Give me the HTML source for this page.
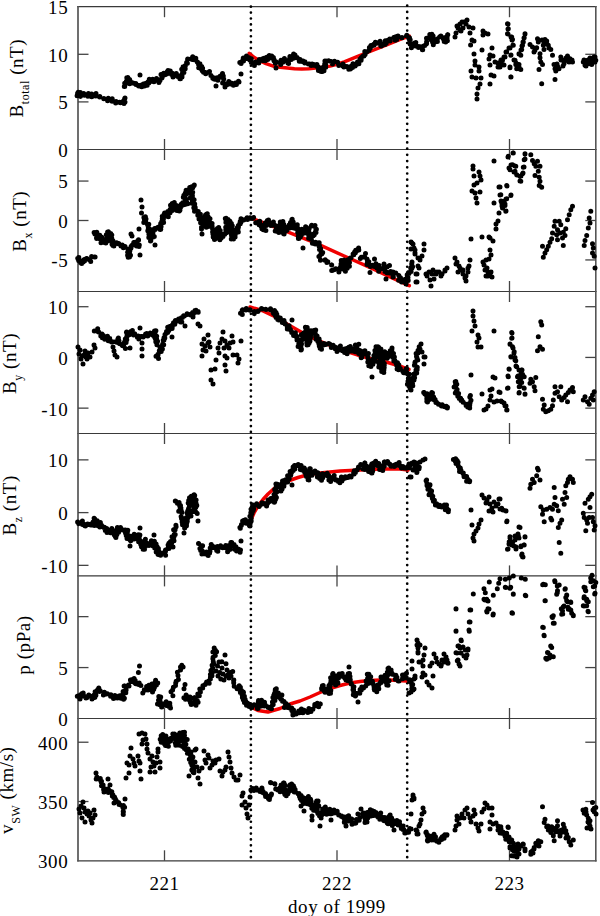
<!DOCTYPE html>
<html><head><meta charset="utf-8"><style>html,body{margin:0;padding:0;background:#fff;}svg{display:block;}</style></head>
<body><svg width="600" height="916" viewBox="0 0 600 916">
<rect width="600" height="916" fill="#fff"/>
<g fill="none" stroke-linecap="butt">
<line x1="77.2" x2="596.5999999999999" y1="6.7" y2="6.7" stroke="#3a3a3a" stroke-width="1.3"/>
<line x1="77.2" x2="596.5999999999999" y1="149.5" y2="149.5" stroke="#3a3a3a" stroke-width="1.1"/>
<line x1="77.2" x2="596.5999999999999" y1="291.5" y2="291.5" stroke="#3a3a3a" stroke-width="1.1"/>
<line x1="77.2" x2="596.5999999999999" y1="433.5" y2="433.5" stroke="#3a3a3a" stroke-width="1.1"/>
<line x1="77.2" x2="596.5999999999999" y1="575.9" y2="575.9" stroke="#3a3a3a" stroke-width="1.1"/>
<line x1="77.2" x2="596.5999999999999" y1="718.5" y2="718.5" stroke="#3a3a3a" stroke-width="1.1"/>
<line x1="77.2" x2="596.5999999999999" y1="860.8" y2="860.8" stroke="#3a3a3a" stroke-width="1.3"/>
<line x1="78.0" x2="78.0" y1="6.1000000000000005" y2="861.4" stroke="#555" stroke-width="1.7"/>
<line x1="595.8" x2="595.8" y1="6.1000000000000005" y2="861.4" stroke="#555" stroke-width="1.6"/>
<g stroke="#444" stroke-width="1.3">
<line x1="164.5" x2="164.5" y1="6.70" y2="17.20"/>
<line x1="164.5" x2="164.5" y1="149.50" y2="139.00"/>
<line x1="337.0" x2="337.0" y1="6.70" y2="17.20"/>
<line x1="337.0" x2="337.0" y1="149.50" y2="139.00"/>
<line x1="509.5" x2="509.5" y1="6.70" y2="17.20"/>
<line x1="509.5" x2="509.5" y1="149.50" y2="139.00"/>
<line x1="78.0" x2="88.5" y1="54.30" y2="54.30"/>
<line x1="595.8" x2="585.3" y1="54.30" y2="54.30"/>
<line x1="78.0" x2="88.5" y1="101.90" y2="101.90"/>
<line x1="595.8" x2="585.3" y1="101.90" y2="101.90"/>
<line x1="164.5" x2="164.5" y1="149.50" y2="160.00"/>
<line x1="164.5" x2="164.5" y1="291.50" y2="281.00"/>
<line x1="337.0" x2="337.0" y1="149.50" y2="160.00"/>
<line x1="337.0" x2="337.0" y1="291.50" y2="281.00"/>
<line x1="509.5" x2="509.5" y1="149.50" y2="160.00"/>
<line x1="509.5" x2="509.5" y1="291.50" y2="281.00"/>
<line x1="78.0" x2="88.5" y1="181.06" y2="181.06"/>
<line x1="595.8" x2="585.3" y1="181.06" y2="181.06"/>
<line x1="78.0" x2="88.5" y1="220.50" y2="220.50"/>
<line x1="595.8" x2="585.3" y1="220.50" y2="220.50"/>
<line x1="78.0" x2="88.5" y1="259.94" y2="259.94"/>
<line x1="595.8" x2="585.3" y1="259.94" y2="259.94"/>
<line x1="164.5" x2="164.5" y1="291.50" y2="302.00"/>
<line x1="164.5" x2="164.5" y1="433.50" y2="423.00"/>
<line x1="337.0" x2="337.0" y1="291.50" y2="302.00"/>
<line x1="337.0" x2="337.0" y1="433.50" y2="423.00"/>
<line x1="509.5" x2="509.5" y1="291.50" y2="302.00"/>
<line x1="509.5" x2="509.5" y1="433.50" y2="423.00"/>
<line x1="78.0" x2="88.5" y1="306.71" y2="306.71"/>
<line x1="595.8" x2="585.3" y1="306.71" y2="306.71"/>
<line x1="78.0" x2="88.5" y1="357.43" y2="357.43"/>
<line x1="595.8" x2="585.3" y1="357.43" y2="357.43"/>
<line x1="78.0" x2="88.5" y1="408.14" y2="408.14"/>
<line x1="595.8" x2="585.3" y1="408.14" y2="408.14"/>
<line x1="164.5" x2="164.5" y1="433.50" y2="444.00"/>
<line x1="164.5" x2="164.5" y1="575.90" y2="565.40"/>
<line x1="337.0" x2="337.0" y1="433.50" y2="444.00"/>
<line x1="337.0" x2="337.0" y1="575.90" y2="565.40"/>
<line x1="509.5" x2="509.5" y1="433.50" y2="444.00"/>
<line x1="509.5" x2="509.5" y1="575.90" y2="565.40"/>
<line x1="78.0" x2="88.5" y1="459.87" y2="459.87"/>
<line x1="595.8" x2="585.3" y1="459.87" y2="459.87"/>
<line x1="78.0" x2="88.5" y1="512.61" y2="512.61"/>
<line x1="595.8" x2="585.3" y1="512.61" y2="512.61"/>
<line x1="78.0" x2="88.5" y1="565.35" y2="565.35"/>
<line x1="595.8" x2="585.3" y1="565.35" y2="565.35"/>
<line x1="164.5" x2="164.5" y1="575.90" y2="586.40"/>
<line x1="164.5" x2="164.5" y1="718.50" y2="708.00"/>
<line x1="337.0" x2="337.0" y1="575.90" y2="586.40"/>
<line x1="337.0" x2="337.0" y1="718.50" y2="708.00"/>
<line x1="509.5" x2="509.5" y1="575.90" y2="586.40"/>
<line x1="509.5" x2="509.5" y1="718.50" y2="708.00"/>
<line x1="78.0" x2="88.5" y1="616.64" y2="616.64"/>
<line x1="595.8" x2="585.3" y1="616.64" y2="616.64"/>
<line x1="78.0" x2="88.5" y1="667.57" y2="667.57"/>
<line x1="595.8" x2="585.3" y1="667.57" y2="667.57"/>
<line x1="164.5" x2="164.5" y1="718.50" y2="729.00"/>
<line x1="164.5" x2="164.5" y1="860.80" y2="850.30"/>
<line x1="337.0" x2="337.0" y1="718.50" y2="729.00"/>
<line x1="337.0" x2="337.0" y1="860.80" y2="850.30"/>
<line x1="509.5" x2="509.5" y1="718.50" y2="729.00"/>
<line x1="509.5" x2="509.5" y1="860.80" y2="850.30"/>
<line x1="78.0" x2="88.5" y1="742.22" y2="742.22"/>
<line x1="595.8" x2="585.3" y1="742.22" y2="742.22"/>
<line x1="78.0" x2="88.5" y1="801.51" y2="801.51"/>
<line x1="595.8" x2="585.3" y1="801.51" y2="801.51"/>
</g></g>
<line x1="250.9" x2="250.9" y1="6.7" y2="861" stroke="#000" stroke-width="2.7" stroke-linecap="round" stroke-dasharray="0 5.906"/>
<line x1="407.2" x2="407.2" y1="5.7" y2="861" stroke="#000" stroke-width="2.7" stroke-linecap="round" stroke-dasharray="0 6.215"/>
<g fill="none" stroke="#f00000" stroke-width="3.5" stroke-linecap="round" stroke-linejoin="round"><path d="M249.2,53.3 L254,57.3 L259.2,60.4 L266,63.6 L273.3,66.1 L280,67.3 L287.5,68.1 L294.5,68.7 L301.7,68.9 L308.7,68.7 L315.8,68.1 L323,67.3 L330,66.1 L337,64.2 L344.2,61.8 L351,59.1 L358.3,56.2 L372.5,50.5 L386.6,44.8 L400.8,39.2 L409.3,36"/><path d="M251,218 L265,223.4 L287.5,231.9 L315.8,243.2 L344.2,256 L372.5,268.7 L390,277 L409.3,285.7"/><path d="M250,307 L262,310.5 L273,315.6 L287,324 L302,332.6 L316,339.5 L330,345.3 L344,350.5 L358,355.2 L372,359 L387,362.3 L398,365.5 L409,369.4"/><path d="M250,522 L254,513 L258,506 L263,499.5 L268,494 L273,489.5 L278,486 L283,483.2 L288,481 L298,477.5 L306,475.3 L310,474.4 L320,473 L340,471 L360,470 L380,469 L400,469 L408,470"/><path d="M251,707 L258,710.5 L268,712 L280,708.5 L290,704 L300,701 L310,697 L320,692.5 L330,688.5 L340,685.5 L350,683 L360,681.6 L370,680.4 L380,680 L390,680 L406,681"/></g><path fill="#000" d="M75.0,94.5a2.5,2.5 0 1,0 5.0,0a2.5,2.5 0 1,0 -5.0,0M75.1,93.3a2.5,2.5 0 1,0 5.0,0a2.5,2.5 0 1,0 -5.0,0M77.7,92.4a2.5,2.5 0 1,0 5.0,0a2.5,2.5 0 1,0 -5.0,0M77.1,93.8a2.5,2.5 0 1,0 5.0,0a2.5,2.5 0 1,0 -5.0,0M81.9,94.3a2.5,2.5 0 1,0 5.0,0a2.5,2.5 0 1,0 -5.0,0M81.8,94.4a2.5,2.5 0 1,0 5.0,0a2.5,2.5 0 1,0 -5.0,0M85.4,96.3a2.5,2.5 0 1,0 5.0,0a2.5,2.5 0 1,0 -5.0,0M85.9,93.6a2.5,2.5 0 1,0 5.0,0a2.5,2.5 0 1,0 -5.0,0M89.1,94.0a2.5,2.5 0 1,0 5.0,0a2.5,2.5 0 1,0 -5.0,0M89.2,96.8a2.5,2.5 0 1,0 5.0,0a2.5,2.5 0 1,0 -5.0,0M93.2,96.1a2.5,2.5 0 1,0 5.0,0a2.5,2.5 0 1,0 -5.0,0M93.5,93.6a2.5,2.5 0 1,0 5.0,0a2.5,2.5 0 1,0 -5.0,0M97.2,97.0a2.5,2.5 0 1,0 5.0,0a2.5,2.5 0 1,0 -5.0,0M97.3,96.6a2.5,2.5 0 1,0 5.0,0a2.5,2.5 0 1,0 -5.0,0M101.3,98.8a2.5,2.5 0 1,0 5.0,0a2.5,2.5 0 1,0 -5.0,0M101.4,98.6a2.5,2.5 0 1,0 5.0,0a2.5,2.5 0 1,0 -5.0,0M105.1,100.8a2.5,2.5 0 1,0 5.0,0a2.5,2.5 0 1,0 -5.0,0M105.8,98.3a2.5,2.5 0 1,0 5.0,0a2.5,2.5 0 1,0 -5.0,0M109.7,98.7a2.5,2.5 0 1,0 5.0,0a2.5,2.5 0 1,0 -5.0,0M109.6,101.2a2.5,2.5 0 1,0 5.0,0a2.5,2.5 0 1,0 -5.0,0M113.2,102.9a2.5,2.5 0 1,0 5.0,0a2.5,2.5 0 1,0 -5.0,0M113.6,101.6a2.5,2.5 0 1,0 5.0,0a2.5,2.5 0 1,0 -5.0,0M117.9,102.8a2.5,2.5 0 1,0 5.0,0a2.5,2.5 0 1,0 -5.0,0M117.1,102.3a2.5,2.5 0 1,0 5.0,0a2.5,2.5 0 1,0 -5.0,0M122.5,102.1a2.5,2.5 0 1,0 5.0,0a2.5,2.5 0 1,0 -5.0,0M120.7,101.2a2.5,2.5 0 1,0 5.0,0a2.5,2.5 0 1,0 -5.0,0M122.5,97.9a2.5,2.5 0 1,0 5.0,0a2.5,2.5 0 1,0 -5.0,0M122.1,98.8a2.5,2.5 0 1,0 5.0,0a2.5,2.5 0 1,0 -5.0,0M75.7,92.2a2.5,2.5 0 1,0 5.0,0a2.5,2.5 0 1,0 -5.0,0M74.6,95.7a2.5,2.5 0 1,0 5.0,0a2.5,2.5 0 1,0 -5.0,0M78.8,95.3a2.5,2.5 0 1,0 5.0,0a2.5,2.5 0 1,0 -5.0,0M77.9,96.4a2.5,2.5 0 1,0 5.0,0a2.5,2.5 0 1,0 -5.0,0M81.9,95.3a2.5,2.5 0 1,0 5.0,0a2.5,2.5 0 1,0 -5.0,0M81.2,93.6a2.5,2.5 0 1,0 5.0,0a2.5,2.5 0 1,0 -5.0,0M121.5,103.4a2.5,2.5 0 1,0 5.0,0a2.5,2.5 0 1,0 -5.0,0M119.5,102.5a2.5,2.5 0 1,0 5.0,0a2.5,2.5 0 1,0 -5.0,0M122.2,86.6a2.5,2.5 0 1,0 5.0,0a2.5,2.5 0 1,0 -5.0,0M121.8,86.5a2.5,2.5 0 1,0 5.0,0a2.5,2.5 0 1,0 -5.0,0M122.2,83.3a2.5,2.5 0 1,0 5.0,0a2.5,2.5 0 1,0 -5.0,0M123.1,83.4a2.5,2.5 0 1,0 5.0,0a2.5,2.5 0 1,0 -5.0,0M123.9,81.2a2.5,2.5 0 1,0 5.0,0a2.5,2.5 0 1,0 -5.0,0M125.0,81.2a2.5,2.5 0 1,0 5.0,0a2.5,2.5 0 1,0 -5.0,0M125.3,77.4a2.5,2.5 0 1,0 5.0,0a2.5,2.5 0 1,0 -5.0,0M124.3,77.8a2.5,2.5 0 1,0 5.0,0a2.5,2.5 0 1,0 -5.0,0M126.8,79.9a2.5,2.5 0 1,0 5.0,0a2.5,2.5 0 1,0 -5.0,0M127.1,79.5a2.5,2.5 0 1,0 5.0,0a2.5,2.5 0 1,0 -5.0,0M127.8,81.3a2.5,2.5 0 1,0 5.0,0a2.5,2.5 0 1,0 -5.0,0M127.2,83.8a2.5,2.5 0 1,0 5.0,0a2.5,2.5 0 1,0 -5.0,0M130.6,83.1a2.5,2.5 0 1,0 5.0,0a2.5,2.5 0 1,0 -5.0,0M131.2,83.3a2.5,2.5 0 1,0 5.0,0a2.5,2.5 0 1,0 -5.0,0M133.5,84.5a2.5,2.5 0 1,0 5.0,0a2.5,2.5 0 1,0 -5.0,0M133.3,83.5a2.5,2.5 0 1,0 5.0,0a2.5,2.5 0 1,0 -5.0,0M135.8,85.6a2.5,2.5 0 1,0 5.0,0a2.5,2.5 0 1,0 -5.0,0M136.2,86.1a2.5,2.5 0 1,0 5.0,0a2.5,2.5 0 1,0 -5.0,0M138.4,85.2a2.5,2.5 0 1,0 5.0,0a2.5,2.5 0 1,0 -5.0,0M139.2,86.8a2.5,2.5 0 1,0 5.0,0a2.5,2.5 0 1,0 -5.0,0M140.9,84.0a2.5,2.5 0 1,0 5.0,0a2.5,2.5 0 1,0 -5.0,0M142.0,86.0a2.5,2.5 0 1,0 5.0,0a2.5,2.5 0 1,0 -5.0,0M142.9,83.5a2.5,2.5 0 1,0 5.0,0a2.5,2.5 0 1,0 -5.0,0M144.7,85.3a2.5,2.5 0 1,0 5.0,0a2.5,2.5 0 1,0 -5.0,0M146.3,82.9a2.5,2.5 0 1,0 5.0,0a2.5,2.5 0 1,0 -5.0,0M145.4,81.9a2.5,2.5 0 1,0 5.0,0a2.5,2.5 0 1,0 -5.0,0M146.8,79.3a2.5,2.5 0 1,0 5.0,0a2.5,2.5 0 1,0 -5.0,0M148.2,81.5a2.5,2.5 0 1,0 5.0,0a2.5,2.5 0 1,0 -5.0,0M151.4,81.8a2.5,2.5 0 1,0 5.0,0a2.5,2.5 0 1,0 -5.0,0M150.1,79.3a2.5,2.5 0 1,0 5.0,0a2.5,2.5 0 1,0 -5.0,0M154.0,78.6a2.5,2.5 0 1,0 5.0,0a2.5,2.5 0 1,0 -5.0,0M152.7,79.7a2.5,2.5 0 1,0 5.0,0a2.5,2.5 0 1,0 -5.0,0M156.2,81.8a2.5,2.5 0 1,0 5.0,0a2.5,2.5 0 1,0 -5.0,0M156.4,82.5a2.5,2.5 0 1,0 5.0,0a2.5,2.5 0 1,0 -5.0,0M157.5,79.8a2.5,2.5 0 1,0 5.0,0a2.5,2.5 0 1,0 -5.0,0M157.5,80.4a2.5,2.5 0 1,0 5.0,0a2.5,2.5 0 1,0 -5.0,0M159.4,78.0a2.5,2.5 0 1,0 5.0,0a2.5,2.5 0 1,0 -5.0,0M159.7,77.7a2.5,2.5 0 1,0 5.0,0a2.5,2.5 0 1,0 -5.0,0M158.5,74.4a2.5,2.5 0 1,0 5.0,0a2.5,2.5 0 1,0 -5.0,0M159.7,76.2a2.5,2.5 0 1,0 5.0,0a2.5,2.5 0 1,0 -5.0,0M162.5,74.8a2.5,2.5 0 1,0 5.0,0a2.5,2.5 0 1,0 -5.0,0M161.2,73.3a2.5,2.5 0 1,0 5.0,0a2.5,2.5 0 1,0 -5.0,0M164.5,73.7a2.5,2.5 0 1,0 5.0,0a2.5,2.5 0 1,0 -5.0,0M164.2,73.9a2.5,2.5 0 1,0 5.0,0a2.5,2.5 0 1,0 -5.0,0M164.7,71.7a2.5,2.5 0 1,0 5.0,0a2.5,2.5 0 1,0 -5.0,0M165.5,70.5a2.5,2.5 0 1,0 5.0,0a2.5,2.5 0 1,0 -5.0,0M167.8,70.9a2.5,2.5 0 1,0 5.0,0a2.5,2.5 0 1,0 -5.0,0M166.7,73.2a2.5,2.5 0 1,0 5.0,0a2.5,2.5 0 1,0 -5.0,0M169.8,73.2a2.5,2.5 0 1,0 5.0,0a2.5,2.5 0 1,0 -5.0,0M169.2,74.4a2.5,2.5 0 1,0 5.0,0a2.5,2.5 0 1,0 -5.0,0M173.0,74.0a2.5,2.5 0 1,0 5.0,0a2.5,2.5 0 1,0 -5.0,0M173.8,73.6a2.5,2.5 0 1,0 5.0,0a2.5,2.5 0 1,0 -5.0,0M176.3,76.0a2.5,2.5 0 1,0 5.0,0a2.5,2.5 0 1,0 -5.0,0M175.2,76.6a2.5,2.5 0 1,0 5.0,0a2.5,2.5 0 1,0 -5.0,0M178.0,78.7a2.5,2.5 0 1,0 5.0,0a2.5,2.5 0 1,0 -5.0,0M177.4,78.8a2.5,2.5 0 1,0 5.0,0a2.5,2.5 0 1,0 -5.0,0M179.1,77.1a2.5,2.5 0 1,0 5.0,0a2.5,2.5 0 1,0 -5.0,0M179.5,77.0a2.5,2.5 0 1,0 5.0,0a2.5,2.5 0 1,0 -5.0,0M179.4,74.6a2.5,2.5 0 1,0 5.0,0a2.5,2.5 0 1,0 -5.0,0M179.6,74.7a2.5,2.5 0 1,0 5.0,0a2.5,2.5 0 1,0 -5.0,0M180.1,72.4a2.5,2.5 0 1,0 5.0,0a2.5,2.5 0 1,0 -5.0,0M181.4,72.4a2.5,2.5 0 1,0 5.0,0a2.5,2.5 0 1,0 -5.0,0M181.1,70.5a2.5,2.5 0 1,0 5.0,0a2.5,2.5 0 1,0 -5.0,0M179.2,69.2a2.5,2.5 0 1,0 5.0,0a2.5,2.5 0 1,0 -5.0,0M180.6,66.7a2.5,2.5 0 1,0 5.0,0a2.5,2.5 0 1,0 -5.0,0M182.7,68.7a2.5,2.5 0 1,0 5.0,0a2.5,2.5 0 1,0 -5.0,0M182.6,65.8a2.5,2.5 0 1,0 5.0,0a2.5,2.5 0 1,0 -5.0,0M182.8,66.1a2.5,2.5 0 1,0 5.0,0a2.5,2.5 0 1,0 -5.0,0M184.1,62.6a2.5,2.5 0 1,0 5.0,0a2.5,2.5 0 1,0 -5.0,0M184.9,63.3a2.5,2.5 0 1,0 5.0,0a2.5,2.5 0 1,0 -5.0,0M185.2,58.9a2.5,2.5 0 1,0 5.0,0a2.5,2.5 0 1,0 -5.0,0M185.1,59.3a2.5,2.5 0 1,0 5.0,0a2.5,2.5 0 1,0 -5.0,0M189.7,59.4a2.5,2.5 0 1,0 5.0,0a2.5,2.5 0 1,0 -5.0,0M188.8,58.7a2.5,2.5 0 1,0 5.0,0a2.5,2.5 0 1,0 -5.0,0M190.2,56.8a2.5,2.5 0 1,0 5.0,0a2.5,2.5 0 1,0 -5.0,0M189.5,58.5a2.5,2.5 0 1,0 5.0,0a2.5,2.5 0 1,0 -5.0,0M193.3,58.2a2.5,2.5 0 1,0 5.0,0a2.5,2.5 0 1,0 -5.0,0M191.6,59.7a2.5,2.5 0 1,0 5.0,0a2.5,2.5 0 1,0 -5.0,0M195.1,62.2a2.5,2.5 0 1,0 5.0,0a2.5,2.5 0 1,0 -5.0,0M194.8,62.0a2.5,2.5 0 1,0 5.0,0a2.5,2.5 0 1,0 -5.0,0M196.0,64.2a2.5,2.5 0 1,0 5.0,0a2.5,2.5 0 1,0 -5.0,0M197.4,63.7a2.5,2.5 0 1,0 5.0,0a2.5,2.5 0 1,0 -5.0,0M199.2,66.5a2.5,2.5 0 1,0 5.0,0a2.5,2.5 0 1,0 -5.0,0M196.2,67.8a2.5,2.5 0 1,0 5.0,0a2.5,2.5 0 1,0 -5.0,0M200.1,68.3a2.5,2.5 0 1,0 5.0,0a2.5,2.5 0 1,0 -5.0,0M199.0,69.2a2.5,2.5 0 1,0 5.0,0a2.5,2.5 0 1,0 -5.0,0M199.8,70.7a2.5,2.5 0 1,0 5.0,0a2.5,2.5 0 1,0 -5.0,0M199.9,70.3a2.5,2.5 0 1,0 5.0,0a2.5,2.5 0 1,0 -5.0,0M200.7,71.4a2.5,2.5 0 1,0 5.0,0a2.5,2.5 0 1,0 -5.0,0M201.0,72.2a2.5,2.5 0 1,0 5.0,0a2.5,2.5 0 1,0 -5.0,0M203.2,73.8a2.5,2.5 0 1,0 5.0,0a2.5,2.5 0 1,0 -5.0,0M202.4,72.2a2.5,2.5 0 1,0 5.0,0a2.5,2.5 0 1,0 -5.0,0M206.0,72.2a2.5,2.5 0 1,0 5.0,0a2.5,2.5 0 1,0 -5.0,0M207.0,71.5a2.5,2.5 0 1,0 5.0,0a2.5,2.5 0 1,0 -5.0,0M208.5,75.5a2.5,2.5 0 1,0 5.0,0a2.5,2.5 0 1,0 -5.0,0M208.4,75.6a2.5,2.5 0 1,0 5.0,0a2.5,2.5 0 1,0 -5.0,0M211.0,77.7a2.5,2.5 0 1,0 5.0,0a2.5,2.5 0 1,0 -5.0,0M210.3,78.2a2.5,2.5 0 1,0 5.0,0a2.5,2.5 0 1,0 -5.0,0M212.2,79.3a2.5,2.5 0 1,0 5.0,0a2.5,2.5 0 1,0 -5.0,0M211.5,79.1a2.5,2.5 0 1,0 5.0,0a2.5,2.5 0 1,0 -5.0,0M213.8,77.9a2.5,2.5 0 1,0 5.0,0a2.5,2.5 0 1,0 -5.0,0M215.4,80.2a2.5,2.5 0 1,0 5.0,0a2.5,2.5 0 1,0 -5.0,0M215.7,77.4a2.5,2.5 0 1,0 5.0,0a2.5,2.5 0 1,0 -5.0,0M216.1,77.9a2.5,2.5 0 1,0 5.0,0a2.5,2.5 0 1,0 -5.0,0M217.8,76.0a2.5,2.5 0 1,0 5.0,0a2.5,2.5 0 1,0 -5.0,0M217.9,76.6a2.5,2.5 0 1,0 5.0,0a2.5,2.5 0 1,0 -5.0,0M220.0,73.4a2.5,2.5 0 1,0 5.0,0a2.5,2.5 0 1,0 -5.0,0M219.9,74.0a2.5,2.5 0 1,0 5.0,0a2.5,2.5 0 1,0 -5.0,0M220.8,76.0a2.5,2.5 0 1,0 5.0,0a2.5,2.5 0 1,0 -5.0,0M220.2,76.5a2.5,2.5 0 1,0 5.0,0a2.5,2.5 0 1,0 -5.0,0M221.2,78.9a2.5,2.5 0 1,0 5.0,0a2.5,2.5 0 1,0 -5.0,0M221.1,79.3a2.5,2.5 0 1,0 5.0,0a2.5,2.5 0 1,0 -5.0,0M220.5,83.0a2.5,2.5 0 1,0 5.0,0a2.5,2.5 0 1,0 -5.0,0M220.1,83.0a2.5,2.5 0 1,0 5.0,0a2.5,2.5 0 1,0 -5.0,0M225.0,84.6a2.5,2.5 0 1,0 5.0,0a2.5,2.5 0 1,0 -5.0,0M224.3,83.7a2.5,2.5 0 1,0 5.0,0a2.5,2.5 0 1,0 -5.0,0M226.6,82.0a2.5,2.5 0 1,0 5.0,0a2.5,2.5 0 1,0 -5.0,0M226.3,81.6a2.5,2.5 0 1,0 5.0,0a2.5,2.5 0 1,0 -5.0,0M229.3,83.3a2.5,2.5 0 1,0 5.0,0a2.5,2.5 0 1,0 -5.0,0M228.2,84.0a2.5,2.5 0 1,0 5.0,0a2.5,2.5 0 1,0 -5.0,0M230.9,85.3a2.5,2.5 0 1,0 5.0,0a2.5,2.5 0 1,0 -5.0,0M229.6,83.4a2.5,2.5 0 1,0 5.0,0a2.5,2.5 0 1,0 -5.0,0M232.9,83.1a2.5,2.5 0 1,0 5.0,0a2.5,2.5 0 1,0 -5.0,0M233.9,84.5a2.5,2.5 0 1,0 5.0,0a2.5,2.5 0 1,0 -5.0,0M236.0,81.3a2.5,2.5 0 1,0 5.0,0a2.5,2.5 0 1,0 -5.0,0M236.5,81.9a2.5,2.5 0 1,0 5.0,0a2.5,2.5 0 1,0 -5.0,0M137.5,75.0a2.5,2.5 0 1,0 5.0,0a2.5,2.5 0 1,0 -5.0,0M170.5,77.0a2.5,2.5 0 1,0 5.0,0a2.5,2.5 0 1,0 -5.0,0M213.5,86.0a2.5,2.5 0 1,0 5.0,0a2.5,2.5 0 1,0 -5.0,0M222.5,87.0a2.5,2.5 0 1,0 5.0,0a2.5,2.5 0 1,0 -5.0,0M238.5,74.0a2.5,2.5 0 1,0 5.0,0a2.5,2.5 0 1,0 -5.0,0M273.5,68.0a2.5,2.5 0 1,0 5.0,0a2.5,2.5 0 1,0 -5.0,0M238.6,63.4a2.5,2.5 0 1,0 5.0,0a2.5,2.5 0 1,0 -5.0,0M237.3,62.5a2.5,2.5 0 1,0 5.0,0a2.5,2.5 0 1,0 -5.0,0M239.9,61.0a2.5,2.5 0 1,0 5.0,0a2.5,2.5 0 1,0 -5.0,0M241.0,61.0a2.5,2.5 0 1,0 5.0,0a2.5,2.5 0 1,0 -5.0,0M240.7,58.2a2.5,2.5 0 1,0 5.0,0a2.5,2.5 0 1,0 -5.0,0M240.8,57.9a2.5,2.5 0 1,0 5.0,0a2.5,2.5 0 1,0 -5.0,0M244.0,56.3a2.5,2.5 0 1,0 5.0,0a2.5,2.5 0 1,0 -5.0,0M244.0,56.0a2.5,2.5 0 1,0 5.0,0a2.5,2.5 0 1,0 -5.0,0M246.1,57.5a2.5,2.5 0 1,0 5.0,0a2.5,2.5 0 1,0 -5.0,0M245.3,58.8a2.5,2.5 0 1,0 5.0,0a2.5,2.5 0 1,0 -5.0,0M247.4,60.0a2.5,2.5 0 1,0 5.0,0a2.5,2.5 0 1,0 -5.0,0M248.8,58.8a2.5,2.5 0 1,0 5.0,0a2.5,2.5 0 1,0 -5.0,0M248.8,62.6a2.5,2.5 0 1,0 5.0,0a2.5,2.5 0 1,0 -5.0,0M249.9,62.4a2.5,2.5 0 1,0 5.0,0a2.5,2.5 0 1,0 -5.0,0M251.2,63.6a2.5,2.5 0 1,0 5.0,0a2.5,2.5 0 1,0 -5.0,0M251.9,65.4a2.5,2.5 0 1,0 5.0,0a2.5,2.5 0 1,0 -5.0,0M253.0,62.4a2.5,2.5 0 1,0 5.0,0a2.5,2.5 0 1,0 -5.0,0M253.3,61.9a2.5,2.5 0 1,0 5.0,0a2.5,2.5 0 1,0 -5.0,0M256.3,62.9a2.5,2.5 0 1,0 5.0,0a2.5,2.5 0 1,0 -5.0,0M256.1,62.7a2.5,2.5 0 1,0 5.0,0a2.5,2.5 0 1,0 -5.0,0M256.8,59.5a2.5,2.5 0 1,0 5.0,0a2.5,2.5 0 1,0 -5.0,0M256.8,60.3a2.5,2.5 0 1,0 5.0,0a2.5,2.5 0 1,0 -5.0,0M259.6,58.9a2.5,2.5 0 1,0 5.0,0a2.5,2.5 0 1,0 -5.0,0M260.1,60.4a2.5,2.5 0 1,0 5.0,0a2.5,2.5 0 1,0 -5.0,0M262.7,60.7a2.5,2.5 0 1,0 5.0,0a2.5,2.5 0 1,0 -5.0,0M261.6,58.2a2.5,2.5 0 1,0 5.0,0a2.5,2.5 0 1,0 -5.0,0M265.2,59.4a2.5,2.5 0 1,0 5.0,0a2.5,2.5 0 1,0 -5.0,0M264.2,57.3a2.5,2.5 0 1,0 5.0,0a2.5,2.5 0 1,0 -5.0,0M266.8,55.6a2.5,2.5 0 1,0 5.0,0a2.5,2.5 0 1,0 -5.0,0M267.3,58.1a2.5,2.5 0 1,0 5.0,0a2.5,2.5 0 1,0 -5.0,0M269.2,55.9a2.5,2.5 0 1,0 5.0,0a2.5,2.5 0 1,0 -5.0,0M268.6,57.1a2.5,2.5 0 1,0 5.0,0a2.5,2.5 0 1,0 -5.0,0M270.9,58.7a2.5,2.5 0 1,0 5.0,0a2.5,2.5 0 1,0 -5.0,0M270.9,57.6a2.5,2.5 0 1,0 5.0,0a2.5,2.5 0 1,0 -5.0,0M271.5,60.7a2.5,2.5 0 1,0 5.0,0a2.5,2.5 0 1,0 -5.0,0M271.6,59.8a2.5,2.5 0 1,0 5.0,0a2.5,2.5 0 1,0 -5.0,0M272.8,63.3a2.5,2.5 0 1,0 5.0,0a2.5,2.5 0 1,0 -5.0,0M273.4,61.7a2.5,2.5 0 1,0 5.0,0a2.5,2.5 0 1,0 -5.0,0M278.2,64.4a2.5,2.5 0 1,0 5.0,0a2.5,2.5 0 1,0 -5.0,0M277.2,62.4a2.5,2.5 0 1,0 5.0,0a2.5,2.5 0 1,0 -5.0,0M278.5,60.3a2.5,2.5 0 1,0 5.0,0a2.5,2.5 0 1,0 -5.0,0M280.3,62.3a2.5,2.5 0 1,0 5.0,0a2.5,2.5 0 1,0 -5.0,0M281.2,61.0a2.5,2.5 0 1,0 5.0,0a2.5,2.5 0 1,0 -5.0,0M281.9,58.6a2.5,2.5 0 1,0 5.0,0a2.5,2.5 0 1,0 -5.0,0M283.4,60.8a2.5,2.5 0 1,0 5.0,0a2.5,2.5 0 1,0 -5.0,0M284.0,61.2a2.5,2.5 0 1,0 5.0,0a2.5,2.5 0 1,0 -5.0,0M286.1,63.4a2.5,2.5 0 1,0 5.0,0a2.5,2.5 0 1,0 -5.0,0M285.4,62.9a2.5,2.5 0 1,0 5.0,0a2.5,2.5 0 1,0 -5.0,0M285.3,60.7a2.5,2.5 0 1,0 5.0,0a2.5,2.5 0 1,0 -5.0,0M285.7,60.5a2.5,2.5 0 1,0 5.0,0a2.5,2.5 0 1,0 -5.0,0M288.7,59.4a2.5,2.5 0 1,0 5.0,0a2.5,2.5 0 1,0 -5.0,0M287.2,58.5a2.5,2.5 0 1,0 5.0,0a2.5,2.5 0 1,0 -5.0,0M290.9,58.2a2.5,2.5 0 1,0 5.0,0a2.5,2.5 0 1,0 -5.0,0M287.4,56.4a2.5,2.5 0 1,0 5.0,0a2.5,2.5 0 1,0 -5.0,0M289.9,56.3a2.5,2.5 0 1,0 5.0,0a2.5,2.5 0 1,0 -5.0,0M291.1,54.0a2.5,2.5 0 1,0 5.0,0a2.5,2.5 0 1,0 -5.0,0M292.4,57.4a2.5,2.5 0 1,0 5.0,0a2.5,2.5 0 1,0 -5.0,0M292.5,54.9a2.5,2.5 0 1,0 5.0,0a2.5,2.5 0 1,0 -5.0,0M294.6,57.5a2.5,2.5 0 1,0 5.0,0a2.5,2.5 0 1,0 -5.0,0M294.1,57.8a2.5,2.5 0 1,0 5.0,0a2.5,2.5 0 1,0 -5.0,0M297.6,59.4a2.5,2.5 0 1,0 5.0,0a2.5,2.5 0 1,0 -5.0,0M296.8,61.2a2.5,2.5 0 1,0 5.0,0a2.5,2.5 0 1,0 -5.0,0M299.6,61.5a2.5,2.5 0 1,0 5.0,0a2.5,2.5 0 1,0 -5.0,0M300.6,61.0a2.5,2.5 0 1,0 5.0,0a2.5,2.5 0 1,0 -5.0,0M302.4,61.8a2.5,2.5 0 1,0 5.0,0a2.5,2.5 0 1,0 -5.0,0M302.3,63.0a2.5,2.5 0 1,0 5.0,0a2.5,2.5 0 1,0 -5.0,0M305.9,64.1a2.5,2.5 0 1,0 5.0,0a2.5,2.5 0 1,0 -5.0,0M307.0,64.0a2.5,2.5 0 1,0 5.0,0a2.5,2.5 0 1,0 -5.0,0M308.7,65.5a2.5,2.5 0 1,0 5.0,0a2.5,2.5 0 1,0 -5.0,0M309.6,63.9a2.5,2.5 0 1,0 5.0,0a2.5,2.5 0 1,0 -5.0,0M311.3,64.4a2.5,2.5 0 1,0 5.0,0a2.5,2.5 0 1,0 -5.0,0M311.2,65.3a2.5,2.5 0 1,0 5.0,0a2.5,2.5 0 1,0 -5.0,0M314.2,66.2a2.5,2.5 0 1,0 5.0,0a2.5,2.5 0 1,0 -5.0,0M314.4,64.5a2.5,2.5 0 1,0 5.0,0a2.5,2.5 0 1,0 -5.0,0M315.6,67.5a2.5,2.5 0 1,0 5.0,0a2.5,2.5 0 1,0 -5.0,0M315.8,67.0a2.5,2.5 0 1,0 5.0,0a2.5,2.5 0 1,0 -5.0,0M315.9,70.4a2.5,2.5 0 1,0 5.0,0a2.5,2.5 0 1,0 -5.0,0M318.0,69.4a2.5,2.5 0 1,0 5.0,0a2.5,2.5 0 1,0 -5.0,0M318.6,71.4a2.5,2.5 0 1,0 5.0,0a2.5,2.5 0 1,0 -5.0,0M317.8,71.0a2.5,2.5 0 1,0 5.0,0a2.5,2.5 0 1,0 -5.0,0M321.5,70.8a2.5,2.5 0 1,0 5.0,0a2.5,2.5 0 1,0 -5.0,0M319.9,71.4a2.5,2.5 0 1,0 5.0,0a2.5,2.5 0 1,0 -5.0,0M319.7,67.9a2.5,2.5 0 1,0 5.0,0a2.5,2.5 0 1,0 -5.0,0M321.3,69.0a2.5,2.5 0 1,0 5.0,0a2.5,2.5 0 1,0 -5.0,0M323.2,67.2a2.5,2.5 0 1,0 5.0,0a2.5,2.5 0 1,0 -5.0,0M321.2,66.8a2.5,2.5 0 1,0 5.0,0a2.5,2.5 0 1,0 -5.0,0M323.1,64.7a2.5,2.5 0 1,0 5.0,0a2.5,2.5 0 1,0 -5.0,0M322.2,64.0a2.5,2.5 0 1,0 5.0,0a2.5,2.5 0 1,0 -5.0,0M322.4,60.9a2.5,2.5 0 1,0 5.0,0a2.5,2.5 0 1,0 -5.0,0M323.7,61.2a2.5,2.5 0 1,0 5.0,0a2.5,2.5 0 1,0 -5.0,0M325.1,60.9a2.5,2.5 0 1,0 5.0,0a2.5,2.5 0 1,0 -5.0,0M326.1,60.7a2.5,2.5 0 1,0 5.0,0a2.5,2.5 0 1,0 -5.0,0M328.6,61.6a2.5,2.5 0 1,0 5.0,0a2.5,2.5 0 1,0 -5.0,0M330.0,64.0a2.5,2.5 0 1,0 5.0,0a2.5,2.5 0 1,0 -5.0,0M331.1,61.8a2.5,2.5 0 1,0 5.0,0a2.5,2.5 0 1,0 -5.0,0M332.0,61.3a2.5,2.5 0 1,0 5.0,0a2.5,2.5 0 1,0 -5.0,0M335.1,62.3a2.5,2.5 0 1,0 5.0,0a2.5,2.5 0 1,0 -5.0,0M335.3,62.8a2.5,2.5 0 1,0 5.0,0a2.5,2.5 0 1,0 -5.0,0M336.3,64.9a2.5,2.5 0 1,0 5.0,0a2.5,2.5 0 1,0 -5.0,0M336.3,65.6a2.5,2.5 0 1,0 5.0,0a2.5,2.5 0 1,0 -5.0,0M340.5,64.0a2.5,2.5 0 1,0 5.0,0a2.5,2.5 0 1,0 -5.0,0M340.5,65.9a2.5,2.5 0 1,0 5.0,0a2.5,2.5 0 1,0 -5.0,0M341.4,67.0a2.5,2.5 0 1,0 5.0,0a2.5,2.5 0 1,0 -5.0,0M343.0,66.4a2.5,2.5 0 1,0 5.0,0a2.5,2.5 0 1,0 -5.0,0M344.4,66.6a2.5,2.5 0 1,0 5.0,0a2.5,2.5 0 1,0 -5.0,0M344.9,66.7a2.5,2.5 0 1,0 5.0,0a2.5,2.5 0 1,0 -5.0,0M346.3,69.2a2.5,2.5 0 1,0 5.0,0a2.5,2.5 0 1,0 -5.0,0M346.2,68.6a2.5,2.5 0 1,0 5.0,0a2.5,2.5 0 1,0 -5.0,0M347.9,68.9a2.5,2.5 0 1,0 5.0,0a2.5,2.5 0 1,0 -5.0,0M347.1,68.4a2.5,2.5 0 1,0 5.0,0a2.5,2.5 0 1,0 -5.0,0M348.9,66.0a2.5,2.5 0 1,0 5.0,0a2.5,2.5 0 1,0 -5.0,0M350.0,67.6a2.5,2.5 0 1,0 5.0,0a2.5,2.5 0 1,0 -5.0,0M352.6,65.9a2.5,2.5 0 1,0 5.0,0a2.5,2.5 0 1,0 -5.0,0M350.5,63.8a2.5,2.5 0 1,0 5.0,0a2.5,2.5 0 1,0 -5.0,0M353.8,64.4a2.5,2.5 0 1,0 5.0,0a2.5,2.5 0 1,0 -5.0,0M353.5,63.9a2.5,2.5 0 1,0 5.0,0a2.5,2.5 0 1,0 -5.0,0M356.4,63.7a2.5,2.5 0 1,0 5.0,0a2.5,2.5 0 1,0 -5.0,0M355.0,61.9a2.5,2.5 0 1,0 5.0,0a2.5,2.5 0 1,0 -5.0,0M358.6,60.3a2.5,2.5 0 1,0 5.0,0a2.5,2.5 0 1,0 -5.0,0M357.4,59.3a2.5,2.5 0 1,0 5.0,0a2.5,2.5 0 1,0 -5.0,0M358.9,57.6a2.5,2.5 0 1,0 5.0,0a2.5,2.5 0 1,0 -5.0,0M358.9,58.2a2.5,2.5 0 1,0 5.0,0a2.5,2.5 0 1,0 -5.0,0M360.3,56.3a2.5,2.5 0 1,0 5.0,0a2.5,2.5 0 1,0 -5.0,0M361.4,55.9a2.5,2.5 0 1,0 5.0,0a2.5,2.5 0 1,0 -5.0,0M362.3,54.3a2.5,2.5 0 1,0 5.0,0a2.5,2.5 0 1,0 -5.0,0M362.6,54.6a2.5,2.5 0 1,0 5.0,0a2.5,2.5 0 1,0 -5.0,0M362.3,51.6a2.5,2.5 0 1,0 5.0,0a2.5,2.5 0 1,0 -5.0,0M364.1,52.1a2.5,2.5 0 1,0 5.0,0a2.5,2.5 0 1,0 -5.0,0M366.3,50.6a2.5,2.5 0 1,0 5.0,0a2.5,2.5 0 1,0 -5.0,0M366.6,50.3a2.5,2.5 0 1,0 5.0,0a2.5,2.5 0 1,0 -5.0,0M367.8,48.0a2.5,2.5 0 1,0 5.0,0a2.5,2.5 0 1,0 -5.0,0M366.9,47.4a2.5,2.5 0 1,0 5.0,0a2.5,2.5 0 1,0 -5.0,0M369.1,46.0a2.5,2.5 0 1,0 5.0,0a2.5,2.5 0 1,0 -5.0,0M368.4,45.5a2.5,2.5 0 1,0 5.0,0a2.5,2.5 0 1,0 -5.0,0M371.5,45.3a2.5,2.5 0 1,0 5.0,0a2.5,2.5 0 1,0 -5.0,0M371.3,44.2a2.5,2.5 0 1,0 5.0,0a2.5,2.5 0 1,0 -5.0,0M372.9,42.2a2.5,2.5 0 1,0 5.0,0a2.5,2.5 0 1,0 -5.0,0M374.2,43.2a2.5,2.5 0 1,0 5.0,0a2.5,2.5 0 1,0 -5.0,0M377.6,41.2a2.5,2.5 0 1,0 5.0,0a2.5,2.5 0 1,0 -5.0,0M376.9,42.0a2.5,2.5 0 1,0 5.0,0a2.5,2.5 0 1,0 -5.0,0M378.6,43.5a2.5,2.5 0 1,0 5.0,0a2.5,2.5 0 1,0 -5.0,0M378.6,44.3a2.5,2.5 0 1,0 5.0,0a2.5,2.5 0 1,0 -5.0,0M378.9,45.9a2.5,2.5 0 1,0 5.0,0a2.5,2.5 0 1,0 -5.0,0M378.3,45.7a2.5,2.5 0 1,0 5.0,0a2.5,2.5 0 1,0 -5.0,0M381.6,43.7a2.5,2.5 0 1,0 5.0,0a2.5,2.5 0 1,0 -5.0,0M382.4,44.6a2.5,2.5 0 1,0 5.0,0a2.5,2.5 0 1,0 -5.0,0M382.8,40.7a2.5,2.5 0 1,0 5.0,0a2.5,2.5 0 1,0 -5.0,0M383.7,43.3a2.5,2.5 0 1,0 5.0,0a2.5,2.5 0 1,0 -5.0,0M385.3,40.3a2.5,2.5 0 1,0 5.0,0a2.5,2.5 0 1,0 -5.0,0M385.2,40.8a2.5,2.5 0 1,0 5.0,0a2.5,2.5 0 1,0 -5.0,0M387.2,39.1a2.5,2.5 0 1,0 5.0,0a2.5,2.5 0 1,0 -5.0,0M387.6,41.1a2.5,2.5 0 1,0 5.0,0a2.5,2.5 0 1,0 -5.0,0M392.6,40.3a2.5,2.5 0 1,0 5.0,0a2.5,2.5 0 1,0 -5.0,0M391.3,37.6a2.5,2.5 0 1,0 5.0,0a2.5,2.5 0 1,0 -5.0,0M394.2,39.5a2.5,2.5 0 1,0 5.0,0a2.5,2.5 0 1,0 -5.0,0M393.3,36.7a2.5,2.5 0 1,0 5.0,0a2.5,2.5 0 1,0 -5.0,0M395.9,37.0a2.5,2.5 0 1,0 5.0,0a2.5,2.5 0 1,0 -5.0,0M395.5,35.9a2.5,2.5 0 1,0 5.0,0a2.5,2.5 0 1,0 -5.0,0M399.4,37.7a2.5,2.5 0 1,0 5.0,0a2.5,2.5 0 1,0 -5.0,0M399.5,37.6a2.5,2.5 0 1,0 5.0,0a2.5,2.5 0 1,0 -5.0,0M404.0,35.8a2.5,2.5 0 1,0 5.0,0a2.5,2.5 0 1,0 -5.0,0M404.3,35.2a2.5,2.5 0 1,0 5.0,0a2.5,2.5 0 1,0 -5.0,0M406.3,38.3a2.5,2.5 0 1,0 5.0,0a2.5,2.5 0 1,0 -5.0,0M407.0,37.8a2.5,2.5 0 1,0 5.0,0a2.5,2.5 0 1,0 -5.0,0M407.7,39.7a2.5,2.5 0 1,0 5.0,0a2.5,2.5 0 1,0 -5.0,0M407.0,39.9a2.5,2.5 0 1,0 5.0,0a2.5,2.5 0 1,0 -5.0,0M408.3,44.3a2.5,2.5 0 1,0 5.0,0a2.5,2.5 0 1,0 -5.0,0M407.6,43.9a2.5,2.5 0 1,0 5.0,0a2.5,2.5 0 1,0 -5.0,0M409.0,47.6a2.5,2.5 0 1,0 5.0,0a2.5,2.5 0 1,0 -5.0,0M408.9,47.8a2.5,2.5 0 1,0 5.0,0a2.5,2.5 0 1,0 -5.0,0M410.6,45.7a2.5,2.5 0 1,0 5.0,0a2.5,2.5 0 1,0 -5.0,0M410.1,45.1a2.5,2.5 0 1,0 5.0,0a2.5,2.5 0 1,0 -5.0,0M412.0,43.0a2.5,2.5 0 1,0 5.0,0a2.5,2.5 0 1,0 -5.0,0M413.3,42.4a2.5,2.5 0 1,0 5.0,0a2.5,2.5 0 1,0 -5.0,0M413.6,45.9a2.5,2.5 0 1,0 5.0,0a2.5,2.5 0 1,0 -5.0,0M412.9,46.1a2.5,2.5 0 1,0 5.0,0a2.5,2.5 0 1,0 -5.0,0M416.0,47.4a2.5,2.5 0 1,0 5.0,0a2.5,2.5 0 1,0 -5.0,0M416.3,46.4a2.5,2.5 0 1,0 5.0,0a2.5,2.5 0 1,0 -5.0,0M418.0,47.0a2.5,2.5 0 1,0 5.0,0a2.5,2.5 0 1,0 -5.0,0M418.4,46.8a2.5,2.5 0 1,0 5.0,0a2.5,2.5 0 1,0 -5.0,0M419.9,49.7a2.5,2.5 0 1,0 5.0,0a2.5,2.5 0 1,0 -5.0,0M420.2,49.7a2.5,2.5 0 1,0 5.0,0a2.5,2.5 0 1,0 -5.0,0M422.3,45.5a2.5,2.5 0 1,0 5.0,0a2.5,2.5 0 1,0 -5.0,0M421.2,46.1a2.5,2.5 0 1,0 5.0,0a2.5,2.5 0 1,0 -5.0,0M424.1,43.5a2.5,2.5 0 1,0 5.0,0a2.5,2.5 0 1,0 -5.0,0M423.7,44.0a2.5,2.5 0 1,0 5.0,0a2.5,2.5 0 1,0 -5.0,0M424.1,41.8a2.5,2.5 0 1,0 5.0,0a2.5,2.5 0 1,0 -5.0,0M424.1,41.8a2.5,2.5 0 1,0 5.0,0a2.5,2.5 0 1,0 -5.0,0M424.0,38.3a2.5,2.5 0 1,0 5.0,0a2.5,2.5 0 1,0 -5.0,0M424.5,38.5a2.5,2.5 0 1,0 5.0,0a2.5,2.5 0 1,0 -5.0,0M427.8,37.4a2.5,2.5 0 1,0 5.0,0a2.5,2.5 0 1,0 -5.0,0M427.1,36.7a2.5,2.5 0 1,0 5.0,0a2.5,2.5 0 1,0 -5.0,0M427.3,34.6a2.5,2.5 0 1,0 5.0,0a2.5,2.5 0 1,0 -5.0,0M429.4,34.2a2.5,2.5 0 1,0 5.0,0a2.5,2.5 0 1,0 -5.0,0M429.4,36.9a2.5,2.5 0 1,0 5.0,0a2.5,2.5 0 1,0 -5.0,0M430.6,36.1a2.5,2.5 0 1,0 5.0,0a2.5,2.5 0 1,0 -5.0,0M430.1,40.1a2.5,2.5 0 1,0 5.0,0a2.5,2.5 0 1,0 -5.0,0M428.9,40.0a2.5,2.5 0 1,0 5.0,0a2.5,2.5 0 1,0 -5.0,0M430.0,42.1a2.5,2.5 0 1,0 5.0,0a2.5,2.5 0 1,0 -5.0,0M431.1,42.3a2.5,2.5 0 1,0 5.0,0a2.5,2.5 0 1,0 -5.0,0M430.8,44.7a2.5,2.5 0 1,0 5.0,0a2.5,2.5 0 1,0 -5.0,0M430.8,44.5a2.5,2.5 0 1,0 5.0,0a2.5,2.5 0 1,0 -5.0,0M431.9,42.2a2.5,2.5 0 1,0 5.0,0a2.5,2.5 0 1,0 -5.0,0M431.1,42.6a2.5,2.5 0 1,0 5.0,0a2.5,2.5 0 1,0 -5.0,0M434.9,41.4a2.5,2.5 0 1,0 5.0,0a2.5,2.5 0 1,0 -5.0,0M432.3,40.8a2.5,2.5 0 1,0 5.0,0a2.5,2.5 0 1,0 -5.0,0M434.5,39.3a2.5,2.5 0 1,0 5.0,0a2.5,2.5 0 1,0 -5.0,0M434.8,39.1a2.5,2.5 0 1,0 5.0,0a2.5,2.5 0 1,0 -5.0,0M438.4,35.9a2.5,2.5 0 1,0 5.0,0a2.5,2.5 0 1,0 -5.0,0M437.3,36.8a2.5,2.5 0 1,0 5.0,0a2.5,2.5 0 1,0 -5.0,0M442.0,37.7a2.5,2.5 0 1,0 5.0,0a2.5,2.5 0 1,0 -5.0,0M440.8,38.7a2.5,2.5 0 1,0 5.0,0a2.5,2.5 0 1,0 -5.0,0M441.7,41.6a2.5,2.5 0 1,0 5.0,0a2.5,2.5 0 1,0 -5.0,0M443.2,41.9a2.5,2.5 0 1,0 5.0,0a2.5,2.5 0 1,0 -5.0,0M442.7,39.3a2.5,2.5 0 1,0 5.0,0a2.5,2.5 0 1,0 -5.0,0M444.9,40.8a2.5,2.5 0 1,0 5.0,0a2.5,2.5 0 1,0 -5.0,0M443.4,37.5a2.5,2.5 0 1,0 5.0,0a2.5,2.5 0 1,0 -5.0,0M444.6,37.9a2.5,2.5 0 1,0 5.0,0a2.5,2.5 0 1,0 -5.0,0M445.1,34.8a2.5,2.5 0 1,0 5.0,0a2.5,2.5 0 1,0 -5.0,0M445.3,34.7a2.5,2.5 0 1,0 5.0,0a2.5,2.5 0 1,0 -5.0,0M452.5,37.0a2.5,2.5 0 1,0 5.0,0a2.5,2.5 0 1,0 -5.0,0M454.5,26.0a2.5,2.5 0 1,0 5.0,0a2.5,2.5 0 1,0 -5.0,0M457.5,24.0a2.5,2.5 0 1,0 5.0,0a2.5,2.5 0 1,0 -5.0,0M458.5,31.0a2.5,2.5 0 1,0 5.0,0a2.5,2.5 0 1,0 -5.0,0M461.5,22.0a2.5,2.5 0 1,0 5.0,0a2.5,2.5 0 1,0 -5.0,0M464.5,20.0a2.5,2.5 0 1,0 5.0,0a2.5,2.5 0 1,0 -5.0,0M466.5,27.0a2.5,2.5 0 1,0 5.0,0a2.5,2.5 0 1,0 -5.0,0M470.5,28.0a2.5,2.5 0 1,0 5.0,0a2.5,2.5 0 1,0 -5.0,0M467.5,33.0a2.5,2.5 0 1,0 5.0,0a2.5,2.5 0 1,0 -5.0,0M469.5,40.0a2.5,2.5 0 1,0 5.0,0a2.5,2.5 0 1,0 -5.0,0M471.5,41.0a2.5,2.5 0 1,0 5.0,0a2.5,2.5 0 1,0 -5.0,0M468.1,45.0a2.5,2.5 0 1,0 5.0,0a2.5,2.5 0 1,0 -5.0,0M471.5,54.0a2.5,2.5 0 1,0 5.0,0a2.5,2.5 0 1,0 -5.0,0M472.5,61.0a2.5,2.5 0 1,0 5.0,0a2.5,2.5 0 1,0 -5.0,0M472.5,65.0a2.5,2.5 0 1,0 5.0,0a2.5,2.5 0 1,0 -5.0,0M476.5,67.0a2.5,2.5 0 1,0 5.0,0a2.5,2.5 0 1,0 -5.0,0M476.5,71.0a2.5,2.5 0 1,0 5.0,0a2.5,2.5 0 1,0 -5.0,0M468.5,71.0a2.5,2.5 0 1,0 5.0,0a2.5,2.5 0 1,0 -5.0,0M469.5,77.0a2.5,2.5 0 1,0 5.0,0a2.5,2.5 0 1,0 -5.0,0M473.5,78.0a2.5,2.5 0 1,0 5.0,0a2.5,2.5 0 1,0 -5.0,0M478.5,78.0a2.5,2.5 0 1,0 5.0,0a2.5,2.5 0 1,0 -5.0,0M477.5,84.0a2.5,2.5 0 1,0 5.0,0a2.5,2.5 0 1,0 -5.0,0M475.5,88.0a2.5,2.5 0 1,0 5.0,0a2.5,2.5 0 1,0 -5.0,0M474.5,94.0a2.5,2.5 0 1,0 5.0,0a2.5,2.5 0 1,0 -5.0,0M474.5,99.0a2.5,2.5 0 1,0 5.0,0a2.5,2.5 0 1,0 -5.0,0M479.5,50.0a2.5,2.5 0 1,0 5.0,0a2.5,2.5 0 1,0 -5.0,0M480.5,31.0a2.5,2.5 0 1,0 5.0,0a2.5,2.5 0 1,0 -5.0,0M482.5,33.0a2.5,2.5 0 1,0 5.0,0a2.5,2.5 0 1,0 -5.0,0M485.5,34.0a2.5,2.5 0 1,0 5.0,0a2.5,2.5 0 1,0 -5.0,0M480.5,35.0a2.5,2.5 0 1,0 5.0,0a2.5,2.5 0 1,0 -5.0,0M487.5,55.0a2.5,2.5 0 1,0 5.0,0a2.5,2.5 0 1,0 -5.0,0M489.5,48.0a2.5,2.5 0 1,0 5.0,0a2.5,2.5 0 1,0 -5.0,0M486.5,59.0a2.5,2.5 0 1,0 5.0,0a2.5,2.5 0 1,0 -5.0,0M487.5,65.0a2.5,2.5 0 1,0 5.0,0a2.5,2.5 0 1,0 -5.0,0M488.5,75.0a2.5,2.5 0 1,0 5.0,0a2.5,2.5 0 1,0 -5.0,0M491.5,76.0a2.5,2.5 0 1,0 5.0,0a2.5,2.5 0 1,0 -5.0,0M487.5,84.0a2.5,2.5 0 1,0 5.0,0a2.5,2.5 0 1,0 -5.0,0M490.5,56.0a2.5,2.5 0 1,0 5.0,0a2.5,2.5 0 1,0 -5.0,0M492.5,62.0a2.5,2.5 0 1,0 5.0,0a2.5,2.5 0 1,0 -5.0,0M495.5,63.0a2.5,2.5 0 1,0 5.0,0a2.5,2.5 0 1,0 -5.0,0M495.5,67.0a2.5,2.5 0 1,0 5.0,0a2.5,2.5 0 1,0 -5.0,0M498.5,63.0a2.5,2.5 0 1,0 5.0,0a2.5,2.5 0 1,0 -5.0,0M498.5,60.0a2.5,2.5 0 1,0 5.0,0a2.5,2.5 0 1,0 -5.0,0M501.5,57.0a2.5,2.5 0 1,0 5.0,0a2.5,2.5 0 1,0 -5.0,0M503.5,52.0a2.5,2.5 0 1,0 5.0,0a2.5,2.5 0 1,0 -5.0,0M501.5,65.0a2.5,2.5 0 1,0 5.0,0a2.5,2.5 0 1,0 -5.0,0M505.5,24.0a2.5,2.5 0 1,0 5.0,0a2.5,2.5 0 1,0 -5.0,0M505.5,29.0a2.5,2.5 0 1,0 5.0,0a2.5,2.5 0 1,0 -5.0,0M505.5,34.0a2.5,2.5 0 1,0 5.0,0a2.5,2.5 0 1,0 -5.0,0M508.5,37.0a2.5,2.5 0 1,0 5.0,0a2.5,2.5 0 1,0 -5.0,0M509.5,40.0a2.5,2.5 0 1,0 5.0,0a2.5,2.5 0 1,0 -5.0,0M510.5,45.0a2.5,2.5 0 1,0 5.0,0a2.5,2.5 0 1,0 -5.0,0M507.5,48.0a2.5,2.5 0 1,0 5.0,0a2.5,2.5 0 1,0 -5.0,0M508.5,55.0a2.5,2.5 0 1,0 5.0,0a2.5,2.5 0 1,0 -5.0,0M507.5,67.0a2.5,2.5 0 1,0 5.0,0a2.5,2.5 0 1,0 -5.0,0M508.5,77.0a2.5,2.5 0 1,0 5.0,0a2.5,2.5 0 1,0 -5.0,0M511.5,60.0a2.5,2.5 0 1,0 5.0,0a2.5,2.5 0 1,0 -5.0,0M513.5,63.0a2.5,2.5 0 1,0 5.0,0a2.5,2.5 0 1,0 -5.0,0M514.5,66.0a2.5,2.5 0 1,0 5.0,0a2.5,2.5 0 1,0 -5.0,0M516.5,67.0a2.5,2.5 0 1,0 5.0,0a2.5,2.5 0 1,0 -5.0,0M517.5,69.0a2.5,2.5 0 1,0 5.0,0a2.5,2.5 0 1,0 -5.0,0M516.5,54.0a2.5,2.5 0 1,0 5.0,0a2.5,2.5 0 1,0 -5.0,0M518.5,50.0a2.5,2.5 0 1,0 5.0,0a2.5,2.5 0 1,0 -5.0,0M519.5,46.0a2.5,2.5 0 1,0 5.0,0a2.5,2.5 0 1,0 -5.0,0M520.5,42.0a2.5,2.5 0 1,0 5.0,0a2.5,2.5 0 1,0 -5.0,0M521.5,38.0a2.5,2.5 0 1,0 5.0,0a2.5,2.5 0 1,0 -5.0,0M522.5,34.0a2.5,2.5 0 1,0 5.0,0a2.5,2.5 0 1,0 -5.0,0M505.0,23.7a2.5,2.5 0 1,0 5.0,0a2.5,2.5 0 1,0 -5.0,0M505.8,28.7a2.5,2.5 0 1,0 5.0,0a2.5,2.5 0 1,0 -5.0,0M505.0,33.7a2.5,2.5 0 1,0 5.0,0a2.5,2.5 0 1,0 -5.0,0M509.2,37.0a2.5,2.5 0 1,0 5.0,0a2.5,2.5 0 1,0 -5.0,0M510.0,39.5a2.5,2.5 0 1,0 5.0,0a2.5,2.5 0 1,0 -5.0,0M510.8,45.3a2.5,2.5 0 1,0 5.0,0a2.5,2.5 0 1,0 -5.0,0M506.5,48.0a2.5,2.5 0 1,0 5.0,0a2.5,2.5 0 1,0 -5.0,0M504.2,52.0a2.5,2.5 0 1,0 5.0,0a2.5,2.5 0 1,0 -5.0,0M502.5,57.0a2.5,2.5 0 1,0 5.0,0a2.5,2.5 0 1,0 -5.0,0M500.0,60.3a2.5,2.5 0 1,0 5.0,0a2.5,2.5 0 1,0 -5.0,0M498.5,63.7a2.5,2.5 0 1,0 5.0,0a2.5,2.5 0 1,0 -5.0,0M497.5,67.0a2.5,2.5 0 1,0 5.0,0a2.5,2.5 0 1,0 -5.0,0M508.3,55.3a2.5,2.5 0 1,0 5.0,0a2.5,2.5 0 1,0 -5.0,0M507.5,67.8a2.5,2.5 0 1,0 5.0,0a2.5,2.5 0 1,0 -5.0,0M508.3,77.0a2.5,2.5 0 1,0 5.0,0a2.5,2.5 0 1,0 -5.0,0M512.5,60.3a2.5,2.5 0 1,0 5.0,0a2.5,2.5 0 1,0 -5.0,0M513.3,64.5a2.5,2.5 0 1,0 5.0,0a2.5,2.5 0 1,0 -5.0,0M514.2,68.7a2.5,2.5 0 1,0 5.0,0a2.5,2.5 0 1,0 -5.0,0M516.5,64.5a2.5,2.5 0 1,0 5.0,0a2.5,2.5 0 1,0 -5.0,0M518.3,69.5a2.5,2.5 0 1,0 5.0,0a2.5,2.5 0 1,0 -5.0,0M516.5,53.7a2.5,2.5 0 1,0 5.0,0a2.5,2.5 0 1,0 -5.0,0M518.3,55.3a2.5,2.5 0 1,0 5.0,0a2.5,2.5 0 1,0 -5.0,0M519.2,49.5a2.5,2.5 0 1,0 5.0,0a2.5,2.5 0 1,0 -5.0,0M520.0,45.3a2.5,2.5 0 1,0 5.0,0a2.5,2.5 0 1,0 -5.0,0M520.8,42.0a2.5,2.5 0 1,0 5.0,0a2.5,2.5 0 1,0 -5.0,0M521.7,37.8a2.5,2.5 0 1,0 5.0,0a2.5,2.5 0 1,0 -5.0,0M522.5,33.7a2.5,2.5 0 1,0 5.0,0a2.5,2.5 0 1,0 -5.0,0M527.5,44.5a2.5,2.5 0 1,0 5.0,0a2.5,2.5 0 1,0 -5.0,0M530.0,47.0a2.5,2.5 0 1,0 5.0,0a2.5,2.5 0 1,0 -5.0,0M532.5,50.3a2.5,2.5 0 1,0 5.0,0a2.5,2.5 0 1,0 -5.0,0M531.5,52.0a2.5,2.5 0 1,0 5.0,0a2.5,2.5 0 1,0 -5.0,0M534.2,47.8a2.5,2.5 0 1,0 5.0,0a2.5,2.5 0 1,0 -5.0,0M535.0,38.7a2.5,2.5 0 1,0 5.0,0a2.5,2.5 0 1,0 -5.0,0M535.8,42.0a2.5,2.5 0 1,0 5.0,0a2.5,2.5 0 1,0 -5.0,0M537.5,53.7a2.5,2.5 0 1,0 5.0,0a2.5,2.5 0 1,0 -5.0,0M537.5,57.8a2.5,2.5 0 1,0 5.0,0a2.5,2.5 0 1,0 -5.0,0M538.3,62.0a2.5,2.5 0 1,0 5.0,0a2.5,2.5 0 1,0 -5.0,0M540.0,64.5a2.5,2.5 0 1,0 5.0,0a2.5,2.5 0 1,0 -5.0,0M536.5,69.5a2.5,2.5 0 1,0 5.0,0a2.5,2.5 0 1,0 -5.0,0M539.2,83.7a2.5,2.5 0 1,0 5.0,0a2.5,2.5 0 1,0 -5.0,0M540.8,45.3a2.5,2.5 0 1,0 5.0,0a2.5,2.5 0 1,0 -5.0,0M541.5,42.0a2.5,2.5 0 1,0 5.0,0a2.5,2.5 0 1,0 -5.0,0M542.5,39.5a2.5,2.5 0 1,0 5.0,0a2.5,2.5 0 1,0 -5.0,0M544.2,41.0a2.5,2.5 0 1,0 5.0,0a2.5,2.5 0 1,0 -5.0,0M541.5,49.5a2.5,2.5 0 1,0 5.0,0a2.5,2.5 0 1,0 -5.0,0M545.8,45.3a2.5,2.5 0 1,0 5.0,0a2.5,2.5 0 1,0 -5.0,0M548.3,49.5a2.5,2.5 0 1,0 5.0,0a2.5,2.5 0 1,0 -5.0,0M550.0,55.3a2.5,2.5 0 1,0 5.0,0a2.5,2.5 0 1,0 -5.0,0M551.5,64.5a2.5,2.5 0 1,0 5.0,0a2.5,2.5 0 1,0 -5.0,0M552.5,68.7a2.5,2.5 0 1,0 5.0,0a2.5,2.5 0 1,0 -5.0,0M553.3,71.0a2.5,2.5 0 1,0 5.0,0a2.5,2.5 0 1,0 -5.0,0M552.5,79.5a2.5,2.5 0 1,0 5.0,0a2.5,2.5 0 1,0 -5.0,0M555.0,66.0a2.5,2.5 0 1,0 5.0,0a2.5,2.5 0 1,0 -5.0,0M556.5,68.7a2.5,2.5 0 1,0 5.0,0a2.5,2.5 0 1,0 -5.0,0M558.3,57.0a2.5,2.5 0 1,0 5.0,0a2.5,2.5 0 1,0 -5.0,0M560.0,60.3a2.5,2.5 0 1,0 5.0,0a2.5,2.5 0 1,0 -5.0,0M561.5,63.7a2.5,2.5 0 1,0 5.0,0a2.5,2.5 0 1,0 -5.0,0M563.3,60.3a2.5,2.5 0 1,0 5.0,0a2.5,2.5 0 1,0 -5.0,0M565.0,56.0a2.5,2.5 0 1,0 5.0,0a2.5,2.5 0 1,0 -5.0,0M567.5,58.7a2.5,2.5 0 1,0 5.0,0a2.5,2.5 0 1,0 -5.0,0M570.0,62.0a2.5,2.5 0 1,0 5.0,0a2.5,2.5 0 1,0 -5.0,0M580.8,62.0a2.5,2.5 0 1,0 5.0,0a2.5,2.5 0 1,0 -5.0,0M582.5,65.3a2.5,2.5 0 1,0 5.0,0a2.5,2.5 0 1,0 -5.0,0M585.0,60.3a2.5,2.5 0 1,0 5.0,0a2.5,2.5 0 1,0 -5.0,0M587.5,63.7a2.5,2.5 0 1,0 5.0,0a2.5,2.5 0 1,0 -5.0,0M589.2,64.5a2.5,2.5 0 1,0 5.0,0a2.5,2.5 0 1,0 -5.0,0M590.8,58.7a2.5,2.5 0 1,0 5.0,0a2.5,2.5 0 1,0 -5.0,0M592.5,57.0a2.5,2.5 0 1,0 5.0,0a2.5,2.5 0 1,0 -5.0,0M593.3,60.3a2.5,2.5 0 1,0 5.0,0a2.5,2.5 0 1,0 -5.0,0M455.5,28.0a2.5,2.5 0 1,0 5.0,0a2.5,2.5 0 1,0 -5.0,0M459.5,22.0a2.5,2.5 0 1,0 5.0,0a2.5,2.5 0 1,0 -5.0,0M463.5,24.0a2.5,2.5 0 1,0 5.0,0a2.5,2.5 0 1,0 -5.0,0M460.5,28.0a2.5,2.5 0 1,0 5.0,0a2.5,2.5 0 1,0 -5.0,0M457.5,30.0a2.5,2.5 0 1,0 5.0,0a2.5,2.5 0 1,0 -5.0,0M453.5,33.0a2.5,2.5 0 1,0 5.0,0a2.5,2.5 0 1,0 -5.0,0M541.5,43.0a2.5,2.5 0 1,0 5.0,0a2.5,2.5 0 1,0 -5.0,0M544.5,44.0a2.5,2.5 0 1,0 5.0,0a2.5,2.5 0 1,0 -5.0,0M546.5,48.0a2.5,2.5 0 1,0 5.0,0a2.5,2.5 0 1,0 -5.0,0M539.5,40.0a2.5,2.5 0 1,0 5.0,0a2.5,2.5 0 1,0 -5.0,0M558.5,60.0a2.5,2.5 0 1,0 5.0,0a2.5,2.5 0 1,0 -5.0,0M563.5,58.0a2.5,2.5 0 1,0 5.0,0a2.5,2.5 0 1,0 -5.0,0M566.5,62.0a2.5,2.5 0 1,0 5.0,0a2.5,2.5 0 1,0 -5.0,0M569.5,60.0a2.5,2.5 0 1,0 5.0,0a2.5,2.5 0 1,0 -5.0,0M554.5,64.0a2.5,2.5 0 1,0 5.0,0a2.5,2.5 0 1,0 -5.0,0M560.5,66.0a2.5,2.5 0 1,0 5.0,0a2.5,2.5 0 1,0 -5.0,0M581.5,60.0a2.5,2.5 0 1,0 5.0,0a2.5,2.5 0 1,0 -5.0,0M585.5,63.0a2.5,2.5 0 1,0 5.0,0a2.5,2.5 0 1,0 -5.0,0M589.5,61.0a2.5,2.5 0 1,0 5.0,0a2.5,2.5 0 1,0 -5.0,0M587.5,58.0a2.5,2.5 0 1,0 5.0,0a2.5,2.5 0 1,0 -5.0,0M583.5,66.0a2.5,2.5 0 1,0 5.0,0a2.5,2.5 0 1,0 -5.0,0M592.5,62.0a2.5,2.5 0 1,0 5.0,0a2.5,2.5 0 1,0 -5.0,0M591.5,57.0a2.5,2.5 0 1,0 5.0,0a2.5,2.5 0 1,0 -5.0,0M75.2,258.6a2.5,2.5 0 1,0 5.0,0a2.5,2.5 0 1,0 -5.0,0M76.3,257.5a2.5,2.5 0 1,0 5.0,0a2.5,2.5 0 1,0 -5.0,0M76.1,260.8a2.5,2.5 0 1,0 5.0,0a2.5,2.5 0 1,0 -5.0,0M77.0,260.5a2.5,2.5 0 1,0 5.0,0a2.5,2.5 0 1,0 -5.0,0M79.2,263.6a2.5,2.5 0 1,0 5.0,0a2.5,2.5 0 1,0 -5.0,0M77.9,262.8a2.5,2.5 0 1,0 5.0,0a2.5,2.5 0 1,0 -5.0,0M80.6,261.9a2.5,2.5 0 1,0 5.0,0a2.5,2.5 0 1,0 -5.0,0M79.2,261.0a2.5,2.5 0 1,0 5.0,0a2.5,2.5 0 1,0 -5.0,0M81.8,259.6a2.5,2.5 0 1,0 5.0,0a2.5,2.5 0 1,0 -5.0,0M82.0,261.1a2.5,2.5 0 1,0 5.0,0a2.5,2.5 0 1,0 -5.0,0M84.3,258.5a2.5,2.5 0 1,0 5.0,0a2.5,2.5 0 1,0 -5.0,0M84.0,258.4a2.5,2.5 0 1,0 5.0,0a2.5,2.5 0 1,0 -5.0,0M86.8,259.8a2.5,2.5 0 1,0 5.0,0a2.5,2.5 0 1,0 -5.0,0M88.2,261.6a2.5,2.5 0 1,0 5.0,0a2.5,2.5 0 1,0 -5.0,0M89.9,256.8a2.5,2.5 0 1,0 5.0,0a2.5,2.5 0 1,0 -5.0,0M89.1,256.6a2.5,2.5 0 1,0 5.0,0a2.5,2.5 0 1,0 -5.0,0M92.6,256.9a2.5,2.5 0 1,0 5.0,0a2.5,2.5 0 1,0 -5.0,0M92.1,257.0a2.5,2.5 0 1,0 5.0,0a2.5,2.5 0 1,0 -5.0,0M94.3,232.3a2.5,2.5 0 1,0 5.0,0a2.5,2.5 0 1,0 -5.0,0M91.6,232.4a2.5,2.5 0 1,0 5.0,0a2.5,2.5 0 1,0 -5.0,0M92.4,234.1a2.5,2.5 0 1,0 5.0,0a2.5,2.5 0 1,0 -5.0,0M94.2,234.0a2.5,2.5 0 1,0 5.0,0a2.5,2.5 0 1,0 -5.0,0M94.2,238.4a2.5,2.5 0 1,0 5.0,0a2.5,2.5 0 1,0 -5.0,0M94.0,238.0a2.5,2.5 0 1,0 5.0,0a2.5,2.5 0 1,0 -5.0,0M97.4,235.5a2.5,2.5 0 1,0 5.0,0a2.5,2.5 0 1,0 -5.0,0M97.3,235.3a2.5,2.5 0 1,0 5.0,0a2.5,2.5 0 1,0 -5.0,0M99.3,237.3a2.5,2.5 0 1,0 5.0,0a2.5,2.5 0 1,0 -5.0,0M97.2,238.7a2.5,2.5 0 1,0 5.0,0a2.5,2.5 0 1,0 -5.0,0M98.5,242.8a2.5,2.5 0 1,0 5.0,0a2.5,2.5 0 1,0 -5.0,0M98.8,241.3a2.5,2.5 0 1,0 5.0,0a2.5,2.5 0 1,0 -5.0,0M102.5,242.8a2.5,2.5 0 1,0 5.0,0a2.5,2.5 0 1,0 -5.0,0M103.3,243.0a2.5,2.5 0 1,0 5.0,0a2.5,2.5 0 1,0 -5.0,0M104.4,241.3a2.5,2.5 0 1,0 5.0,0a2.5,2.5 0 1,0 -5.0,0M101.8,239.7a2.5,2.5 0 1,0 5.0,0a2.5,2.5 0 1,0 -5.0,0M106.0,237.7a2.5,2.5 0 1,0 5.0,0a2.5,2.5 0 1,0 -5.0,0M104.5,238.3a2.5,2.5 0 1,0 5.0,0a2.5,2.5 0 1,0 -5.0,0M103.8,234.7a2.5,2.5 0 1,0 5.0,0a2.5,2.5 0 1,0 -5.0,0M106.0,235.7a2.5,2.5 0 1,0 5.0,0a2.5,2.5 0 1,0 -5.0,0M105.9,231.8a2.5,2.5 0 1,0 5.0,0a2.5,2.5 0 1,0 -5.0,0M105.1,232.1a2.5,2.5 0 1,0 5.0,0a2.5,2.5 0 1,0 -5.0,0M108.2,233.5a2.5,2.5 0 1,0 5.0,0a2.5,2.5 0 1,0 -5.0,0M105.7,234.3a2.5,2.5 0 1,0 5.0,0a2.5,2.5 0 1,0 -5.0,0M107.7,236.3a2.5,2.5 0 1,0 5.0,0a2.5,2.5 0 1,0 -5.0,0M109.3,234.9a2.5,2.5 0 1,0 5.0,0a2.5,2.5 0 1,0 -5.0,0M109.3,238.5a2.5,2.5 0 1,0 5.0,0a2.5,2.5 0 1,0 -5.0,0M108.4,238.9a2.5,2.5 0 1,0 5.0,0a2.5,2.5 0 1,0 -5.0,0M110.4,240.7a2.5,2.5 0 1,0 5.0,0a2.5,2.5 0 1,0 -5.0,0M108.9,241.5a2.5,2.5 0 1,0 5.0,0a2.5,2.5 0 1,0 -5.0,0M110.9,242.9a2.5,2.5 0 1,0 5.0,0a2.5,2.5 0 1,0 -5.0,0M109.5,244.2a2.5,2.5 0 1,0 5.0,0a2.5,2.5 0 1,0 -5.0,0M110.4,245.6a2.5,2.5 0 1,0 5.0,0a2.5,2.5 0 1,0 -5.0,0M111.4,246.1a2.5,2.5 0 1,0 5.0,0a2.5,2.5 0 1,0 -5.0,0M112.4,243.9a2.5,2.5 0 1,0 5.0,0a2.5,2.5 0 1,0 -5.0,0M114.1,242.7a2.5,2.5 0 1,0 5.0,0a2.5,2.5 0 1,0 -5.0,0M116.2,243.4a2.5,2.5 0 1,0 5.0,0a2.5,2.5 0 1,0 -5.0,0M116.5,244.0a2.5,2.5 0 1,0 5.0,0a2.5,2.5 0 1,0 -5.0,0M119.7,245.0a2.5,2.5 0 1,0 5.0,0a2.5,2.5 0 1,0 -5.0,0M118.5,246.1a2.5,2.5 0 1,0 5.0,0a2.5,2.5 0 1,0 -5.0,0M122.5,246.4a2.5,2.5 0 1,0 5.0,0a2.5,2.5 0 1,0 -5.0,0M120.9,247.7a2.5,2.5 0 1,0 5.0,0a2.5,2.5 0 1,0 -5.0,0M125.8,249.4a2.5,2.5 0 1,0 5.0,0a2.5,2.5 0 1,0 -5.0,0M125.5,249.3a2.5,2.5 0 1,0 5.0,0a2.5,2.5 0 1,0 -5.0,0M125.7,252.6a2.5,2.5 0 1,0 5.0,0a2.5,2.5 0 1,0 -5.0,0M125.1,252.5a2.5,2.5 0 1,0 5.0,0a2.5,2.5 0 1,0 -5.0,0M126.8,254.3a2.5,2.5 0 1,0 5.0,0a2.5,2.5 0 1,0 -5.0,0M125.1,255.3a2.5,2.5 0 1,0 5.0,0a2.5,2.5 0 1,0 -5.0,0M127.0,257.0a2.5,2.5 0 1,0 5.0,0a2.5,2.5 0 1,0 -5.0,0M125.7,257.3a2.5,2.5 0 1,0 5.0,0a2.5,2.5 0 1,0 -5.0,0M128.0,255.2a2.5,2.5 0 1,0 5.0,0a2.5,2.5 0 1,0 -5.0,0M127.6,254.8a2.5,2.5 0 1,0 5.0,0a2.5,2.5 0 1,0 -5.0,0M126.4,252.0a2.5,2.5 0 1,0 5.0,0a2.5,2.5 0 1,0 -5.0,0M127.0,252.7a2.5,2.5 0 1,0 5.0,0a2.5,2.5 0 1,0 -5.0,0M127.5,250.2a2.5,2.5 0 1,0 5.0,0a2.5,2.5 0 1,0 -5.0,0M127.2,250.1a2.5,2.5 0 1,0 5.0,0a2.5,2.5 0 1,0 -5.0,0M128.5,248.1a2.5,2.5 0 1,0 5.0,0a2.5,2.5 0 1,0 -5.0,0M128.3,248.2a2.5,2.5 0 1,0 5.0,0a2.5,2.5 0 1,0 -5.0,0M129.3,245.5a2.5,2.5 0 1,0 5.0,0a2.5,2.5 0 1,0 -5.0,0M128.6,246.4a2.5,2.5 0 1,0 5.0,0a2.5,2.5 0 1,0 -5.0,0M131.6,244.5a2.5,2.5 0 1,0 5.0,0a2.5,2.5 0 1,0 -5.0,0M130.4,244.4a2.5,2.5 0 1,0 5.0,0a2.5,2.5 0 1,0 -5.0,0M131.6,242.4a2.5,2.5 0 1,0 5.0,0a2.5,2.5 0 1,0 -5.0,0M131.3,242.5a2.5,2.5 0 1,0 5.0,0a2.5,2.5 0 1,0 -5.0,0M132.7,244.5a2.5,2.5 0 1,0 5.0,0a2.5,2.5 0 1,0 -5.0,0M134.0,245.9a2.5,2.5 0 1,0 5.0,0a2.5,2.5 0 1,0 -5.0,0M133.5,242.1a2.5,2.5 0 1,0 5.0,0a2.5,2.5 0 1,0 -5.0,0M133.7,242.3a2.5,2.5 0 1,0 5.0,0a2.5,2.5 0 1,0 -5.0,0M136.0,239.8a2.5,2.5 0 1,0 5.0,0a2.5,2.5 0 1,0 -5.0,0M136.1,240.1a2.5,2.5 0 1,0 5.0,0a2.5,2.5 0 1,0 -5.0,0M134.4,243.0a2.5,2.5 0 1,0 5.0,0a2.5,2.5 0 1,0 -5.0,0M134.8,242.9a2.5,2.5 0 1,0 5.0,0a2.5,2.5 0 1,0 -5.0,0M136.8,244.9a2.5,2.5 0 1,0 5.0,0a2.5,2.5 0 1,0 -5.0,0M136.5,246.6a2.5,2.5 0 1,0 5.0,0a2.5,2.5 0 1,0 -5.0,0M128.5,234.0a2.5,2.5 0 1,0 5.0,0a2.5,2.5 0 1,0 -5.0,0M129.5,236.0a2.5,2.5 0 1,0 5.0,0a2.5,2.5 0 1,0 -5.0,0M137.5,255.0a2.5,2.5 0 1,0 5.0,0a2.5,2.5 0 1,0 -5.0,0M136.5,229.0a2.5,2.5 0 1,0 5.0,0a2.5,2.5 0 1,0 -5.0,0M152.5,245.0a2.5,2.5 0 1,0 5.0,0a2.5,2.5 0 1,0 -5.0,0M138.5,200.0a2.5,2.5 0 1,0 5.0,0a2.5,2.5 0 1,0 -5.0,0M139.5,207.0a2.5,2.5 0 1,0 5.0,0a2.5,2.5 0 1,0 -5.0,0M139.0,213.0a2.5,2.5 0 1,0 5.0,0a2.5,2.5 0 1,0 -5.0,0M142.9,216.7a2.5,2.5 0 1,0 5.0,0a2.5,2.5 0 1,0 -5.0,0M141.4,217.4a2.5,2.5 0 1,0 5.0,0a2.5,2.5 0 1,0 -5.0,0M141.9,219.5a2.5,2.5 0 1,0 5.0,0a2.5,2.5 0 1,0 -5.0,0M143.5,219.1a2.5,2.5 0 1,0 5.0,0a2.5,2.5 0 1,0 -5.0,0M141.3,222.5a2.5,2.5 0 1,0 5.0,0a2.5,2.5 0 1,0 -5.0,0M143.1,221.2a2.5,2.5 0 1,0 5.0,0a2.5,2.5 0 1,0 -5.0,0M146.3,224.3a2.5,2.5 0 1,0 5.0,0a2.5,2.5 0 1,0 -5.0,0M145.1,224.7a2.5,2.5 0 1,0 5.0,0a2.5,2.5 0 1,0 -5.0,0M145.8,228.1a2.5,2.5 0 1,0 5.0,0a2.5,2.5 0 1,0 -5.0,0M146.3,228.2a2.5,2.5 0 1,0 5.0,0a2.5,2.5 0 1,0 -5.0,0M148.1,229.8a2.5,2.5 0 1,0 5.0,0a2.5,2.5 0 1,0 -5.0,0M145.3,230.8a2.5,2.5 0 1,0 5.0,0a2.5,2.5 0 1,0 -5.0,0M146.6,231.5a2.5,2.5 0 1,0 5.0,0a2.5,2.5 0 1,0 -5.0,0M146.2,231.8a2.5,2.5 0 1,0 5.0,0a2.5,2.5 0 1,0 -5.0,0M148.5,234.4a2.5,2.5 0 1,0 5.0,0a2.5,2.5 0 1,0 -5.0,0M146.4,234.3a2.5,2.5 0 1,0 5.0,0a2.5,2.5 0 1,0 -5.0,0M146.5,237.0a2.5,2.5 0 1,0 5.0,0a2.5,2.5 0 1,0 -5.0,0M146.3,237.6a2.5,2.5 0 1,0 5.0,0a2.5,2.5 0 1,0 -5.0,0M148.3,240.7a2.5,2.5 0 1,0 5.0,0a2.5,2.5 0 1,0 -5.0,0M148.0,241.0a2.5,2.5 0 1,0 5.0,0a2.5,2.5 0 1,0 -5.0,0M150.8,236.9a2.5,2.5 0 1,0 5.0,0a2.5,2.5 0 1,0 -5.0,0M151.8,236.6a2.5,2.5 0 1,0 5.0,0a2.5,2.5 0 1,0 -5.0,0M148.9,234.8a2.5,2.5 0 1,0 5.0,0a2.5,2.5 0 1,0 -5.0,0M148.7,234.5a2.5,2.5 0 1,0 5.0,0a2.5,2.5 0 1,0 -5.0,0M149.8,232.4a2.5,2.5 0 1,0 5.0,0a2.5,2.5 0 1,0 -5.0,0M150.5,232.5a2.5,2.5 0 1,0 5.0,0a2.5,2.5 0 1,0 -5.0,0M149.5,230.1a2.5,2.5 0 1,0 5.0,0a2.5,2.5 0 1,0 -5.0,0M150.0,230.9a2.5,2.5 0 1,0 5.0,0a2.5,2.5 0 1,0 -5.0,0M152.6,229.6a2.5,2.5 0 1,0 5.0,0a2.5,2.5 0 1,0 -5.0,0M152.2,228.5a2.5,2.5 0 1,0 5.0,0a2.5,2.5 0 1,0 -5.0,0M155.5,227.3a2.5,2.5 0 1,0 5.0,0a2.5,2.5 0 1,0 -5.0,0M154.4,228.1a2.5,2.5 0 1,0 5.0,0a2.5,2.5 0 1,0 -5.0,0M158.3,229.5a2.5,2.5 0 1,0 5.0,0a2.5,2.5 0 1,0 -5.0,0M157.7,229.4a2.5,2.5 0 1,0 5.0,0a2.5,2.5 0 1,0 -5.0,0M157.5,226.4a2.5,2.5 0 1,0 5.0,0a2.5,2.5 0 1,0 -5.0,0M158.6,226.6a2.5,2.5 0 1,0 5.0,0a2.5,2.5 0 1,0 -5.0,0M158.3,224.2a2.5,2.5 0 1,0 5.0,0a2.5,2.5 0 1,0 -5.0,0M158.2,223.6a2.5,2.5 0 1,0 5.0,0a2.5,2.5 0 1,0 -5.0,0M159.3,221.5a2.5,2.5 0 1,0 5.0,0a2.5,2.5 0 1,0 -5.0,0M161.1,222.4a2.5,2.5 0 1,0 5.0,0a2.5,2.5 0 1,0 -5.0,0M159.8,218.7a2.5,2.5 0 1,0 5.0,0a2.5,2.5 0 1,0 -5.0,0M160.9,219.3a2.5,2.5 0 1,0 5.0,0a2.5,2.5 0 1,0 -5.0,0M159.7,216.6a2.5,2.5 0 1,0 5.0,0a2.5,2.5 0 1,0 -5.0,0M160.7,216.3a2.5,2.5 0 1,0 5.0,0a2.5,2.5 0 1,0 -5.0,0M162.1,213.1a2.5,2.5 0 1,0 5.0,0a2.5,2.5 0 1,0 -5.0,0M161.5,214.6a2.5,2.5 0 1,0 5.0,0a2.5,2.5 0 1,0 -5.0,0M165.8,216.7a2.5,2.5 0 1,0 5.0,0a2.5,2.5 0 1,0 -5.0,0M165.1,216.3a2.5,2.5 0 1,0 5.0,0a2.5,2.5 0 1,0 -5.0,0M165.7,214.4a2.5,2.5 0 1,0 5.0,0a2.5,2.5 0 1,0 -5.0,0M165.6,213.5a2.5,2.5 0 1,0 5.0,0a2.5,2.5 0 1,0 -5.0,0M165.3,211.5a2.5,2.5 0 1,0 5.0,0a2.5,2.5 0 1,0 -5.0,0M167.6,212.8a2.5,2.5 0 1,0 5.0,0a2.5,2.5 0 1,0 -5.0,0M169.8,210.4a2.5,2.5 0 1,0 5.0,0a2.5,2.5 0 1,0 -5.0,0M167.5,209.7a2.5,2.5 0 1,0 5.0,0a2.5,2.5 0 1,0 -5.0,0M168.5,207.6a2.5,2.5 0 1,0 5.0,0a2.5,2.5 0 1,0 -5.0,0M170.1,208.1a2.5,2.5 0 1,0 5.0,0a2.5,2.5 0 1,0 -5.0,0M168.0,205.2a2.5,2.5 0 1,0 5.0,0a2.5,2.5 0 1,0 -5.0,0M170.5,205.3a2.5,2.5 0 1,0 5.0,0a2.5,2.5 0 1,0 -5.0,0M171.8,202.4a2.5,2.5 0 1,0 5.0,0a2.5,2.5 0 1,0 -5.0,0M169.7,203.6a2.5,2.5 0 1,0 5.0,0a2.5,2.5 0 1,0 -5.0,0M171.4,205.0a2.5,2.5 0 1,0 5.0,0a2.5,2.5 0 1,0 -5.0,0M172.0,204.1a2.5,2.5 0 1,0 5.0,0a2.5,2.5 0 1,0 -5.0,0M174.0,205.6a2.5,2.5 0 1,0 5.0,0a2.5,2.5 0 1,0 -5.0,0M170.9,208.3a2.5,2.5 0 1,0 5.0,0a2.5,2.5 0 1,0 -5.0,0M174.5,208.5a2.5,2.5 0 1,0 5.0,0a2.5,2.5 0 1,0 -5.0,0M174.9,208.2a2.5,2.5 0 1,0 5.0,0a2.5,2.5 0 1,0 -5.0,0M174.4,210.5a2.5,2.5 0 1,0 5.0,0a2.5,2.5 0 1,0 -5.0,0M176.8,211.1a2.5,2.5 0 1,0 5.0,0a2.5,2.5 0 1,0 -5.0,0M177.1,209.2a2.5,2.5 0 1,0 5.0,0a2.5,2.5 0 1,0 -5.0,0M177.5,210.1a2.5,2.5 0 1,0 5.0,0a2.5,2.5 0 1,0 -5.0,0M177.6,206.9a2.5,2.5 0 1,0 5.0,0a2.5,2.5 0 1,0 -5.0,0M178.2,206.9a2.5,2.5 0 1,0 5.0,0a2.5,2.5 0 1,0 -5.0,0M178.7,204.3a2.5,2.5 0 1,0 5.0,0a2.5,2.5 0 1,0 -5.0,0M179.9,205.3a2.5,2.5 0 1,0 5.0,0a2.5,2.5 0 1,0 -5.0,0M180.2,202.7a2.5,2.5 0 1,0 5.0,0a2.5,2.5 0 1,0 -5.0,0M180.6,203.6a2.5,2.5 0 1,0 5.0,0a2.5,2.5 0 1,0 -5.0,0M183.1,200.0a2.5,2.5 0 1,0 5.0,0a2.5,2.5 0 1,0 -5.0,0M182.6,200.2a2.5,2.5 0 1,0 5.0,0a2.5,2.5 0 1,0 -5.0,0M185.2,203.7a2.5,2.5 0 1,0 5.0,0a2.5,2.5 0 1,0 -5.0,0M182.4,204.6a2.5,2.5 0 1,0 5.0,0a2.5,2.5 0 1,0 -5.0,0M184.0,201.4a2.5,2.5 0 1,0 5.0,0a2.5,2.5 0 1,0 -5.0,0M183.8,202.0a2.5,2.5 0 1,0 5.0,0a2.5,2.5 0 1,0 -5.0,0M182.6,199.4a2.5,2.5 0 1,0 5.0,0a2.5,2.5 0 1,0 -5.0,0M183.6,199.4a2.5,2.5 0 1,0 5.0,0a2.5,2.5 0 1,0 -5.0,0M182.7,197.5a2.5,2.5 0 1,0 5.0,0a2.5,2.5 0 1,0 -5.0,0M180.8,197.2a2.5,2.5 0 1,0 5.0,0a2.5,2.5 0 1,0 -5.0,0M181.4,195.2a2.5,2.5 0 1,0 5.0,0a2.5,2.5 0 1,0 -5.0,0M182.1,196.1a2.5,2.5 0 1,0 5.0,0a2.5,2.5 0 1,0 -5.0,0M184.2,193.7a2.5,2.5 0 1,0 5.0,0a2.5,2.5 0 1,0 -5.0,0M182.8,192.9a2.5,2.5 0 1,0 5.0,0a2.5,2.5 0 1,0 -5.0,0M185.3,191.3a2.5,2.5 0 1,0 5.0,0a2.5,2.5 0 1,0 -5.0,0M183.6,190.3a2.5,2.5 0 1,0 5.0,0a2.5,2.5 0 1,0 -5.0,0M187.3,187.5a2.5,2.5 0 1,0 5.0,0a2.5,2.5 0 1,0 -5.0,0M187.2,187.4a2.5,2.5 0 1,0 5.0,0a2.5,2.5 0 1,0 -5.0,0M189.2,186.7a2.5,2.5 0 1,0 5.0,0a2.5,2.5 0 1,0 -5.0,0M190.2,187.7a2.5,2.5 0 1,0 5.0,0a2.5,2.5 0 1,0 -5.0,0M191.8,184.9a2.5,2.5 0 1,0 5.0,0a2.5,2.5 0 1,0 -5.0,0M191.6,185.5a2.5,2.5 0 1,0 5.0,0a2.5,2.5 0 1,0 -5.0,0M187.1,190.1a2.5,2.5 0 1,0 5.0,0a2.5,2.5 0 1,0 -5.0,0M187.9,189.7a2.5,2.5 0 1,0 5.0,0a2.5,2.5 0 1,0 -5.0,0M190.2,192.2a2.5,2.5 0 1,0 5.0,0a2.5,2.5 0 1,0 -5.0,0M188.4,192.5a2.5,2.5 0 1,0 5.0,0a2.5,2.5 0 1,0 -5.0,0M189.9,195.4a2.5,2.5 0 1,0 5.0,0a2.5,2.5 0 1,0 -5.0,0M189.1,195.1a2.5,2.5 0 1,0 5.0,0a2.5,2.5 0 1,0 -5.0,0M187.8,197.7a2.5,2.5 0 1,0 5.0,0a2.5,2.5 0 1,0 -5.0,0M189.9,197.0a2.5,2.5 0 1,0 5.0,0a2.5,2.5 0 1,0 -5.0,0M191.6,199.7a2.5,2.5 0 1,0 5.0,0a2.5,2.5 0 1,0 -5.0,0M189.6,199.7a2.5,2.5 0 1,0 5.0,0a2.5,2.5 0 1,0 -5.0,0M189.4,203.3a2.5,2.5 0 1,0 5.0,0a2.5,2.5 0 1,0 -5.0,0M189.9,203.3a2.5,2.5 0 1,0 5.0,0a2.5,2.5 0 1,0 -5.0,0M191.9,204.4a2.5,2.5 0 1,0 5.0,0a2.5,2.5 0 1,0 -5.0,0M192.2,204.1a2.5,2.5 0 1,0 5.0,0a2.5,2.5 0 1,0 -5.0,0M192.7,207.5a2.5,2.5 0 1,0 5.0,0a2.5,2.5 0 1,0 -5.0,0M191.3,207.7a2.5,2.5 0 1,0 5.0,0a2.5,2.5 0 1,0 -5.0,0M193.1,209.9a2.5,2.5 0 1,0 5.0,0a2.5,2.5 0 1,0 -5.0,0M192.0,211.3a2.5,2.5 0 1,0 5.0,0a2.5,2.5 0 1,0 -5.0,0M195.4,212.3a2.5,2.5 0 1,0 5.0,0a2.5,2.5 0 1,0 -5.0,0M195.8,211.5a2.5,2.5 0 1,0 5.0,0a2.5,2.5 0 1,0 -5.0,0M195.3,215.3a2.5,2.5 0 1,0 5.0,0a2.5,2.5 0 1,0 -5.0,0M197.9,214.3a2.5,2.5 0 1,0 5.0,0a2.5,2.5 0 1,0 -5.0,0M196.5,218.9a2.5,2.5 0 1,0 5.0,0a2.5,2.5 0 1,0 -5.0,0M199.4,217.6a2.5,2.5 0 1,0 5.0,0a2.5,2.5 0 1,0 -5.0,0M198.5,220.3a2.5,2.5 0 1,0 5.0,0a2.5,2.5 0 1,0 -5.0,0M200.0,220.4a2.5,2.5 0 1,0 5.0,0a2.5,2.5 0 1,0 -5.0,0M198.6,223.1a2.5,2.5 0 1,0 5.0,0a2.5,2.5 0 1,0 -5.0,0M198.1,222.8a2.5,2.5 0 1,0 5.0,0a2.5,2.5 0 1,0 -5.0,0M200.0,225.5a2.5,2.5 0 1,0 5.0,0a2.5,2.5 0 1,0 -5.0,0M200.5,225.1a2.5,2.5 0 1,0 5.0,0a2.5,2.5 0 1,0 -5.0,0M199.0,228.9a2.5,2.5 0 1,0 5.0,0a2.5,2.5 0 1,0 -5.0,0M199.0,227.3a2.5,2.5 0 1,0 5.0,0a2.5,2.5 0 1,0 -5.0,0M189.5,200.0a2.5,2.5 0 1,0 5.0,0a2.5,2.5 0 1,0 -5.0,0M192.5,210.0a2.5,2.5 0 1,0 5.0,0a2.5,2.5 0 1,0 -5.0,0M199.5,234.0a2.5,2.5 0 1,0 5.0,0a2.5,2.5 0 1,0 -5.0,0M202.0,219.9a2.5,2.5 0 1,0 5.0,0a2.5,2.5 0 1,0 -5.0,0M203.5,220.6a2.5,2.5 0 1,0 5.0,0a2.5,2.5 0 1,0 -5.0,0M202.6,217.7a2.5,2.5 0 1,0 5.0,0a2.5,2.5 0 1,0 -5.0,0M203.9,218.1a2.5,2.5 0 1,0 5.0,0a2.5,2.5 0 1,0 -5.0,0M205.6,216.7a2.5,2.5 0 1,0 5.0,0a2.5,2.5 0 1,0 -5.0,0M203.0,214.9a2.5,2.5 0 1,0 5.0,0a2.5,2.5 0 1,0 -5.0,0M204.8,213.8a2.5,2.5 0 1,0 5.0,0a2.5,2.5 0 1,0 -5.0,0M203.9,214.3a2.5,2.5 0 1,0 5.0,0a2.5,2.5 0 1,0 -5.0,0M207.5,218.8a2.5,2.5 0 1,0 5.0,0a2.5,2.5 0 1,0 -5.0,0M206.8,218.2a2.5,2.5 0 1,0 5.0,0a2.5,2.5 0 1,0 -5.0,0M206.6,220.5a2.5,2.5 0 1,0 5.0,0a2.5,2.5 0 1,0 -5.0,0M203.4,220.4a2.5,2.5 0 1,0 5.0,0a2.5,2.5 0 1,0 -5.0,0M203.6,223.1a2.5,2.5 0 1,0 5.0,0a2.5,2.5 0 1,0 -5.0,0M205.0,223.3a2.5,2.5 0 1,0 5.0,0a2.5,2.5 0 1,0 -5.0,0M203.8,226.0a2.5,2.5 0 1,0 5.0,0a2.5,2.5 0 1,0 -5.0,0M203.8,227.2a2.5,2.5 0 1,0 5.0,0a2.5,2.5 0 1,0 -5.0,0M205.7,226.6a2.5,2.5 0 1,0 5.0,0a2.5,2.5 0 1,0 -5.0,0M205.6,223.8a2.5,2.5 0 1,0 5.0,0a2.5,2.5 0 1,0 -5.0,0M206.2,224.0a2.5,2.5 0 1,0 5.0,0a2.5,2.5 0 1,0 -5.0,0M209.6,223.4a2.5,2.5 0 1,0 5.0,0a2.5,2.5 0 1,0 -5.0,0M209.6,227.0a2.5,2.5 0 1,0 5.0,0a2.5,2.5 0 1,0 -5.0,0M209.6,226.3a2.5,2.5 0 1,0 5.0,0a2.5,2.5 0 1,0 -5.0,0M210.9,229.7a2.5,2.5 0 1,0 5.0,0a2.5,2.5 0 1,0 -5.0,0M210.1,229.1a2.5,2.5 0 1,0 5.0,0a2.5,2.5 0 1,0 -5.0,0M210.1,232.0a2.5,2.5 0 1,0 5.0,0a2.5,2.5 0 1,0 -5.0,0M211.6,231.7a2.5,2.5 0 1,0 5.0,0a2.5,2.5 0 1,0 -5.0,0M210.4,233.9a2.5,2.5 0 1,0 5.0,0a2.5,2.5 0 1,0 -5.0,0M213.4,233.6a2.5,2.5 0 1,0 5.0,0a2.5,2.5 0 1,0 -5.0,0M210.7,237.0a2.5,2.5 0 1,0 5.0,0a2.5,2.5 0 1,0 -5.0,0M213.0,236.7a2.5,2.5 0 1,0 5.0,0a2.5,2.5 0 1,0 -5.0,0M212.0,239.4a2.5,2.5 0 1,0 5.0,0a2.5,2.5 0 1,0 -5.0,0M212.8,238.7a2.5,2.5 0 1,0 5.0,0a2.5,2.5 0 1,0 -5.0,0M212.3,236.4a2.5,2.5 0 1,0 5.0,0a2.5,2.5 0 1,0 -5.0,0M211.7,236.6a2.5,2.5 0 1,0 5.0,0a2.5,2.5 0 1,0 -5.0,0M211.9,234.1a2.5,2.5 0 1,0 5.0,0a2.5,2.5 0 1,0 -5.0,0M213.4,234.8a2.5,2.5 0 1,0 5.0,0a2.5,2.5 0 1,0 -5.0,0M215.8,232.5a2.5,2.5 0 1,0 5.0,0a2.5,2.5 0 1,0 -5.0,0M215.0,232.9a2.5,2.5 0 1,0 5.0,0a2.5,2.5 0 1,0 -5.0,0M213.7,230.2a2.5,2.5 0 1,0 5.0,0a2.5,2.5 0 1,0 -5.0,0M214.9,230.2a2.5,2.5 0 1,0 5.0,0a2.5,2.5 0 1,0 -5.0,0M214.9,228.5a2.5,2.5 0 1,0 5.0,0a2.5,2.5 0 1,0 -5.0,0M216.2,227.4a2.5,2.5 0 1,0 5.0,0a2.5,2.5 0 1,0 -5.0,0M217.3,230.4a2.5,2.5 0 1,0 5.0,0a2.5,2.5 0 1,0 -5.0,0M217.7,230.4a2.5,2.5 0 1,0 5.0,0a2.5,2.5 0 1,0 -5.0,0M218.3,233.5a2.5,2.5 0 1,0 5.0,0a2.5,2.5 0 1,0 -5.0,0M216.6,233.6a2.5,2.5 0 1,0 5.0,0a2.5,2.5 0 1,0 -5.0,0M216.4,237.0a2.5,2.5 0 1,0 5.0,0a2.5,2.5 0 1,0 -5.0,0M218.9,236.5a2.5,2.5 0 1,0 5.0,0a2.5,2.5 0 1,0 -5.0,0M217.4,239.5a2.5,2.5 0 1,0 5.0,0a2.5,2.5 0 1,0 -5.0,0M217.4,239.7a2.5,2.5 0 1,0 5.0,0a2.5,2.5 0 1,0 -5.0,0M218.4,237.6a2.5,2.5 0 1,0 5.0,0a2.5,2.5 0 1,0 -5.0,0M218.7,237.9a2.5,2.5 0 1,0 5.0,0a2.5,2.5 0 1,0 -5.0,0M220.0,236.2a2.5,2.5 0 1,0 5.0,0a2.5,2.5 0 1,0 -5.0,0M220.5,236.5a2.5,2.5 0 1,0 5.0,0a2.5,2.5 0 1,0 -5.0,0M222.3,234.2a2.5,2.5 0 1,0 5.0,0a2.5,2.5 0 1,0 -5.0,0M220.9,234.2a2.5,2.5 0 1,0 5.0,0a2.5,2.5 0 1,0 -5.0,0M223.9,232.8a2.5,2.5 0 1,0 5.0,0a2.5,2.5 0 1,0 -5.0,0M223.2,232.6a2.5,2.5 0 1,0 5.0,0a2.5,2.5 0 1,0 -5.0,0M225.7,229.9a2.5,2.5 0 1,0 5.0,0a2.5,2.5 0 1,0 -5.0,0M223.3,229.8a2.5,2.5 0 1,0 5.0,0a2.5,2.5 0 1,0 -5.0,0M223.4,227.5a2.5,2.5 0 1,0 5.0,0a2.5,2.5 0 1,0 -5.0,0M223.2,227.2a2.5,2.5 0 1,0 5.0,0a2.5,2.5 0 1,0 -5.0,0M226.0,225.8a2.5,2.5 0 1,0 5.0,0a2.5,2.5 0 1,0 -5.0,0M224.7,225.6a2.5,2.5 0 1,0 5.0,0a2.5,2.5 0 1,0 -5.0,0M225.1,223.1a2.5,2.5 0 1,0 5.0,0a2.5,2.5 0 1,0 -5.0,0M223.4,222.5a2.5,2.5 0 1,0 5.0,0a2.5,2.5 0 1,0 -5.0,0M224.9,220.5a2.5,2.5 0 1,0 5.0,0a2.5,2.5 0 1,0 -5.0,0M223.4,220.3a2.5,2.5 0 1,0 5.0,0a2.5,2.5 0 1,0 -5.0,0M222.8,218.6a2.5,2.5 0 1,0 5.0,0a2.5,2.5 0 1,0 -5.0,0M223.6,218.3a2.5,2.5 0 1,0 5.0,0a2.5,2.5 0 1,0 -5.0,0M224.0,220.5a2.5,2.5 0 1,0 5.0,0a2.5,2.5 0 1,0 -5.0,0M225.6,219.6a2.5,2.5 0 1,0 5.0,0a2.5,2.5 0 1,0 -5.0,0M227.4,221.2a2.5,2.5 0 1,0 5.0,0a2.5,2.5 0 1,0 -5.0,0M226.6,221.6a2.5,2.5 0 1,0 5.0,0a2.5,2.5 0 1,0 -5.0,0M228.9,223.6a2.5,2.5 0 1,0 5.0,0a2.5,2.5 0 1,0 -5.0,0M227.2,224.3a2.5,2.5 0 1,0 5.0,0a2.5,2.5 0 1,0 -5.0,0M229.8,225.7a2.5,2.5 0 1,0 5.0,0a2.5,2.5 0 1,0 -5.0,0M228.4,226.0a2.5,2.5 0 1,0 5.0,0a2.5,2.5 0 1,0 -5.0,0M229.4,228.1a2.5,2.5 0 1,0 5.0,0a2.5,2.5 0 1,0 -5.0,0M228.8,228.6a2.5,2.5 0 1,0 5.0,0a2.5,2.5 0 1,0 -5.0,0M231.2,231.0a2.5,2.5 0 1,0 5.0,0a2.5,2.5 0 1,0 -5.0,0M230.5,230.8a2.5,2.5 0 1,0 5.0,0a2.5,2.5 0 1,0 -5.0,0M231.3,233.1a2.5,2.5 0 1,0 5.0,0a2.5,2.5 0 1,0 -5.0,0M228.6,233.3a2.5,2.5 0 1,0 5.0,0a2.5,2.5 0 1,0 -5.0,0M229.0,235.6a2.5,2.5 0 1,0 5.0,0a2.5,2.5 0 1,0 -5.0,0M230.9,236.2a2.5,2.5 0 1,0 5.0,0a2.5,2.5 0 1,0 -5.0,0M228.8,239.1a2.5,2.5 0 1,0 5.0,0a2.5,2.5 0 1,0 -5.0,0M231.0,239.0a2.5,2.5 0 1,0 5.0,0a2.5,2.5 0 1,0 -5.0,0M230.6,236.7a2.5,2.5 0 1,0 5.0,0a2.5,2.5 0 1,0 -5.0,0M232.6,237.1a2.5,2.5 0 1,0 5.0,0a2.5,2.5 0 1,0 -5.0,0M232.6,235.0a2.5,2.5 0 1,0 5.0,0a2.5,2.5 0 1,0 -5.0,0M231.7,234.7a2.5,2.5 0 1,0 5.0,0a2.5,2.5 0 1,0 -5.0,0M233.2,233.0a2.5,2.5 0 1,0 5.0,0a2.5,2.5 0 1,0 -5.0,0M230.4,231.9a2.5,2.5 0 1,0 5.0,0a2.5,2.5 0 1,0 -5.0,0M233.0,230.1a2.5,2.5 0 1,0 5.0,0a2.5,2.5 0 1,0 -5.0,0M233.0,230.1a2.5,2.5 0 1,0 5.0,0a2.5,2.5 0 1,0 -5.0,0M235.8,232.0a2.5,2.5 0 1,0 5.0,0a2.5,2.5 0 1,0 -5.0,0M235.6,231.8a2.5,2.5 0 1,0 5.0,0a2.5,2.5 0 1,0 -5.0,0M235.4,229.6a2.5,2.5 0 1,0 5.0,0a2.5,2.5 0 1,0 -5.0,0M235.4,230.0a2.5,2.5 0 1,0 5.0,0a2.5,2.5 0 1,0 -5.0,0M235.9,227.2a2.5,2.5 0 1,0 5.0,0a2.5,2.5 0 1,0 -5.0,0M234.9,227.5a2.5,2.5 0 1,0 5.0,0a2.5,2.5 0 1,0 -5.0,0M236.1,225.7a2.5,2.5 0 1,0 5.0,0a2.5,2.5 0 1,0 -5.0,0M235.9,225.5a2.5,2.5 0 1,0 5.0,0a2.5,2.5 0 1,0 -5.0,0M237.8,223.7a2.5,2.5 0 1,0 5.0,0a2.5,2.5 0 1,0 -5.0,0M237.4,223.2a2.5,2.5 0 1,0 5.0,0a2.5,2.5 0 1,0 -5.0,0M237.7,221.5a2.5,2.5 0 1,0 5.0,0a2.5,2.5 0 1,0 -5.0,0M238.5,222.0a2.5,2.5 0 1,0 5.0,0a2.5,2.5 0 1,0 -5.0,0M238.5,219.2a2.5,2.5 0 1,0 5.0,0a2.5,2.5 0 1,0 -5.0,0M238.5,218.7a2.5,2.5 0 1,0 5.0,0a2.5,2.5 0 1,0 -5.0,0M241.6,219.7a2.5,2.5 0 1,0 5.0,0a2.5,2.5 0 1,0 -5.0,0M241.2,220.0a2.5,2.5 0 1,0 5.0,0a2.5,2.5 0 1,0 -5.0,0M244.6,217.7a2.5,2.5 0 1,0 5.0,0a2.5,2.5 0 1,0 -5.0,0M245.0,219.4a2.5,2.5 0 1,0 5.0,0a2.5,2.5 0 1,0 -5.0,0M247.6,218.3a2.5,2.5 0 1,0 5.0,0a2.5,2.5 0 1,0 -5.0,0M247.5,217.7a2.5,2.5 0 1,0 5.0,0a2.5,2.5 0 1,0 -5.0,0M251.2,217.6a2.5,2.5 0 1,0 5.0,0a2.5,2.5 0 1,0 -5.0,0M249.6,218.5a2.5,2.5 0 1,0 5.0,0a2.5,2.5 0 1,0 -5.0,0M253.2,222.7a2.5,2.5 0 1,0 5.0,0a2.5,2.5 0 1,0 -5.0,0M253.3,222.7a2.5,2.5 0 1,0 5.0,0a2.5,2.5 0 1,0 -5.0,0M257.3,221.2a2.5,2.5 0 1,0 5.0,0a2.5,2.5 0 1,0 -5.0,0M256.2,221.7a2.5,2.5 0 1,0 5.0,0a2.5,2.5 0 1,0 -5.0,0M257.7,224.1a2.5,2.5 0 1,0 5.0,0a2.5,2.5 0 1,0 -5.0,0M256.6,224.7a2.5,2.5 0 1,0 5.0,0a2.5,2.5 0 1,0 -5.0,0M260.1,225.7a2.5,2.5 0 1,0 5.0,0a2.5,2.5 0 1,0 -5.0,0M258.4,226.1a2.5,2.5 0 1,0 5.0,0a2.5,2.5 0 1,0 -5.0,0M259.4,228.7a2.5,2.5 0 1,0 5.0,0a2.5,2.5 0 1,0 -5.0,0M261.5,227.5a2.5,2.5 0 1,0 5.0,0a2.5,2.5 0 1,0 -5.0,0M260.8,229.8a2.5,2.5 0 1,0 5.0,0a2.5,2.5 0 1,0 -5.0,0M263.4,230.5a2.5,2.5 0 1,0 5.0,0a2.5,2.5 0 1,0 -5.0,0M260.5,227.6a2.5,2.5 0 1,0 5.0,0a2.5,2.5 0 1,0 -5.0,0M260.4,226.9a2.5,2.5 0 1,0 5.0,0a2.5,2.5 0 1,0 -5.0,0M263.4,225.6a2.5,2.5 0 1,0 5.0,0a2.5,2.5 0 1,0 -5.0,0M263.7,225.4a2.5,2.5 0 1,0 5.0,0a2.5,2.5 0 1,0 -5.0,0M264.5,223.8a2.5,2.5 0 1,0 5.0,0a2.5,2.5 0 1,0 -5.0,0M262.9,222.8a2.5,2.5 0 1,0 5.0,0a2.5,2.5 0 1,0 -5.0,0M266.0,220.0a2.5,2.5 0 1,0 5.0,0a2.5,2.5 0 1,0 -5.0,0M264.9,220.5a2.5,2.5 0 1,0 5.0,0a2.5,2.5 0 1,0 -5.0,0M267.0,222.7a2.5,2.5 0 1,0 5.0,0a2.5,2.5 0 1,0 -5.0,0M268.4,225.6a2.5,2.5 0 1,0 5.0,0a2.5,2.5 0 1,0 -5.0,0M270.9,222.0a2.5,2.5 0 1,0 5.0,0a2.5,2.5 0 1,0 -5.0,0M269.1,223.0a2.5,2.5 0 1,0 5.0,0a2.5,2.5 0 1,0 -5.0,0M270.2,224.6a2.5,2.5 0 1,0 5.0,0a2.5,2.5 0 1,0 -5.0,0M269.9,225.2a2.5,2.5 0 1,0 5.0,0a2.5,2.5 0 1,0 -5.0,0M273.3,225.8a2.5,2.5 0 1,0 5.0,0a2.5,2.5 0 1,0 -5.0,0M273.3,225.9a2.5,2.5 0 1,0 5.0,0a2.5,2.5 0 1,0 -5.0,0M273.8,227.7a2.5,2.5 0 1,0 5.0,0a2.5,2.5 0 1,0 -5.0,0M274.5,227.1a2.5,2.5 0 1,0 5.0,0a2.5,2.5 0 1,0 -5.0,0M272.7,230.9a2.5,2.5 0 1,0 5.0,0a2.5,2.5 0 1,0 -5.0,0M275.8,229.2a2.5,2.5 0 1,0 5.0,0a2.5,2.5 0 1,0 -5.0,0M274.8,231.4a2.5,2.5 0 1,0 5.0,0a2.5,2.5 0 1,0 -5.0,0M276.4,232.4a2.5,2.5 0 1,0 5.0,0a2.5,2.5 0 1,0 -5.0,0M275.8,228.6a2.5,2.5 0 1,0 5.0,0a2.5,2.5 0 1,0 -5.0,0M275.6,228.4a2.5,2.5 0 1,0 5.0,0a2.5,2.5 0 1,0 -5.0,0M277.4,226.3a2.5,2.5 0 1,0 5.0,0a2.5,2.5 0 1,0 -5.0,0M278.0,226.5a2.5,2.5 0 1,0 5.0,0a2.5,2.5 0 1,0 -5.0,0M279.1,224.8a2.5,2.5 0 1,0 5.0,0a2.5,2.5 0 1,0 -5.0,0M277.6,224.5a2.5,2.5 0 1,0 5.0,0a2.5,2.5 0 1,0 -5.0,0M280.4,221.6a2.5,2.5 0 1,0 5.0,0a2.5,2.5 0 1,0 -5.0,0M277.8,222.0a2.5,2.5 0 1,0 5.0,0a2.5,2.5 0 1,0 -5.0,0M279.7,224.6a2.5,2.5 0 1,0 5.0,0a2.5,2.5 0 1,0 -5.0,0M281.2,224.3a2.5,2.5 0 1,0 5.0,0a2.5,2.5 0 1,0 -5.0,0M280.5,226.8a2.5,2.5 0 1,0 5.0,0a2.5,2.5 0 1,0 -5.0,0M281.7,226.2a2.5,2.5 0 1,0 5.0,0a2.5,2.5 0 1,0 -5.0,0M280.7,229.0a2.5,2.5 0 1,0 5.0,0a2.5,2.5 0 1,0 -5.0,0M279.6,229.5a2.5,2.5 0 1,0 5.0,0a2.5,2.5 0 1,0 -5.0,0M280.7,231.5a2.5,2.5 0 1,0 5.0,0a2.5,2.5 0 1,0 -5.0,0M282.3,231.7a2.5,2.5 0 1,0 5.0,0a2.5,2.5 0 1,0 -5.0,0M281.0,233.4a2.5,2.5 0 1,0 5.0,0a2.5,2.5 0 1,0 -5.0,0M281.6,234.1a2.5,2.5 0 1,0 5.0,0a2.5,2.5 0 1,0 -5.0,0M281.3,231.0a2.5,2.5 0 1,0 5.0,0a2.5,2.5 0 1,0 -5.0,0M281.2,231.3a2.5,2.5 0 1,0 5.0,0a2.5,2.5 0 1,0 -5.0,0M283.1,228.6a2.5,2.5 0 1,0 5.0,0a2.5,2.5 0 1,0 -5.0,0M284.2,230.4a2.5,2.5 0 1,0 5.0,0a2.5,2.5 0 1,0 -5.0,0M284.9,227.2a2.5,2.5 0 1,0 5.0,0a2.5,2.5 0 1,0 -5.0,0M287.3,228.0a2.5,2.5 0 1,0 5.0,0a2.5,2.5 0 1,0 -5.0,0M287.0,225.5a2.5,2.5 0 1,0 5.0,0a2.5,2.5 0 1,0 -5.0,0M286.6,225.0a2.5,2.5 0 1,0 5.0,0a2.5,2.5 0 1,0 -5.0,0M288.0,222.4a2.5,2.5 0 1,0 5.0,0a2.5,2.5 0 1,0 -5.0,0M289.6,223.3a2.5,2.5 0 1,0 5.0,0a2.5,2.5 0 1,0 -5.0,0M289.7,219.2a2.5,2.5 0 1,0 5.0,0a2.5,2.5 0 1,0 -5.0,0M289.4,219.6a2.5,2.5 0 1,0 5.0,0a2.5,2.5 0 1,0 -5.0,0M290.7,222.0a2.5,2.5 0 1,0 5.0,0a2.5,2.5 0 1,0 -5.0,0M290.7,222.1a2.5,2.5 0 1,0 5.0,0a2.5,2.5 0 1,0 -5.0,0M288.8,224.8a2.5,2.5 0 1,0 5.0,0a2.5,2.5 0 1,0 -5.0,0M289.0,224.4a2.5,2.5 0 1,0 5.0,0a2.5,2.5 0 1,0 -5.0,0M291.2,228.0a2.5,2.5 0 1,0 5.0,0a2.5,2.5 0 1,0 -5.0,0M290.3,225.5a2.5,2.5 0 1,0 5.0,0a2.5,2.5 0 1,0 -5.0,0M294.8,224.8a2.5,2.5 0 1,0 5.0,0a2.5,2.5 0 1,0 -5.0,0M292.2,226.9a2.5,2.5 0 1,0 5.0,0a2.5,2.5 0 1,0 -5.0,0M293.2,228.6a2.5,2.5 0 1,0 5.0,0a2.5,2.5 0 1,0 -5.0,0M295.1,228.1a2.5,2.5 0 1,0 5.0,0a2.5,2.5 0 1,0 -5.0,0M295.9,230.4a2.5,2.5 0 1,0 5.0,0a2.5,2.5 0 1,0 -5.0,0M296.2,230.2a2.5,2.5 0 1,0 5.0,0a2.5,2.5 0 1,0 -5.0,0M295.2,232.5a2.5,2.5 0 1,0 5.0,0a2.5,2.5 0 1,0 -5.0,0M295.5,232.4a2.5,2.5 0 1,0 5.0,0a2.5,2.5 0 1,0 -5.0,0M296.3,234.9a2.5,2.5 0 1,0 5.0,0a2.5,2.5 0 1,0 -5.0,0M297.7,233.9a2.5,2.5 0 1,0 5.0,0a2.5,2.5 0 1,0 -5.0,0M295.8,236.6a2.5,2.5 0 1,0 5.0,0a2.5,2.5 0 1,0 -5.0,0M296.5,236.9a2.5,2.5 0 1,0 5.0,0a2.5,2.5 0 1,0 -5.0,0M296.4,238.6a2.5,2.5 0 1,0 5.0,0a2.5,2.5 0 1,0 -5.0,0M295.9,238.5a2.5,2.5 0 1,0 5.0,0a2.5,2.5 0 1,0 -5.0,0M296.5,236.9a2.5,2.5 0 1,0 5.0,0a2.5,2.5 0 1,0 -5.0,0M297.8,237.0a2.5,2.5 0 1,0 5.0,0a2.5,2.5 0 1,0 -5.0,0M298.5,235.5a2.5,2.5 0 1,0 5.0,0a2.5,2.5 0 1,0 -5.0,0M297.9,235.0a2.5,2.5 0 1,0 5.0,0a2.5,2.5 0 1,0 -5.0,0M300.6,230.9a2.5,2.5 0 1,0 5.0,0a2.5,2.5 0 1,0 -5.0,0M302.4,233.1a2.5,2.5 0 1,0 5.0,0a2.5,2.5 0 1,0 -5.0,0M305.9,228.8a2.5,2.5 0 1,0 5.0,0a2.5,2.5 0 1,0 -5.0,0M304.9,229.3a2.5,2.5 0 1,0 5.0,0a2.5,2.5 0 1,0 -5.0,0M306.2,230.8a2.5,2.5 0 1,0 5.0,0a2.5,2.5 0 1,0 -5.0,0M305.6,230.8a2.5,2.5 0 1,0 5.0,0a2.5,2.5 0 1,0 -5.0,0M306.8,233.2a2.5,2.5 0 1,0 5.0,0a2.5,2.5 0 1,0 -5.0,0M306.8,233.1a2.5,2.5 0 1,0 5.0,0a2.5,2.5 0 1,0 -5.0,0M306.2,235.2a2.5,2.5 0 1,0 5.0,0a2.5,2.5 0 1,0 -5.0,0M308.3,235.6a2.5,2.5 0 1,0 5.0,0a2.5,2.5 0 1,0 -5.0,0M306.7,236.9a2.5,2.5 0 1,0 5.0,0a2.5,2.5 0 1,0 -5.0,0M306.1,238.2a2.5,2.5 0 1,0 5.0,0a2.5,2.5 0 1,0 -5.0,0M300.5,248.0a2.5,2.5 0 1,0 5.0,0a2.5,2.5 0 1,0 -5.0,0M297.4,229.9a2.5,2.5 0 1,0 5.0,0a2.5,2.5 0 1,0 -5.0,0M299.2,229.2a2.5,2.5 0 1,0 5.0,0a2.5,2.5 0 1,0 -5.0,0M299.1,232.4a2.5,2.5 0 1,0 5.0,0a2.5,2.5 0 1,0 -5.0,0M299.4,231.1a2.5,2.5 0 1,0 5.0,0a2.5,2.5 0 1,0 -5.0,0M299.4,233.6a2.5,2.5 0 1,0 5.0,0a2.5,2.5 0 1,0 -5.0,0M299.6,233.8a2.5,2.5 0 1,0 5.0,0a2.5,2.5 0 1,0 -5.0,0M302.9,232.2a2.5,2.5 0 1,0 5.0,0a2.5,2.5 0 1,0 -5.0,0M302.7,232.7a2.5,2.5 0 1,0 5.0,0a2.5,2.5 0 1,0 -5.0,0M301.7,230.1a2.5,2.5 0 1,0 5.0,0a2.5,2.5 0 1,0 -5.0,0M301.8,229.8a2.5,2.5 0 1,0 5.0,0a2.5,2.5 0 1,0 -5.0,0M303.7,227.3a2.5,2.5 0 1,0 5.0,0a2.5,2.5 0 1,0 -5.0,0M303.1,226.7a2.5,2.5 0 1,0 5.0,0a2.5,2.5 0 1,0 -5.0,0M306.7,228.5a2.5,2.5 0 1,0 5.0,0a2.5,2.5 0 1,0 -5.0,0M306.5,228.5a2.5,2.5 0 1,0 5.0,0a2.5,2.5 0 1,0 -5.0,0M308.8,226.0a2.5,2.5 0 1,0 5.0,0a2.5,2.5 0 1,0 -5.0,0M309.2,225.3a2.5,2.5 0 1,0 5.0,0a2.5,2.5 0 1,0 -5.0,0M312.1,226.5a2.5,2.5 0 1,0 5.0,0a2.5,2.5 0 1,0 -5.0,0M312.5,225.6a2.5,2.5 0 1,0 5.0,0a2.5,2.5 0 1,0 -5.0,0M313.4,229.9a2.5,2.5 0 1,0 5.0,0a2.5,2.5 0 1,0 -5.0,0M313.9,229.2a2.5,2.5 0 1,0 5.0,0a2.5,2.5 0 1,0 -5.0,0M313.5,232.5a2.5,2.5 0 1,0 5.0,0a2.5,2.5 0 1,0 -5.0,0M312.9,232.1a2.5,2.5 0 1,0 5.0,0a2.5,2.5 0 1,0 -5.0,0M311.1,234.1a2.5,2.5 0 1,0 5.0,0a2.5,2.5 0 1,0 -5.0,0M311.8,234.7a2.5,2.5 0 1,0 5.0,0a2.5,2.5 0 1,0 -5.0,0M309.1,235.7a2.5,2.5 0 1,0 5.0,0a2.5,2.5 0 1,0 -5.0,0M310.7,235.7a2.5,2.5 0 1,0 5.0,0a2.5,2.5 0 1,0 -5.0,0M308.9,239.6a2.5,2.5 0 1,0 5.0,0a2.5,2.5 0 1,0 -5.0,0M308.9,239.4a2.5,2.5 0 1,0 5.0,0a2.5,2.5 0 1,0 -5.0,0M309.9,243.2a2.5,2.5 0 1,0 5.0,0a2.5,2.5 0 1,0 -5.0,0M310.2,242.4a2.5,2.5 0 1,0 5.0,0a2.5,2.5 0 1,0 -5.0,0M312.7,244.1a2.5,2.5 0 1,0 5.0,0a2.5,2.5 0 1,0 -5.0,0M313.0,242.2a2.5,2.5 0 1,0 5.0,0a2.5,2.5 0 1,0 -5.0,0M316.7,242.7a2.5,2.5 0 1,0 5.0,0a2.5,2.5 0 1,0 -5.0,0M315.3,243.1a2.5,2.5 0 1,0 5.0,0a2.5,2.5 0 1,0 -5.0,0M317.0,245.8a2.5,2.5 0 1,0 5.0,0a2.5,2.5 0 1,0 -5.0,0M316.5,245.9a2.5,2.5 0 1,0 5.0,0a2.5,2.5 0 1,0 -5.0,0M318.2,248.7a2.5,2.5 0 1,0 5.0,0a2.5,2.5 0 1,0 -5.0,0M317.0,249.5a2.5,2.5 0 1,0 5.0,0a2.5,2.5 0 1,0 -5.0,0M319.8,252.4a2.5,2.5 0 1,0 5.0,0a2.5,2.5 0 1,0 -5.0,0M320.2,252.4a2.5,2.5 0 1,0 5.0,0a2.5,2.5 0 1,0 -5.0,0M319.4,254.0a2.5,2.5 0 1,0 5.0,0a2.5,2.5 0 1,0 -5.0,0M318.5,253.6a2.5,2.5 0 1,0 5.0,0a2.5,2.5 0 1,0 -5.0,0M317.4,255.8a2.5,2.5 0 1,0 5.0,0a2.5,2.5 0 1,0 -5.0,0M316.4,256.6a2.5,2.5 0 1,0 5.0,0a2.5,2.5 0 1,0 -5.0,0M317.9,260.3a2.5,2.5 0 1,0 5.0,0a2.5,2.5 0 1,0 -5.0,0M317.9,260.0a2.5,2.5 0 1,0 5.0,0a2.5,2.5 0 1,0 -5.0,0M322.4,260.2a2.5,2.5 0 1,0 5.0,0a2.5,2.5 0 1,0 -5.0,0M322.7,259.8a2.5,2.5 0 1,0 5.0,0a2.5,2.5 0 1,0 -5.0,0M324.4,262.4a2.5,2.5 0 1,0 5.0,0a2.5,2.5 0 1,0 -5.0,0M325.3,261.8a2.5,2.5 0 1,0 5.0,0a2.5,2.5 0 1,0 -5.0,0M329.2,265.0a2.5,2.5 0 1,0 5.0,0a2.5,2.5 0 1,0 -5.0,0M329.1,265.1a2.5,2.5 0 1,0 5.0,0a2.5,2.5 0 1,0 -5.0,0M329.6,270.6a2.5,2.5 0 1,0 5.0,0a2.5,2.5 0 1,0 -5.0,0M329.2,270.5a2.5,2.5 0 1,0 5.0,0a2.5,2.5 0 1,0 -5.0,0M333.1,268.7a2.5,2.5 0 1,0 5.0,0a2.5,2.5 0 1,0 -5.0,0M331.5,269.8a2.5,2.5 0 1,0 5.0,0a2.5,2.5 0 1,0 -5.0,0M336.4,271.9a2.5,2.5 0 1,0 5.0,0a2.5,2.5 0 1,0 -5.0,0M334.8,269.3a2.5,2.5 0 1,0 5.0,0a2.5,2.5 0 1,0 -5.0,0M339.0,268.6a2.5,2.5 0 1,0 5.0,0a2.5,2.5 0 1,0 -5.0,0M340.0,269.1a2.5,2.5 0 1,0 5.0,0a2.5,2.5 0 1,0 -5.0,0M338.0,266.9a2.5,2.5 0 1,0 5.0,0a2.5,2.5 0 1,0 -5.0,0M338.9,266.3a2.5,2.5 0 1,0 5.0,0a2.5,2.5 0 1,0 -5.0,0M338.5,263.9a2.5,2.5 0 1,0 5.0,0a2.5,2.5 0 1,0 -5.0,0M339.5,264.7a2.5,2.5 0 1,0 5.0,0a2.5,2.5 0 1,0 -5.0,0M339.3,262.5a2.5,2.5 0 1,0 5.0,0a2.5,2.5 0 1,0 -5.0,0M340.3,262.6a2.5,2.5 0 1,0 5.0,0a2.5,2.5 0 1,0 -5.0,0M338.7,260.5a2.5,2.5 0 1,0 5.0,0a2.5,2.5 0 1,0 -5.0,0M341.5,259.9a2.5,2.5 0 1,0 5.0,0a2.5,2.5 0 1,0 -5.0,0M340.1,262.1a2.5,2.5 0 1,0 5.0,0a2.5,2.5 0 1,0 -5.0,0M340.7,262.4a2.5,2.5 0 1,0 5.0,0a2.5,2.5 0 1,0 -5.0,0M342.2,264.3a2.5,2.5 0 1,0 5.0,0a2.5,2.5 0 1,0 -5.0,0M343.2,264.0a2.5,2.5 0 1,0 5.0,0a2.5,2.5 0 1,0 -5.0,0M344.3,265.7a2.5,2.5 0 1,0 5.0,0a2.5,2.5 0 1,0 -5.0,0M342.0,266.2a2.5,2.5 0 1,0 5.0,0a2.5,2.5 0 1,0 -5.0,0M344.7,268.3a2.5,2.5 0 1,0 5.0,0a2.5,2.5 0 1,0 -5.0,0M343.5,268.6a2.5,2.5 0 1,0 5.0,0a2.5,2.5 0 1,0 -5.0,0M343.0,270.7a2.5,2.5 0 1,0 5.0,0a2.5,2.5 0 1,0 -5.0,0M342.9,271.3a2.5,2.5 0 1,0 5.0,0a2.5,2.5 0 1,0 -5.0,0M342.9,268.8a2.5,2.5 0 1,0 5.0,0a2.5,2.5 0 1,0 -5.0,0M343.7,268.7a2.5,2.5 0 1,0 5.0,0a2.5,2.5 0 1,0 -5.0,0M344.2,266.6a2.5,2.5 0 1,0 5.0,0a2.5,2.5 0 1,0 -5.0,0M346.9,266.3a2.5,2.5 0 1,0 5.0,0a2.5,2.5 0 1,0 -5.0,0M345.6,264.8a2.5,2.5 0 1,0 5.0,0a2.5,2.5 0 1,0 -5.0,0M346.1,264.6a2.5,2.5 0 1,0 5.0,0a2.5,2.5 0 1,0 -5.0,0M344.6,262.5a2.5,2.5 0 1,0 5.0,0a2.5,2.5 0 1,0 -5.0,0M347.0,262.5a2.5,2.5 0 1,0 5.0,0a2.5,2.5 0 1,0 -5.0,0M345.4,259.7a2.5,2.5 0 1,0 5.0,0a2.5,2.5 0 1,0 -5.0,0M345.7,259.9a2.5,2.5 0 1,0 5.0,0a2.5,2.5 0 1,0 -5.0,0M348.5,257.7a2.5,2.5 0 1,0 5.0,0a2.5,2.5 0 1,0 -5.0,0M347.9,258.1a2.5,2.5 0 1,0 5.0,0a2.5,2.5 0 1,0 -5.0,0M351.3,254.7a2.5,2.5 0 1,0 5.0,0a2.5,2.5 0 1,0 -5.0,0M350.6,254.1a2.5,2.5 0 1,0 5.0,0a2.5,2.5 0 1,0 -5.0,0M352.1,252.0a2.5,2.5 0 1,0 5.0,0a2.5,2.5 0 1,0 -5.0,0M352.9,252.7a2.5,2.5 0 1,0 5.0,0a2.5,2.5 0 1,0 -5.0,0M353.2,250.2a2.5,2.5 0 1,0 5.0,0a2.5,2.5 0 1,0 -5.0,0M354.2,250.7a2.5,2.5 0 1,0 5.0,0a2.5,2.5 0 1,0 -5.0,0M356.3,249.9a2.5,2.5 0 1,0 5.0,0a2.5,2.5 0 1,0 -5.0,0M356.1,248.0a2.5,2.5 0 1,0 5.0,0a2.5,2.5 0 1,0 -5.0,0M358.8,257.2a2.5,2.5 0 1,0 5.0,0a2.5,2.5 0 1,0 -5.0,0M357.8,258.5a2.5,2.5 0 1,0 5.0,0a2.5,2.5 0 1,0 -5.0,0M362.1,257.1a2.5,2.5 0 1,0 5.0,0a2.5,2.5 0 1,0 -5.0,0M361.3,257.1a2.5,2.5 0 1,0 5.0,0a2.5,2.5 0 1,0 -5.0,0M364.6,259.3a2.5,2.5 0 1,0 5.0,0a2.5,2.5 0 1,0 -5.0,0M364.5,259.0a2.5,2.5 0 1,0 5.0,0a2.5,2.5 0 1,0 -5.0,0M364.8,262.4a2.5,2.5 0 1,0 5.0,0a2.5,2.5 0 1,0 -5.0,0M366.3,261.7a2.5,2.5 0 1,0 5.0,0a2.5,2.5 0 1,0 -5.0,0M365.3,264.6a2.5,2.5 0 1,0 5.0,0a2.5,2.5 0 1,0 -5.0,0M364.5,264.6a2.5,2.5 0 1,0 5.0,0a2.5,2.5 0 1,0 -5.0,0M367.5,264.9a2.5,2.5 0 1,0 5.0,0a2.5,2.5 0 1,0 -5.0,0M367.9,266.4a2.5,2.5 0 1,0 5.0,0a2.5,2.5 0 1,0 -5.0,0M370.2,265.3a2.5,2.5 0 1,0 5.0,0a2.5,2.5 0 1,0 -5.0,0M370.2,265.4a2.5,2.5 0 1,0 5.0,0a2.5,2.5 0 1,0 -5.0,0M373.5,263.7a2.5,2.5 0 1,0 5.0,0a2.5,2.5 0 1,0 -5.0,0M372.0,266.5a2.5,2.5 0 1,0 5.0,0a2.5,2.5 0 1,0 -5.0,0M374.5,267.9a2.5,2.5 0 1,0 5.0,0a2.5,2.5 0 1,0 -5.0,0M376.6,265.6a2.5,2.5 0 1,0 5.0,0a2.5,2.5 0 1,0 -5.0,0M376.2,271.3a2.5,2.5 0 1,0 5.0,0a2.5,2.5 0 1,0 -5.0,0M376.9,269.6a2.5,2.5 0 1,0 5.0,0a2.5,2.5 0 1,0 -5.0,0M380.3,268.7a2.5,2.5 0 1,0 5.0,0a2.5,2.5 0 1,0 -5.0,0M381.0,268.1a2.5,2.5 0 1,0 5.0,0a2.5,2.5 0 1,0 -5.0,0M382.6,271.2a2.5,2.5 0 1,0 5.0,0a2.5,2.5 0 1,0 -5.0,0M382.5,271.6a2.5,2.5 0 1,0 5.0,0a2.5,2.5 0 1,0 -5.0,0M384.5,272.8a2.5,2.5 0 1,0 5.0,0a2.5,2.5 0 1,0 -5.0,0M385.0,272.5a2.5,2.5 0 1,0 5.0,0a2.5,2.5 0 1,0 -5.0,0M387.3,273.1a2.5,2.5 0 1,0 5.0,0a2.5,2.5 0 1,0 -5.0,0M388.1,271.5a2.5,2.5 0 1,0 5.0,0a2.5,2.5 0 1,0 -5.0,0M390.4,272.0a2.5,2.5 0 1,0 5.0,0a2.5,2.5 0 1,0 -5.0,0M389.9,274.0a2.5,2.5 0 1,0 5.0,0a2.5,2.5 0 1,0 -5.0,0M390.8,277.1a2.5,2.5 0 1,0 5.0,0a2.5,2.5 0 1,0 -5.0,0M393.3,273.1a2.5,2.5 0 1,0 5.0,0a2.5,2.5 0 1,0 -5.0,0M396.3,275.4a2.5,2.5 0 1,0 5.0,0a2.5,2.5 0 1,0 -5.0,0M396.4,275.7a2.5,2.5 0 1,0 5.0,0a2.5,2.5 0 1,0 -5.0,0M398.0,277.8a2.5,2.5 0 1,0 5.0,0a2.5,2.5 0 1,0 -5.0,0M396.1,280.3a2.5,2.5 0 1,0 5.0,0a2.5,2.5 0 1,0 -5.0,0M399.1,282.1a2.5,2.5 0 1,0 5.0,0a2.5,2.5 0 1,0 -5.0,0M400.1,280.3a2.5,2.5 0 1,0 5.0,0a2.5,2.5 0 1,0 -5.0,0M403.5,282.8a2.5,2.5 0 1,0 5.0,0a2.5,2.5 0 1,0 -5.0,0M403.5,283.6a2.5,2.5 0 1,0 5.0,0a2.5,2.5 0 1,0 -5.0,0M402.6,279.3a2.5,2.5 0 1,0 5.0,0a2.5,2.5 0 1,0 -5.0,0M405.7,280.5a2.5,2.5 0 1,0 5.0,0a2.5,2.5 0 1,0 -5.0,0M405.2,278.0a2.5,2.5 0 1,0 5.0,0a2.5,2.5 0 1,0 -5.0,0M405.5,277.6a2.5,2.5 0 1,0 5.0,0a2.5,2.5 0 1,0 -5.0,0M404.7,274.8a2.5,2.5 0 1,0 5.0,0a2.5,2.5 0 1,0 -5.0,0M404.7,275.1a2.5,2.5 0 1,0 5.0,0a2.5,2.5 0 1,0 -5.0,0M406.1,272.5a2.5,2.5 0 1,0 5.0,0a2.5,2.5 0 1,0 -5.0,0M406.5,273.5a2.5,2.5 0 1,0 5.0,0a2.5,2.5 0 1,0 -5.0,0M408.6,271.4a2.5,2.5 0 1,0 5.0,0a2.5,2.5 0 1,0 -5.0,0M408.4,270.9a2.5,2.5 0 1,0 5.0,0a2.5,2.5 0 1,0 -5.0,0M408.2,268.0a2.5,2.5 0 1,0 5.0,0a2.5,2.5 0 1,0 -5.0,0M408.8,268.5a2.5,2.5 0 1,0 5.0,0a2.5,2.5 0 1,0 -5.0,0M409.3,265.8a2.5,2.5 0 1,0 5.0,0a2.5,2.5 0 1,0 -5.0,0M410.1,266.7a2.5,2.5 0 1,0 5.0,0a2.5,2.5 0 1,0 -5.0,0M409.2,264.1a2.5,2.5 0 1,0 5.0,0a2.5,2.5 0 1,0 -5.0,0M409.3,263.9a2.5,2.5 0 1,0 5.0,0a2.5,2.5 0 1,0 -5.0,0M363.0,253.5a2.5,2.5 0 1,0 5.0,0a2.5,2.5 0 1,0 -5.0,0M372.0,259.0a2.5,2.5 0 1,0 5.0,0a2.5,2.5 0 1,0 -5.0,0M367.5,272.5a2.5,2.5 0 1,0 5.0,0a2.5,2.5 0 1,0 -5.0,0M381.5,264.0a2.5,2.5 0 1,0 5.0,0a2.5,2.5 0 1,0 -5.0,0M384.5,267.0a2.5,2.5 0 1,0 5.0,0a2.5,2.5 0 1,0 -5.0,0M387.0,265.5a2.5,2.5 0 1,0 5.0,0a2.5,2.5 0 1,0 -5.0,0M383.5,279.0a2.5,2.5 0 1,0 5.0,0a2.5,2.5 0 1,0 -5.0,0M390.5,277.0a2.5,2.5 0 1,0 5.0,0a2.5,2.5 0 1,0 -5.0,0M403.5,284.0a2.5,2.5 0 1,0 5.0,0a2.5,2.5 0 1,0 -5.0,0M400.5,281.0a2.5,2.5 0 1,0 5.0,0a2.5,2.5 0 1,0 -5.0,0M408.5,242.0a2.5,2.5 0 1,0 5.0,0a2.5,2.5 0 1,0 -5.0,0M410.5,244.0a2.5,2.5 0 1,0 5.0,0a2.5,2.5 0 1,0 -5.0,0M411.5,248.0a2.5,2.5 0 1,0 5.0,0a2.5,2.5 0 1,0 -5.0,0M408.5,249.0a2.5,2.5 0 1,0 5.0,0a2.5,2.5 0 1,0 -5.0,0M412.5,253.0a2.5,2.5 0 1,0 5.0,0a2.5,2.5 0 1,0 -5.0,0M409.5,262.0a2.5,2.5 0 1,0 5.0,0a2.5,2.5 0 1,0 -5.0,0M409.5,268.0a2.5,2.5 0 1,0 5.0,0a2.5,2.5 0 1,0 -5.0,0M415.5,266.0a2.5,2.5 0 1,0 5.0,0a2.5,2.5 0 1,0 -5.0,0M414.5,274.0a2.5,2.5 0 1,0 5.0,0a2.5,2.5 0 1,0 -5.0,0M413.5,282.0a2.5,2.5 0 1,0 5.0,0a2.5,2.5 0 1,0 -5.0,0M409.5,243.0a2.5,2.5 0 1,0 5.0,0a2.5,2.5 0 1,0 -5.0,0M411.5,248.0a2.5,2.5 0 1,0 5.0,0a2.5,2.5 0 1,0 -5.0,0M412.5,254.0a2.5,2.5 0 1,0 5.0,0a2.5,2.5 0 1,0 -5.0,0M409.5,262.0a2.5,2.5 0 1,0 5.0,0a2.5,2.5 0 1,0 -5.0,0M408.5,270.0a2.5,2.5 0 1,0 5.0,0a2.5,2.5 0 1,0 -5.0,0M413.5,274.0a2.5,2.5 0 1,0 5.0,0a2.5,2.5 0 1,0 -5.0,0M414.5,282.0a2.5,2.5 0 1,0 5.0,0a2.5,2.5 0 1,0 -5.0,0M416.5,268.0a2.5,2.5 0 1,0 5.0,0a2.5,2.5 0 1,0 -5.0,0M417.5,260.0a2.5,2.5 0 1,0 5.0,0a2.5,2.5 0 1,0 -5.0,0M419.5,256.0a2.5,2.5 0 1,0 5.0,0a2.5,2.5 0 1,0 -5.0,0M421.5,250.0a2.5,2.5 0 1,0 5.0,0a2.5,2.5 0 1,0 -5.0,0M421.5,244.0a2.5,2.5 0 1,0 5.0,0a2.5,2.5 0 1,0 -5.0,0M423.5,274.0a2.5,2.5 0 1,0 5.0,0a2.5,2.5 0 1,0 -5.0,0M426.5,272.0a2.5,2.5 0 1,0 5.0,0a2.5,2.5 0 1,0 -5.0,0M427.5,280.0a2.5,2.5 0 1,0 5.0,0a2.5,2.5 0 1,0 -5.0,0M428.5,286.0a2.5,2.5 0 1,0 5.0,0a2.5,2.5 0 1,0 -5.0,0M430.5,270.0a2.5,2.5 0 1,0 5.0,0a2.5,2.5 0 1,0 -5.0,0M433.5,274.0a2.5,2.5 0 1,0 5.0,0a2.5,2.5 0 1,0 -5.0,0M436.5,272.0a2.5,2.5 0 1,0 5.0,0a2.5,2.5 0 1,0 -5.0,0M439.5,274.0a2.5,2.5 0 1,0 5.0,0a2.5,2.5 0 1,0 -5.0,0M442.5,270.0a2.5,2.5 0 1,0 5.0,0a2.5,2.5 0 1,0 -5.0,0M444.5,268.0a2.5,2.5 0 1,0 5.0,0a2.5,2.5 0 1,0 -5.0,0M452.5,258.0a2.5,2.5 0 1,0 5.0,0a2.5,2.5 0 1,0 -5.0,0M453.5,264.0a2.5,2.5 0 1,0 5.0,0a2.5,2.5 0 1,0 -5.0,0M456.5,266.0a2.5,2.5 0 1,0 5.0,0a2.5,2.5 0 1,0 -5.0,0M458.5,270.0a2.5,2.5 0 1,0 5.0,0a2.5,2.5 0 1,0 -5.0,0M460.5,274.0a2.5,2.5 0 1,0 5.0,0a2.5,2.5 0 1,0 -5.0,0M462.5,278.0a2.5,2.5 0 1,0 5.0,0a2.5,2.5 0 1,0 -5.0,0M463.5,281.0a2.5,2.5 0 1,0 5.0,0a2.5,2.5 0 1,0 -5.0,0M465.5,272.0a2.5,2.5 0 1,0 5.0,0a2.5,2.5 0 1,0 -5.0,0M466.5,266.0a2.5,2.5 0 1,0 5.0,0a2.5,2.5 0 1,0 -5.0,0M467.5,260.0a2.5,2.5 0 1,0 5.0,0a2.5,2.5 0 1,0 -5.0,0M468.5,239.0a2.5,2.5 0 1,0 5.0,0a2.5,2.5 0 1,0 -5.0,0M479.5,237.0a2.5,2.5 0 1,0 5.0,0a2.5,2.5 0 1,0 -5.0,0M486.5,237.0a2.5,2.5 0 1,0 5.0,0a2.5,2.5 0 1,0 -5.0,0M490.5,241.0a2.5,2.5 0 1,0 5.0,0a2.5,2.5 0 1,0 -5.0,0M487.5,250.0a2.5,2.5 0 1,0 5.0,0a2.5,2.5 0 1,0 -5.0,0M488.5,255.0a2.5,2.5 0 1,0 5.0,0a2.5,2.5 0 1,0 -5.0,0M486.5,259.0a2.5,2.5 0 1,0 5.0,0a2.5,2.5 0 1,0 -5.0,0M483.5,260.0a2.5,2.5 0 1,0 5.0,0a2.5,2.5 0 1,0 -5.0,0M480.5,262.0a2.5,2.5 0 1,0 5.0,0a2.5,2.5 0 1,0 -5.0,0M482.5,270.0a2.5,2.5 0 1,0 5.0,0a2.5,2.5 0 1,0 -5.0,0M485.5,272.0a2.5,2.5 0 1,0 5.0,0a2.5,2.5 0 1,0 -5.0,0M488.5,272.0a2.5,2.5 0 1,0 5.0,0a2.5,2.5 0 1,0 -5.0,0M485.5,276.0a2.5,2.5 0 1,0 5.0,0a2.5,2.5 0 1,0 -5.0,0M489.5,277.0a2.5,2.5 0 1,0 5.0,0a2.5,2.5 0 1,0 -5.0,0M470.5,166.0a2.5,2.5 0 1,0 5.0,0a2.5,2.5 0 1,0 -5.0,0M470.5,169.0a2.5,2.5 0 1,0 5.0,0a2.5,2.5 0 1,0 -5.0,0M476.5,172.0a2.5,2.5 0 1,0 5.0,0a2.5,2.5 0 1,0 -5.0,0M471.5,176.0a2.5,2.5 0 1,0 5.0,0a2.5,2.5 0 1,0 -5.0,0M477.5,176.0a2.5,2.5 0 1,0 5.0,0a2.5,2.5 0 1,0 -5.0,0M478.5,180.0a2.5,2.5 0 1,0 5.0,0a2.5,2.5 0 1,0 -5.0,0M474.5,183.0a2.5,2.5 0 1,0 5.0,0a2.5,2.5 0 1,0 -5.0,0M471.5,185.0a2.5,2.5 0 1,0 5.0,0a2.5,2.5 0 1,0 -5.0,0M469.5,191.0a2.5,2.5 0 1,0 5.0,0a2.5,2.5 0 1,0 -5.0,0M472.5,193.0a2.5,2.5 0 1,0 5.0,0a2.5,2.5 0 1,0 -5.0,0M477.5,192.0a2.5,2.5 0 1,0 5.0,0a2.5,2.5 0 1,0 -5.0,0M473.5,198.0a2.5,2.5 0 1,0 5.0,0a2.5,2.5 0 1,0 -5.0,0M474.5,203.0a2.5,2.5 0 1,0 5.0,0a2.5,2.5 0 1,0 -5.0,0M491.5,161.0a2.5,2.5 0 1,0 5.0,0a2.5,2.5 0 1,0 -5.0,0M496.5,187.0a2.5,2.5 0 1,0 5.0,0a2.5,2.5 0 1,0 -5.0,0M504.5,186.0a2.5,2.5 0 1,0 5.0,0a2.5,2.5 0 1,0 -5.0,0M497.5,195.0a2.5,2.5 0 1,0 5.0,0a2.5,2.5 0 1,0 -5.0,0M491.5,203.0a2.5,2.5 0 1,0 5.0,0a2.5,2.5 0 1,0 -5.0,0M498.5,201.0a2.5,2.5 0 1,0 5.0,0a2.5,2.5 0 1,0 -5.0,0M500.5,202.0a2.5,2.5 0 1,0 5.0,0a2.5,2.5 0 1,0 -5.0,0M502.5,204.0a2.5,2.5 0 1,0 5.0,0a2.5,2.5 0 1,0 -5.0,0M499.5,206.0a2.5,2.5 0 1,0 5.0,0a2.5,2.5 0 1,0 -5.0,0M503.5,199.0a2.5,2.5 0 1,0 5.0,0a2.5,2.5 0 1,0 -5.0,0M508.5,195.0a2.5,2.5 0 1,0 5.0,0a2.5,2.5 0 1,0 -5.0,0M503.5,211.0a2.5,2.5 0 1,0 5.0,0a2.5,2.5 0 1,0 -5.0,0M496.5,213.0a2.5,2.5 0 1,0 5.0,0a2.5,2.5 0 1,0 -5.0,0M495.5,221.0a2.5,2.5 0 1,0 5.0,0a2.5,2.5 0 1,0 -5.0,0M493.5,224.0a2.5,2.5 0 1,0 5.0,0a2.5,2.5 0 1,0 -5.0,0M493.5,229.0a2.5,2.5 0 1,0 5.0,0a2.5,2.5 0 1,0 -5.0,0M487.5,238.0a2.5,2.5 0 1,0 5.0,0a2.5,2.5 0 1,0 -5.0,0M505.5,157.0a2.5,2.5 0 1,0 5.0,0a2.5,2.5 0 1,0 -5.0,0M510.5,153.0a2.5,2.5 0 1,0 5.0,0a2.5,2.5 0 1,0 -5.0,0M522.5,154.0a2.5,2.5 0 1,0 5.0,0a2.5,2.5 0 1,0 -5.0,0M522.5,159.0a2.5,2.5 0 1,0 5.0,0a2.5,2.5 0 1,0 -5.0,0M506.5,168.0a2.5,2.5 0 1,0 5.0,0a2.5,2.5 0 1,0 -5.0,0M508.5,165.0a2.5,2.5 0 1,0 5.0,0a2.5,2.5 0 1,0 -5.0,0M512.5,166.0a2.5,2.5 0 1,0 5.0,0a2.5,2.5 0 1,0 -5.0,0M511.5,172.0a2.5,2.5 0 1,0 5.0,0a2.5,2.5 0 1,0 -5.0,0M514.5,175.0a2.5,2.5 0 1,0 5.0,0a2.5,2.5 0 1,0 -5.0,0M517.5,181.0a2.5,2.5 0 1,0 5.0,0a2.5,2.5 0 1,0 -5.0,0M518.5,176.0a2.5,2.5 0 1,0 5.0,0a2.5,2.5 0 1,0 -5.0,0M521.5,167.0a2.5,2.5 0 1,0 5.0,0a2.5,2.5 0 1,0 -5.0,0M520.5,173.0a2.5,2.5 0 1,0 5.0,0a2.5,2.5 0 1,0 -5.0,0M505.8,156.3a2.5,2.5 0 1,0 5.0,0a2.5,2.5 0 1,0 -5.0,0M510.8,153.0a2.5,2.5 0 1,0 5.0,0a2.5,2.5 0 1,0 -5.0,0M507.5,169.7a2.5,2.5 0 1,0 5.0,0a2.5,2.5 0 1,0 -5.0,0M510.0,164.7a2.5,2.5 0 1,0 5.0,0a2.5,2.5 0 1,0 -5.0,0M513.3,166.3a2.5,2.5 0 1,0 5.0,0a2.5,2.5 0 1,0 -5.0,0M512.5,171.3a2.5,2.5 0 1,0 5.0,0a2.5,2.5 0 1,0 -5.0,0M514.2,174.7a2.5,2.5 0 1,0 5.0,0a2.5,2.5 0 1,0 -5.0,0M517.5,176.3a2.5,2.5 0 1,0 5.0,0a2.5,2.5 0 1,0 -5.0,0M518.3,181.3a2.5,2.5 0 1,0 5.0,0a2.5,2.5 0 1,0 -5.0,0M520.0,173.8a2.5,2.5 0 1,0 5.0,0a2.5,2.5 0 1,0 -5.0,0M520.8,167.2a2.5,2.5 0 1,0 5.0,0a2.5,2.5 0 1,0 -5.0,0M521.7,159.7a2.5,2.5 0 1,0 5.0,0a2.5,2.5 0 1,0 -5.0,0M522.5,153.8a2.5,2.5 0 1,0 5.0,0a2.5,2.5 0 1,0 -5.0,0M528.3,154.7a2.5,2.5 0 1,0 5.0,0a2.5,2.5 0 1,0 -5.0,0M530.0,160.5a2.5,2.5 0 1,0 5.0,0a2.5,2.5 0 1,0 -5.0,0M531.7,163.8a2.5,2.5 0 1,0 5.0,0a2.5,2.5 0 1,0 -5.0,0M533.3,166.3a2.5,2.5 0 1,0 5.0,0a2.5,2.5 0 1,0 -5.0,0M535.0,161.3a2.5,2.5 0 1,0 5.0,0a2.5,2.5 0 1,0 -5.0,0M537.5,166.3a2.5,2.5 0 1,0 5.0,0a2.5,2.5 0 1,0 -5.0,0M535.8,171.3a2.5,2.5 0 1,0 5.0,0a2.5,2.5 0 1,0 -5.0,0M532.5,175.5a2.5,2.5 0 1,0 5.0,0a2.5,2.5 0 1,0 -5.0,0M536.7,177.2a2.5,2.5 0 1,0 5.0,0a2.5,2.5 0 1,0 -5.0,0M537.5,181.3a2.5,2.5 0 1,0 5.0,0a2.5,2.5 0 1,0 -5.0,0M536.7,185.5a2.5,2.5 0 1,0 5.0,0a2.5,2.5 0 1,0 -5.0,0M539.2,187.2a2.5,2.5 0 1,0 5.0,0a2.5,2.5 0 1,0 -5.0,0M504.2,185.5a2.5,2.5 0 1,0 5.0,0a2.5,2.5 0 1,0 -5.0,0M497.5,187.0a2.5,2.5 0 1,0 5.0,0a2.5,2.5 0 1,0 -5.0,0M498.3,194.7a2.5,2.5 0 1,0 5.0,0a2.5,2.5 0 1,0 -5.0,0M508.3,195.5a2.5,2.5 0 1,0 5.0,0a2.5,2.5 0 1,0 -5.0,0M504.2,198.8a2.5,2.5 0 1,0 5.0,0a2.5,2.5 0 1,0 -5.0,0M501.7,201.3a2.5,2.5 0 1,0 5.0,0a2.5,2.5 0 1,0 -5.0,0M499.2,203.0a2.5,2.5 0 1,0 5.0,0a2.5,2.5 0 1,0 -5.0,0M502.5,205.5a2.5,2.5 0 1,0 5.0,0a2.5,2.5 0 1,0 -5.0,0M500.0,208.0a2.5,2.5 0 1,0 5.0,0a2.5,2.5 0 1,0 -5.0,0M503.3,211.3a2.5,2.5 0 1,0 5.0,0a2.5,2.5 0 1,0 -5.0,0M570.0,206.3a2.5,2.5 0 1,0 5.0,0a2.5,2.5 0 1,0 -5.0,0M568.3,209.7a2.5,2.5 0 1,0 5.0,0a2.5,2.5 0 1,0 -5.0,0M566.7,214.7a2.5,2.5 0 1,0 5.0,0a2.5,2.5 0 1,0 -5.0,0M565.0,219.7a2.5,2.5 0 1,0 5.0,0a2.5,2.5 0 1,0 -5.0,0M563.3,228.8a2.5,2.5 0 1,0 5.0,0a2.5,2.5 0 1,0 -5.0,0M560.8,232.2a2.5,2.5 0 1,0 5.0,0a2.5,2.5 0 1,0 -5.0,0M562.5,235.5a2.5,2.5 0 1,0 5.0,0a2.5,2.5 0 1,0 -5.0,0M560.0,238.0a2.5,2.5 0 1,0 5.0,0a2.5,2.5 0 1,0 -5.0,0M560.8,245.5a2.5,2.5 0 1,0 5.0,0a2.5,2.5 0 1,0 -5.0,0M556.7,221.3a2.5,2.5 0 1,0 5.0,0a2.5,2.5 0 1,0 -5.0,0M558.3,224.7a2.5,2.5 0 1,0 5.0,0a2.5,2.5 0 1,0 -5.0,0M552.5,221.3a2.5,2.5 0 1,0 5.0,0a2.5,2.5 0 1,0 -5.0,0M551.7,226.3a2.5,2.5 0 1,0 5.0,0a2.5,2.5 0 1,0 -5.0,0M555.0,229.7a2.5,2.5 0 1,0 5.0,0a2.5,2.5 0 1,0 -5.0,0M557.5,233.0a2.5,2.5 0 1,0 5.0,0a2.5,2.5 0 1,0 -5.0,0M550.0,233.0a2.5,2.5 0 1,0 5.0,0a2.5,2.5 0 1,0 -5.0,0M554.2,234.7a2.5,2.5 0 1,0 5.0,0a2.5,2.5 0 1,0 -5.0,0M555.0,239.7a2.5,2.5 0 1,0 5.0,0a2.5,2.5 0 1,0 -5.0,0M549.2,238.8a2.5,2.5 0 1,0 5.0,0a2.5,2.5 0 1,0 -5.0,0M547.5,242.2a2.5,2.5 0 1,0 5.0,0a2.5,2.5 0 1,0 -5.0,0M545.8,246.3a2.5,2.5 0 1,0 5.0,0a2.5,2.5 0 1,0 -5.0,0M544.2,249.7a2.5,2.5 0 1,0 5.0,0a2.5,2.5 0 1,0 -5.0,0M542.5,253.0a2.5,2.5 0 1,0 5.0,0a2.5,2.5 0 1,0 -5.0,0M540.8,257.2a2.5,2.5 0 1,0 5.0,0a2.5,2.5 0 1,0 -5.0,0M540.0,246.3a2.5,2.5 0 1,0 5.0,0a2.5,2.5 0 1,0 -5.0,0M588.3,211.3a2.5,2.5 0 1,0 5.0,0a2.5,2.5 0 1,0 -5.0,0M586.7,218.0a2.5,2.5 0 1,0 5.0,0a2.5,2.5 0 1,0 -5.0,0M587.5,223.0a2.5,2.5 0 1,0 5.0,0a2.5,2.5 0 1,0 -5.0,0M585.8,228.0a2.5,2.5 0 1,0 5.0,0a2.5,2.5 0 1,0 -5.0,0M584.2,235.5a2.5,2.5 0 1,0 5.0,0a2.5,2.5 0 1,0 -5.0,0M582.5,240.5a2.5,2.5 0 1,0 5.0,0a2.5,2.5 0 1,0 -5.0,0M581.7,245.5a2.5,2.5 0 1,0 5.0,0a2.5,2.5 0 1,0 -5.0,0M590.0,243.8a2.5,2.5 0 1,0 5.0,0a2.5,2.5 0 1,0 -5.0,0M590.8,248.0a2.5,2.5 0 1,0 5.0,0a2.5,2.5 0 1,0 -5.0,0M590.0,253.0a2.5,2.5 0 1,0 5.0,0a2.5,2.5 0 1,0 -5.0,0M591.7,256.3a2.5,2.5 0 1,0 5.0,0a2.5,2.5 0 1,0 -5.0,0M592.5,268.0a2.5,2.5 0 1,0 5.0,0a2.5,2.5 0 1,0 -5.0,0M424.5,276.0a2.5,2.5 0 1,0 5.0,0a2.5,2.5 0 1,0 -5.0,0M429.5,274.0a2.5,2.5 0 1,0 5.0,0a2.5,2.5 0 1,0 -5.0,0M434.5,272.0a2.5,2.5 0 1,0 5.0,0a2.5,2.5 0 1,0 -5.0,0M438.5,276.0a2.5,2.5 0 1,0 5.0,0a2.5,2.5 0 1,0 -5.0,0M442.5,271.0a2.5,2.5 0 1,0 5.0,0a2.5,2.5 0 1,0 -5.0,0M431.5,279.0a2.5,2.5 0 1,0 5.0,0a2.5,2.5 0 1,0 -5.0,0M454.5,262.0a2.5,2.5 0 1,0 5.0,0a2.5,2.5 0 1,0 -5.0,0M457.5,268.0a2.5,2.5 0 1,0 5.0,0a2.5,2.5 0 1,0 -5.0,0M460.5,270.0a2.5,2.5 0 1,0 5.0,0a2.5,2.5 0 1,0 -5.0,0M463.5,276.0a2.5,2.5 0 1,0 5.0,0a2.5,2.5 0 1,0 -5.0,0M455.5,272.0a2.5,2.5 0 1,0 5.0,0a2.5,2.5 0 1,0 -5.0,0M465.5,268.0a2.5,2.5 0 1,0 5.0,0a2.5,2.5 0 1,0 -5.0,0M481.5,265.0a2.5,2.5 0 1,0 5.0,0a2.5,2.5 0 1,0 -5.0,0M484.5,268.0a2.5,2.5 0 1,0 5.0,0a2.5,2.5 0 1,0 -5.0,0M487.5,274.0a2.5,2.5 0 1,0 5.0,0a2.5,2.5 0 1,0 -5.0,0M483.5,276.0a2.5,2.5 0 1,0 5.0,0a2.5,2.5 0 1,0 -5.0,0M412.5,250.0a2.5,2.5 0 1,0 5.0,0a2.5,2.5 0 1,0 -5.0,0M415.5,258.0a2.5,2.5 0 1,0 5.0,0a2.5,2.5 0 1,0 -5.0,0M75.5,347.0a2.5,2.5 0 1,0 5.0,0a2.5,2.5 0 1,0 -5.0,0M76.5,354.0a2.5,2.5 0 1,0 5.0,0a2.5,2.5 0 1,0 -5.0,0M78.5,359.0a2.5,2.5 0 1,0 5.0,0a2.5,2.5 0 1,0 -5.0,0M80.5,364.0a2.5,2.5 0 1,0 5.0,0a2.5,2.5 0 1,0 -5.0,0M82.5,351.0a2.5,2.5 0 1,0 5.0,0a2.5,2.5 0 1,0 -5.0,0M85.5,353.0a2.5,2.5 0 1,0 5.0,0a2.5,2.5 0 1,0 -5.0,0M87.5,357.0a2.5,2.5 0 1,0 5.0,0a2.5,2.5 0 1,0 -5.0,0M89.5,352.0a2.5,2.5 0 1,0 5.0,0a2.5,2.5 0 1,0 -5.0,0M91.5,345.0a2.5,2.5 0 1,0 5.0,0a2.5,2.5 0 1,0 -5.0,0M92.5,348.0a2.5,2.5 0 1,0 5.0,0a2.5,2.5 0 1,0 -5.0,0M81.5,355.0a2.5,2.5 0 1,0 5.0,0a2.5,2.5 0 1,0 -5.0,0M84.5,359.0a2.5,2.5 0 1,0 5.0,0a2.5,2.5 0 1,0 -5.0,0M77.5,350.0a2.5,2.5 0 1,0 5.0,0a2.5,2.5 0 1,0 -5.0,0M79.5,356.0a2.5,2.5 0 1,0 5.0,0a2.5,2.5 0 1,0 -5.0,0M83.5,357.0a2.5,2.5 0 1,0 5.0,0a2.5,2.5 0 1,0 -5.0,0M95.2,328.7a2.5,2.5 0 1,0 5.0,0a2.5,2.5 0 1,0 -5.0,0M91.8,331.1a2.5,2.5 0 1,0 5.0,0a2.5,2.5 0 1,0 -5.0,0M96.0,331.9a2.5,2.5 0 1,0 5.0,0a2.5,2.5 0 1,0 -5.0,0M96.2,332.1a2.5,2.5 0 1,0 5.0,0a2.5,2.5 0 1,0 -5.0,0M98.3,336.1a2.5,2.5 0 1,0 5.0,0a2.5,2.5 0 1,0 -5.0,0M99.5,334.0a2.5,2.5 0 1,0 5.0,0a2.5,2.5 0 1,0 -5.0,0M99.8,337.7a2.5,2.5 0 1,0 5.0,0a2.5,2.5 0 1,0 -5.0,0M100.8,335.6a2.5,2.5 0 1,0 5.0,0a2.5,2.5 0 1,0 -5.0,0M105.0,336.3a2.5,2.5 0 1,0 5.0,0a2.5,2.5 0 1,0 -5.0,0M102.3,339.2a2.5,2.5 0 1,0 5.0,0a2.5,2.5 0 1,0 -5.0,0M107.2,338.5a2.5,2.5 0 1,0 5.0,0a2.5,2.5 0 1,0 -5.0,0M105.8,340.8a2.5,2.5 0 1,0 5.0,0a2.5,2.5 0 1,0 -5.0,0M109.1,341.9a2.5,2.5 0 1,0 5.0,0a2.5,2.5 0 1,0 -5.0,0M109.9,341.8a2.5,2.5 0 1,0 5.0,0a2.5,2.5 0 1,0 -5.0,0M113.1,341.8a2.5,2.5 0 1,0 5.0,0a2.5,2.5 0 1,0 -5.0,0M114.0,342.2a2.5,2.5 0 1,0 5.0,0a2.5,2.5 0 1,0 -5.0,0M115.9,338.1a2.5,2.5 0 1,0 5.0,0a2.5,2.5 0 1,0 -5.0,0M115.4,339.1a2.5,2.5 0 1,0 5.0,0a2.5,2.5 0 1,0 -5.0,0M116.5,341.0a2.5,2.5 0 1,0 5.0,0a2.5,2.5 0 1,0 -5.0,0M116.0,341.3a2.5,2.5 0 1,0 5.0,0a2.5,2.5 0 1,0 -5.0,0M117.4,343.8a2.5,2.5 0 1,0 5.0,0a2.5,2.5 0 1,0 -5.0,0M116.7,343.3a2.5,2.5 0 1,0 5.0,0a2.5,2.5 0 1,0 -5.0,0M120.2,345.7a2.5,2.5 0 1,0 5.0,0a2.5,2.5 0 1,0 -5.0,0M119.7,345.3a2.5,2.5 0 1,0 5.0,0a2.5,2.5 0 1,0 -5.0,0M122.9,348.4a2.5,2.5 0 1,0 5.0,0a2.5,2.5 0 1,0 -5.0,0M122.9,348.4a2.5,2.5 0 1,0 5.0,0a2.5,2.5 0 1,0 -5.0,0M121.3,344.6a2.5,2.5 0 1,0 5.0,0a2.5,2.5 0 1,0 -5.0,0M120.9,345.0a2.5,2.5 0 1,0 5.0,0a2.5,2.5 0 1,0 -5.0,0M123.6,342.5a2.5,2.5 0 1,0 5.0,0a2.5,2.5 0 1,0 -5.0,0M122.0,341.9a2.5,2.5 0 1,0 5.0,0a2.5,2.5 0 1,0 -5.0,0M122.8,338.9a2.5,2.5 0 1,0 5.0,0a2.5,2.5 0 1,0 -5.0,0M124.3,339.7a2.5,2.5 0 1,0 5.0,0a2.5,2.5 0 1,0 -5.0,0M124.3,336.8a2.5,2.5 0 1,0 5.0,0a2.5,2.5 0 1,0 -5.0,0M124.2,337.0a2.5,2.5 0 1,0 5.0,0a2.5,2.5 0 1,0 -5.0,0M124.7,334.7a2.5,2.5 0 1,0 5.0,0a2.5,2.5 0 1,0 -5.0,0M124.6,334.4a2.5,2.5 0 1,0 5.0,0a2.5,2.5 0 1,0 -5.0,0M124.1,332.0a2.5,2.5 0 1,0 5.0,0a2.5,2.5 0 1,0 -5.0,0M123.9,332.6a2.5,2.5 0 1,0 5.0,0a2.5,2.5 0 1,0 -5.0,0M126.6,335.0a2.5,2.5 0 1,0 5.0,0a2.5,2.5 0 1,0 -5.0,0M126.1,334.6a2.5,2.5 0 1,0 5.0,0a2.5,2.5 0 1,0 -5.0,0M129.0,333.8a2.5,2.5 0 1,0 5.0,0a2.5,2.5 0 1,0 -5.0,0M127.9,332.8a2.5,2.5 0 1,0 5.0,0a2.5,2.5 0 1,0 -5.0,0M129.9,330.4a2.5,2.5 0 1,0 5.0,0a2.5,2.5 0 1,0 -5.0,0M128.3,331.6a2.5,2.5 0 1,0 5.0,0a2.5,2.5 0 1,0 -5.0,0M127.8,333.5a2.5,2.5 0 1,0 5.0,0a2.5,2.5 0 1,0 -5.0,0M128.7,333.2a2.5,2.5 0 1,0 5.0,0a2.5,2.5 0 1,0 -5.0,0M129.7,333.4a2.5,2.5 0 1,0 5.0,0a2.5,2.5 0 1,0 -5.0,0M130.6,334.5a2.5,2.5 0 1,0 5.0,0a2.5,2.5 0 1,0 -5.0,0M132.2,333.8a2.5,2.5 0 1,0 5.0,0a2.5,2.5 0 1,0 -5.0,0M131.1,335.0a2.5,2.5 0 1,0 5.0,0a2.5,2.5 0 1,0 -5.0,0M134.9,337.2a2.5,2.5 0 1,0 5.0,0a2.5,2.5 0 1,0 -5.0,0M135.6,335.9a2.5,2.5 0 1,0 5.0,0a2.5,2.5 0 1,0 -5.0,0M136.3,338.9a2.5,2.5 0 1,0 5.0,0a2.5,2.5 0 1,0 -5.0,0M136.2,338.0a2.5,2.5 0 1,0 5.0,0a2.5,2.5 0 1,0 -5.0,0M138.6,336.5a2.5,2.5 0 1,0 5.0,0a2.5,2.5 0 1,0 -5.0,0M138.8,336.6a2.5,2.5 0 1,0 5.0,0a2.5,2.5 0 1,0 -5.0,0M140.7,337.0a2.5,2.5 0 1,0 5.0,0a2.5,2.5 0 1,0 -5.0,0M140.3,336.5a2.5,2.5 0 1,0 5.0,0a2.5,2.5 0 1,0 -5.0,0M144.2,333.5a2.5,2.5 0 1,0 5.0,0a2.5,2.5 0 1,0 -5.0,0M143.1,333.9a2.5,2.5 0 1,0 5.0,0a2.5,2.5 0 1,0 -5.0,0M145.2,336.1a2.5,2.5 0 1,0 5.0,0a2.5,2.5 0 1,0 -5.0,0M144.8,335.7a2.5,2.5 0 1,0 5.0,0a2.5,2.5 0 1,0 -5.0,0M146.5,333.7a2.5,2.5 0 1,0 5.0,0a2.5,2.5 0 1,0 -5.0,0M147.7,332.9a2.5,2.5 0 1,0 5.0,0a2.5,2.5 0 1,0 -5.0,0M151.3,335.7a2.5,2.5 0 1,0 5.0,0a2.5,2.5 0 1,0 -5.0,0M149.9,334.9a2.5,2.5 0 1,0 5.0,0a2.5,2.5 0 1,0 -5.0,0M151.2,333.5a2.5,2.5 0 1,0 5.0,0a2.5,2.5 0 1,0 -5.0,0M150.9,333.3a2.5,2.5 0 1,0 5.0,0a2.5,2.5 0 1,0 -5.0,0M153.4,330.7a2.5,2.5 0 1,0 5.0,0a2.5,2.5 0 1,0 -5.0,0M152.0,330.9a2.5,2.5 0 1,0 5.0,0a2.5,2.5 0 1,0 -5.0,0M152.5,333.9a2.5,2.5 0 1,0 5.0,0a2.5,2.5 0 1,0 -5.0,0M152.0,334.3a2.5,2.5 0 1,0 5.0,0a2.5,2.5 0 1,0 -5.0,0M152.2,337.2a2.5,2.5 0 1,0 5.0,0a2.5,2.5 0 1,0 -5.0,0M154.2,336.3a2.5,2.5 0 1,0 5.0,0a2.5,2.5 0 1,0 -5.0,0M152.8,338.8a2.5,2.5 0 1,0 5.0,0a2.5,2.5 0 1,0 -5.0,0M154.1,339.1a2.5,2.5 0 1,0 5.0,0a2.5,2.5 0 1,0 -5.0,0M155.1,341.5a2.5,2.5 0 1,0 5.0,0a2.5,2.5 0 1,0 -5.0,0M153.3,341.7a2.5,2.5 0 1,0 5.0,0a2.5,2.5 0 1,0 -5.0,0M154.5,344.4a2.5,2.5 0 1,0 5.0,0a2.5,2.5 0 1,0 -5.0,0M154.4,344.8a2.5,2.5 0 1,0 5.0,0a2.5,2.5 0 1,0 -5.0,0M110.5,347.0a2.5,2.5 0 1,0 5.0,0a2.5,2.5 0 1,0 -5.0,0M111.5,351.0a2.5,2.5 0 1,0 5.0,0a2.5,2.5 0 1,0 -5.0,0M112.5,355.0a2.5,2.5 0 1,0 5.0,0a2.5,2.5 0 1,0 -5.0,0M114.5,357.0a2.5,2.5 0 1,0 5.0,0a2.5,2.5 0 1,0 -5.0,0M127.5,348.0a2.5,2.5 0 1,0 5.0,0a2.5,2.5 0 1,0 -5.0,0M137.5,328.0a2.5,2.5 0 1,0 5.0,0a2.5,2.5 0 1,0 -5.0,0M139.5,343.0a2.5,2.5 0 1,0 5.0,0a2.5,2.5 0 1,0 -5.0,0M139.5,349.0a2.5,2.5 0 1,0 5.0,0a2.5,2.5 0 1,0 -5.0,0M139.5,356.0a2.5,2.5 0 1,0 5.0,0a2.5,2.5 0 1,0 -5.0,0M156.0,358.5a2.5,2.5 0 1,0 5.0,0a2.5,2.5 0 1,0 -5.0,0M153.5,356.2a2.5,2.5 0 1,0 5.0,0a2.5,2.5 0 1,0 -5.0,0M155.4,354.4a2.5,2.5 0 1,0 5.0,0a2.5,2.5 0 1,0 -5.0,0M155.6,354.6a2.5,2.5 0 1,0 5.0,0a2.5,2.5 0 1,0 -5.0,0M158.7,351.4a2.5,2.5 0 1,0 5.0,0a2.5,2.5 0 1,0 -5.0,0M156.8,350.7a2.5,2.5 0 1,0 5.0,0a2.5,2.5 0 1,0 -5.0,0M159.9,348.9a2.5,2.5 0 1,0 5.0,0a2.5,2.5 0 1,0 -5.0,0M157.5,347.2a2.5,2.5 0 1,0 5.0,0a2.5,2.5 0 1,0 -5.0,0M159.5,346.0a2.5,2.5 0 1,0 5.0,0a2.5,2.5 0 1,0 -5.0,0M159.6,345.8a2.5,2.5 0 1,0 5.0,0a2.5,2.5 0 1,0 -5.0,0M161.2,344.7a2.5,2.5 0 1,0 5.0,0a2.5,2.5 0 1,0 -5.0,0M160.2,343.9a2.5,2.5 0 1,0 5.0,0a2.5,2.5 0 1,0 -5.0,0M161.5,340.1a2.5,2.5 0 1,0 5.0,0a2.5,2.5 0 1,0 -5.0,0M160.7,340.2a2.5,2.5 0 1,0 5.0,0a2.5,2.5 0 1,0 -5.0,0M161.5,337.7a2.5,2.5 0 1,0 5.0,0a2.5,2.5 0 1,0 -5.0,0M162.3,338.0a2.5,2.5 0 1,0 5.0,0a2.5,2.5 0 1,0 -5.0,0M162.7,334.5a2.5,2.5 0 1,0 5.0,0a2.5,2.5 0 1,0 -5.0,0M162.5,334.4a2.5,2.5 0 1,0 5.0,0a2.5,2.5 0 1,0 -5.0,0M165.1,332.6a2.5,2.5 0 1,0 5.0,0a2.5,2.5 0 1,0 -5.0,0M164.0,331.6a2.5,2.5 0 1,0 5.0,0a2.5,2.5 0 1,0 -5.0,0M166.4,330.6a2.5,2.5 0 1,0 5.0,0a2.5,2.5 0 1,0 -5.0,0M165.8,330.0a2.5,2.5 0 1,0 5.0,0a2.5,2.5 0 1,0 -5.0,0M167.1,328.9a2.5,2.5 0 1,0 5.0,0a2.5,2.5 0 1,0 -5.0,0M165.2,327.2a2.5,2.5 0 1,0 5.0,0a2.5,2.5 0 1,0 -5.0,0M167.3,326.6a2.5,2.5 0 1,0 5.0,0a2.5,2.5 0 1,0 -5.0,0M166.9,326.8a2.5,2.5 0 1,0 5.0,0a2.5,2.5 0 1,0 -5.0,0M169.7,327.8a2.5,2.5 0 1,0 5.0,0a2.5,2.5 0 1,0 -5.0,0M169.6,328.6a2.5,2.5 0 1,0 5.0,0a2.5,2.5 0 1,0 -5.0,0M169.6,325.3a2.5,2.5 0 1,0 5.0,0a2.5,2.5 0 1,0 -5.0,0M170.0,324.9a2.5,2.5 0 1,0 5.0,0a2.5,2.5 0 1,0 -5.0,0M172.3,324.3a2.5,2.5 0 1,0 5.0,0a2.5,2.5 0 1,0 -5.0,0M171.0,322.7a2.5,2.5 0 1,0 5.0,0a2.5,2.5 0 1,0 -5.0,0M172.9,320.6a2.5,2.5 0 1,0 5.0,0a2.5,2.5 0 1,0 -5.0,0M173.4,321.5a2.5,2.5 0 1,0 5.0,0a2.5,2.5 0 1,0 -5.0,0M176.1,319.0a2.5,2.5 0 1,0 5.0,0a2.5,2.5 0 1,0 -5.0,0M175.8,319.4a2.5,2.5 0 1,0 5.0,0a2.5,2.5 0 1,0 -5.0,0M178.0,322.0a2.5,2.5 0 1,0 5.0,0a2.5,2.5 0 1,0 -5.0,0M179.3,321.9a2.5,2.5 0 1,0 5.0,0a2.5,2.5 0 1,0 -5.0,0M178.9,317.8a2.5,2.5 0 1,0 5.0,0a2.5,2.5 0 1,0 -5.0,0M179.9,317.6a2.5,2.5 0 1,0 5.0,0a2.5,2.5 0 1,0 -5.0,0M181.8,316.1a2.5,2.5 0 1,0 5.0,0a2.5,2.5 0 1,0 -5.0,0M181.1,315.8a2.5,2.5 0 1,0 5.0,0a2.5,2.5 0 1,0 -5.0,0M184.7,314.6a2.5,2.5 0 1,0 5.0,0a2.5,2.5 0 1,0 -5.0,0M184.6,313.7a2.5,2.5 0 1,0 5.0,0a2.5,2.5 0 1,0 -5.0,0M188.1,314.2a2.5,2.5 0 1,0 5.0,0a2.5,2.5 0 1,0 -5.0,0M188.1,314.9a2.5,2.5 0 1,0 5.0,0a2.5,2.5 0 1,0 -5.0,0M190.1,312.4a2.5,2.5 0 1,0 5.0,0a2.5,2.5 0 1,0 -5.0,0M190.7,313.9a2.5,2.5 0 1,0 5.0,0a2.5,2.5 0 1,0 -5.0,0M192.5,310.6a2.5,2.5 0 1,0 5.0,0a2.5,2.5 0 1,0 -5.0,0M193.5,310.3a2.5,2.5 0 1,0 5.0,0a2.5,2.5 0 1,0 -5.0,0M193.3,311.8a2.5,2.5 0 1,0 5.0,0a2.5,2.5 0 1,0 -5.0,0M193.1,312.2a2.5,2.5 0 1,0 5.0,0a2.5,2.5 0 1,0 -5.0,0M195.6,311.6a2.5,2.5 0 1,0 5.0,0a2.5,2.5 0 1,0 -5.0,0M195.7,312.3a2.5,2.5 0 1,0 5.0,0a2.5,2.5 0 1,0 -5.0,0M169.5,337.0a2.5,2.5 0 1,0 5.0,0a2.5,2.5 0 1,0 -5.0,0M182.5,326.0a2.5,2.5 0 1,0 5.0,0a2.5,2.5 0 1,0 -5.0,0M188.5,315.0a2.5,2.5 0 1,0 5.0,0a2.5,2.5 0 1,0 -5.0,0M190.5,317.0a2.5,2.5 0 1,0 5.0,0a2.5,2.5 0 1,0 -5.0,0M195.5,324.0a2.5,2.5 0 1,0 5.0,0a2.5,2.5 0 1,0 -5.0,0M197.5,326.0a2.5,2.5 0 1,0 5.0,0a2.5,2.5 0 1,0 -5.0,0M205.5,335.0a2.5,2.5 0 1,0 5.0,0a2.5,2.5 0 1,0 -5.0,0M201.5,339.0a2.5,2.5 0 1,0 5.0,0a2.5,2.5 0 1,0 -5.0,0M199.5,344.0a2.5,2.5 0 1,0 5.0,0a2.5,2.5 0 1,0 -5.0,0M202.5,346.0a2.5,2.5 0 1,0 5.0,0a2.5,2.5 0 1,0 -5.0,0M205.5,343.0a2.5,2.5 0 1,0 5.0,0a2.5,2.5 0 1,0 -5.0,0M207.5,347.0a2.5,2.5 0 1,0 5.0,0a2.5,2.5 0 1,0 -5.0,0M200.5,350.0a2.5,2.5 0 1,0 5.0,0a2.5,2.5 0 1,0 -5.0,0M203.5,351.0a2.5,2.5 0 1,0 5.0,0a2.5,2.5 0 1,0 -5.0,0M199.5,356.0a2.5,2.5 0 1,0 5.0,0a2.5,2.5 0 1,0 -5.0,0M206.5,342.0a2.5,2.5 0 1,0 5.0,0a2.5,2.5 0 1,0 -5.0,0M220.5,332.0a2.5,2.5 0 1,0 5.0,0a2.5,2.5 0 1,0 -5.0,0M219.5,339.0a2.5,2.5 0 1,0 5.0,0a2.5,2.5 0 1,0 -5.0,0M217.5,343.0a2.5,2.5 0 1,0 5.0,0a2.5,2.5 0 1,0 -5.0,0M215.5,348.0a2.5,2.5 0 1,0 5.0,0a2.5,2.5 0 1,0 -5.0,0M216.5,353.0a2.5,2.5 0 1,0 5.0,0a2.5,2.5 0 1,0 -5.0,0M213.5,360.0a2.5,2.5 0 1,0 5.0,0a2.5,2.5 0 1,0 -5.0,0M222.5,341.0a2.5,2.5 0 1,0 5.0,0a2.5,2.5 0 1,0 -5.0,0M221.5,348.0a2.5,2.5 0 1,0 5.0,0a2.5,2.5 0 1,0 -5.0,0M224.5,345.0a2.5,2.5 0 1,0 5.0,0a2.5,2.5 0 1,0 -5.0,0M226.5,348.0a2.5,2.5 0 1,0 5.0,0a2.5,2.5 0 1,0 -5.0,0M227.5,343.0a2.5,2.5 0 1,0 5.0,0a2.5,2.5 0 1,0 -5.0,0M229.5,336.0a2.5,2.5 0 1,0 5.0,0a2.5,2.5 0 1,0 -5.0,0M230.5,342.0a2.5,2.5 0 1,0 5.0,0a2.5,2.5 0 1,0 -5.0,0M222.5,356.0a2.5,2.5 0 1,0 5.0,0a2.5,2.5 0 1,0 -5.0,0M224.5,358.0a2.5,2.5 0 1,0 5.0,0a2.5,2.5 0 1,0 -5.0,0M230.5,355.0a2.5,2.5 0 1,0 5.0,0a2.5,2.5 0 1,0 -5.0,0M234.5,355.0a2.5,2.5 0 1,0 5.0,0a2.5,2.5 0 1,0 -5.0,0M236.5,359.0a2.5,2.5 0 1,0 5.0,0a2.5,2.5 0 1,0 -5.0,0M235.5,363.0a2.5,2.5 0 1,0 5.0,0a2.5,2.5 0 1,0 -5.0,0M238.5,341.0a2.5,2.5 0 1,0 5.0,0a2.5,2.5 0 1,0 -5.0,0M222.5,365.0a2.5,2.5 0 1,0 5.0,0a2.5,2.5 0 1,0 -5.0,0M223.5,371.0a2.5,2.5 0 1,0 5.0,0a2.5,2.5 0 1,0 -5.0,0M208.5,370.0a2.5,2.5 0 1,0 5.0,0a2.5,2.5 0 1,0 -5.0,0M212.5,369.0a2.5,2.5 0 1,0 5.0,0a2.5,2.5 0 1,0 -5.0,0M208.5,380.0a2.5,2.5 0 1,0 5.0,0a2.5,2.5 0 1,0 -5.0,0M210.5,384.0a2.5,2.5 0 1,0 5.0,0a2.5,2.5 0 1,0 -5.0,0M238.0,313.2a2.5,2.5 0 1,0 5.0,0a2.5,2.5 0 1,0 -5.0,0M239.8,314.6a2.5,2.5 0 1,0 5.0,0a2.5,2.5 0 1,0 -5.0,0M239.7,310.3a2.5,2.5 0 1,0 5.0,0a2.5,2.5 0 1,0 -5.0,0M240.1,309.8a2.5,2.5 0 1,0 5.0,0a2.5,2.5 0 1,0 -5.0,0M243.8,308.4a2.5,2.5 0 1,0 5.0,0a2.5,2.5 0 1,0 -5.0,0M243.5,310.0a2.5,2.5 0 1,0 5.0,0a2.5,2.5 0 1,0 -5.0,0M247.6,309.7a2.5,2.5 0 1,0 5.0,0a2.5,2.5 0 1,0 -5.0,0M247.5,310.2a2.5,2.5 0 1,0 5.0,0a2.5,2.5 0 1,0 -5.0,0M251.9,311.5a2.5,2.5 0 1,0 5.0,0a2.5,2.5 0 1,0 -5.0,0M251.8,313.7a2.5,2.5 0 1,0 5.0,0a2.5,2.5 0 1,0 -5.0,0M255.7,311.0a2.5,2.5 0 1,0 5.0,0a2.5,2.5 0 1,0 -5.0,0M255.4,311.6a2.5,2.5 0 1,0 5.0,0a2.5,2.5 0 1,0 -5.0,0M259.0,308.5a2.5,2.5 0 1,0 5.0,0a2.5,2.5 0 1,0 -5.0,0M259.7,308.9a2.5,2.5 0 1,0 5.0,0a2.5,2.5 0 1,0 -5.0,0M263.2,309.3a2.5,2.5 0 1,0 5.0,0a2.5,2.5 0 1,0 -5.0,0M263.5,309.5a2.5,2.5 0 1,0 5.0,0a2.5,2.5 0 1,0 -5.0,0M267.8,309.7a2.5,2.5 0 1,0 5.0,0a2.5,2.5 0 1,0 -5.0,0M268.0,308.7a2.5,2.5 0 1,0 5.0,0a2.5,2.5 0 1,0 -5.0,0M270.4,311.8a2.5,2.5 0 1,0 5.0,0a2.5,2.5 0 1,0 -5.0,0M272.0,310.5a2.5,2.5 0 1,0 5.0,0a2.5,2.5 0 1,0 -5.0,0M271.1,313.6a2.5,2.5 0 1,0 5.0,0a2.5,2.5 0 1,0 -5.0,0M273.5,312.6a2.5,2.5 0 1,0 5.0,0a2.5,2.5 0 1,0 -5.0,0M272.6,315.1a2.5,2.5 0 1,0 5.0,0a2.5,2.5 0 1,0 -5.0,0M274.3,314.2a2.5,2.5 0 1,0 5.0,0a2.5,2.5 0 1,0 -5.0,0M275.5,317.2a2.5,2.5 0 1,0 5.0,0a2.5,2.5 0 1,0 -5.0,0M273.6,317.4a2.5,2.5 0 1,0 5.0,0a2.5,2.5 0 1,0 -5.0,0M276.2,320.1a2.5,2.5 0 1,0 5.0,0a2.5,2.5 0 1,0 -5.0,0M275.3,319.6a2.5,2.5 0 1,0 5.0,0a2.5,2.5 0 1,0 -5.0,0M277.8,318.2a2.5,2.5 0 1,0 5.0,0a2.5,2.5 0 1,0 -5.0,0M277.8,318.1a2.5,2.5 0 1,0 5.0,0a2.5,2.5 0 1,0 -5.0,0M279.8,322.5a2.5,2.5 0 1,0 5.0,0a2.5,2.5 0 1,0 -5.0,0M281.5,320.4a2.5,2.5 0 1,0 5.0,0a2.5,2.5 0 1,0 -5.0,0M282.6,324.1a2.5,2.5 0 1,0 5.0,0a2.5,2.5 0 1,0 -5.0,0M282.8,323.5a2.5,2.5 0 1,0 5.0,0a2.5,2.5 0 1,0 -5.0,0M284.8,326.9a2.5,2.5 0 1,0 5.0,0a2.5,2.5 0 1,0 -5.0,0M286.6,325.7a2.5,2.5 0 1,0 5.0,0a2.5,2.5 0 1,0 -5.0,0M284.8,329.1a2.5,2.5 0 1,0 5.0,0a2.5,2.5 0 1,0 -5.0,0M285.4,328.8a2.5,2.5 0 1,0 5.0,0a2.5,2.5 0 1,0 -5.0,0M287.7,329.3a2.5,2.5 0 1,0 5.0,0a2.5,2.5 0 1,0 -5.0,0M288.0,329.7a2.5,2.5 0 1,0 5.0,0a2.5,2.5 0 1,0 -5.0,0M289.3,331.9a2.5,2.5 0 1,0 5.0,0a2.5,2.5 0 1,0 -5.0,0M289.2,332.4a2.5,2.5 0 1,0 5.0,0a2.5,2.5 0 1,0 -5.0,0M290.5,333.6a2.5,2.5 0 1,0 5.0,0a2.5,2.5 0 1,0 -5.0,0M292.9,332.7a2.5,2.5 0 1,0 5.0,0a2.5,2.5 0 1,0 -5.0,0M293.1,335.1a2.5,2.5 0 1,0 5.0,0a2.5,2.5 0 1,0 -5.0,0M291.1,335.4a2.5,2.5 0 1,0 5.0,0a2.5,2.5 0 1,0 -5.0,0M294.4,336.4a2.5,2.5 0 1,0 5.0,0a2.5,2.5 0 1,0 -5.0,0M293.8,336.8a2.5,2.5 0 1,0 5.0,0a2.5,2.5 0 1,0 -5.0,0M295.7,339.7a2.5,2.5 0 1,0 5.0,0a2.5,2.5 0 1,0 -5.0,0M294.5,340.1a2.5,2.5 0 1,0 5.0,0a2.5,2.5 0 1,0 -5.0,0M297.6,343.9a2.5,2.5 0 1,0 5.0,0a2.5,2.5 0 1,0 -5.0,0M296.8,344.3a2.5,2.5 0 1,0 5.0,0a2.5,2.5 0 1,0 -5.0,0M298.4,345.8a2.5,2.5 0 1,0 5.0,0a2.5,2.5 0 1,0 -5.0,0M295.6,346.5a2.5,2.5 0 1,0 5.0,0a2.5,2.5 0 1,0 -5.0,0M298.9,349.0a2.5,2.5 0 1,0 5.0,0a2.5,2.5 0 1,0 -5.0,0M298.9,349.6a2.5,2.5 0 1,0 5.0,0a2.5,2.5 0 1,0 -5.0,0M297.6,346.8a2.5,2.5 0 1,0 5.0,0a2.5,2.5 0 1,0 -5.0,0M298.4,346.1a2.5,2.5 0 1,0 5.0,0a2.5,2.5 0 1,0 -5.0,0M299.0,344.0a2.5,2.5 0 1,0 5.0,0a2.5,2.5 0 1,0 -5.0,0M296.3,344.0a2.5,2.5 0 1,0 5.0,0a2.5,2.5 0 1,0 -5.0,0M298.9,340.9a2.5,2.5 0 1,0 5.0,0a2.5,2.5 0 1,0 -5.0,0M297.8,341.2a2.5,2.5 0 1,0 5.0,0a2.5,2.5 0 1,0 -5.0,0M300.3,338.7a2.5,2.5 0 1,0 5.0,0a2.5,2.5 0 1,0 -5.0,0M300.9,339.0a2.5,2.5 0 1,0 5.0,0a2.5,2.5 0 1,0 -5.0,0M298.8,334.8a2.5,2.5 0 1,0 5.0,0a2.5,2.5 0 1,0 -5.0,0M300.2,337.4a2.5,2.5 0 1,0 5.0,0a2.5,2.5 0 1,0 -5.0,0M302.8,334.1a2.5,2.5 0 1,0 5.0,0a2.5,2.5 0 1,0 -5.0,0M303.5,334.2a2.5,2.5 0 1,0 5.0,0a2.5,2.5 0 1,0 -5.0,0M303.2,331.1a2.5,2.5 0 1,0 5.0,0a2.5,2.5 0 1,0 -5.0,0M304.4,332.0a2.5,2.5 0 1,0 5.0,0a2.5,2.5 0 1,0 -5.0,0M303.9,329.7a2.5,2.5 0 1,0 5.0,0a2.5,2.5 0 1,0 -5.0,0M304.8,329.1a2.5,2.5 0 1,0 5.0,0a2.5,2.5 0 1,0 -5.0,0M304.7,327.4a2.5,2.5 0 1,0 5.0,0a2.5,2.5 0 1,0 -5.0,0M302.9,327.2a2.5,2.5 0 1,0 5.0,0a2.5,2.5 0 1,0 -5.0,0M303.9,329.2a2.5,2.5 0 1,0 5.0,0a2.5,2.5 0 1,0 -5.0,0M304.0,329.1a2.5,2.5 0 1,0 5.0,0a2.5,2.5 0 1,0 -5.0,0M303.7,331.7a2.5,2.5 0 1,0 5.0,0a2.5,2.5 0 1,0 -5.0,0M305.5,331.7a2.5,2.5 0 1,0 5.0,0a2.5,2.5 0 1,0 -5.0,0M304.1,333.8a2.5,2.5 0 1,0 5.0,0a2.5,2.5 0 1,0 -5.0,0M303.6,334.1a2.5,2.5 0 1,0 5.0,0a2.5,2.5 0 1,0 -5.0,0M305.5,336.2a2.5,2.5 0 1,0 5.0,0a2.5,2.5 0 1,0 -5.0,0M304.3,336.1a2.5,2.5 0 1,0 5.0,0a2.5,2.5 0 1,0 -5.0,0M306.4,338.7a2.5,2.5 0 1,0 5.0,0a2.5,2.5 0 1,0 -5.0,0M306.6,338.0a2.5,2.5 0 1,0 5.0,0a2.5,2.5 0 1,0 -5.0,0M305.5,340.5a2.5,2.5 0 1,0 5.0,0a2.5,2.5 0 1,0 -5.0,0M306.2,341.2a2.5,2.5 0 1,0 5.0,0a2.5,2.5 0 1,0 -5.0,0M304.3,343.1a2.5,2.5 0 1,0 5.0,0a2.5,2.5 0 1,0 -5.0,0M304.4,342.6a2.5,2.5 0 1,0 5.0,0a2.5,2.5 0 1,0 -5.0,0M305.0,339.5a2.5,2.5 0 1,0 5.0,0a2.5,2.5 0 1,0 -5.0,0M306.6,339.6a2.5,2.5 0 1,0 5.0,0a2.5,2.5 0 1,0 -5.0,0M307.9,336.0a2.5,2.5 0 1,0 5.0,0a2.5,2.5 0 1,0 -5.0,0M307.6,338.4a2.5,2.5 0 1,0 5.0,0a2.5,2.5 0 1,0 -5.0,0M289.5,320.0a2.5,2.5 0 1,0 5.0,0a2.5,2.5 0 1,0 -5.0,0M298.5,350.0a2.5,2.5 0 1,0 5.0,0a2.5,2.5 0 1,0 -5.0,0M296.7,339.8a2.5,2.5 0 1,0 5.0,0a2.5,2.5 0 1,0 -5.0,0M297.5,340.1a2.5,2.5 0 1,0 5.0,0a2.5,2.5 0 1,0 -5.0,0M299.9,338.5a2.5,2.5 0 1,0 5.0,0a2.5,2.5 0 1,0 -5.0,0M300.5,338.8a2.5,2.5 0 1,0 5.0,0a2.5,2.5 0 1,0 -5.0,0M301.7,336.4a2.5,2.5 0 1,0 5.0,0a2.5,2.5 0 1,0 -5.0,0M300.4,335.5a2.5,2.5 0 1,0 5.0,0a2.5,2.5 0 1,0 -5.0,0M302.5,332.9a2.5,2.5 0 1,0 5.0,0a2.5,2.5 0 1,0 -5.0,0M301.3,333.1a2.5,2.5 0 1,0 5.0,0a2.5,2.5 0 1,0 -5.0,0M304.5,330.9a2.5,2.5 0 1,0 5.0,0a2.5,2.5 0 1,0 -5.0,0M304.1,330.8a2.5,2.5 0 1,0 5.0,0a2.5,2.5 0 1,0 -5.0,0M304.5,328.2a2.5,2.5 0 1,0 5.0,0a2.5,2.5 0 1,0 -5.0,0M304.1,327.9a2.5,2.5 0 1,0 5.0,0a2.5,2.5 0 1,0 -5.0,0M303.4,330.4a2.5,2.5 0 1,0 5.0,0a2.5,2.5 0 1,0 -5.0,0M305.3,330.3a2.5,2.5 0 1,0 5.0,0a2.5,2.5 0 1,0 -5.0,0M306.2,332.8a2.5,2.5 0 1,0 5.0,0a2.5,2.5 0 1,0 -5.0,0M304.9,333.3a2.5,2.5 0 1,0 5.0,0a2.5,2.5 0 1,0 -5.0,0M306.0,334.8a2.5,2.5 0 1,0 5.0,0a2.5,2.5 0 1,0 -5.0,0M305.2,335.6a2.5,2.5 0 1,0 5.0,0a2.5,2.5 0 1,0 -5.0,0M304.6,337.7a2.5,2.5 0 1,0 5.0,0a2.5,2.5 0 1,0 -5.0,0M304.6,338.1a2.5,2.5 0 1,0 5.0,0a2.5,2.5 0 1,0 -5.0,0M304.6,339.8a2.5,2.5 0 1,0 5.0,0a2.5,2.5 0 1,0 -5.0,0M304.9,340.2a2.5,2.5 0 1,0 5.0,0a2.5,2.5 0 1,0 -5.0,0M304.4,342.9a2.5,2.5 0 1,0 5.0,0a2.5,2.5 0 1,0 -5.0,0M304.4,343.0a2.5,2.5 0 1,0 5.0,0a2.5,2.5 0 1,0 -5.0,0M304.5,344.9a2.5,2.5 0 1,0 5.0,0a2.5,2.5 0 1,0 -5.0,0M305.6,344.7a2.5,2.5 0 1,0 5.0,0a2.5,2.5 0 1,0 -5.0,0M306.7,342.7a2.5,2.5 0 1,0 5.0,0a2.5,2.5 0 1,0 -5.0,0M304.8,342.2a2.5,2.5 0 1,0 5.0,0a2.5,2.5 0 1,0 -5.0,0M307.5,341.1a2.5,2.5 0 1,0 5.0,0a2.5,2.5 0 1,0 -5.0,0M306.2,340.1a2.5,2.5 0 1,0 5.0,0a2.5,2.5 0 1,0 -5.0,0M307.9,338.3a2.5,2.5 0 1,0 5.0,0a2.5,2.5 0 1,0 -5.0,0M307.1,338.4a2.5,2.5 0 1,0 5.0,0a2.5,2.5 0 1,0 -5.0,0M306.0,336.1a2.5,2.5 0 1,0 5.0,0a2.5,2.5 0 1,0 -5.0,0M308.0,336.9a2.5,2.5 0 1,0 5.0,0a2.5,2.5 0 1,0 -5.0,0M306.5,334.0a2.5,2.5 0 1,0 5.0,0a2.5,2.5 0 1,0 -5.0,0M307.3,334.1a2.5,2.5 0 1,0 5.0,0a2.5,2.5 0 1,0 -5.0,0M308.5,330.8a2.5,2.5 0 1,0 5.0,0a2.5,2.5 0 1,0 -5.0,0M309.2,333.1a2.5,2.5 0 1,0 5.0,0a2.5,2.5 0 1,0 -5.0,0M313.2,330.0a2.5,2.5 0 1,0 5.0,0a2.5,2.5 0 1,0 -5.0,0M311.4,330.6a2.5,2.5 0 1,0 5.0,0a2.5,2.5 0 1,0 -5.0,0M312.3,333.7a2.5,2.5 0 1,0 5.0,0a2.5,2.5 0 1,0 -5.0,0M312.8,333.5a2.5,2.5 0 1,0 5.0,0a2.5,2.5 0 1,0 -5.0,0M314.6,336.0a2.5,2.5 0 1,0 5.0,0a2.5,2.5 0 1,0 -5.0,0M313.1,336.4a2.5,2.5 0 1,0 5.0,0a2.5,2.5 0 1,0 -5.0,0M313.5,339.3a2.5,2.5 0 1,0 5.0,0a2.5,2.5 0 1,0 -5.0,0M316.6,338.9a2.5,2.5 0 1,0 5.0,0a2.5,2.5 0 1,0 -5.0,0M315.3,341.2a2.5,2.5 0 1,0 5.0,0a2.5,2.5 0 1,0 -5.0,0M316.9,340.8a2.5,2.5 0 1,0 5.0,0a2.5,2.5 0 1,0 -5.0,0M317.7,343.3a2.5,2.5 0 1,0 5.0,0a2.5,2.5 0 1,0 -5.0,0M316.4,343.7a2.5,2.5 0 1,0 5.0,0a2.5,2.5 0 1,0 -5.0,0M317.7,345.6a2.5,2.5 0 1,0 5.0,0a2.5,2.5 0 1,0 -5.0,0M316.8,346.1a2.5,2.5 0 1,0 5.0,0a2.5,2.5 0 1,0 -5.0,0M319.0,349.3a2.5,2.5 0 1,0 5.0,0a2.5,2.5 0 1,0 -5.0,0M317.6,348.2a2.5,2.5 0 1,0 5.0,0a2.5,2.5 0 1,0 -5.0,0M320.9,343.6a2.5,2.5 0 1,0 5.0,0a2.5,2.5 0 1,0 -5.0,0M320.3,345.3a2.5,2.5 0 1,0 5.0,0a2.5,2.5 0 1,0 -5.0,0M323.3,344.4a2.5,2.5 0 1,0 5.0,0a2.5,2.5 0 1,0 -5.0,0M322.8,344.1a2.5,2.5 0 1,0 5.0,0a2.5,2.5 0 1,0 -5.0,0M327.2,343.9a2.5,2.5 0 1,0 5.0,0a2.5,2.5 0 1,0 -5.0,0M326.2,343.5a2.5,2.5 0 1,0 5.0,0a2.5,2.5 0 1,0 -5.0,0M330.6,345.2a2.5,2.5 0 1,0 5.0,0a2.5,2.5 0 1,0 -5.0,0M328.8,347.4a2.5,2.5 0 1,0 5.0,0a2.5,2.5 0 1,0 -5.0,0M331.9,347.6a2.5,2.5 0 1,0 5.0,0a2.5,2.5 0 1,0 -5.0,0M332.5,347.1a2.5,2.5 0 1,0 5.0,0a2.5,2.5 0 1,0 -5.0,0M332.7,348.8a2.5,2.5 0 1,0 5.0,0a2.5,2.5 0 1,0 -5.0,0M334.5,351.5a2.5,2.5 0 1,0 5.0,0a2.5,2.5 0 1,0 -5.0,0M336.4,350.0a2.5,2.5 0 1,0 5.0,0a2.5,2.5 0 1,0 -5.0,0M335.6,348.5a2.5,2.5 0 1,0 5.0,0a2.5,2.5 0 1,0 -5.0,0M337.9,345.9a2.5,2.5 0 1,0 5.0,0a2.5,2.5 0 1,0 -5.0,0M337.2,346.7a2.5,2.5 0 1,0 5.0,0a2.5,2.5 0 1,0 -5.0,0M340.0,350.7a2.5,2.5 0 1,0 5.0,0a2.5,2.5 0 1,0 -5.0,0M342.0,349.0a2.5,2.5 0 1,0 5.0,0a2.5,2.5 0 1,0 -5.0,0M342.1,352.5a2.5,2.5 0 1,0 5.0,0a2.5,2.5 0 1,0 -5.0,0M344.6,353.7a2.5,2.5 0 1,0 5.0,0a2.5,2.5 0 1,0 -5.0,0M343.4,351.0a2.5,2.5 0 1,0 5.0,0a2.5,2.5 0 1,0 -5.0,0M343.8,350.9a2.5,2.5 0 1,0 5.0,0a2.5,2.5 0 1,0 -5.0,0M344.1,348.4a2.5,2.5 0 1,0 5.0,0a2.5,2.5 0 1,0 -5.0,0M345.9,349.3a2.5,2.5 0 1,0 5.0,0a2.5,2.5 0 1,0 -5.0,0M346.3,347.2a2.5,2.5 0 1,0 5.0,0a2.5,2.5 0 1,0 -5.0,0M347.8,346.4a2.5,2.5 0 1,0 5.0,0a2.5,2.5 0 1,0 -5.0,0M347.2,349.5a2.5,2.5 0 1,0 5.0,0a2.5,2.5 0 1,0 -5.0,0M347.2,349.7a2.5,2.5 0 1,0 5.0,0a2.5,2.5 0 1,0 -5.0,0M348.5,351.0a2.5,2.5 0 1,0 5.0,0a2.5,2.5 0 1,0 -5.0,0M347.8,351.1a2.5,2.5 0 1,0 5.0,0a2.5,2.5 0 1,0 -5.0,0M350.6,350.9a2.5,2.5 0 1,0 5.0,0a2.5,2.5 0 1,0 -5.0,0M352.6,351.7a2.5,2.5 0 1,0 5.0,0a2.5,2.5 0 1,0 -5.0,0M350.7,348.8a2.5,2.5 0 1,0 5.0,0a2.5,2.5 0 1,0 -5.0,0M352.9,349.0a2.5,2.5 0 1,0 5.0,0a2.5,2.5 0 1,0 -5.0,0M353.2,346.3a2.5,2.5 0 1,0 5.0,0a2.5,2.5 0 1,0 -5.0,0M354.4,347.4a2.5,2.5 0 1,0 5.0,0a2.5,2.5 0 1,0 -5.0,0M352.9,345.0a2.5,2.5 0 1,0 5.0,0a2.5,2.5 0 1,0 -5.0,0M356.3,344.2a2.5,2.5 0 1,0 5.0,0a2.5,2.5 0 1,0 -5.0,0M353.9,347.7a2.5,2.5 0 1,0 5.0,0a2.5,2.5 0 1,0 -5.0,0M353.8,347.9a2.5,2.5 0 1,0 5.0,0a2.5,2.5 0 1,0 -5.0,0M357.4,350.4a2.5,2.5 0 1,0 5.0,0a2.5,2.5 0 1,0 -5.0,0M354.0,351.0a2.5,2.5 0 1,0 5.0,0a2.5,2.5 0 1,0 -5.0,0M356.7,353.1a2.5,2.5 0 1,0 5.0,0a2.5,2.5 0 1,0 -5.0,0M356.2,353.5a2.5,2.5 0 1,0 5.0,0a2.5,2.5 0 1,0 -5.0,0M358.3,354.4a2.5,2.5 0 1,0 5.0,0a2.5,2.5 0 1,0 -5.0,0M358.0,354.2a2.5,2.5 0 1,0 5.0,0a2.5,2.5 0 1,0 -5.0,0M358.7,357.7a2.5,2.5 0 1,0 5.0,0a2.5,2.5 0 1,0 -5.0,0M359.4,357.1a2.5,2.5 0 1,0 5.0,0a2.5,2.5 0 1,0 -5.0,0M359.7,355.2a2.5,2.5 0 1,0 5.0,0a2.5,2.5 0 1,0 -5.0,0M358.8,354.5a2.5,2.5 0 1,0 5.0,0a2.5,2.5 0 1,0 -5.0,0M359.7,353.0a2.5,2.5 0 1,0 5.0,0a2.5,2.5 0 1,0 -5.0,0M361.9,353.1a2.5,2.5 0 1,0 5.0,0a2.5,2.5 0 1,0 -5.0,0M361.6,351.0a2.5,2.5 0 1,0 5.0,0a2.5,2.5 0 1,0 -5.0,0M362.4,350.7a2.5,2.5 0 1,0 5.0,0a2.5,2.5 0 1,0 -5.0,0M363.2,353.9a2.5,2.5 0 1,0 5.0,0a2.5,2.5 0 1,0 -5.0,0M365.9,353.6a2.5,2.5 0 1,0 5.0,0a2.5,2.5 0 1,0 -5.0,0M365.4,356.4a2.5,2.5 0 1,0 5.0,0a2.5,2.5 0 1,0 -5.0,0M365.3,357.1a2.5,2.5 0 1,0 5.0,0a2.5,2.5 0 1,0 -5.0,0M366.0,359.5a2.5,2.5 0 1,0 5.0,0a2.5,2.5 0 1,0 -5.0,0M365.6,358.7a2.5,2.5 0 1,0 5.0,0a2.5,2.5 0 1,0 -5.0,0M366.6,361.3a2.5,2.5 0 1,0 5.0,0a2.5,2.5 0 1,0 -5.0,0M365.3,362.0a2.5,2.5 0 1,0 5.0,0a2.5,2.5 0 1,0 -5.0,0M367.6,363.4a2.5,2.5 0 1,0 5.0,0a2.5,2.5 0 1,0 -5.0,0M367.7,363.4a2.5,2.5 0 1,0 5.0,0a2.5,2.5 0 1,0 -5.0,0M366.3,365.8a2.5,2.5 0 1,0 5.0,0a2.5,2.5 0 1,0 -5.0,0M368.4,366.5a2.5,2.5 0 1,0 5.0,0a2.5,2.5 0 1,0 -5.0,0M370.4,364.3a2.5,2.5 0 1,0 5.0,0a2.5,2.5 0 1,0 -5.0,0M368.1,363.0a2.5,2.5 0 1,0 5.0,0a2.5,2.5 0 1,0 -5.0,0M368.7,361.0a2.5,2.5 0 1,0 5.0,0a2.5,2.5 0 1,0 -5.0,0M371.7,361.6a2.5,2.5 0 1,0 5.0,0a2.5,2.5 0 1,0 -5.0,0M372.4,358.8a2.5,2.5 0 1,0 5.0,0a2.5,2.5 0 1,0 -5.0,0M370.9,358.7a2.5,2.5 0 1,0 5.0,0a2.5,2.5 0 1,0 -5.0,0M371.4,355.4a2.5,2.5 0 1,0 5.0,0a2.5,2.5 0 1,0 -5.0,0M372.4,355.4a2.5,2.5 0 1,0 5.0,0a2.5,2.5 0 1,0 -5.0,0M372.7,353.1a2.5,2.5 0 1,0 5.0,0a2.5,2.5 0 1,0 -5.0,0M373.7,354.0a2.5,2.5 0 1,0 5.0,0a2.5,2.5 0 1,0 -5.0,0M374.5,350.3a2.5,2.5 0 1,0 5.0,0a2.5,2.5 0 1,0 -5.0,0M372.4,350.6a2.5,2.5 0 1,0 5.0,0a2.5,2.5 0 1,0 -5.0,0M373.5,346.8a2.5,2.5 0 1,0 5.0,0a2.5,2.5 0 1,0 -5.0,0M374.9,349.4a2.5,2.5 0 1,0 5.0,0a2.5,2.5 0 1,0 -5.0,0M376.1,347.3a2.5,2.5 0 1,0 5.0,0a2.5,2.5 0 1,0 -5.0,0M375.4,346.8a2.5,2.5 0 1,0 5.0,0a2.5,2.5 0 1,0 -5.0,0M378.4,349.0a2.5,2.5 0 1,0 5.0,0a2.5,2.5 0 1,0 -5.0,0M377.9,349.5a2.5,2.5 0 1,0 5.0,0a2.5,2.5 0 1,0 -5.0,0M376.6,352.0a2.5,2.5 0 1,0 5.0,0a2.5,2.5 0 1,0 -5.0,0M375.9,351.5a2.5,2.5 0 1,0 5.0,0a2.5,2.5 0 1,0 -5.0,0M377.9,354.1a2.5,2.5 0 1,0 5.0,0a2.5,2.5 0 1,0 -5.0,0M377.7,354.2a2.5,2.5 0 1,0 5.0,0a2.5,2.5 0 1,0 -5.0,0M375.7,356.6a2.5,2.5 0 1,0 5.0,0a2.5,2.5 0 1,0 -5.0,0M375.9,356.4a2.5,2.5 0 1,0 5.0,0a2.5,2.5 0 1,0 -5.0,0M377.8,359.3a2.5,2.5 0 1,0 5.0,0a2.5,2.5 0 1,0 -5.0,0M377.6,358.7a2.5,2.5 0 1,0 5.0,0a2.5,2.5 0 1,0 -5.0,0M375.8,362.0a2.5,2.5 0 1,0 5.0,0a2.5,2.5 0 1,0 -5.0,0M379.2,361.2a2.5,2.5 0 1,0 5.0,0a2.5,2.5 0 1,0 -5.0,0M376.7,364.4a2.5,2.5 0 1,0 5.0,0a2.5,2.5 0 1,0 -5.0,0M377.7,363.5a2.5,2.5 0 1,0 5.0,0a2.5,2.5 0 1,0 -5.0,0M376.3,366.9a2.5,2.5 0 1,0 5.0,0a2.5,2.5 0 1,0 -5.0,0M377.9,366.2a2.5,2.5 0 1,0 5.0,0a2.5,2.5 0 1,0 -5.0,0M379.1,368.8a2.5,2.5 0 1,0 5.0,0a2.5,2.5 0 1,0 -5.0,0M379.0,368.9a2.5,2.5 0 1,0 5.0,0a2.5,2.5 0 1,0 -5.0,0M379.2,371.4a2.5,2.5 0 1,0 5.0,0a2.5,2.5 0 1,0 -5.0,0M381.3,372.6a2.5,2.5 0 1,0 5.0,0a2.5,2.5 0 1,0 -5.0,0M380.5,369.4a2.5,2.5 0 1,0 5.0,0a2.5,2.5 0 1,0 -5.0,0M381.4,369.7a2.5,2.5 0 1,0 5.0,0a2.5,2.5 0 1,0 -5.0,0M380.6,367.3a2.5,2.5 0 1,0 5.0,0a2.5,2.5 0 1,0 -5.0,0M381.7,367.5a2.5,2.5 0 1,0 5.0,0a2.5,2.5 0 1,0 -5.0,0M381.8,365.1a2.5,2.5 0 1,0 5.0,0a2.5,2.5 0 1,0 -5.0,0M380.1,365.1a2.5,2.5 0 1,0 5.0,0a2.5,2.5 0 1,0 -5.0,0M381.8,363.5a2.5,2.5 0 1,0 5.0,0a2.5,2.5 0 1,0 -5.0,0M380.1,363.3a2.5,2.5 0 1,0 5.0,0a2.5,2.5 0 1,0 -5.0,0M380.3,360.7a2.5,2.5 0 1,0 5.0,0a2.5,2.5 0 1,0 -5.0,0M380.3,361.0a2.5,2.5 0 1,0 5.0,0a2.5,2.5 0 1,0 -5.0,0M380.1,358.5a2.5,2.5 0 1,0 5.0,0a2.5,2.5 0 1,0 -5.0,0M380.5,358.5a2.5,2.5 0 1,0 5.0,0a2.5,2.5 0 1,0 -5.0,0M380.4,356.2a2.5,2.5 0 1,0 5.0,0a2.5,2.5 0 1,0 -5.0,0M382.4,356.5a2.5,2.5 0 1,0 5.0,0a2.5,2.5 0 1,0 -5.0,0M380.6,354.3a2.5,2.5 0 1,0 5.0,0a2.5,2.5 0 1,0 -5.0,0M382.9,354.7a2.5,2.5 0 1,0 5.0,0a2.5,2.5 0 1,0 -5.0,0M381.1,353.0a2.5,2.5 0 1,0 5.0,0a2.5,2.5 0 1,0 -5.0,0M382.2,351.7a2.5,2.5 0 1,0 5.0,0a2.5,2.5 0 1,0 -5.0,0M382.1,354.1a2.5,2.5 0 1,0 5.0,0a2.5,2.5 0 1,0 -5.0,0M384.6,353.6a2.5,2.5 0 1,0 5.0,0a2.5,2.5 0 1,0 -5.0,0M383.4,356.3a2.5,2.5 0 1,0 5.0,0a2.5,2.5 0 1,0 -5.0,0M384.7,355.9a2.5,2.5 0 1,0 5.0,0a2.5,2.5 0 1,0 -5.0,0M384.7,358.3a2.5,2.5 0 1,0 5.0,0a2.5,2.5 0 1,0 -5.0,0M385.1,357.5a2.5,2.5 0 1,0 5.0,0a2.5,2.5 0 1,0 -5.0,0M386.7,355.4a2.5,2.5 0 1,0 5.0,0a2.5,2.5 0 1,0 -5.0,0M386.4,355.8a2.5,2.5 0 1,0 5.0,0a2.5,2.5 0 1,0 -5.0,0M386.2,353.3a2.5,2.5 0 1,0 5.0,0a2.5,2.5 0 1,0 -5.0,0M387.1,354.0a2.5,2.5 0 1,0 5.0,0a2.5,2.5 0 1,0 -5.0,0M389.4,352.1a2.5,2.5 0 1,0 5.0,0a2.5,2.5 0 1,0 -5.0,0M387.7,350.8a2.5,2.5 0 1,0 5.0,0a2.5,2.5 0 1,0 -5.0,0M389.4,349.1a2.5,2.5 0 1,0 5.0,0a2.5,2.5 0 1,0 -5.0,0M389.5,348.0a2.5,2.5 0 1,0 5.0,0a2.5,2.5 0 1,0 -5.0,0M389.3,351.1a2.5,2.5 0 1,0 5.0,0a2.5,2.5 0 1,0 -5.0,0M388.8,352.2a2.5,2.5 0 1,0 5.0,0a2.5,2.5 0 1,0 -5.0,0M391.0,353.4a2.5,2.5 0 1,0 5.0,0a2.5,2.5 0 1,0 -5.0,0M388.8,354.4a2.5,2.5 0 1,0 5.0,0a2.5,2.5 0 1,0 -5.0,0M391.9,357.0a2.5,2.5 0 1,0 5.0,0a2.5,2.5 0 1,0 -5.0,0M390.1,357.2a2.5,2.5 0 1,0 5.0,0a2.5,2.5 0 1,0 -5.0,0M391.3,361.1a2.5,2.5 0 1,0 5.0,0a2.5,2.5 0 1,0 -5.0,0M392.3,360.4a2.5,2.5 0 1,0 5.0,0a2.5,2.5 0 1,0 -5.0,0M395.0,362.8a2.5,2.5 0 1,0 5.0,0a2.5,2.5 0 1,0 -5.0,0M393.5,363.0a2.5,2.5 0 1,0 5.0,0a2.5,2.5 0 1,0 -5.0,0M396.3,364.7a2.5,2.5 0 1,0 5.0,0a2.5,2.5 0 1,0 -5.0,0M394.2,365.3a2.5,2.5 0 1,0 5.0,0a2.5,2.5 0 1,0 -5.0,0M395.2,367.3a2.5,2.5 0 1,0 5.0,0a2.5,2.5 0 1,0 -5.0,0M395.6,368.0a2.5,2.5 0 1,0 5.0,0a2.5,2.5 0 1,0 -5.0,0M394.6,369.0a2.5,2.5 0 1,0 5.0,0a2.5,2.5 0 1,0 -5.0,0M396.0,369.8a2.5,2.5 0 1,0 5.0,0a2.5,2.5 0 1,0 -5.0,0M397.8,368.5a2.5,2.5 0 1,0 5.0,0a2.5,2.5 0 1,0 -5.0,0M397.5,369.3a2.5,2.5 0 1,0 5.0,0a2.5,2.5 0 1,0 -5.0,0M401.2,372.8a2.5,2.5 0 1,0 5.0,0a2.5,2.5 0 1,0 -5.0,0M400.4,371.4a2.5,2.5 0 1,0 5.0,0a2.5,2.5 0 1,0 -5.0,0M404.1,368.7a2.5,2.5 0 1,0 5.0,0a2.5,2.5 0 1,0 -5.0,0M403.6,368.8a2.5,2.5 0 1,0 5.0,0a2.5,2.5 0 1,0 -5.0,0M403.1,372.8a2.5,2.5 0 1,0 5.0,0a2.5,2.5 0 1,0 -5.0,0M404.3,372.4a2.5,2.5 0 1,0 5.0,0a2.5,2.5 0 1,0 -5.0,0M405.0,373.7a2.5,2.5 0 1,0 5.0,0a2.5,2.5 0 1,0 -5.0,0M406.5,373.9a2.5,2.5 0 1,0 5.0,0a2.5,2.5 0 1,0 -5.0,0M405.9,378.3a2.5,2.5 0 1,0 5.0,0a2.5,2.5 0 1,0 -5.0,0M407.1,378.6a2.5,2.5 0 1,0 5.0,0a2.5,2.5 0 1,0 -5.0,0M405.5,381.2a2.5,2.5 0 1,0 5.0,0a2.5,2.5 0 1,0 -5.0,0M406.5,381.0a2.5,2.5 0 1,0 5.0,0a2.5,2.5 0 1,0 -5.0,0M405.6,383.6a2.5,2.5 0 1,0 5.0,0a2.5,2.5 0 1,0 -5.0,0M404.9,384.3a2.5,2.5 0 1,0 5.0,0a2.5,2.5 0 1,0 -5.0,0M406.3,385.8a2.5,2.5 0 1,0 5.0,0a2.5,2.5 0 1,0 -5.0,0M406.8,386.2a2.5,2.5 0 1,0 5.0,0a2.5,2.5 0 1,0 -5.0,0M407.6,388.6a2.5,2.5 0 1,0 5.0,0a2.5,2.5 0 1,0 -5.0,0M408.1,388.3a2.5,2.5 0 1,0 5.0,0a2.5,2.5 0 1,0 -5.0,0M409.6,386.0a2.5,2.5 0 1,0 5.0,0a2.5,2.5 0 1,0 -5.0,0M410.3,385.8a2.5,2.5 0 1,0 5.0,0a2.5,2.5 0 1,0 -5.0,0M410.0,383.6a2.5,2.5 0 1,0 5.0,0a2.5,2.5 0 1,0 -5.0,0M409.9,383.2a2.5,2.5 0 1,0 5.0,0a2.5,2.5 0 1,0 -5.0,0M410.3,379.4a2.5,2.5 0 1,0 5.0,0a2.5,2.5 0 1,0 -5.0,0M410.2,379.7a2.5,2.5 0 1,0 5.0,0a2.5,2.5 0 1,0 -5.0,0M410.7,377.7a2.5,2.5 0 1,0 5.0,0a2.5,2.5 0 1,0 -5.0,0M412.1,377.8a2.5,2.5 0 1,0 5.0,0a2.5,2.5 0 1,0 -5.0,0M412.0,374.9a2.5,2.5 0 1,0 5.0,0a2.5,2.5 0 1,0 -5.0,0M411.1,374.3a2.5,2.5 0 1,0 5.0,0a2.5,2.5 0 1,0 -5.0,0M413.0,372.7a2.5,2.5 0 1,0 5.0,0a2.5,2.5 0 1,0 -5.0,0M414.2,372.9a2.5,2.5 0 1,0 5.0,0a2.5,2.5 0 1,0 -5.0,0M414.6,369.7a2.5,2.5 0 1,0 5.0,0a2.5,2.5 0 1,0 -5.0,0M414.2,369.8a2.5,2.5 0 1,0 5.0,0a2.5,2.5 0 1,0 -5.0,0M414.7,367.8a2.5,2.5 0 1,0 5.0,0a2.5,2.5 0 1,0 -5.0,0M414.8,367.2a2.5,2.5 0 1,0 5.0,0a2.5,2.5 0 1,0 -5.0,0M411.9,365.2a2.5,2.5 0 1,0 5.0,0a2.5,2.5 0 1,0 -5.0,0M412.3,364.5a2.5,2.5 0 1,0 5.0,0a2.5,2.5 0 1,0 -5.0,0M412.6,362.0a2.5,2.5 0 1,0 5.0,0a2.5,2.5 0 1,0 -5.0,0M412.4,362.7a2.5,2.5 0 1,0 5.0,0a2.5,2.5 0 1,0 -5.0,0M414.5,360.1a2.5,2.5 0 1,0 5.0,0a2.5,2.5 0 1,0 -5.0,0M415.3,360.1a2.5,2.5 0 1,0 5.0,0a2.5,2.5 0 1,0 -5.0,0M414.0,356.6a2.5,2.5 0 1,0 5.0,0a2.5,2.5 0 1,0 -5.0,0M414.2,356.7a2.5,2.5 0 1,0 5.0,0a2.5,2.5 0 1,0 -5.0,0M413.6,353.4a2.5,2.5 0 1,0 5.0,0a2.5,2.5 0 1,0 -5.0,0M414.3,354.0a2.5,2.5 0 1,0 5.0,0a2.5,2.5 0 1,0 -5.0,0M415.5,351.1a2.5,2.5 0 1,0 5.0,0a2.5,2.5 0 1,0 -5.0,0M415.5,350.6a2.5,2.5 0 1,0 5.0,0a2.5,2.5 0 1,0 -5.0,0M416.6,349.0a2.5,2.5 0 1,0 5.0,0a2.5,2.5 0 1,0 -5.0,0M416.7,346.7a2.5,2.5 0 1,0 5.0,0a2.5,2.5 0 1,0 -5.0,0M369.5,377.0a2.5,2.5 0 1,0 5.0,0a2.5,2.5 0 1,0 -5.0,0M418.5,344.0a2.5,2.5 0 1,0 5.0,0a2.5,2.5 0 1,0 -5.0,0M417.5,349.0a2.5,2.5 0 1,0 5.0,0a2.5,2.5 0 1,0 -5.0,0M415.5,353.0a2.5,2.5 0 1,0 5.0,0a2.5,2.5 0 1,0 -5.0,0M414.5,358.0a2.5,2.5 0 1,0 5.0,0a2.5,2.5 0 1,0 -5.0,0M419.5,352.0a2.5,2.5 0 1,0 5.0,0a2.5,2.5 0 1,0 -5.0,0M421.5,357.0a2.5,2.5 0 1,0 5.0,0a2.5,2.5 0 1,0 -5.0,0M422.5,357.0a2.5,2.5 0 1,0 5.0,0a2.5,2.5 0 1,0 -5.0,0M421.5,364.0a2.5,2.5 0 1,0 5.0,0a2.5,2.5 0 1,0 -5.0,0M413.5,370.0a2.5,2.5 0 1,0 5.0,0a2.5,2.5 0 1,0 -5.0,0M411.5,380.0a2.5,2.5 0 1,0 5.0,0a2.5,2.5 0 1,0 -5.0,0M409.5,386.0a2.5,2.5 0 1,0 5.0,0a2.5,2.5 0 1,0 -5.0,0M408.5,390.0a2.5,2.5 0 1,0 5.0,0a2.5,2.5 0 1,0 -5.0,0M421.6,392.6a2.5,2.5 0 1,0 5.0,0a2.5,2.5 0 1,0 -5.0,0M421.2,392.5a2.5,2.5 0 1,0 5.0,0a2.5,2.5 0 1,0 -5.0,0M424.6,393.8a2.5,2.5 0 1,0 5.0,0a2.5,2.5 0 1,0 -5.0,0M422.4,394.0a2.5,2.5 0 1,0 5.0,0a2.5,2.5 0 1,0 -5.0,0M424.0,395.7a2.5,2.5 0 1,0 5.0,0a2.5,2.5 0 1,0 -5.0,0M425.6,395.4a2.5,2.5 0 1,0 5.0,0a2.5,2.5 0 1,0 -5.0,0M424.3,398.8a2.5,2.5 0 1,0 5.0,0a2.5,2.5 0 1,0 -5.0,0M425.3,399.2a2.5,2.5 0 1,0 5.0,0a2.5,2.5 0 1,0 -5.0,0M424.3,401.2a2.5,2.5 0 1,0 5.0,0a2.5,2.5 0 1,0 -5.0,0M425.0,402.0a2.5,2.5 0 1,0 5.0,0a2.5,2.5 0 1,0 -5.0,0M427.0,399.6a2.5,2.5 0 1,0 5.0,0a2.5,2.5 0 1,0 -5.0,0M425.8,399.3a2.5,2.5 0 1,0 5.0,0a2.5,2.5 0 1,0 -5.0,0M425.7,397.4a2.5,2.5 0 1,0 5.0,0a2.5,2.5 0 1,0 -5.0,0M428.2,398.3a2.5,2.5 0 1,0 5.0,0a2.5,2.5 0 1,0 -5.0,0M428.5,395.4a2.5,2.5 0 1,0 5.0,0a2.5,2.5 0 1,0 -5.0,0M428.0,395.6a2.5,2.5 0 1,0 5.0,0a2.5,2.5 0 1,0 -5.0,0M429.3,392.5a2.5,2.5 0 1,0 5.0,0a2.5,2.5 0 1,0 -5.0,0M430.0,392.9a2.5,2.5 0 1,0 5.0,0a2.5,2.5 0 1,0 -5.0,0M429.3,395.1a2.5,2.5 0 1,0 5.0,0a2.5,2.5 0 1,0 -5.0,0M429.5,395.4a2.5,2.5 0 1,0 5.0,0a2.5,2.5 0 1,0 -5.0,0M430.0,398.7a2.5,2.5 0 1,0 5.0,0a2.5,2.5 0 1,0 -5.0,0M431.1,397.1a2.5,2.5 0 1,0 5.0,0a2.5,2.5 0 1,0 -5.0,0M431.8,400.1a2.5,2.5 0 1,0 5.0,0a2.5,2.5 0 1,0 -5.0,0M432.6,399.4a2.5,2.5 0 1,0 5.0,0a2.5,2.5 0 1,0 -5.0,0M433.4,402.5a2.5,2.5 0 1,0 5.0,0a2.5,2.5 0 1,0 -5.0,0M434.0,402.3a2.5,2.5 0 1,0 5.0,0a2.5,2.5 0 1,0 -5.0,0M436.0,404.3a2.5,2.5 0 1,0 5.0,0a2.5,2.5 0 1,0 -5.0,0M436.1,404.0a2.5,2.5 0 1,0 5.0,0a2.5,2.5 0 1,0 -5.0,0M439.0,406.0a2.5,2.5 0 1,0 5.0,0a2.5,2.5 0 1,0 -5.0,0M439.7,404.7a2.5,2.5 0 1,0 5.0,0a2.5,2.5 0 1,0 -5.0,0M443.8,406.3a2.5,2.5 0 1,0 5.0,0a2.5,2.5 0 1,0 -5.0,0M442.2,406.7a2.5,2.5 0 1,0 5.0,0a2.5,2.5 0 1,0 -5.0,0M445.0,407.2a2.5,2.5 0 1,0 5.0,0a2.5,2.5 0 1,0 -5.0,0M444.8,407.9a2.5,2.5 0 1,0 5.0,0a2.5,2.5 0 1,0 -5.0,0M453.3,381.4a2.5,2.5 0 1,0 5.0,0a2.5,2.5 0 1,0 -5.0,0M452.7,381.7a2.5,2.5 0 1,0 5.0,0a2.5,2.5 0 1,0 -5.0,0M454.3,384.2a2.5,2.5 0 1,0 5.0,0a2.5,2.5 0 1,0 -5.0,0M453.1,384.1a2.5,2.5 0 1,0 5.0,0a2.5,2.5 0 1,0 -5.0,0M451.6,387.1a2.5,2.5 0 1,0 5.0,0a2.5,2.5 0 1,0 -5.0,0M453.1,387.6a2.5,2.5 0 1,0 5.0,0a2.5,2.5 0 1,0 -5.0,0M454.5,389.6a2.5,2.5 0 1,0 5.0,0a2.5,2.5 0 1,0 -5.0,0M454.6,389.6a2.5,2.5 0 1,0 5.0,0a2.5,2.5 0 1,0 -5.0,0M453.4,392.0a2.5,2.5 0 1,0 5.0,0a2.5,2.5 0 1,0 -5.0,0M452.8,393.0a2.5,2.5 0 1,0 5.0,0a2.5,2.5 0 1,0 -5.0,0M455.7,393.5a2.5,2.5 0 1,0 5.0,0a2.5,2.5 0 1,0 -5.0,0M456.1,393.6a2.5,2.5 0 1,0 5.0,0a2.5,2.5 0 1,0 -5.0,0M455.3,396.2a2.5,2.5 0 1,0 5.0,0a2.5,2.5 0 1,0 -5.0,0M455.6,396.0a2.5,2.5 0 1,0 5.0,0a2.5,2.5 0 1,0 -5.0,0M458.1,398.2a2.5,2.5 0 1,0 5.0,0a2.5,2.5 0 1,0 -5.0,0M456.8,398.4a2.5,2.5 0 1,0 5.0,0a2.5,2.5 0 1,0 -5.0,0M458.6,400.6a2.5,2.5 0 1,0 5.0,0a2.5,2.5 0 1,0 -5.0,0M459.3,400.0a2.5,2.5 0 1,0 5.0,0a2.5,2.5 0 1,0 -5.0,0M460.8,402.2a2.5,2.5 0 1,0 5.0,0a2.5,2.5 0 1,0 -5.0,0M460.6,402.2a2.5,2.5 0 1,0 5.0,0a2.5,2.5 0 1,0 -5.0,0M464.5,404.3a2.5,2.5 0 1,0 5.0,0a2.5,2.5 0 1,0 -5.0,0M463.6,405.6a2.5,2.5 0 1,0 5.0,0a2.5,2.5 0 1,0 -5.0,0M465.2,406.9a2.5,2.5 0 1,0 5.0,0a2.5,2.5 0 1,0 -5.0,0M467.2,408.0a2.5,2.5 0 1,0 5.0,0a2.5,2.5 0 1,0 -5.0,0M467.2,405.6a2.5,2.5 0 1,0 5.0,0a2.5,2.5 0 1,0 -5.0,0M466.5,404.5a2.5,2.5 0 1,0 5.0,0a2.5,2.5 0 1,0 -5.0,0M467.5,403.3a2.5,2.5 0 1,0 5.0,0a2.5,2.5 0 1,0 -5.0,0M467.3,403.3a2.5,2.5 0 1,0 5.0,0a2.5,2.5 0 1,0 -5.0,0M468.4,400.4a2.5,2.5 0 1,0 5.0,0a2.5,2.5 0 1,0 -5.0,0M468.5,400.2a2.5,2.5 0 1,0 5.0,0a2.5,2.5 0 1,0 -5.0,0M467.9,395.6a2.5,2.5 0 1,0 5.0,0a2.5,2.5 0 1,0 -5.0,0M467.3,397.1a2.5,2.5 0 1,0 5.0,0a2.5,2.5 0 1,0 -5.0,0M468.5,375.0a2.5,2.5 0 1,0 5.0,0a2.5,2.5 0 1,0 -5.0,0M470.5,311.0a2.5,2.5 0 1,0 5.0,0a2.5,2.5 0 1,0 -5.0,0M470.5,316.0a2.5,2.5 0 1,0 5.0,0a2.5,2.5 0 1,0 -5.0,0M471.5,321.0a2.5,2.5 0 1,0 5.0,0a2.5,2.5 0 1,0 -5.0,0M472.5,326.0a2.5,2.5 0 1,0 5.0,0a2.5,2.5 0 1,0 -5.0,0M469.5,331.0a2.5,2.5 0 1,0 5.0,0a2.5,2.5 0 1,0 -5.0,0M475.5,335.0a2.5,2.5 0 1,0 5.0,0a2.5,2.5 0 1,0 -5.0,0M476.5,338.0a2.5,2.5 0 1,0 5.0,0a2.5,2.5 0 1,0 -5.0,0M474.5,342.0a2.5,2.5 0 1,0 5.0,0a2.5,2.5 0 1,0 -5.0,0M475.5,347.0a2.5,2.5 0 1,0 5.0,0a2.5,2.5 0 1,0 -5.0,0M478.5,347.0a2.5,2.5 0 1,0 5.0,0a2.5,2.5 0 1,0 -5.0,0M491.5,331.0a2.5,2.5 0 1,0 5.0,0a2.5,2.5 0 1,0 -5.0,0M479.5,394.0a2.5,2.5 0 1,0 5.0,0a2.5,2.5 0 1,0 -5.0,0M481.5,410.0a2.5,2.5 0 1,0 5.0,0a2.5,2.5 0 1,0 -5.0,0M483.5,409.0a2.5,2.5 0 1,0 5.0,0a2.5,2.5 0 1,0 -5.0,0M485.5,406.0a2.5,2.5 0 1,0 5.0,0a2.5,2.5 0 1,0 -5.0,0M487.5,400.0a2.5,2.5 0 1,0 5.0,0a2.5,2.5 0 1,0 -5.0,0M488.5,396.0a2.5,2.5 0 1,0 5.0,0a2.5,2.5 0 1,0 -5.0,0M487.5,390.0a2.5,2.5 0 1,0 5.0,0a2.5,2.5 0 1,0 -5.0,0M489.5,389.0a2.5,2.5 0 1,0 5.0,0a2.5,2.5 0 1,0 -5.0,0M490.5,377.0a2.5,2.5 0 1,0 5.0,0a2.5,2.5 0 1,0 -5.0,0M492.5,378.0a2.5,2.5 0 1,0 5.0,0a2.5,2.5 0 1,0 -5.0,0M491.5,402.0a2.5,2.5 0 1,0 5.0,0a2.5,2.5 0 1,0 -5.0,0M494.5,401.0a2.5,2.5 0 1,0 5.0,0a2.5,2.5 0 1,0 -5.0,0M496.5,392.0a2.5,2.5 0 1,0 5.0,0a2.5,2.5 0 1,0 -5.0,0M498.5,401.0a2.5,2.5 0 1,0 5.0,0a2.5,2.5 0 1,0 -5.0,0M501.5,403.0a2.5,2.5 0 1,0 5.0,0a2.5,2.5 0 1,0 -5.0,0M503.5,406.0a2.5,2.5 0 1,0 5.0,0a2.5,2.5 0 1,0 -5.0,0M504.5,410.0a2.5,2.5 0 1,0 5.0,0a2.5,2.5 0 1,0 -5.0,0M509.5,333.0a2.5,2.5 0 1,0 5.0,0a2.5,2.5 0 1,0 -5.0,0M509.5,338.0a2.5,2.5 0 1,0 5.0,0a2.5,2.5 0 1,0 -5.0,0M507.5,344.0a2.5,2.5 0 1,0 5.0,0a2.5,2.5 0 1,0 -5.0,0M510.5,348.0a2.5,2.5 0 1,0 5.0,0a2.5,2.5 0 1,0 -5.0,0M511.5,353.0a2.5,2.5 0 1,0 5.0,0a2.5,2.5 0 1,0 -5.0,0M508.5,357.0a2.5,2.5 0 1,0 5.0,0a2.5,2.5 0 1,0 -5.0,0M512.5,360.0a2.5,2.5 0 1,0 5.0,0a2.5,2.5 0 1,0 -5.0,0M513.5,366.0a2.5,2.5 0 1,0 5.0,0a2.5,2.5 0 1,0 -5.0,0M516.5,370.0a2.5,2.5 0 1,0 5.0,0a2.5,2.5 0 1,0 -5.0,0M518.5,374.0a2.5,2.5 0 1,0 5.0,0a2.5,2.5 0 1,0 -5.0,0M515.5,376.0a2.5,2.5 0 1,0 5.0,0a2.5,2.5 0 1,0 -5.0,0M516.5,382.0a2.5,2.5 0 1,0 5.0,0a2.5,2.5 0 1,0 -5.0,0M517.5,386.0a2.5,2.5 0 1,0 5.0,0a2.5,2.5 0 1,0 -5.0,0M521.5,388.0a2.5,2.5 0 1,0 5.0,0a2.5,2.5 0 1,0 -5.0,0M516.5,393.0a2.5,2.5 0 1,0 5.0,0a2.5,2.5 0 1,0 -5.0,0M522.5,394.0a2.5,2.5 0 1,0 5.0,0a2.5,2.5 0 1,0 -5.0,0M520.5,376.0a2.5,2.5 0 1,0 5.0,0a2.5,2.5 0 1,0 -5.0,0M519.5,370.0a2.5,2.5 0 1,0 5.0,0a2.5,2.5 0 1,0 -5.0,0M506.5,369.0a2.5,2.5 0 1,0 5.0,0a2.5,2.5 0 1,0 -5.0,0M505.5,376.0a2.5,2.5 0 1,0 5.0,0a2.5,2.5 0 1,0 -5.0,0M505.5,388.0a2.5,2.5 0 1,0 5.0,0a2.5,2.5 0 1,0 -5.0,0M509.2,332.5a2.5,2.5 0 1,0 5.0,0a2.5,2.5 0 1,0 -5.0,0M509.2,338.3a2.5,2.5 0 1,0 5.0,0a2.5,2.5 0 1,0 -5.0,0M507.5,344.2a2.5,2.5 0 1,0 5.0,0a2.5,2.5 0 1,0 -5.0,0M510.0,346.7a2.5,2.5 0 1,0 5.0,0a2.5,2.5 0 1,0 -5.0,0M511.7,351.7a2.5,2.5 0 1,0 5.0,0a2.5,2.5 0 1,0 -5.0,0M508.3,356.7a2.5,2.5 0 1,0 5.0,0a2.5,2.5 0 1,0 -5.0,0M512.5,357.5a2.5,2.5 0 1,0 5.0,0a2.5,2.5 0 1,0 -5.0,0M513.3,360.8a2.5,2.5 0 1,0 5.0,0a2.5,2.5 0 1,0 -5.0,0M514.2,366.7a2.5,2.5 0 1,0 5.0,0a2.5,2.5 0 1,0 -5.0,0M506.7,369.2a2.5,2.5 0 1,0 5.0,0a2.5,2.5 0 1,0 -5.0,0M505.8,376.7a2.5,2.5 0 1,0 5.0,0a2.5,2.5 0 1,0 -5.0,0M505.0,388.3a2.5,2.5 0 1,0 5.0,0a2.5,2.5 0 1,0 -5.0,0M515.0,376.7a2.5,2.5 0 1,0 5.0,0a2.5,2.5 0 1,0 -5.0,0M515.8,381.7a2.5,2.5 0 1,0 5.0,0a2.5,2.5 0 1,0 -5.0,0M516.7,386.7a2.5,2.5 0 1,0 5.0,0a2.5,2.5 0 1,0 -5.0,0M516.7,392.5a2.5,2.5 0 1,0 5.0,0a2.5,2.5 0 1,0 -5.0,0M519.2,370.0a2.5,2.5 0 1,0 5.0,0a2.5,2.5 0 1,0 -5.0,0M520.0,374.2a2.5,2.5 0 1,0 5.0,0a2.5,2.5 0 1,0 -5.0,0M521.7,376.7a2.5,2.5 0 1,0 5.0,0a2.5,2.5 0 1,0 -5.0,0M518.3,378.3a2.5,2.5 0 1,0 5.0,0a2.5,2.5 0 1,0 -5.0,0M519.2,382.5a2.5,2.5 0 1,0 5.0,0a2.5,2.5 0 1,0 -5.0,0M521.7,388.3a2.5,2.5 0 1,0 5.0,0a2.5,2.5 0 1,0 -5.0,0M522.5,394.2a2.5,2.5 0 1,0 5.0,0a2.5,2.5 0 1,0 -5.0,0M497.5,392.5a2.5,2.5 0 1,0 5.0,0a2.5,2.5 0 1,0 -5.0,0M499.2,401.7a2.5,2.5 0 1,0 5.0,0a2.5,2.5 0 1,0 -5.0,0M502.5,405.8a2.5,2.5 0 1,0 5.0,0a2.5,2.5 0 1,0 -5.0,0M504.2,410.0a2.5,2.5 0 1,0 5.0,0a2.5,2.5 0 1,0 -5.0,0M538.3,321.7a2.5,2.5 0 1,0 5.0,0a2.5,2.5 0 1,0 -5.0,0M539.2,325.0a2.5,2.5 0 1,0 5.0,0a2.5,2.5 0 1,0 -5.0,0M535.8,336.7a2.5,2.5 0 1,0 5.0,0a2.5,2.5 0 1,0 -5.0,0M537.5,346.7a2.5,2.5 0 1,0 5.0,0a2.5,2.5 0 1,0 -5.0,0M540.0,349.2a2.5,2.5 0 1,0 5.0,0a2.5,2.5 0 1,0 -5.0,0M535.0,350.8a2.5,2.5 0 1,0 5.0,0a2.5,2.5 0 1,0 -5.0,0M528.3,379.2a2.5,2.5 0 1,0 5.0,0a2.5,2.5 0 1,0 -5.0,0M533.3,377.5a2.5,2.5 0 1,0 5.0,0a2.5,2.5 0 1,0 -5.0,0M530.0,381.7a2.5,2.5 0 1,0 5.0,0a2.5,2.5 0 1,0 -5.0,0M527.5,383.3a2.5,2.5 0 1,0 5.0,0a2.5,2.5 0 1,0 -5.0,0M531.7,386.7a2.5,2.5 0 1,0 5.0,0a2.5,2.5 0 1,0 -5.0,0M532.5,390.8a2.5,2.5 0 1,0 5.0,0a2.5,2.5 0 1,0 -5.0,0M540.0,399.2a2.5,2.5 0 1,0 5.0,0a2.5,2.5 0 1,0 -5.0,0M541.7,405.0a2.5,2.5 0 1,0 5.0,0a2.5,2.5 0 1,0 -5.0,0M540.8,409.2a2.5,2.5 0 1,0 5.0,0a2.5,2.5 0 1,0 -5.0,0M543.3,411.7a2.5,2.5 0 1,0 5.0,0a2.5,2.5 0 1,0 -5.0,0M545.8,410.8a2.5,2.5 0 1,0 5.0,0a2.5,2.5 0 1,0 -5.0,0M548.3,409.2a2.5,2.5 0 1,0 5.0,0a2.5,2.5 0 1,0 -5.0,0M550.0,405.8a2.5,2.5 0 1,0 5.0,0a2.5,2.5 0 1,0 -5.0,0M550.8,400.0a2.5,2.5 0 1,0 5.0,0a2.5,2.5 0 1,0 -5.0,0M552.5,386.7a2.5,2.5 0 1,0 5.0,0a2.5,2.5 0 1,0 -5.0,0M552.5,393.3a2.5,2.5 0 1,0 5.0,0a2.5,2.5 0 1,0 -5.0,0M555.0,391.7a2.5,2.5 0 1,0 5.0,0a2.5,2.5 0 1,0 -5.0,0M556.7,396.7a2.5,2.5 0 1,0 5.0,0a2.5,2.5 0 1,0 -5.0,0M558.3,386.7a2.5,2.5 0 1,0 5.0,0a2.5,2.5 0 1,0 -5.0,0M559.2,400.0a2.5,2.5 0 1,0 5.0,0a2.5,2.5 0 1,0 -5.0,0M561.7,397.5a2.5,2.5 0 1,0 5.0,0a2.5,2.5 0 1,0 -5.0,0M563.3,395.0a2.5,2.5 0 1,0 5.0,0a2.5,2.5 0 1,0 -5.0,0M565.0,401.7a2.5,2.5 0 1,0 5.0,0a2.5,2.5 0 1,0 -5.0,0M565.8,392.5a2.5,2.5 0 1,0 5.0,0a2.5,2.5 0 1,0 -5.0,0M567.5,390.0a2.5,2.5 0 1,0 5.0,0a2.5,2.5 0 1,0 -5.0,0M570.0,387.5a2.5,2.5 0 1,0 5.0,0a2.5,2.5 0 1,0 -5.0,0M570.8,391.7a2.5,2.5 0 1,0 5.0,0a2.5,2.5 0 1,0 -5.0,0M580.8,400.0a2.5,2.5 0 1,0 5.0,0a2.5,2.5 0 1,0 -5.0,0M582.5,396.7a2.5,2.5 0 1,0 5.0,0a2.5,2.5 0 1,0 -5.0,0M585.0,401.7a2.5,2.5 0 1,0 5.0,0a2.5,2.5 0 1,0 -5.0,0M586.7,404.2a2.5,2.5 0 1,0 5.0,0a2.5,2.5 0 1,0 -5.0,0M588.3,398.3a2.5,2.5 0 1,0 5.0,0a2.5,2.5 0 1,0 -5.0,0M590.0,395.0a2.5,2.5 0 1,0 5.0,0a2.5,2.5 0 1,0 -5.0,0M591.7,391.7a2.5,2.5 0 1,0 5.0,0a2.5,2.5 0 1,0 -5.0,0M590.8,400.0a2.5,2.5 0 1,0 5.0,0a2.5,2.5 0 1,0 -5.0,0M76.1,523.8a2.5,2.5 0 1,0 5.0,0a2.5,2.5 0 1,0 -5.0,0M75.1,522.0a2.5,2.5 0 1,0 5.0,0a2.5,2.5 0 1,0 -5.0,0M79.6,521.9a2.5,2.5 0 1,0 5.0,0a2.5,2.5 0 1,0 -5.0,0M79.9,520.9a2.5,2.5 0 1,0 5.0,0a2.5,2.5 0 1,0 -5.0,0M80.0,524.5a2.5,2.5 0 1,0 5.0,0a2.5,2.5 0 1,0 -5.0,0M81.6,524.2a2.5,2.5 0 1,0 5.0,0a2.5,2.5 0 1,0 -5.0,0M82.4,525.7a2.5,2.5 0 1,0 5.0,0a2.5,2.5 0 1,0 -5.0,0M82.9,526.1a2.5,2.5 0 1,0 5.0,0a2.5,2.5 0 1,0 -5.0,0M85.6,524.4a2.5,2.5 0 1,0 5.0,0a2.5,2.5 0 1,0 -5.0,0M85.1,523.9a2.5,2.5 0 1,0 5.0,0a2.5,2.5 0 1,0 -5.0,0M88.5,524.0a2.5,2.5 0 1,0 5.0,0a2.5,2.5 0 1,0 -5.0,0M88.2,525.1a2.5,2.5 0 1,0 5.0,0a2.5,2.5 0 1,0 -5.0,0M90.9,525.3a2.5,2.5 0 1,0 5.0,0a2.5,2.5 0 1,0 -5.0,0M91.8,525.6a2.5,2.5 0 1,0 5.0,0a2.5,2.5 0 1,0 -5.0,0M90.6,522.1a2.5,2.5 0 1,0 5.0,0a2.5,2.5 0 1,0 -5.0,0M92.9,522.5a2.5,2.5 0 1,0 5.0,0a2.5,2.5 0 1,0 -5.0,0M93.2,520.6a2.5,2.5 0 1,0 5.0,0a2.5,2.5 0 1,0 -5.0,0M92.0,520.4a2.5,2.5 0 1,0 5.0,0a2.5,2.5 0 1,0 -5.0,0M92.1,518.7a2.5,2.5 0 1,0 5.0,0a2.5,2.5 0 1,0 -5.0,0M91.6,518.3a2.5,2.5 0 1,0 5.0,0a2.5,2.5 0 1,0 -5.0,0M93.8,520.6a2.5,2.5 0 1,0 5.0,0a2.5,2.5 0 1,0 -5.0,0M94.7,520.7a2.5,2.5 0 1,0 5.0,0a2.5,2.5 0 1,0 -5.0,0M96.0,523.0a2.5,2.5 0 1,0 5.0,0a2.5,2.5 0 1,0 -5.0,0M93.9,523.9a2.5,2.5 0 1,0 5.0,0a2.5,2.5 0 1,0 -5.0,0M97.3,527.1a2.5,2.5 0 1,0 5.0,0a2.5,2.5 0 1,0 -5.0,0M94.8,525.5a2.5,2.5 0 1,0 5.0,0a2.5,2.5 0 1,0 -5.0,0M97.8,524.3a2.5,2.5 0 1,0 5.0,0a2.5,2.5 0 1,0 -5.0,0M97.6,524.2a2.5,2.5 0 1,0 5.0,0a2.5,2.5 0 1,0 -5.0,0M97.9,522.4a2.5,2.5 0 1,0 5.0,0a2.5,2.5 0 1,0 -5.0,0M96.1,523.4a2.5,2.5 0 1,0 5.0,0a2.5,2.5 0 1,0 -5.0,0M99.0,525.3a2.5,2.5 0 1,0 5.0,0a2.5,2.5 0 1,0 -5.0,0M98.5,525.7a2.5,2.5 0 1,0 5.0,0a2.5,2.5 0 1,0 -5.0,0M101.9,527.3a2.5,2.5 0 1,0 5.0,0a2.5,2.5 0 1,0 -5.0,0M101.4,527.6a2.5,2.5 0 1,0 5.0,0a2.5,2.5 0 1,0 -5.0,0M104.2,528.5a2.5,2.5 0 1,0 5.0,0a2.5,2.5 0 1,0 -5.0,0M102.8,530.6a2.5,2.5 0 1,0 5.0,0a2.5,2.5 0 1,0 -5.0,0M105.1,531.2a2.5,2.5 0 1,0 5.0,0a2.5,2.5 0 1,0 -5.0,0M104.5,532.5a2.5,2.5 0 1,0 5.0,0a2.5,2.5 0 1,0 -5.0,0M108.4,532.7a2.5,2.5 0 1,0 5.0,0a2.5,2.5 0 1,0 -5.0,0M107.9,532.8a2.5,2.5 0 1,0 5.0,0a2.5,2.5 0 1,0 -5.0,0M107.6,530.2a2.5,2.5 0 1,0 5.0,0a2.5,2.5 0 1,0 -5.0,0M109.3,528.5a2.5,2.5 0 1,0 5.0,0a2.5,2.5 0 1,0 -5.0,0M109.7,531.1a2.5,2.5 0 1,0 5.0,0a2.5,2.5 0 1,0 -5.0,0M110.8,531.4a2.5,2.5 0 1,0 5.0,0a2.5,2.5 0 1,0 -5.0,0M112.3,532.5a2.5,2.5 0 1,0 5.0,0a2.5,2.5 0 1,0 -5.0,0M112.2,532.4a2.5,2.5 0 1,0 5.0,0a2.5,2.5 0 1,0 -5.0,0M111.9,534.9a2.5,2.5 0 1,0 5.0,0a2.5,2.5 0 1,0 -5.0,0M113.0,534.2a2.5,2.5 0 1,0 5.0,0a2.5,2.5 0 1,0 -5.0,0M112.8,536.5a2.5,2.5 0 1,0 5.0,0a2.5,2.5 0 1,0 -5.0,0M113.4,537.5a2.5,2.5 0 1,0 5.0,0a2.5,2.5 0 1,0 -5.0,0M114.4,534.5a2.5,2.5 0 1,0 5.0,0a2.5,2.5 0 1,0 -5.0,0M113.0,533.9a2.5,2.5 0 1,0 5.0,0a2.5,2.5 0 1,0 -5.0,0M112.8,532.0a2.5,2.5 0 1,0 5.0,0a2.5,2.5 0 1,0 -5.0,0M116.1,532.2a2.5,2.5 0 1,0 5.0,0a2.5,2.5 0 1,0 -5.0,0M114.6,529.6a2.5,2.5 0 1,0 5.0,0a2.5,2.5 0 1,0 -5.0,0M114.2,529.8a2.5,2.5 0 1,0 5.0,0a2.5,2.5 0 1,0 -5.0,0M114.9,527.6a2.5,2.5 0 1,0 5.0,0a2.5,2.5 0 1,0 -5.0,0M115.0,527.9a2.5,2.5 0 1,0 5.0,0a2.5,2.5 0 1,0 -5.0,0M116.5,529.3a2.5,2.5 0 1,0 5.0,0a2.5,2.5 0 1,0 -5.0,0M118.0,527.5a2.5,2.5 0 1,0 5.0,0a2.5,2.5 0 1,0 -5.0,0M120.2,530.1a2.5,2.5 0 1,0 5.0,0a2.5,2.5 0 1,0 -5.0,0M121.3,530.0a2.5,2.5 0 1,0 5.0,0a2.5,2.5 0 1,0 -5.0,0M123.0,533.0a2.5,2.5 0 1,0 5.0,0a2.5,2.5 0 1,0 -5.0,0M124.0,533.8a2.5,2.5 0 1,0 5.0,0a2.5,2.5 0 1,0 -5.0,0M125.3,530.2a2.5,2.5 0 1,0 5.0,0a2.5,2.5 0 1,0 -5.0,0M122.9,530.0a2.5,2.5 0 1,0 5.0,0a2.5,2.5 0 1,0 -5.0,0M124.9,532.5a2.5,2.5 0 1,0 5.0,0a2.5,2.5 0 1,0 -5.0,0M123.2,532.9a2.5,2.5 0 1,0 5.0,0a2.5,2.5 0 1,0 -5.0,0M123.7,535.5a2.5,2.5 0 1,0 5.0,0a2.5,2.5 0 1,0 -5.0,0M125.7,535.4a2.5,2.5 0 1,0 5.0,0a2.5,2.5 0 1,0 -5.0,0M124.5,538.6a2.5,2.5 0 1,0 5.0,0a2.5,2.5 0 1,0 -5.0,0M125.7,538.1a2.5,2.5 0 1,0 5.0,0a2.5,2.5 0 1,0 -5.0,0M127.4,539.9a2.5,2.5 0 1,0 5.0,0a2.5,2.5 0 1,0 -5.0,0M128.2,540.8a2.5,2.5 0 1,0 5.0,0a2.5,2.5 0 1,0 -5.0,0M127.1,536.1a2.5,2.5 0 1,0 5.0,0a2.5,2.5 0 1,0 -5.0,0M129.6,537.8a2.5,2.5 0 1,0 5.0,0a2.5,2.5 0 1,0 -5.0,0M131.7,534.3a2.5,2.5 0 1,0 5.0,0a2.5,2.5 0 1,0 -5.0,0M130.2,535.9a2.5,2.5 0 1,0 5.0,0a2.5,2.5 0 1,0 -5.0,0M132.8,537.8a2.5,2.5 0 1,0 5.0,0a2.5,2.5 0 1,0 -5.0,0M131.7,539.1a2.5,2.5 0 1,0 5.0,0a2.5,2.5 0 1,0 -5.0,0M135.7,539.3a2.5,2.5 0 1,0 5.0,0a2.5,2.5 0 1,0 -5.0,0M133.5,538.6a2.5,2.5 0 1,0 5.0,0a2.5,2.5 0 1,0 -5.0,0M136.3,536.7a2.5,2.5 0 1,0 5.0,0a2.5,2.5 0 1,0 -5.0,0M133.6,535.8a2.5,2.5 0 1,0 5.0,0a2.5,2.5 0 1,0 -5.0,0M135.8,534.7a2.5,2.5 0 1,0 5.0,0a2.5,2.5 0 1,0 -5.0,0M137.4,534.9a2.5,2.5 0 1,0 5.0,0a2.5,2.5 0 1,0 -5.0,0M136.8,538.0a2.5,2.5 0 1,0 5.0,0a2.5,2.5 0 1,0 -5.0,0M135.1,538.2a2.5,2.5 0 1,0 5.0,0a2.5,2.5 0 1,0 -5.0,0M138.0,541.0a2.5,2.5 0 1,0 5.0,0a2.5,2.5 0 1,0 -5.0,0M136.1,541.7a2.5,2.5 0 1,0 5.0,0a2.5,2.5 0 1,0 -5.0,0M140.3,543.6a2.5,2.5 0 1,0 5.0,0a2.5,2.5 0 1,0 -5.0,0M138.2,544.2a2.5,2.5 0 1,0 5.0,0a2.5,2.5 0 1,0 -5.0,0M138.9,546.6a2.5,2.5 0 1,0 5.0,0a2.5,2.5 0 1,0 -5.0,0M139.0,546.7a2.5,2.5 0 1,0 5.0,0a2.5,2.5 0 1,0 -5.0,0M142.0,549.2a2.5,2.5 0 1,0 5.0,0a2.5,2.5 0 1,0 -5.0,0M140.6,549.3a2.5,2.5 0 1,0 5.0,0a2.5,2.5 0 1,0 -5.0,0M142.6,546.7a2.5,2.5 0 1,0 5.0,0a2.5,2.5 0 1,0 -5.0,0M139.7,546.7a2.5,2.5 0 1,0 5.0,0a2.5,2.5 0 1,0 -5.0,0M140.0,544.4a2.5,2.5 0 1,0 5.0,0a2.5,2.5 0 1,0 -5.0,0M141.1,544.8a2.5,2.5 0 1,0 5.0,0a2.5,2.5 0 1,0 -5.0,0M141.9,542.2a2.5,2.5 0 1,0 5.0,0a2.5,2.5 0 1,0 -5.0,0M142.8,542.9a2.5,2.5 0 1,0 5.0,0a2.5,2.5 0 1,0 -5.0,0M141.7,541.3a2.5,2.5 0 1,0 5.0,0a2.5,2.5 0 1,0 -5.0,0M142.9,539.3a2.5,2.5 0 1,0 5.0,0a2.5,2.5 0 1,0 -5.0,0M143.5,543.1a2.5,2.5 0 1,0 5.0,0a2.5,2.5 0 1,0 -5.0,0M144.0,542.9a2.5,2.5 0 1,0 5.0,0a2.5,2.5 0 1,0 -5.0,0M146.2,544.4a2.5,2.5 0 1,0 5.0,0a2.5,2.5 0 1,0 -5.0,0M146.5,545.6a2.5,2.5 0 1,0 5.0,0a2.5,2.5 0 1,0 -5.0,0M148.3,542.4a2.5,2.5 0 1,0 5.0,0a2.5,2.5 0 1,0 -5.0,0M148.9,540.7a2.5,2.5 0 1,0 5.0,0a2.5,2.5 0 1,0 -5.0,0M151.9,541.3a2.5,2.5 0 1,0 5.0,0a2.5,2.5 0 1,0 -5.0,0M149.3,542.8a2.5,2.5 0 1,0 5.0,0a2.5,2.5 0 1,0 -5.0,0M150.6,546.0a2.5,2.5 0 1,0 5.0,0a2.5,2.5 0 1,0 -5.0,0M153.6,543.9a2.5,2.5 0 1,0 5.0,0a2.5,2.5 0 1,0 -5.0,0M152.2,547.9a2.5,2.5 0 1,0 5.0,0a2.5,2.5 0 1,0 -5.0,0M154.6,546.7a2.5,2.5 0 1,0 5.0,0a2.5,2.5 0 1,0 -5.0,0M155.9,548.5a2.5,2.5 0 1,0 5.0,0a2.5,2.5 0 1,0 -5.0,0M155.6,548.3a2.5,2.5 0 1,0 5.0,0a2.5,2.5 0 1,0 -5.0,0M156.4,551.2a2.5,2.5 0 1,0 5.0,0a2.5,2.5 0 1,0 -5.0,0M153.7,551.9a2.5,2.5 0 1,0 5.0,0a2.5,2.5 0 1,0 -5.0,0M155.9,553.8a2.5,2.5 0 1,0 5.0,0a2.5,2.5 0 1,0 -5.0,0M155.4,554.4a2.5,2.5 0 1,0 5.0,0a2.5,2.5 0 1,0 -5.0,0M158.1,555.2a2.5,2.5 0 1,0 5.0,0a2.5,2.5 0 1,0 -5.0,0M158.3,553.3a2.5,2.5 0 1,0 5.0,0a2.5,2.5 0 1,0 -5.0,0M163.1,555.3a2.5,2.5 0 1,0 5.0,0a2.5,2.5 0 1,0 -5.0,0M160.5,553.1a2.5,2.5 0 1,0 5.0,0a2.5,2.5 0 1,0 -5.0,0M163.0,550.0a2.5,2.5 0 1,0 5.0,0a2.5,2.5 0 1,0 -5.0,0M163.0,551.3a2.5,2.5 0 1,0 5.0,0a2.5,2.5 0 1,0 -5.0,0M166.4,548.6a2.5,2.5 0 1,0 5.0,0a2.5,2.5 0 1,0 -5.0,0M165.6,548.2a2.5,2.5 0 1,0 5.0,0a2.5,2.5 0 1,0 -5.0,0M166.4,545.4a2.5,2.5 0 1,0 5.0,0a2.5,2.5 0 1,0 -5.0,0M165.6,545.0a2.5,2.5 0 1,0 5.0,0a2.5,2.5 0 1,0 -5.0,0M166.4,543.3a2.5,2.5 0 1,0 5.0,0a2.5,2.5 0 1,0 -5.0,0M166.8,543.4a2.5,2.5 0 1,0 5.0,0a2.5,2.5 0 1,0 -5.0,0M169.2,542.9a2.5,2.5 0 1,0 5.0,0a2.5,2.5 0 1,0 -5.0,0M168.0,541.6a2.5,2.5 0 1,0 5.0,0a2.5,2.5 0 1,0 -5.0,0M171.5,540.7a2.5,2.5 0 1,0 5.0,0a2.5,2.5 0 1,0 -5.0,0M170.0,540.0a2.5,2.5 0 1,0 5.0,0a2.5,2.5 0 1,0 -5.0,0M169.5,536.8a2.5,2.5 0 1,0 5.0,0a2.5,2.5 0 1,0 -5.0,0M171.4,537.0a2.5,2.5 0 1,0 5.0,0a2.5,2.5 0 1,0 -5.0,0M171.7,534.4a2.5,2.5 0 1,0 5.0,0a2.5,2.5 0 1,0 -5.0,0M172.7,534.6a2.5,2.5 0 1,0 5.0,0a2.5,2.5 0 1,0 -5.0,0M172.6,529.7a2.5,2.5 0 1,0 5.0,0a2.5,2.5 0 1,0 -5.0,0M171.1,529.7a2.5,2.5 0 1,0 5.0,0a2.5,2.5 0 1,0 -5.0,0M173.4,525.2a2.5,2.5 0 1,0 5.0,0a2.5,2.5 0 1,0 -5.0,0M173.6,526.7a2.5,2.5 0 1,0 5.0,0a2.5,2.5 0 1,0 -5.0,0M127.5,546.0a2.5,2.5 0 1,0 5.0,0a2.5,2.5 0 1,0 -5.0,0M137.5,528.0a2.5,2.5 0 1,0 5.0,0a2.5,2.5 0 1,0 -5.0,0M151.5,535.0a2.5,2.5 0 1,0 5.0,0a2.5,2.5 0 1,0 -5.0,0M170.5,547.0a2.5,2.5 0 1,0 5.0,0a2.5,2.5 0 1,0 -5.0,0M181.5,533.0a2.5,2.5 0 1,0 5.0,0a2.5,2.5 0 1,0 -5.0,0M173.3,501.2a2.5,2.5 0 1,0 5.0,0a2.5,2.5 0 1,0 -5.0,0M172.8,501.0a2.5,2.5 0 1,0 5.0,0a2.5,2.5 0 1,0 -5.0,0M174.9,503.3a2.5,2.5 0 1,0 5.0,0a2.5,2.5 0 1,0 -5.0,0M176.6,502.6a2.5,2.5 0 1,0 5.0,0a2.5,2.5 0 1,0 -5.0,0M178.0,505.4a2.5,2.5 0 1,0 5.0,0a2.5,2.5 0 1,0 -5.0,0M177.2,505.7a2.5,2.5 0 1,0 5.0,0a2.5,2.5 0 1,0 -5.0,0M178.4,508.0a2.5,2.5 0 1,0 5.0,0a2.5,2.5 0 1,0 -5.0,0M177.7,508.2a2.5,2.5 0 1,0 5.0,0a2.5,2.5 0 1,0 -5.0,0M178.6,510.2a2.5,2.5 0 1,0 5.0,0a2.5,2.5 0 1,0 -5.0,0M176.2,511.3a2.5,2.5 0 1,0 5.0,0a2.5,2.5 0 1,0 -5.0,0M179.4,512.6a2.5,2.5 0 1,0 5.0,0a2.5,2.5 0 1,0 -5.0,0M179.4,512.3a2.5,2.5 0 1,0 5.0,0a2.5,2.5 0 1,0 -5.0,0M178.6,516.5a2.5,2.5 0 1,0 5.0,0a2.5,2.5 0 1,0 -5.0,0M178.6,516.5a2.5,2.5 0 1,0 5.0,0a2.5,2.5 0 1,0 -5.0,0M179.0,518.4a2.5,2.5 0 1,0 5.0,0a2.5,2.5 0 1,0 -5.0,0M180.9,518.4a2.5,2.5 0 1,0 5.0,0a2.5,2.5 0 1,0 -5.0,0M180.1,521.3a2.5,2.5 0 1,0 5.0,0a2.5,2.5 0 1,0 -5.0,0M179.6,522.0a2.5,2.5 0 1,0 5.0,0a2.5,2.5 0 1,0 -5.0,0M182.8,523.3a2.5,2.5 0 1,0 5.0,0a2.5,2.5 0 1,0 -5.0,0M180.0,524.7a2.5,2.5 0 1,0 5.0,0a2.5,2.5 0 1,0 -5.0,0M182.1,527.9a2.5,2.5 0 1,0 5.0,0a2.5,2.5 0 1,0 -5.0,0M182.4,527.8a2.5,2.5 0 1,0 5.0,0a2.5,2.5 0 1,0 -5.0,0M183.0,525.7a2.5,2.5 0 1,0 5.0,0a2.5,2.5 0 1,0 -5.0,0M184.0,525.8a2.5,2.5 0 1,0 5.0,0a2.5,2.5 0 1,0 -5.0,0M182.1,522.4a2.5,2.5 0 1,0 5.0,0a2.5,2.5 0 1,0 -5.0,0M184.2,523.2a2.5,2.5 0 1,0 5.0,0a2.5,2.5 0 1,0 -5.0,0M184.8,521.3a2.5,2.5 0 1,0 5.0,0a2.5,2.5 0 1,0 -5.0,0M182.9,519.3a2.5,2.5 0 1,0 5.0,0a2.5,2.5 0 1,0 -5.0,0M185.4,517.7a2.5,2.5 0 1,0 5.0,0a2.5,2.5 0 1,0 -5.0,0M184.0,517.5a2.5,2.5 0 1,0 5.0,0a2.5,2.5 0 1,0 -5.0,0M186.4,515.4a2.5,2.5 0 1,0 5.0,0a2.5,2.5 0 1,0 -5.0,0M185.9,515.7a2.5,2.5 0 1,0 5.0,0a2.5,2.5 0 1,0 -5.0,0M185.9,512.8a2.5,2.5 0 1,0 5.0,0a2.5,2.5 0 1,0 -5.0,0M184.6,512.9a2.5,2.5 0 1,0 5.0,0a2.5,2.5 0 1,0 -5.0,0M187.1,511.4a2.5,2.5 0 1,0 5.0,0a2.5,2.5 0 1,0 -5.0,0M185.2,510.9a2.5,2.5 0 1,0 5.0,0a2.5,2.5 0 1,0 -5.0,0M186.2,508.7a2.5,2.5 0 1,0 5.0,0a2.5,2.5 0 1,0 -5.0,0M186.0,508.7a2.5,2.5 0 1,0 5.0,0a2.5,2.5 0 1,0 -5.0,0M186.8,506.4a2.5,2.5 0 1,0 5.0,0a2.5,2.5 0 1,0 -5.0,0M187.0,505.6a2.5,2.5 0 1,0 5.0,0a2.5,2.5 0 1,0 -5.0,0M185.7,503.0a2.5,2.5 0 1,0 5.0,0a2.5,2.5 0 1,0 -5.0,0M187.7,503.4a2.5,2.5 0 1,0 5.0,0a2.5,2.5 0 1,0 -5.0,0M188.0,500.8a2.5,2.5 0 1,0 5.0,0a2.5,2.5 0 1,0 -5.0,0M186.2,500.4a2.5,2.5 0 1,0 5.0,0a2.5,2.5 0 1,0 -5.0,0M190.0,498.9a2.5,2.5 0 1,0 5.0,0a2.5,2.5 0 1,0 -5.0,0M187.0,497.7a2.5,2.5 0 1,0 5.0,0a2.5,2.5 0 1,0 -5.0,0M188.8,496.5a2.5,2.5 0 1,0 5.0,0a2.5,2.5 0 1,0 -5.0,0M188.8,496.3a2.5,2.5 0 1,0 5.0,0a2.5,2.5 0 1,0 -5.0,0M191.6,498.2a2.5,2.5 0 1,0 5.0,0a2.5,2.5 0 1,0 -5.0,0M190.8,497.8a2.5,2.5 0 1,0 5.0,0a2.5,2.5 0 1,0 -5.0,0M191.2,500.9a2.5,2.5 0 1,0 5.0,0a2.5,2.5 0 1,0 -5.0,0M193.6,500.0a2.5,2.5 0 1,0 5.0,0a2.5,2.5 0 1,0 -5.0,0M193.0,502.9a2.5,2.5 0 1,0 5.0,0a2.5,2.5 0 1,0 -5.0,0M193.7,503.7a2.5,2.5 0 1,0 5.0,0a2.5,2.5 0 1,0 -5.0,0M191.7,506.3a2.5,2.5 0 1,0 5.0,0a2.5,2.5 0 1,0 -5.0,0M191.5,506.4a2.5,2.5 0 1,0 5.0,0a2.5,2.5 0 1,0 -5.0,0M191.5,503.4a2.5,2.5 0 1,0 5.0,0a2.5,2.5 0 1,0 -5.0,0M192.7,504.2a2.5,2.5 0 1,0 5.0,0a2.5,2.5 0 1,0 -5.0,0M190.4,501.8a2.5,2.5 0 1,0 5.0,0a2.5,2.5 0 1,0 -5.0,0M190.9,501.8a2.5,2.5 0 1,0 5.0,0a2.5,2.5 0 1,0 -5.0,0M192.1,499.7a2.5,2.5 0 1,0 5.0,0a2.5,2.5 0 1,0 -5.0,0M192.3,498.9a2.5,2.5 0 1,0 5.0,0a2.5,2.5 0 1,0 -5.0,0M190.5,497.4a2.5,2.5 0 1,0 5.0,0a2.5,2.5 0 1,0 -5.0,0M191.6,497.6a2.5,2.5 0 1,0 5.0,0a2.5,2.5 0 1,0 -5.0,0M192.2,495.6a2.5,2.5 0 1,0 5.0,0a2.5,2.5 0 1,0 -5.0,0M191.6,494.8a2.5,2.5 0 1,0 5.0,0a2.5,2.5 0 1,0 -5.0,0M190.0,497.3a2.5,2.5 0 1,0 5.0,0a2.5,2.5 0 1,0 -5.0,0M189.2,497.6a2.5,2.5 0 1,0 5.0,0a2.5,2.5 0 1,0 -5.0,0M190.5,499.4a2.5,2.5 0 1,0 5.0,0a2.5,2.5 0 1,0 -5.0,0M190.2,499.1a2.5,2.5 0 1,0 5.0,0a2.5,2.5 0 1,0 -5.0,0M191.5,502.9a2.5,2.5 0 1,0 5.0,0a2.5,2.5 0 1,0 -5.0,0M191.5,502.9a2.5,2.5 0 1,0 5.0,0a2.5,2.5 0 1,0 -5.0,0M193.6,504.9a2.5,2.5 0 1,0 5.0,0a2.5,2.5 0 1,0 -5.0,0M194.3,505.6a2.5,2.5 0 1,0 5.0,0a2.5,2.5 0 1,0 -5.0,0M192.2,507.3a2.5,2.5 0 1,0 5.0,0a2.5,2.5 0 1,0 -5.0,0M193.2,507.4a2.5,2.5 0 1,0 5.0,0a2.5,2.5 0 1,0 -5.0,0M190.4,511.4a2.5,2.5 0 1,0 5.0,0a2.5,2.5 0 1,0 -5.0,0M191.0,510.1a2.5,2.5 0 1,0 5.0,0a2.5,2.5 0 1,0 -5.0,0M192.9,511.8a2.5,2.5 0 1,0 5.0,0a2.5,2.5 0 1,0 -5.0,0M193.1,511.7a2.5,2.5 0 1,0 5.0,0a2.5,2.5 0 1,0 -5.0,0M194.5,513.3a2.5,2.5 0 1,0 5.0,0a2.5,2.5 0 1,0 -5.0,0M194.7,513.4a2.5,2.5 0 1,0 5.0,0a2.5,2.5 0 1,0 -5.0,0M188.5,516.0a2.5,2.5 0 1,0 5.0,0a2.5,2.5 0 1,0 -5.0,0M195.5,521.0a2.5,2.5 0 1,0 5.0,0a2.5,2.5 0 1,0 -5.0,0M196.1,543.4a2.5,2.5 0 1,0 5.0,0a2.5,2.5 0 1,0 -5.0,0M196.0,543.6a2.5,2.5 0 1,0 5.0,0a2.5,2.5 0 1,0 -5.0,0M200.1,545.8a2.5,2.5 0 1,0 5.0,0a2.5,2.5 0 1,0 -5.0,0M198.9,545.8a2.5,2.5 0 1,0 5.0,0a2.5,2.5 0 1,0 -5.0,0M198.2,548.5a2.5,2.5 0 1,0 5.0,0a2.5,2.5 0 1,0 -5.0,0M197.4,548.4a2.5,2.5 0 1,0 5.0,0a2.5,2.5 0 1,0 -5.0,0M199.6,550.4a2.5,2.5 0 1,0 5.0,0a2.5,2.5 0 1,0 -5.0,0M198.2,550.5a2.5,2.5 0 1,0 5.0,0a2.5,2.5 0 1,0 -5.0,0M200.2,551.9a2.5,2.5 0 1,0 5.0,0a2.5,2.5 0 1,0 -5.0,0M199.4,554.0a2.5,2.5 0 1,0 5.0,0a2.5,2.5 0 1,0 -5.0,0M202.5,552.9a2.5,2.5 0 1,0 5.0,0a2.5,2.5 0 1,0 -5.0,0M204.0,552.0a2.5,2.5 0 1,0 5.0,0a2.5,2.5 0 1,0 -5.0,0M205.7,555.6a2.5,2.5 0 1,0 5.0,0a2.5,2.5 0 1,0 -5.0,0M203.1,554.1a2.5,2.5 0 1,0 5.0,0a2.5,2.5 0 1,0 -5.0,0M207.1,553.0a2.5,2.5 0 1,0 5.0,0a2.5,2.5 0 1,0 -5.0,0M204.7,552.3a2.5,2.5 0 1,0 5.0,0a2.5,2.5 0 1,0 -5.0,0M207.5,551.2a2.5,2.5 0 1,0 5.0,0a2.5,2.5 0 1,0 -5.0,0M207.4,551.4a2.5,2.5 0 1,0 5.0,0a2.5,2.5 0 1,0 -5.0,0M209.1,547.5a2.5,2.5 0 1,0 5.0,0a2.5,2.5 0 1,0 -5.0,0M207.7,548.0a2.5,2.5 0 1,0 5.0,0a2.5,2.5 0 1,0 -5.0,0M208.8,545.1a2.5,2.5 0 1,0 5.0,0a2.5,2.5 0 1,0 -5.0,0M208.7,544.5a2.5,2.5 0 1,0 5.0,0a2.5,2.5 0 1,0 -5.0,0M210.2,546.2a2.5,2.5 0 1,0 5.0,0a2.5,2.5 0 1,0 -5.0,0M209.7,546.8a2.5,2.5 0 1,0 5.0,0a2.5,2.5 0 1,0 -5.0,0M211.9,547.8a2.5,2.5 0 1,0 5.0,0a2.5,2.5 0 1,0 -5.0,0M212.8,547.2a2.5,2.5 0 1,0 5.0,0a2.5,2.5 0 1,0 -5.0,0M214.2,550.5a2.5,2.5 0 1,0 5.0,0a2.5,2.5 0 1,0 -5.0,0M215.3,551.2a2.5,2.5 0 1,0 5.0,0a2.5,2.5 0 1,0 -5.0,0M215.0,546.5a2.5,2.5 0 1,0 5.0,0a2.5,2.5 0 1,0 -5.0,0M215.5,547.7a2.5,2.5 0 1,0 5.0,0a2.5,2.5 0 1,0 -5.0,0M216.8,547.5a2.5,2.5 0 1,0 5.0,0a2.5,2.5 0 1,0 -5.0,0M218.1,545.8a2.5,2.5 0 1,0 5.0,0a2.5,2.5 0 1,0 -5.0,0M220.1,547.5a2.5,2.5 0 1,0 5.0,0a2.5,2.5 0 1,0 -5.0,0M220.2,547.7a2.5,2.5 0 1,0 5.0,0a2.5,2.5 0 1,0 -5.0,0M223.2,545.5a2.5,2.5 0 1,0 5.0,0a2.5,2.5 0 1,0 -5.0,0M220.4,547.3a2.5,2.5 0 1,0 5.0,0a2.5,2.5 0 1,0 -5.0,0M225.0,547.2a2.5,2.5 0 1,0 5.0,0a2.5,2.5 0 1,0 -5.0,0M223.0,547.7a2.5,2.5 0 1,0 5.0,0a2.5,2.5 0 1,0 -5.0,0M225.4,551.0a2.5,2.5 0 1,0 5.0,0a2.5,2.5 0 1,0 -5.0,0M225.1,551.7a2.5,2.5 0 1,0 5.0,0a2.5,2.5 0 1,0 -5.0,0M224.4,548.1a2.5,2.5 0 1,0 5.0,0a2.5,2.5 0 1,0 -5.0,0M227.3,549.5a2.5,2.5 0 1,0 5.0,0a2.5,2.5 0 1,0 -5.0,0M227.6,546.4a2.5,2.5 0 1,0 5.0,0a2.5,2.5 0 1,0 -5.0,0M225.5,545.7a2.5,2.5 0 1,0 5.0,0a2.5,2.5 0 1,0 -5.0,0M229.2,542.4a2.5,2.5 0 1,0 5.0,0a2.5,2.5 0 1,0 -5.0,0M228.4,542.4a2.5,2.5 0 1,0 5.0,0a2.5,2.5 0 1,0 -5.0,0M231.5,544.5a2.5,2.5 0 1,0 5.0,0a2.5,2.5 0 1,0 -5.0,0M230.7,545.6a2.5,2.5 0 1,0 5.0,0a2.5,2.5 0 1,0 -5.0,0M232.0,549.3a2.5,2.5 0 1,0 5.0,0a2.5,2.5 0 1,0 -5.0,0M233.4,546.7a2.5,2.5 0 1,0 5.0,0a2.5,2.5 0 1,0 -5.0,0M236.3,549.3a2.5,2.5 0 1,0 5.0,0a2.5,2.5 0 1,0 -5.0,0M234.1,551.1a2.5,2.5 0 1,0 5.0,0a2.5,2.5 0 1,0 -5.0,0M237.6,552.3a2.5,2.5 0 1,0 5.0,0a2.5,2.5 0 1,0 -5.0,0M238.0,549.9a2.5,2.5 0 1,0 5.0,0a2.5,2.5 0 1,0 -5.0,0M238.5,541.0a2.5,2.5 0 1,0 5.0,0a2.5,2.5 0 1,0 -5.0,0M237.4,527.6a2.5,2.5 0 1,0 5.0,0a2.5,2.5 0 1,0 -5.0,0M237.8,528.2a2.5,2.5 0 1,0 5.0,0a2.5,2.5 0 1,0 -5.0,0M238.9,525.3a2.5,2.5 0 1,0 5.0,0a2.5,2.5 0 1,0 -5.0,0M239.0,524.6a2.5,2.5 0 1,0 5.0,0a2.5,2.5 0 1,0 -5.0,0M240.9,521.4a2.5,2.5 0 1,0 5.0,0a2.5,2.5 0 1,0 -5.0,0M240.1,521.0a2.5,2.5 0 1,0 5.0,0a2.5,2.5 0 1,0 -5.0,0M242.9,519.8a2.5,2.5 0 1,0 5.0,0a2.5,2.5 0 1,0 -5.0,0M241.5,520.3a2.5,2.5 0 1,0 5.0,0a2.5,2.5 0 1,0 -5.0,0M243.6,523.3a2.5,2.5 0 1,0 5.0,0a2.5,2.5 0 1,0 -5.0,0M244.5,521.7a2.5,2.5 0 1,0 5.0,0a2.5,2.5 0 1,0 -5.0,0M247.6,523.7a2.5,2.5 0 1,0 5.0,0a2.5,2.5 0 1,0 -5.0,0M247.4,523.3a2.5,2.5 0 1,0 5.0,0a2.5,2.5 0 1,0 -5.0,0M247.5,526.0a2.5,2.5 0 1,0 5.0,0a2.5,2.5 0 1,0 -5.0,0M246.9,525.6a2.5,2.5 0 1,0 5.0,0a2.5,2.5 0 1,0 -5.0,0M247.8,523.1a2.5,2.5 0 1,0 5.0,0a2.5,2.5 0 1,0 -5.0,0M247.3,523.5a2.5,2.5 0 1,0 5.0,0a2.5,2.5 0 1,0 -5.0,0M248.7,521.1a2.5,2.5 0 1,0 5.0,0a2.5,2.5 0 1,0 -5.0,0M247.0,521.2a2.5,2.5 0 1,0 5.0,0a2.5,2.5 0 1,0 -5.0,0M248.7,518.4a2.5,2.5 0 1,0 5.0,0a2.5,2.5 0 1,0 -5.0,0M248.6,518.8a2.5,2.5 0 1,0 5.0,0a2.5,2.5 0 1,0 -5.0,0M248.6,516.2a2.5,2.5 0 1,0 5.0,0a2.5,2.5 0 1,0 -5.0,0M247.4,516.2a2.5,2.5 0 1,0 5.0,0a2.5,2.5 0 1,0 -5.0,0M249.5,513.5a2.5,2.5 0 1,0 5.0,0a2.5,2.5 0 1,0 -5.0,0M248.3,512.8a2.5,2.5 0 1,0 5.0,0a2.5,2.5 0 1,0 -5.0,0M248.5,509.2a2.5,2.5 0 1,0 5.0,0a2.5,2.5 0 1,0 -5.0,0M250.7,510.5a2.5,2.5 0 1,0 5.0,0a2.5,2.5 0 1,0 -5.0,0M251.3,508.9a2.5,2.5 0 1,0 5.0,0a2.5,2.5 0 1,0 -5.0,0M249.6,507.6a2.5,2.5 0 1,0 5.0,0a2.5,2.5 0 1,0 -5.0,0M250.1,505.1a2.5,2.5 0 1,0 5.0,0a2.5,2.5 0 1,0 -5.0,0M250.3,504.9a2.5,2.5 0 1,0 5.0,0a2.5,2.5 0 1,0 -5.0,0M254.2,503.7a2.5,2.5 0 1,0 5.0,0a2.5,2.5 0 1,0 -5.0,0M253.6,505.1a2.5,2.5 0 1,0 5.0,0a2.5,2.5 0 1,0 -5.0,0M256.6,506.4a2.5,2.5 0 1,0 5.0,0a2.5,2.5 0 1,0 -5.0,0M257.1,505.7a2.5,2.5 0 1,0 5.0,0a2.5,2.5 0 1,0 -5.0,0M259.5,502.8a2.5,2.5 0 1,0 5.0,0a2.5,2.5 0 1,0 -5.0,0M260.0,504.0a2.5,2.5 0 1,0 5.0,0a2.5,2.5 0 1,0 -5.0,0M261.9,503.7a2.5,2.5 0 1,0 5.0,0a2.5,2.5 0 1,0 -5.0,0M262.3,503.4a2.5,2.5 0 1,0 5.0,0a2.5,2.5 0 1,0 -5.0,0M264.1,506.1a2.5,2.5 0 1,0 5.0,0a2.5,2.5 0 1,0 -5.0,0M263.9,505.6a2.5,2.5 0 1,0 5.0,0a2.5,2.5 0 1,0 -5.0,0M264.4,503.6a2.5,2.5 0 1,0 5.0,0a2.5,2.5 0 1,0 -5.0,0M265.1,503.3a2.5,2.5 0 1,0 5.0,0a2.5,2.5 0 1,0 -5.0,0M265.6,500.1a2.5,2.5 0 1,0 5.0,0a2.5,2.5 0 1,0 -5.0,0M267.2,501.6a2.5,2.5 0 1,0 5.0,0a2.5,2.5 0 1,0 -5.0,0M268.5,498.7a2.5,2.5 0 1,0 5.0,0a2.5,2.5 0 1,0 -5.0,0M268.4,498.4a2.5,2.5 0 1,0 5.0,0a2.5,2.5 0 1,0 -5.0,0M269.2,498.6a2.5,2.5 0 1,0 5.0,0a2.5,2.5 0 1,0 -5.0,0M269.4,498.6a2.5,2.5 0 1,0 5.0,0a2.5,2.5 0 1,0 -5.0,0M272.2,499.4a2.5,2.5 0 1,0 5.0,0a2.5,2.5 0 1,0 -5.0,0M272.3,499.7a2.5,2.5 0 1,0 5.0,0a2.5,2.5 0 1,0 -5.0,0M272.2,501.7a2.5,2.5 0 1,0 5.0,0a2.5,2.5 0 1,0 -5.0,0M271.8,502.3a2.5,2.5 0 1,0 5.0,0a2.5,2.5 0 1,0 -5.0,0M272.2,499.6a2.5,2.5 0 1,0 5.0,0a2.5,2.5 0 1,0 -5.0,0M273.1,499.2a2.5,2.5 0 1,0 5.0,0a2.5,2.5 0 1,0 -5.0,0M273.5,497.6a2.5,2.5 0 1,0 5.0,0a2.5,2.5 0 1,0 -5.0,0M273.9,497.5a2.5,2.5 0 1,0 5.0,0a2.5,2.5 0 1,0 -5.0,0M272.9,495.2a2.5,2.5 0 1,0 5.0,0a2.5,2.5 0 1,0 -5.0,0M271.5,494.6a2.5,2.5 0 1,0 5.0,0a2.5,2.5 0 1,0 -5.0,0M272.8,492.0a2.5,2.5 0 1,0 5.0,0a2.5,2.5 0 1,0 -5.0,0M274.2,492.0a2.5,2.5 0 1,0 5.0,0a2.5,2.5 0 1,0 -5.0,0M272.2,489.5a2.5,2.5 0 1,0 5.0,0a2.5,2.5 0 1,0 -5.0,0M273.2,489.8a2.5,2.5 0 1,0 5.0,0a2.5,2.5 0 1,0 -5.0,0M273.7,486.9a2.5,2.5 0 1,0 5.0,0a2.5,2.5 0 1,0 -5.0,0M274.5,487.1a2.5,2.5 0 1,0 5.0,0a2.5,2.5 0 1,0 -5.0,0M274.0,485.8a2.5,2.5 0 1,0 5.0,0a2.5,2.5 0 1,0 -5.0,0M273.4,484.0a2.5,2.5 0 1,0 5.0,0a2.5,2.5 0 1,0 -5.0,0M274.6,484.4a2.5,2.5 0 1,0 5.0,0a2.5,2.5 0 1,0 -5.0,0M274.9,484.2a2.5,2.5 0 1,0 5.0,0a2.5,2.5 0 1,0 -5.0,0M277.9,485.5a2.5,2.5 0 1,0 5.0,0a2.5,2.5 0 1,0 -5.0,0M277.6,485.7a2.5,2.5 0 1,0 5.0,0a2.5,2.5 0 1,0 -5.0,0M278.9,487.6a2.5,2.5 0 1,0 5.0,0a2.5,2.5 0 1,0 -5.0,0M278.5,486.8a2.5,2.5 0 1,0 5.0,0a2.5,2.5 0 1,0 -5.0,0M278.3,490.9a2.5,2.5 0 1,0 5.0,0a2.5,2.5 0 1,0 -5.0,0M278.5,490.9a2.5,2.5 0 1,0 5.0,0a2.5,2.5 0 1,0 -5.0,0M279.6,488.9a2.5,2.5 0 1,0 5.0,0a2.5,2.5 0 1,0 -5.0,0M278.2,488.1a2.5,2.5 0 1,0 5.0,0a2.5,2.5 0 1,0 -5.0,0M279.0,486.6a2.5,2.5 0 1,0 5.0,0a2.5,2.5 0 1,0 -5.0,0M281.4,486.3a2.5,2.5 0 1,0 5.0,0a2.5,2.5 0 1,0 -5.0,0M279.0,484.0a2.5,2.5 0 1,0 5.0,0a2.5,2.5 0 1,0 -5.0,0M281.6,484.2a2.5,2.5 0 1,0 5.0,0a2.5,2.5 0 1,0 -5.0,0M280.0,481.0a2.5,2.5 0 1,0 5.0,0a2.5,2.5 0 1,0 -5.0,0M280.3,482.1a2.5,2.5 0 1,0 5.0,0a2.5,2.5 0 1,0 -5.0,0M281.7,480.5a2.5,2.5 0 1,0 5.0,0a2.5,2.5 0 1,0 -5.0,0M283.1,479.7a2.5,2.5 0 1,0 5.0,0a2.5,2.5 0 1,0 -5.0,0M285.1,482.0a2.5,2.5 0 1,0 5.0,0a2.5,2.5 0 1,0 -5.0,0M284.5,482.1a2.5,2.5 0 1,0 5.0,0a2.5,2.5 0 1,0 -5.0,0M285.8,479.1a2.5,2.5 0 1,0 5.0,0a2.5,2.5 0 1,0 -5.0,0M286.7,478.7a2.5,2.5 0 1,0 5.0,0a2.5,2.5 0 1,0 -5.0,0M285.8,476.7a2.5,2.5 0 1,0 5.0,0a2.5,2.5 0 1,0 -5.0,0M285.1,475.7a2.5,2.5 0 1,0 5.0,0a2.5,2.5 0 1,0 -5.0,0M288.3,475.1a2.5,2.5 0 1,0 5.0,0a2.5,2.5 0 1,0 -5.0,0M288.1,475.4a2.5,2.5 0 1,0 5.0,0a2.5,2.5 0 1,0 -5.0,0M287.6,471.5a2.5,2.5 0 1,0 5.0,0a2.5,2.5 0 1,0 -5.0,0M289.1,472.3a2.5,2.5 0 1,0 5.0,0a2.5,2.5 0 1,0 -5.0,0M290.8,470.5a2.5,2.5 0 1,0 5.0,0a2.5,2.5 0 1,0 -5.0,0M290.0,470.0a2.5,2.5 0 1,0 5.0,0a2.5,2.5 0 1,0 -5.0,0M290.6,467.0a2.5,2.5 0 1,0 5.0,0a2.5,2.5 0 1,0 -5.0,0M292.3,468.9a2.5,2.5 0 1,0 5.0,0a2.5,2.5 0 1,0 -5.0,0M292.0,465.5a2.5,2.5 0 1,0 5.0,0a2.5,2.5 0 1,0 -5.0,0M292.4,465.6a2.5,2.5 0 1,0 5.0,0a2.5,2.5 0 1,0 -5.0,0M295.2,465.5a2.5,2.5 0 1,0 5.0,0a2.5,2.5 0 1,0 -5.0,0M295.7,464.5a2.5,2.5 0 1,0 5.0,0a2.5,2.5 0 1,0 -5.0,0M297.8,469.6a2.5,2.5 0 1,0 5.0,0a2.5,2.5 0 1,0 -5.0,0M298.0,469.3a2.5,2.5 0 1,0 5.0,0a2.5,2.5 0 1,0 -5.0,0M301.7,468.1a2.5,2.5 0 1,0 5.0,0a2.5,2.5 0 1,0 -5.0,0M302.0,468.6a2.5,2.5 0 1,0 5.0,0a2.5,2.5 0 1,0 -5.0,0M303.9,471.7a2.5,2.5 0 1,0 5.0,0a2.5,2.5 0 1,0 -5.0,0M304.6,471.6a2.5,2.5 0 1,0 5.0,0a2.5,2.5 0 1,0 -5.0,0M303.5,475.2a2.5,2.5 0 1,0 5.0,0a2.5,2.5 0 1,0 -5.0,0M304.2,474.6a2.5,2.5 0 1,0 5.0,0a2.5,2.5 0 1,0 -5.0,0M305.7,477.8a2.5,2.5 0 1,0 5.0,0a2.5,2.5 0 1,0 -5.0,0M306.0,477.6a2.5,2.5 0 1,0 5.0,0a2.5,2.5 0 1,0 -5.0,0M307.1,475.5a2.5,2.5 0 1,0 5.0,0a2.5,2.5 0 1,0 -5.0,0M306.4,475.4a2.5,2.5 0 1,0 5.0,0a2.5,2.5 0 1,0 -5.0,0M305.6,471.9a2.5,2.5 0 1,0 5.0,0a2.5,2.5 0 1,0 -5.0,0M305.4,472.0a2.5,2.5 0 1,0 5.0,0a2.5,2.5 0 1,0 -5.0,0M307.2,468.7a2.5,2.5 0 1,0 5.0,0a2.5,2.5 0 1,0 -5.0,0M307.8,468.7a2.5,2.5 0 1,0 5.0,0a2.5,2.5 0 1,0 -5.0,0M289.5,485.0a2.5,2.5 0 1,0 5.0,0a2.5,2.5 0 1,0 -5.0,0M297.7,466.7a2.5,2.5 0 1,0 5.0,0a2.5,2.5 0 1,0 -5.0,0M298.6,465.4a2.5,2.5 0 1,0 5.0,0a2.5,2.5 0 1,0 -5.0,0M298.5,469.8a2.5,2.5 0 1,0 5.0,0a2.5,2.5 0 1,0 -5.0,0M298.4,469.0a2.5,2.5 0 1,0 5.0,0a2.5,2.5 0 1,0 -5.0,0M301.0,470.4a2.5,2.5 0 1,0 5.0,0a2.5,2.5 0 1,0 -5.0,0M302.2,469.5a2.5,2.5 0 1,0 5.0,0a2.5,2.5 0 1,0 -5.0,0M302.2,472.3a2.5,2.5 0 1,0 5.0,0a2.5,2.5 0 1,0 -5.0,0M302.7,472.2a2.5,2.5 0 1,0 5.0,0a2.5,2.5 0 1,0 -5.0,0M304.6,474.1a2.5,2.5 0 1,0 5.0,0a2.5,2.5 0 1,0 -5.0,0M303.5,474.2a2.5,2.5 0 1,0 5.0,0a2.5,2.5 0 1,0 -5.0,0M304.0,476.6a2.5,2.5 0 1,0 5.0,0a2.5,2.5 0 1,0 -5.0,0M304.4,476.4a2.5,2.5 0 1,0 5.0,0a2.5,2.5 0 1,0 -5.0,0M306.4,480.0a2.5,2.5 0 1,0 5.0,0a2.5,2.5 0 1,0 -5.0,0M305.6,479.8a2.5,2.5 0 1,0 5.0,0a2.5,2.5 0 1,0 -5.0,0M305.6,476.6a2.5,2.5 0 1,0 5.0,0a2.5,2.5 0 1,0 -5.0,0M306.3,476.2a2.5,2.5 0 1,0 5.0,0a2.5,2.5 0 1,0 -5.0,0M307.6,471.5a2.5,2.5 0 1,0 5.0,0a2.5,2.5 0 1,0 -5.0,0M307.1,472.0a2.5,2.5 0 1,0 5.0,0a2.5,2.5 0 1,0 -5.0,0M309.6,474.5a2.5,2.5 0 1,0 5.0,0a2.5,2.5 0 1,0 -5.0,0M309.5,475.3a2.5,2.5 0 1,0 5.0,0a2.5,2.5 0 1,0 -5.0,0M311.6,472.8a2.5,2.5 0 1,0 5.0,0a2.5,2.5 0 1,0 -5.0,0M310.6,472.3a2.5,2.5 0 1,0 5.0,0a2.5,2.5 0 1,0 -5.0,0M312.5,471.0a2.5,2.5 0 1,0 5.0,0a2.5,2.5 0 1,0 -5.0,0M312.2,471.6a2.5,2.5 0 1,0 5.0,0a2.5,2.5 0 1,0 -5.0,0M315.3,472.8a2.5,2.5 0 1,0 5.0,0a2.5,2.5 0 1,0 -5.0,0M314.6,473.7a2.5,2.5 0 1,0 5.0,0a2.5,2.5 0 1,0 -5.0,0M314.9,476.9a2.5,2.5 0 1,0 5.0,0a2.5,2.5 0 1,0 -5.0,0M317.6,475.9a2.5,2.5 0 1,0 5.0,0a2.5,2.5 0 1,0 -5.0,0M319.0,480.2a2.5,2.5 0 1,0 5.0,0a2.5,2.5 0 1,0 -5.0,0M317.2,478.5a2.5,2.5 0 1,0 5.0,0a2.5,2.5 0 1,0 -5.0,0M318.4,476.9a2.5,2.5 0 1,0 5.0,0a2.5,2.5 0 1,0 -5.0,0M320.2,477.8a2.5,2.5 0 1,0 5.0,0a2.5,2.5 0 1,0 -5.0,0M319.8,474.0a2.5,2.5 0 1,0 5.0,0a2.5,2.5 0 1,0 -5.0,0M320.0,473.7a2.5,2.5 0 1,0 5.0,0a2.5,2.5 0 1,0 -5.0,0M324.7,473.2a2.5,2.5 0 1,0 5.0,0a2.5,2.5 0 1,0 -5.0,0M322.3,474.9a2.5,2.5 0 1,0 5.0,0a2.5,2.5 0 1,0 -5.0,0M325.2,475.9a2.5,2.5 0 1,0 5.0,0a2.5,2.5 0 1,0 -5.0,0M326.2,475.4a2.5,2.5 0 1,0 5.0,0a2.5,2.5 0 1,0 -5.0,0M327.9,477.7a2.5,2.5 0 1,0 5.0,0a2.5,2.5 0 1,0 -5.0,0M328.1,477.6a2.5,2.5 0 1,0 5.0,0a2.5,2.5 0 1,0 -5.0,0M326.4,480.1a2.5,2.5 0 1,0 5.0,0a2.5,2.5 0 1,0 -5.0,0M328.1,481.4a2.5,2.5 0 1,0 5.0,0a2.5,2.5 0 1,0 -5.0,0M328.1,479.0a2.5,2.5 0 1,0 5.0,0a2.5,2.5 0 1,0 -5.0,0M329.2,479.1a2.5,2.5 0 1,0 5.0,0a2.5,2.5 0 1,0 -5.0,0M331.7,475.6a2.5,2.5 0 1,0 5.0,0a2.5,2.5 0 1,0 -5.0,0M330.3,477.7a2.5,2.5 0 1,0 5.0,0a2.5,2.5 0 1,0 -5.0,0M333.7,479.8a2.5,2.5 0 1,0 5.0,0a2.5,2.5 0 1,0 -5.0,0M333.2,480.0a2.5,2.5 0 1,0 5.0,0a2.5,2.5 0 1,0 -5.0,0M335.9,481.5a2.5,2.5 0 1,0 5.0,0a2.5,2.5 0 1,0 -5.0,0M337.4,482.7a2.5,2.5 0 1,0 5.0,0a2.5,2.5 0 1,0 -5.0,0M339.4,480.9a2.5,2.5 0 1,0 5.0,0a2.5,2.5 0 1,0 -5.0,0M338.0,479.5a2.5,2.5 0 1,0 5.0,0a2.5,2.5 0 1,0 -5.0,0M338.9,477.0a2.5,2.5 0 1,0 5.0,0a2.5,2.5 0 1,0 -5.0,0M340.1,479.5a2.5,2.5 0 1,0 5.0,0a2.5,2.5 0 1,0 -5.0,0M342.3,478.3a2.5,2.5 0 1,0 5.0,0a2.5,2.5 0 1,0 -5.0,0M342.8,476.7a2.5,2.5 0 1,0 5.0,0a2.5,2.5 0 1,0 -5.0,0M345.2,477.1a2.5,2.5 0 1,0 5.0,0a2.5,2.5 0 1,0 -5.0,0M345.4,477.6a2.5,2.5 0 1,0 5.0,0a2.5,2.5 0 1,0 -5.0,0M347.3,476.1a2.5,2.5 0 1,0 5.0,0a2.5,2.5 0 1,0 -5.0,0M348.6,477.1a2.5,2.5 0 1,0 5.0,0a2.5,2.5 0 1,0 -5.0,0M351.6,474.0a2.5,2.5 0 1,0 5.0,0a2.5,2.5 0 1,0 -5.0,0M351.1,473.0a2.5,2.5 0 1,0 5.0,0a2.5,2.5 0 1,0 -5.0,0M351.8,470.7a2.5,2.5 0 1,0 5.0,0a2.5,2.5 0 1,0 -5.0,0M352.9,472.4a2.5,2.5 0 1,0 5.0,0a2.5,2.5 0 1,0 -5.0,0M354.6,470.1a2.5,2.5 0 1,0 5.0,0a2.5,2.5 0 1,0 -5.0,0M354.5,470.0a2.5,2.5 0 1,0 5.0,0a2.5,2.5 0 1,0 -5.0,0M355.9,468.1a2.5,2.5 0 1,0 5.0,0a2.5,2.5 0 1,0 -5.0,0M355.8,468.1a2.5,2.5 0 1,0 5.0,0a2.5,2.5 0 1,0 -5.0,0M356.0,467.0a2.5,2.5 0 1,0 5.0,0a2.5,2.5 0 1,0 -5.0,0M358.2,464.4a2.5,2.5 0 1,0 5.0,0a2.5,2.5 0 1,0 -5.0,0M360.6,469.1a2.5,2.5 0 1,0 5.0,0a2.5,2.5 0 1,0 -5.0,0M362.3,469.6a2.5,2.5 0 1,0 5.0,0a2.5,2.5 0 1,0 -5.0,0M361.3,466.0a2.5,2.5 0 1,0 5.0,0a2.5,2.5 0 1,0 -5.0,0M360.9,465.3a2.5,2.5 0 1,0 5.0,0a2.5,2.5 0 1,0 -5.0,0M362.3,463.1a2.5,2.5 0 1,0 5.0,0a2.5,2.5 0 1,0 -5.0,0M362.4,463.1a2.5,2.5 0 1,0 5.0,0a2.5,2.5 0 1,0 -5.0,0M363.7,466.0a2.5,2.5 0 1,0 5.0,0a2.5,2.5 0 1,0 -5.0,0M364.6,466.6a2.5,2.5 0 1,0 5.0,0a2.5,2.5 0 1,0 -5.0,0M364.3,469.2a2.5,2.5 0 1,0 5.0,0a2.5,2.5 0 1,0 -5.0,0M364.8,469.1a2.5,2.5 0 1,0 5.0,0a2.5,2.5 0 1,0 -5.0,0M366.1,471.5a2.5,2.5 0 1,0 5.0,0a2.5,2.5 0 1,0 -5.0,0M366.2,471.0a2.5,2.5 0 1,0 5.0,0a2.5,2.5 0 1,0 -5.0,0M369.5,472.9a2.5,2.5 0 1,0 5.0,0a2.5,2.5 0 1,0 -5.0,0M369.1,473.1a2.5,2.5 0 1,0 5.0,0a2.5,2.5 0 1,0 -5.0,0M370.2,471.1a2.5,2.5 0 1,0 5.0,0a2.5,2.5 0 1,0 -5.0,0M367.2,470.4a2.5,2.5 0 1,0 5.0,0a2.5,2.5 0 1,0 -5.0,0M370.2,468.2a2.5,2.5 0 1,0 5.0,0a2.5,2.5 0 1,0 -5.0,0M369.1,468.0a2.5,2.5 0 1,0 5.0,0a2.5,2.5 0 1,0 -5.0,0M370.4,465.1a2.5,2.5 0 1,0 5.0,0a2.5,2.5 0 1,0 -5.0,0M369.0,465.0a2.5,2.5 0 1,0 5.0,0a2.5,2.5 0 1,0 -5.0,0M369.3,464.1a2.5,2.5 0 1,0 5.0,0a2.5,2.5 0 1,0 -5.0,0M369.6,463.8a2.5,2.5 0 1,0 5.0,0a2.5,2.5 0 1,0 -5.0,0M373.2,461.3a2.5,2.5 0 1,0 5.0,0a2.5,2.5 0 1,0 -5.0,0M372.1,462.4a2.5,2.5 0 1,0 5.0,0a2.5,2.5 0 1,0 -5.0,0M374.6,465.4a2.5,2.5 0 1,0 5.0,0a2.5,2.5 0 1,0 -5.0,0M376.2,463.4a2.5,2.5 0 1,0 5.0,0a2.5,2.5 0 1,0 -5.0,0M377.7,465.4a2.5,2.5 0 1,0 5.0,0a2.5,2.5 0 1,0 -5.0,0M377.1,466.6a2.5,2.5 0 1,0 5.0,0a2.5,2.5 0 1,0 -5.0,0M379.4,466.9a2.5,2.5 0 1,0 5.0,0a2.5,2.5 0 1,0 -5.0,0M377.1,469.4a2.5,2.5 0 1,0 5.0,0a2.5,2.5 0 1,0 -5.0,0M380.2,470.4a2.5,2.5 0 1,0 5.0,0a2.5,2.5 0 1,0 -5.0,0M378.9,469.5a2.5,2.5 0 1,0 5.0,0a2.5,2.5 0 1,0 -5.0,0M379.4,467.8a2.5,2.5 0 1,0 5.0,0a2.5,2.5 0 1,0 -5.0,0M380.6,468.1a2.5,2.5 0 1,0 5.0,0a2.5,2.5 0 1,0 -5.0,0M380.7,465.8a2.5,2.5 0 1,0 5.0,0a2.5,2.5 0 1,0 -5.0,0M381.8,466.1a2.5,2.5 0 1,0 5.0,0a2.5,2.5 0 1,0 -5.0,0M382.0,462.9a2.5,2.5 0 1,0 5.0,0a2.5,2.5 0 1,0 -5.0,0M382.8,463.0a2.5,2.5 0 1,0 5.0,0a2.5,2.5 0 1,0 -5.0,0M381.8,462.0a2.5,2.5 0 1,0 5.0,0a2.5,2.5 0 1,0 -5.0,0M382.0,461.9a2.5,2.5 0 1,0 5.0,0a2.5,2.5 0 1,0 -5.0,0M385.0,461.4a2.5,2.5 0 1,0 5.0,0a2.5,2.5 0 1,0 -5.0,0M385.2,461.7a2.5,2.5 0 1,0 5.0,0a2.5,2.5 0 1,0 -5.0,0M387.2,463.9a2.5,2.5 0 1,0 5.0,0a2.5,2.5 0 1,0 -5.0,0M387.1,464.5a2.5,2.5 0 1,0 5.0,0a2.5,2.5 0 1,0 -5.0,0M388.7,466.3a2.5,2.5 0 1,0 5.0,0a2.5,2.5 0 1,0 -5.0,0M388.9,465.8a2.5,2.5 0 1,0 5.0,0a2.5,2.5 0 1,0 -5.0,0M391.7,466.4a2.5,2.5 0 1,0 5.0,0a2.5,2.5 0 1,0 -5.0,0M391.4,465.3a2.5,2.5 0 1,0 5.0,0a2.5,2.5 0 1,0 -5.0,0M393.6,465.5a2.5,2.5 0 1,0 5.0,0a2.5,2.5 0 1,0 -5.0,0M393.7,464.2a2.5,2.5 0 1,0 5.0,0a2.5,2.5 0 1,0 -5.0,0M396.6,462.5a2.5,2.5 0 1,0 5.0,0a2.5,2.5 0 1,0 -5.0,0M394.8,464.2a2.5,2.5 0 1,0 5.0,0a2.5,2.5 0 1,0 -5.0,0M397.5,465.8a2.5,2.5 0 1,0 5.0,0a2.5,2.5 0 1,0 -5.0,0M397.1,465.2a2.5,2.5 0 1,0 5.0,0a2.5,2.5 0 1,0 -5.0,0M400.4,466.6a2.5,2.5 0 1,0 5.0,0a2.5,2.5 0 1,0 -5.0,0M398.9,467.9a2.5,2.5 0 1,0 5.0,0a2.5,2.5 0 1,0 -5.0,0M400.8,467.7a2.5,2.5 0 1,0 5.0,0a2.5,2.5 0 1,0 -5.0,0M401.4,468.1a2.5,2.5 0 1,0 5.0,0a2.5,2.5 0 1,0 -5.0,0M403.0,467.8a2.5,2.5 0 1,0 5.0,0a2.5,2.5 0 1,0 -5.0,0M403.7,468.3a2.5,2.5 0 1,0 5.0,0a2.5,2.5 0 1,0 -5.0,0M407.0,467.8a2.5,2.5 0 1,0 5.0,0a2.5,2.5 0 1,0 -5.0,0M406.0,466.9a2.5,2.5 0 1,0 5.0,0a2.5,2.5 0 1,0 -5.0,0M406.5,464.0a2.5,2.5 0 1,0 5.0,0a2.5,2.5 0 1,0 -5.0,0M407.8,465.0a2.5,2.5 0 1,0 5.0,0a2.5,2.5 0 1,0 -5.0,0M409.0,463.4a2.5,2.5 0 1,0 5.0,0a2.5,2.5 0 1,0 -5.0,0M409.5,462.9a2.5,2.5 0 1,0 5.0,0a2.5,2.5 0 1,0 -5.0,0M413.9,463.1a2.5,2.5 0 1,0 5.0,0a2.5,2.5 0 1,0 -5.0,0M411.3,463.0a2.5,2.5 0 1,0 5.0,0a2.5,2.5 0 1,0 -5.0,0M412.6,465.6a2.5,2.5 0 1,0 5.0,0a2.5,2.5 0 1,0 -5.0,0M413.3,466.1a2.5,2.5 0 1,0 5.0,0a2.5,2.5 0 1,0 -5.0,0M411.7,469.0a2.5,2.5 0 1,0 5.0,0a2.5,2.5 0 1,0 -5.0,0M414.8,468.3a2.5,2.5 0 1,0 5.0,0a2.5,2.5 0 1,0 -5.0,0M414.3,472.4a2.5,2.5 0 1,0 5.0,0a2.5,2.5 0 1,0 -5.0,0M412.7,470.2a2.5,2.5 0 1,0 5.0,0a2.5,2.5 0 1,0 -5.0,0M416.8,467.3a2.5,2.5 0 1,0 5.0,0a2.5,2.5 0 1,0 -5.0,0M416.5,468.7a2.5,2.5 0 1,0 5.0,0a2.5,2.5 0 1,0 -5.0,0M407.5,477.0a2.5,2.5 0 1,0 5.0,0a2.5,2.5 0 1,0 -5.0,0M409.5,464.0a2.5,2.5 0 1,0 5.0,0a2.5,2.5 0 1,0 -5.0,0M411.5,462.0a2.5,2.5 0 1,0 5.0,0a2.5,2.5 0 1,0 -5.0,0M414.5,464.0a2.5,2.5 0 1,0 5.0,0a2.5,2.5 0 1,0 -5.0,0M417.5,462.0a2.5,2.5 0 1,0 5.0,0a2.5,2.5 0 1,0 -5.0,0M420.5,460.0a2.5,2.5 0 1,0 5.0,0a2.5,2.5 0 1,0 -5.0,0M422.5,459.0a2.5,2.5 0 1,0 5.0,0a2.5,2.5 0 1,0 -5.0,0M416.5,467.0a2.5,2.5 0 1,0 5.0,0a2.5,2.5 0 1,0 -5.0,0M414.5,472.0a2.5,2.5 0 1,0 5.0,0a2.5,2.5 0 1,0 -5.0,0M408.5,477.0a2.5,2.5 0 1,0 5.0,0a2.5,2.5 0 1,0 -5.0,0M410.5,470.0a2.5,2.5 0 1,0 5.0,0a2.5,2.5 0 1,0 -5.0,0M423.6,480.7a2.5,2.5 0 1,0 5.0,0a2.5,2.5 0 1,0 -5.0,0M424.1,480.0a2.5,2.5 0 1,0 5.0,0a2.5,2.5 0 1,0 -5.0,0M424.5,483.7a2.5,2.5 0 1,0 5.0,0a2.5,2.5 0 1,0 -5.0,0M424.5,485.4a2.5,2.5 0 1,0 5.0,0a2.5,2.5 0 1,0 -5.0,0M427.5,484.8a2.5,2.5 0 1,0 5.0,0a2.5,2.5 0 1,0 -5.0,0M427.5,484.9a2.5,2.5 0 1,0 5.0,0a2.5,2.5 0 1,0 -5.0,0M425.0,486.1a2.5,2.5 0 1,0 5.0,0a2.5,2.5 0 1,0 -5.0,0M426.4,487.6a2.5,2.5 0 1,0 5.0,0a2.5,2.5 0 1,0 -5.0,0M425.4,489.2a2.5,2.5 0 1,0 5.0,0a2.5,2.5 0 1,0 -5.0,0M425.8,488.3a2.5,2.5 0 1,0 5.0,0a2.5,2.5 0 1,0 -5.0,0M429.1,491.1a2.5,2.5 0 1,0 5.0,0a2.5,2.5 0 1,0 -5.0,0M428.9,491.1a2.5,2.5 0 1,0 5.0,0a2.5,2.5 0 1,0 -5.0,0M428.2,493.6a2.5,2.5 0 1,0 5.0,0a2.5,2.5 0 1,0 -5.0,0M428.6,493.3a2.5,2.5 0 1,0 5.0,0a2.5,2.5 0 1,0 -5.0,0M426.5,494.7a2.5,2.5 0 1,0 5.0,0a2.5,2.5 0 1,0 -5.0,0M427.1,493.8a2.5,2.5 0 1,0 5.0,0a2.5,2.5 0 1,0 -5.0,0M430.3,496.2a2.5,2.5 0 1,0 5.0,0a2.5,2.5 0 1,0 -5.0,0M429.7,495.8a2.5,2.5 0 1,0 5.0,0a2.5,2.5 0 1,0 -5.0,0M429.8,498.2a2.5,2.5 0 1,0 5.0,0a2.5,2.5 0 1,0 -5.0,0M430.1,498.7a2.5,2.5 0 1,0 5.0,0a2.5,2.5 0 1,0 -5.0,0M430.9,501.2a2.5,2.5 0 1,0 5.0,0a2.5,2.5 0 1,0 -5.0,0M431.9,500.2a2.5,2.5 0 1,0 5.0,0a2.5,2.5 0 1,0 -5.0,0M432.9,505.1a2.5,2.5 0 1,0 5.0,0a2.5,2.5 0 1,0 -5.0,0M434.1,503.7a2.5,2.5 0 1,0 5.0,0a2.5,2.5 0 1,0 -5.0,0M436.2,506.5a2.5,2.5 0 1,0 5.0,0a2.5,2.5 0 1,0 -5.0,0M437.3,505.2a2.5,2.5 0 1,0 5.0,0a2.5,2.5 0 1,0 -5.0,0M439.7,506.7a2.5,2.5 0 1,0 5.0,0a2.5,2.5 0 1,0 -5.0,0M438.9,506.9a2.5,2.5 0 1,0 5.0,0a2.5,2.5 0 1,0 -5.0,0M444.0,505.0a2.5,2.5 0 1,0 5.0,0a2.5,2.5 0 1,0 -5.0,0M441.8,505.0a2.5,2.5 0 1,0 5.0,0a2.5,2.5 0 1,0 -5.0,0M444.3,508.2a2.5,2.5 0 1,0 5.0,0a2.5,2.5 0 1,0 -5.0,0M442.8,509.8a2.5,2.5 0 1,0 5.0,0a2.5,2.5 0 1,0 -5.0,0M445.8,511.7a2.5,2.5 0 1,0 5.0,0a2.5,2.5 0 1,0 -5.0,0M446.0,510.1a2.5,2.5 0 1,0 5.0,0a2.5,2.5 0 1,0 -5.0,0M450.9,459.6a2.5,2.5 0 1,0 5.0,0a2.5,2.5 0 1,0 -5.0,0M453.1,458.7a2.5,2.5 0 1,0 5.0,0a2.5,2.5 0 1,0 -5.0,0M454.6,460.6a2.5,2.5 0 1,0 5.0,0a2.5,2.5 0 1,0 -5.0,0M452.7,460.9a2.5,2.5 0 1,0 5.0,0a2.5,2.5 0 1,0 -5.0,0M453.5,463.5a2.5,2.5 0 1,0 5.0,0a2.5,2.5 0 1,0 -5.0,0M455.6,462.3a2.5,2.5 0 1,0 5.0,0a2.5,2.5 0 1,0 -5.0,0M455.8,466.1a2.5,2.5 0 1,0 5.0,0a2.5,2.5 0 1,0 -5.0,0M455.9,465.9a2.5,2.5 0 1,0 5.0,0a2.5,2.5 0 1,0 -5.0,0M457.0,468.8a2.5,2.5 0 1,0 5.0,0a2.5,2.5 0 1,0 -5.0,0M457.8,468.1a2.5,2.5 0 1,0 5.0,0a2.5,2.5 0 1,0 -5.0,0M458.5,470.5a2.5,2.5 0 1,0 5.0,0a2.5,2.5 0 1,0 -5.0,0M457.0,471.4a2.5,2.5 0 1,0 5.0,0a2.5,2.5 0 1,0 -5.0,0M460.8,472.9a2.5,2.5 0 1,0 5.0,0a2.5,2.5 0 1,0 -5.0,0M460.4,473.3a2.5,2.5 0 1,0 5.0,0a2.5,2.5 0 1,0 -5.0,0M461.6,476.7a2.5,2.5 0 1,0 5.0,0a2.5,2.5 0 1,0 -5.0,0M461.5,476.5a2.5,2.5 0 1,0 5.0,0a2.5,2.5 0 1,0 -5.0,0M464.1,476.5a2.5,2.5 0 1,0 5.0,0a2.5,2.5 0 1,0 -5.0,0M462.6,476.2a2.5,2.5 0 1,0 5.0,0a2.5,2.5 0 1,0 -5.0,0M465.6,479.5a2.5,2.5 0 1,0 5.0,0a2.5,2.5 0 1,0 -5.0,0M464.1,481.3a2.5,2.5 0 1,0 5.0,0a2.5,2.5 0 1,0 -5.0,0M467.0,481.8a2.5,2.5 0 1,0 5.0,0a2.5,2.5 0 1,0 -5.0,0M467.2,480.9a2.5,2.5 0 1,0 5.0,0a2.5,2.5 0 1,0 -5.0,0M468.5,510.0a2.5,2.5 0 1,0 5.0,0a2.5,2.5 0 1,0 -5.0,0M479.5,495.0a2.5,2.5 0 1,0 5.0,0a2.5,2.5 0 1,0 -5.0,0M481.5,498.0a2.5,2.5 0 1,0 5.0,0a2.5,2.5 0 1,0 -5.0,0M484.5,500.0a2.5,2.5 0 1,0 5.0,0a2.5,2.5 0 1,0 -5.0,0M486.5,497.0a2.5,2.5 0 1,0 5.0,0a2.5,2.5 0 1,0 -5.0,0M483.5,503.0a2.5,2.5 0 1,0 5.0,0a2.5,2.5 0 1,0 -5.0,0M487.5,504.0a2.5,2.5 0 1,0 5.0,0a2.5,2.5 0 1,0 -5.0,0M489.5,508.0a2.5,2.5 0 1,0 5.0,0a2.5,2.5 0 1,0 -5.0,0M491.5,502.0a2.5,2.5 0 1,0 5.0,0a2.5,2.5 0 1,0 -5.0,0M493.5,506.0a2.5,2.5 0 1,0 5.0,0a2.5,2.5 0 1,0 -5.0,0M496.5,499.0a2.5,2.5 0 1,0 5.0,0a2.5,2.5 0 1,0 -5.0,0M495.5,504.0a2.5,2.5 0 1,0 5.0,0a2.5,2.5 0 1,0 -5.0,0M497.5,509.0a2.5,2.5 0 1,0 5.0,0a2.5,2.5 0 1,0 -5.0,0M500.5,510.0a2.5,2.5 0 1,0 5.0,0a2.5,2.5 0 1,0 -5.0,0M503.5,511.0a2.5,2.5 0 1,0 5.0,0a2.5,2.5 0 1,0 -5.0,0M486.5,511.0a2.5,2.5 0 1,0 5.0,0a2.5,2.5 0 1,0 -5.0,0M490.5,512.0a2.5,2.5 0 1,0 5.0,0a2.5,2.5 0 1,0 -5.0,0M504.5,521.0a2.5,2.5 0 1,0 5.0,0a2.5,2.5 0 1,0 -5.0,0M478.5,520.0a2.5,2.5 0 1,0 5.0,0a2.5,2.5 0 1,0 -5.0,0M476.5,524.0a2.5,2.5 0 1,0 5.0,0a2.5,2.5 0 1,0 -5.0,0M475.5,528.0a2.5,2.5 0 1,0 5.0,0a2.5,2.5 0 1,0 -5.0,0M473.5,531.0a2.5,2.5 0 1,0 5.0,0a2.5,2.5 0 1,0 -5.0,0M471.5,534.0a2.5,2.5 0 1,0 5.0,0a2.5,2.5 0 1,0 -5.0,0M470.5,538.0a2.5,2.5 0 1,0 5.0,0a2.5,2.5 0 1,0 -5.0,0M471.5,541.0a2.5,2.5 0 1,0 5.0,0a2.5,2.5 0 1,0 -5.0,0M469.5,525.0a2.5,2.5 0 1,0 5.0,0a2.5,2.5 0 1,0 -5.0,0M516.5,527.0a2.5,2.5 0 1,0 5.0,0a2.5,2.5 0 1,0 -5.0,0M515.5,534.0a2.5,2.5 0 1,0 5.0,0a2.5,2.5 0 1,0 -5.0,0M516.5,538.0a2.5,2.5 0 1,0 5.0,0a2.5,2.5 0 1,0 -5.0,0M512.5,536.0a2.5,2.5 0 1,0 5.0,0a2.5,2.5 0 1,0 -5.0,0M507.5,538.0a2.5,2.5 0 1,0 5.0,0a2.5,2.5 0 1,0 -5.0,0M509.5,542.0a2.5,2.5 0 1,0 5.0,0a2.5,2.5 0 1,0 -5.0,0M506.5,544.0a2.5,2.5 0 1,0 5.0,0a2.5,2.5 0 1,0 -5.0,0M505.5,549.0a2.5,2.5 0 1,0 5.0,0a2.5,2.5 0 1,0 -5.0,0M511.5,546.0a2.5,2.5 0 1,0 5.0,0a2.5,2.5 0 1,0 -5.0,0M513.5,549.0a2.5,2.5 0 1,0 5.0,0a2.5,2.5 0 1,0 -5.0,0M518.5,546.0a2.5,2.5 0 1,0 5.0,0a2.5,2.5 0 1,0 -5.0,0M521.5,545.0a2.5,2.5 0 1,0 5.0,0a2.5,2.5 0 1,0 -5.0,0M522.5,537.0a2.5,2.5 0 1,0 5.0,0a2.5,2.5 0 1,0 -5.0,0M519.5,554.0a2.5,2.5 0 1,0 5.0,0a2.5,2.5 0 1,0 -5.0,0M520.5,557.0a2.5,2.5 0 1,0 5.0,0a2.5,2.5 0 1,0 -5.0,0M497.5,499.0a2.5,2.5 0 1,0 5.0,0a2.5,2.5 0 1,0 -5.0,0M499.2,508.3a2.5,2.5 0 1,0 5.0,0a2.5,2.5 0 1,0 -5.0,0M503.3,510.8a2.5,2.5 0 1,0 5.0,0a2.5,2.5 0 1,0 -5.0,0M504.2,521.7a2.5,2.5 0 1,0 5.0,0a2.5,2.5 0 1,0 -5.0,0M517.5,527.5a2.5,2.5 0 1,0 5.0,0a2.5,2.5 0 1,0 -5.0,0M515.8,535.8a2.5,2.5 0 1,0 5.0,0a2.5,2.5 0 1,0 -5.0,0M522.5,536.7a2.5,2.5 0 1,0 5.0,0a2.5,2.5 0 1,0 -5.0,0M507.5,536.7a2.5,2.5 0 1,0 5.0,0a2.5,2.5 0 1,0 -5.0,0M506.7,541.7a2.5,2.5 0 1,0 5.0,0a2.5,2.5 0 1,0 -5.0,0M510.0,542.5a2.5,2.5 0 1,0 5.0,0a2.5,2.5 0 1,0 -5.0,0M512.5,540.0a2.5,2.5 0 1,0 5.0,0a2.5,2.5 0 1,0 -5.0,0M505.0,549.2a2.5,2.5 0 1,0 5.0,0a2.5,2.5 0 1,0 -5.0,0M509.2,545.0a2.5,2.5 0 1,0 5.0,0a2.5,2.5 0 1,0 -5.0,0M513.3,546.7a2.5,2.5 0 1,0 5.0,0a2.5,2.5 0 1,0 -5.0,0M518.3,546.7a2.5,2.5 0 1,0 5.0,0a2.5,2.5 0 1,0 -5.0,0M521.7,545.0a2.5,2.5 0 1,0 5.0,0a2.5,2.5 0 1,0 -5.0,0M519.2,555.0a2.5,2.5 0 1,0 5.0,0a2.5,2.5 0 1,0 -5.0,0M520.0,556.7a2.5,2.5 0 1,0 5.0,0a2.5,2.5 0 1,0 -5.0,0M535.0,468.3a2.5,2.5 0 1,0 5.0,0a2.5,2.5 0 1,0 -5.0,0M535.8,470.0a2.5,2.5 0 1,0 5.0,0a2.5,2.5 0 1,0 -5.0,0M534.2,475.8a2.5,2.5 0 1,0 5.0,0a2.5,2.5 0 1,0 -5.0,0M537.5,480.0a2.5,2.5 0 1,0 5.0,0a2.5,2.5 0 1,0 -5.0,0M530.0,479.2a2.5,2.5 0 1,0 5.0,0a2.5,2.5 0 1,0 -5.0,0M531.7,482.5a2.5,2.5 0 1,0 5.0,0a2.5,2.5 0 1,0 -5.0,0M528.3,484.2a2.5,2.5 0 1,0 5.0,0a2.5,2.5 0 1,0 -5.0,0M527.5,488.3a2.5,2.5 0 1,0 5.0,0a2.5,2.5 0 1,0 -5.0,0M538.3,506.7a2.5,2.5 0 1,0 5.0,0a2.5,2.5 0 1,0 -5.0,0M540.8,510.0a2.5,2.5 0 1,0 5.0,0a2.5,2.5 0 1,0 -5.0,0M540.0,514.2a2.5,2.5 0 1,0 5.0,0a2.5,2.5 0 1,0 -5.0,0M541.7,521.7a2.5,2.5 0 1,0 5.0,0a2.5,2.5 0 1,0 -5.0,0M544.2,509.2a2.5,2.5 0 1,0 5.0,0a2.5,2.5 0 1,0 -5.0,0M547.5,507.5a2.5,2.5 0 1,0 5.0,0a2.5,2.5 0 1,0 -5.0,0M548.3,518.3a2.5,2.5 0 1,0 5.0,0a2.5,2.5 0 1,0 -5.0,0M549.2,520.0a2.5,2.5 0 1,0 5.0,0a2.5,2.5 0 1,0 -5.0,0M550.0,509.2a2.5,2.5 0 1,0 5.0,0a2.5,2.5 0 1,0 -5.0,0M551.7,504.2a2.5,2.5 0 1,0 5.0,0a2.5,2.5 0 1,0 -5.0,0M552.5,497.5a2.5,2.5 0 1,0 5.0,0a2.5,2.5 0 1,0 -5.0,0M551.7,487.5a2.5,2.5 0 1,0 5.0,0a2.5,2.5 0 1,0 -5.0,0M554.2,505.8a2.5,2.5 0 1,0 5.0,0a2.5,2.5 0 1,0 -5.0,0M555.8,510.8a2.5,2.5 0 1,0 5.0,0a2.5,2.5 0 1,0 -5.0,0M559.2,520.0a2.5,2.5 0 1,0 5.0,0a2.5,2.5 0 1,0 -5.0,0M557.5,523.3a2.5,2.5 0 1,0 5.0,0a2.5,2.5 0 1,0 -5.0,0M555.8,527.5a2.5,2.5 0 1,0 5.0,0a2.5,2.5 0 1,0 -5.0,0M556.7,542.5a2.5,2.5 0 1,0 5.0,0a2.5,2.5 0 1,0 -5.0,0M558.3,553.3a2.5,2.5 0 1,0 5.0,0a2.5,2.5 0 1,0 -5.0,0M560.0,499.2a2.5,2.5 0 1,0 5.0,0a2.5,2.5 0 1,0 -5.0,0M561.7,504.2a2.5,2.5 0 1,0 5.0,0a2.5,2.5 0 1,0 -5.0,0M562.5,492.5a2.5,2.5 0 1,0 5.0,0a2.5,2.5 0 1,0 -5.0,0M564.2,497.5a2.5,2.5 0 1,0 5.0,0a2.5,2.5 0 1,0 -5.0,0M563.3,485.8a2.5,2.5 0 1,0 5.0,0a2.5,2.5 0 1,0 -5.0,0M565.0,482.5a2.5,2.5 0 1,0 5.0,0a2.5,2.5 0 1,0 -5.0,0M565.8,479.2a2.5,2.5 0 1,0 5.0,0a2.5,2.5 0 1,0 -5.0,0M567.5,476.7a2.5,2.5 0 1,0 5.0,0a2.5,2.5 0 1,0 -5.0,0M570.0,479.2a2.5,2.5 0 1,0 5.0,0a2.5,2.5 0 1,0 -5.0,0M570.8,482.5a2.5,2.5 0 1,0 5.0,0a2.5,2.5 0 1,0 -5.0,0M589.2,494.2a2.5,2.5 0 1,0 5.0,0a2.5,2.5 0 1,0 -5.0,0M587.5,496.7a2.5,2.5 0 1,0 5.0,0a2.5,2.5 0 1,0 -5.0,0M585.8,499.2a2.5,2.5 0 1,0 5.0,0a2.5,2.5 0 1,0 -5.0,0M582.5,503.3a2.5,2.5 0 1,0 5.0,0a2.5,2.5 0 1,0 -5.0,0M587.5,507.5a2.5,2.5 0 1,0 5.0,0a2.5,2.5 0 1,0 -5.0,0M580.8,513.3a2.5,2.5 0 1,0 5.0,0a2.5,2.5 0 1,0 -5.0,0M581.7,517.5a2.5,2.5 0 1,0 5.0,0a2.5,2.5 0 1,0 -5.0,0M584.2,520.0a2.5,2.5 0 1,0 5.0,0a2.5,2.5 0 1,0 -5.0,0M585.0,523.3a2.5,2.5 0 1,0 5.0,0a2.5,2.5 0 1,0 -5.0,0M586.7,517.5a2.5,2.5 0 1,0 5.0,0a2.5,2.5 0 1,0 -5.0,0M590.0,517.5a2.5,2.5 0 1,0 5.0,0a2.5,2.5 0 1,0 -5.0,0M590.8,521.7a2.5,2.5 0 1,0 5.0,0a2.5,2.5 0 1,0 -5.0,0M592.5,525.8a2.5,2.5 0 1,0 5.0,0a2.5,2.5 0 1,0 -5.0,0M591.7,530.0a2.5,2.5 0 1,0 5.0,0a2.5,2.5 0 1,0 -5.0,0M583.3,530.8a2.5,2.5 0 1,0 5.0,0a2.5,2.5 0 1,0 -5.0,0M74.8,696.3a2.5,2.5 0 1,0 5.0,0a2.5,2.5 0 1,0 -5.0,0M75.1,696.2a2.5,2.5 0 1,0 5.0,0a2.5,2.5 0 1,0 -5.0,0M78.0,694.8a2.5,2.5 0 1,0 5.0,0a2.5,2.5 0 1,0 -5.0,0M78.9,696.0a2.5,2.5 0 1,0 5.0,0a2.5,2.5 0 1,0 -5.0,0M79.6,693.5a2.5,2.5 0 1,0 5.0,0a2.5,2.5 0 1,0 -5.0,0M80.7,693.1a2.5,2.5 0 1,0 5.0,0a2.5,2.5 0 1,0 -5.0,0M80.7,695.6a2.5,2.5 0 1,0 5.0,0a2.5,2.5 0 1,0 -5.0,0M79.7,695.9a2.5,2.5 0 1,0 5.0,0a2.5,2.5 0 1,0 -5.0,0M82.2,696.4a2.5,2.5 0 1,0 5.0,0a2.5,2.5 0 1,0 -5.0,0M82.3,696.6a2.5,2.5 0 1,0 5.0,0a2.5,2.5 0 1,0 -5.0,0M86.3,695.0a2.5,2.5 0 1,0 5.0,0a2.5,2.5 0 1,0 -5.0,0M84.2,697.7a2.5,2.5 0 1,0 5.0,0a2.5,2.5 0 1,0 -5.0,0M87.7,696.0a2.5,2.5 0 1,0 5.0,0a2.5,2.5 0 1,0 -5.0,0M88.1,696.4a2.5,2.5 0 1,0 5.0,0a2.5,2.5 0 1,0 -5.0,0M92.1,697.5a2.5,2.5 0 1,0 5.0,0a2.5,2.5 0 1,0 -5.0,0M92.4,697.2a2.5,2.5 0 1,0 5.0,0a2.5,2.5 0 1,0 -5.0,0M93.4,695.3a2.5,2.5 0 1,0 5.0,0a2.5,2.5 0 1,0 -5.0,0M91.8,694.7a2.5,2.5 0 1,0 5.0,0a2.5,2.5 0 1,0 -5.0,0M93.5,692.1a2.5,2.5 0 1,0 5.0,0a2.5,2.5 0 1,0 -5.0,0M92.6,691.8a2.5,2.5 0 1,0 5.0,0a2.5,2.5 0 1,0 -5.0,0M96.3,687.9a2.5,2.5 0 1,0 5.0,0a2.5,2.5 0 1,0 -5.0,0M95.3,689.5a2.5,2.5 0 1,0 5.0,0a2.5,2.5 0 1,0 -5.0,0M96.9,691.5a2.5,2.5 0 1,0 5.0,0a2.5,2.5 0 1,0 -5.0,0M97.7,690.8a2.5,2.5 0 1,0 5.0,0a2.5,2.5 0 1,0 -5.0,0M101.9,692.2a2.5,2.5 0 1,0 5.0,0a2.5,2.5 0 1,0 -5.0,0M100.9,694.9a2.5,2.5 0 1,0 5.0,0a2.5,2.5 0 1,0 -5.0,0M104.9,693.7a2.5,2.5 0 1,0 5.0,0a2.5,2.5 0 1,0 -5.0,0M103.9,694.1a2.5,2.5 0 1,0 5.0,0a2.5,2.5 0 1,0 -5.0,0M108.4,694.7a2.5,2.5 0 1,0 5.0,0a2.5,2.5 0 1,0 -5.0,0M108.1,696.2a2.5,2.5 0 1,0 5.0,0a2.5,2.5 0 1,0 -5.0,0M111.0,698.6a2.5,2.5 0 1,0 5.0,0a2.5,2.5 0 1,0 -5.0,0M111.1,697.2a2.5,2.5 0 1,0 5.0,0a2.5,2.5 0 1,0 -5.0,0M112.3,696.2a2.5,2.5 0 1,0 5.0,0a2.5,2.5 0 1,0 -5.0,0M112.4,695.4a2.5,2.5 0 1,0 5.0,0a2.5,2.5 0 1,0 -5.0,0M114.8,698.1a2.5,2.5 0 1,0 5.0,0a2.5,2.5 0 1,0 -5.0,0M116.4,695.9a2.5,2.5 0 1,0 5.0,0a2.5,2.5 0 1,0 -5.0,0M118.5,697.4a2.5,2.5 0 1,0 5.0,0a2.5,2.5 0 1,0 -5.0,0M118.4,698.2a2.5,2.5 0 1,0 5.0,0a2.5,2.5 0 1,0 -5.0,0M121.9,698.2a2.5,2.5 0 1,0 5.0,0a2.5,2.5 0 1,0 -5.0,0M121.1,699.2a2.5,2.5 0 1,0 5.0,0a2.5,2.5 0 1,0 -5.0,0M118.3,695.4a2.5,2.5 0 1,0 5.0,0a2.5,2.5 0 1,0 -5.0,0M120.0,696.7a2.5,2.5 0 1,0 5.0,0a2.5,2.5 0 1,0 -5.0,0M120.6,693.6a2.5,2.5 0 1,0 5.0,0a2.5,2.5 0 1,0 -5.0,0M121.0,693.7a2.5,2.5 0 1,0 5.0,0a2.5,2.5 0 1,0 -5.0,0M123.3,692.7a2.5,2.5 0 1,0 5.0,0a2.5,2.5 0 1,0 -5.0,0M120.6,691.5a2.5,2.5 0 1,0 5.0,0a2.5,2.5 0 1,0 -5.0,0M123.6,690.1a2.5,2.5 0 1,0 5.0,0a2.5,2.5 0 1,0 -5.0,0M123.4,689.7a2.5,2.5 0 1,0 5.0,0a2.5,2.5 0 1,0 -5.0,0M121.6,686.0a2.5,2.5 0 1,0 5.0,0a2.5,2.5 0 1,0 -5.0,0M122.2,685.9a2.5,2.5 0 1,0 5.0,0a2.5,2.5 0 1,0 -5.0,0M126.5,685.9a2.5,2.5 0 1,0 5.0,0a2.5,2.5 0 1,0 -5.0,0M126.0,685.0a2.5,2.5 0 1,0 5.0,0a2.5,2.5 0 1,0 -5.0,0M127.9,680.0a2.5,2.5 0 1,0 5.0,0a2.5,2.5 0 1,0 -5.0,0M128.6,681.5a2.5,2.5 0 1,0 5.0,0a2.5,2.5 0 1,0 -5.0,0M131.6,678.4a2.5,2.5 0 1,0 5.0,0a2.5,2.5 0 1,0 -5.0,0M129.8,679.5a2.5,2.5 0 1,0 5.0,0a2.5,2.5 0 1,0 -5.0,0M132.7,680.4a2.5,2.5 0 1,0 5.0,0a2.5,2.5 0 1,0 -5.0,0M131.2,682.0a2.5,2.5 0 1,0 5.0,0a2.5,2.5 0 1,0 -5.0,0M133.5,683.5a2.5,2.5 0 1,0 5.0,0a2.5,2.5 0 1,0 -5.0,0M133.3,683.7a2.5,2.5 0 1,0 5.0,0a2.5,2.5 0 1,0 -5.0,0M136.1,684.5a2.5,2.5 0 1,0 5.0,0a2.5,2.5 0 1,0 -5.0,0M136.7,682.9a2.5,2.5 0 1,0 5.0,0a2.5,2.5 0 1,0 -5.0,0M138.4,685.6a2.5,2.5 0 1,0 5.0,0a2.5,2.5 0 1,0 -5.0,0M138.4,685.5a2.5,2.5 0 1,0 5.0,0a2.5,2.5 0 1,0 -5.0,0M142.3,690.3a2.5,2.5 0 1,0 5.0,0a2.5,2.5 0 1,0 -5.0,0M141.8,689.8a2.5,2.5 0 1,0 5.0,0a2.5,2.5 0 1,0 -5.0,0M144.1,686.6a2.5,2.5 0 1,0 5.0,0a2.5,2.5 0 1,0 -5.0,0M146.4,685.2a2.5,2.5 0 1,0 5.0,0a2.5,2.5 0 1,0 -5.0,0M147.5,687.8a2.5,2.5 0 1,0 5.0,0a2.5,2.5 0 1,0 -5.0,0M147.9,687.2a2.5,2.5 0 1,0 5.0,0a2.5,2.5 0 1,0 -5.0,0M148.6,688.8a2.5,2.5 0 1,0 5.0,0a2.5,2.5 0 1,0 -5.0,0M151.3,689.3a2.5,2.5 0 1,0 5.0,0a2.5,2.5 0 1,0 -5.0,0M149.8,686.6a2.5,2.5 0 1,0 5.0,0a2.5,2.5 0 1,0 -5.0,0M152.0,687.3a2.5,2.5 0 1,0 5.0,0a2.5,2.5 0 1,0 -5.0,0M153.9,685.0a2.5,2.5 0 1,0 5.0,0a2.5,2.5 0 1,0 -5.0,0M149.4,684.1a2.5,2.5 0 1,0 5.0,0a2.5,2.5 0 1,0 -5.0,0M153.1,680.2a2.5,2.5 0 1,0 5.0,0a2.5,2.5 0 1,0 -5.0,0M152.6,682.3a2.5,2.5 0 1,0 5.0,0a2.5,2.5 0 1,0 -5.0,0M155.1,683.6a2.5,2.5 0 1,0 5.0,0a2.5,2.5 0 1,0 -5.0,0M155.2,683.0a2.5,2.5 0 1,0 5.0,0a2.5,2.5 0 1,0 -5.0,0M137.0,666.0a2.5,2.5 0 1,0 5.0,0a2.5,2.5 0 1,0 -5.0,0M135.9,672.5a2.5,2.5 0 1,0 5.0,0a2.5,2.5 0 1,0 -5.0,0M140.3,693.0a2.5,2.5 0 1,0 5.0,0a2.5,2.5 0 1,0 -5.0,0M150.0,692.0a2.5,2.5 0 1,0 5.0,0a2.5,2.5 0 1,0 -5.0,0M145.5,690.0a2.5,2.5 0 1,0 5.0,0a2.5,2.5 0 1,0 -5.0,0M132.5,683.0a2.5,2.5 0 1,0 5.0,0a2.5,2.5 0 1,0 -5.0,0M77.5,699.0a2.5,2.5 0 1,0 5.0,0a2.5,2.5 0 1,0 -5.0,0M83.5,698.0a2.5,2.5 0 1,0 5.0,0a2.5,2.5 0 1,0 -5.0,0M89.5,699.0a2.5,2.5 0 1,0 5.0,0a2.5,2.5 0 1,0 -5.0,0M156.3,696.6a2.5,2.5 0 1,0 5.0,0a2.5,2.5 0 1,0 -5.0,0M158.2,696.9a2.5,2.5 0 1,0 5.0,0a2.5,2.5 0 1,0 -5.0,0M157.5,699.7a2.5,2.5 0 1,0 5.0,0a2.5,2.5 0 1,0 -5.0,0M156.0,700.3a2.5,2.5 0 1,0 5.0,0a2.5,2.5 0 1,0 -5.0,0M155.0,704.1a2.5,2.5 0 1,0 5.0,0a2.5,2.5 0 1,0 -5.0,0M157.6,702.2a2.5,2.5 0 1,0 5.0,0a2.5,2.5 0 1,0 -5.0,0M157.4,704.8a2.5,2.5 0 1,0 5.0,0a2.5,2.5 0 1,0 -5.0,0M159.2,703.8a2.5,2.5 0 1,0 5.0,0a2.5,2.5 0 1,0 -5.0,0M159.1,706.9a2.5,2.5 0 1,0 5.0,0a2.5,2.5 0 1,0 -5.0,0M159.3,707.1a2.5,2.5 0 1,0 5.0,0a2.5,2.5 0 1,0 -5.0,0M160.9,704.1a2.5,2.5 0 1,0 5.0,0a2.5,2.5 0 1,0 -5.0,0M160.5,704.8a2.5,2.5 0 1,0 5.0,0a2.5,2.5 0 1,0 -5.0,0M163.7,701.8a2.5,2.5 0 1,0 5.0,0a2.5,2.5 0 1,0 -5.0,0M163.7,702.2a2.5,2.5 0 1,0 5.0,0a2.5,2.5 0 1,0 -5.0,0M163.8,705.6a2.5,2.5 0 1,0 5.0,0a2.5,2.5 0 1,0 -5.0,0M165.2,705.2a2.5,2.5 0 1,0 5.0,0a2.5,2.5 0 1,0 -5.0,0M166.5,706.6a2.5,2.5 0 1,0 5.0,0a2.5,2.5 0 1,0 -5.0,0M168.0,707.9a2.5,2.5 0 1,0 5.0,0a2.5,2.5 0 1,0 -5.0,0M167.3,703.2a2.5,2.5 0 1,0 5.0,0a2.5,2.5 0 1,0 -5.0,0M167.4,705.7a2.5,2.5 0 1,0 5.0,0a2.5,2.5 0 1,0 -5.0,0M170.4,695.7a2.5,2.5 0 1,0 5.0,0a2.5,2.5 0 1,0 -5.0,0M168.5,691.8a2.5,2.5 0 1,0 5.0,0a2.5,2.5 0 1,0 -5.0,0M170.1,690.1a2.5,2.5 0 1,0 5.0,0a2.5,2.5 0 1,0 -5.0,0M170.9,687.3a2.5,2.5 0 1,0 5.0,0a2.5,2.5 0 1,0 -5.0,0M173.0,685.4a2.5,2.5 0 1,0 5.0,0a2.5,2.5 0 1,0 -5.0,0M173.2,683.0a2.5,2.5 0 1,0 5.0,0a2.5,2.5 0 1,0 -5.0,0M173.7,681.3a2.5,2.5 0 1,0 5.0,0a2.5,2.5 0 1,0 -5.0,0M175.9,679.5a2.5,2.5 0 1,0 5.0,0a2.5,2.5 0 1,0 -5.0,0M175.5,675.4a2.5,2.5 0 1,0 5.0,0a2.5,2.5 0 1,0 -5.0,0M174.9,672.2a2.5,2.5 0 1,0 5.0,0a2.5,2.5 0 1,0 -5.0,0M178.0,670.0a2.5,2.5 0 1,0 5.0,0a2.5,2.5 0 1,0 -5.0,0M178.0,666.9a2.5,2.5 0 1,0 5.0,0a2.5,2.5 0 1,0 -5.0,0M179.3,665.3a2.5,2.5 0 1,0 5.0,0a2.5,2.5 0 1,0 -5.0,0M180.6,666.9a2.5,2.5 0 1,0 5.0,0a2.5,2.5 0 1,0 -5.0,0M182.5,684.4a2.5,2.5 0 1,0 5.0,0a2.5,2.5 0 1,0 -5.0,0M181.5,688.8a2.5,2.5 0 1,0 5.0,0a2.5,2.5 0 1,0 -5.0,0M182.9,699.2a2.5,2.5 0 1,0 5.0,0a2.5,2.5 0 1,0 -5.0,0M181.4,697.8a2.5,2.5 0 1,0 5.0,0a2.5,2.5 0 1,0 -5.0,0M183.9,695.5a2.5,2.5 0 1,0 5.0,0a2.5,2.5 0 1,0 -5.0,0M183.6,695.0a2.5,2.5 0 1,0 5.0,0a2.5,2.5 0 1,0 -5.0,0M187.5,696.9a2.5,2.5 0 1,0 5.0,0a2.5,2.5 0 1,0 -5.0,0M184.9,697.7a2.5,2.5 0 1,0 5.0,0a2.5,2.5 0 1,0 -5.0,0M187.1,700.3a2.5,2.5 0 1,0 5.0,0a2.5,2.5 0 1,0 -5.0,0M187.6,700.1a2.5,2.5 0 1,0 5.0,0a2.5,2.5 0 1,0 -5.0,0M188.7,704.4a2.5,2.5 0 1,0 5.0,0a2.5,2.5 0 1,0 -5.0,0M187.9,702.5a2.5,2.5 0 1,0 5.0,0a2.5,2.5 0 1,0 -5.0,0M192.2,701.9a2.5,2.5 0 1,0 5.0,0a2.5,2.5 0 1,0 -5.0,0M192.0,702.3a2.5,2.5 0 1,0 5.0,0a2.5,2.5 0 1,0 -5.0,0M193.1,704.8a2.5,2.5 0 1,0 5.0,0a2.5,2.5 0 1,0 -5.0,0M193.5,705.2a2.5,2.5 0 1,0 5.0,0a2.5,2.5 0 1,0 -5.0,0M194.8,702.4a2.5,2.5 0 1,0 5.0,0a2.5,2.5 0 1,0 -5.0,0M195.6,702.2a2.5,2.5 0 1,0 5.0,0a2.5,2.5 0 1,0 -5.0,0M194.7,700.4a2.5,2.5 0 1,0 5.0,0a2.5,2.5 0 1,0 -5.0,0M192.6,700.7a2.5,2.5 0 1,0 5.0,0a2.5,2.5 0 1,0 -5.0,0M191.8,697.7a2.5,2.5 0 1,0 5.0,0a2.5,2.5 0 1,0 -5.0,0M192.0,697.8a2.5,2.5 0 1,0 5.0,0a2.5,2.5 0 1,0 -5.0,0M195.4,695.5a2.5,2.5 0 1,0 5.0,0a2.5,2.5 0 1,0 -5.0,0M195.3,693.9a2.5,2.5 0 1,0 5.0,0a2.5,2.5 0 1,0 -5.0,0M196.8,695.8a2.5,2.5 0 1,0 5.0,0a2.5,2.5 0 1,0 -5.0,0M197.9,692.1a2.5,2.5 0 1,0 5.0,0a2.5,2.5 0 1,0 -5.0,0M197.3,689.0a2.5,2.5 0 1,0 5.0,0a2.5,2.5 0 1,0 -5.0,0M200.2,688.1a2.5,2.5 0 1,0 5.0,0a2.5,2.5 0 1,0 -5.0,0M200.4,685.8a2.5,2.5 0 1,0 5.0,0a2.5,2.5 0 1,0 -5.0,0M202.6,684.4a2.5,2.5 0 1,0 5.0,0a2.5,2.5 0 1,0 -5.0,0M204.1,682.1a2.5,2.5 0 1,0 5.0,0a2.5,2.5 0 1,0 -5.0,0M206.7,683.3a2.5,2.5 0 1,0 5.0,0a2.5,2.5 0 1,0 -5.0,0M206.1,680.9a2.5,2.5 0 1,0 5.0,0a2.5,2.5 0 1,0 -5.0,0M207.9,679.0a2.5,2.5 0 1,0 5.0,0a2.5,2.5 0 1,0 -5.0,0M207.9,677.2a2.5,2.5 0 1,0 5.0,0a2.5,2.5 0 1,0 -5.0,0M207.9,674.5a2.5,2.5 0 1,0 5.0,0a2.5,2.5 0 1,0 -5.0,0M209.7,672.8a2.5,2.5 0 1,0 5.0,0a2.5,2.5 0 1,0 -5.0,0M208.4,670.6a2.5,2.5 0 1,0 5.0,0a2.5,2.5 0 1,0 -5.0,0M210.1,667.9a2.5,2.5 0 1,0 5.0,0a2.5,2.5 0 1,0 -5.0,0M209.6,665.3a2.5,2.5 0 1,0 5.0,0a2.5,2.5 0 1,0 -5.0,0M211.4,664.0a2.5,2.5 0 1,0 5.0,0a2.5,2.5 0 1,0 -5.0,0M210.8,661.7a2.5,2.5 0 1,0 5.0,0a2.5,2.5 0 1,0 -5.0,0M210.4,658.8a2.5,2.5 0 1,0 5.0,0a2.5,2.5 0 1,0 -5.0,0M210.6,657.2a2.5,2.5 0 1,0 5.0,0a2.5,2.5 0 1,0 -5.0,0M212.8,655.5a2.5,2.5 0 1,0 5.0,0a2.5,2.5 0 1,0 -5.0,0M210.4,652.1a2.5,2.5 0 1,0 5.0,0a2.5,2.5 0 1,0 -5.0,0M212.9,650.2a2.5,2.5 0 1,0 5.0,0a2.5,2.5 0 1,0 -5.0,0M211.7,647.9a2.5,2.5 0 1,0 5.0,0a2.5,2.5 0 1,0 -5.0,0M214.1,651.8a2.5,2.5 0 1,0 5.0,0a2.5,2.5 0 1,0 -5.0,0M209.5,675.8a2.5,2.5 0 1,0 5.0,0a2.5,2.5 0 1,0 -5.0,0M215.0,666.0a2.5,2.5 0 1,0 5.0,0a2.5,2.5 0 1,0 -5.0,0M217.2,672.5a2.5,2.5 0 1,0 5.0,0a2.5,2.5 0 1,0 -5.0,0M219.3,661.7a2.5,2.5 0 1,0 5.0,0a2.5,2.5 0 1,0 -5.0,0M222.5,655.0a2.5,2.5 0 1,0 5.0,0a2.5,2.5 0 1,0 -5.0,0M223.5,663.8a2.5,2.5 0 1,0 5.0,0a2.5,2.5 0 1,0 -5.0,0M218.3,679.0a2.5,2.5 0 1,0 5.0,0a2.5,2.5 0 1,0 -5.0,0M221.5,680.0a2.5,2.5 0 1,0 5.0,0a2.5,2.5 0 1,0 -5.0,0M224.5,670.0a2.5,2.5 0 1,0 5.0,0a2.5,2.5 0 1,0 -5.0,0M225.8,674.7a2.5,2.5 0 1,0 5.0,0a2.5,2.5 0 1,0 -5.0,0M228.0,672.5a2.5,2.5 0 1,0 5.0,0a2.5,2.5 0 1,0 -5.0,0M230.2,671.4a2.5,2.5 0 1,0 5.0,0a2.5,2.5 0 1,0 -5.0,0M231.3,680.0a2.5,2.5 0 1,0 5.0,0a2.5,2.5 0 1,0 -5.0,0M215.5,676.0a2.5,2.5 0 1,0 5.0,0a2.5,2.5 0 1,0 -5.0,0M219.5,668.0a2.5,2.5 0 1,0 5.0,0a2.5,2.5 0 1,0 -5.0,0M220.5,674.0a2.5,2.5 0 1,0 5.0,0a2.5,2.5 0 1,0 -5.0,0M223.5,676.0a2.5,2.5 0 1,0 5.0,0a2.5,2.5 0 1,0 -5.0,0M226.5,678.0a2.5,2.5 0 1,0 5.0,0a2.5,2.5 0 1,0 -5.0,0M228.5,676.0a2.5,2.5 0 1,0 5.0,0a2.5,2.5 0 1,0 -5.0,0M216.5,662.0a2.5,2.5 0 1,0 5.0,0a2.5,2.5 0 1,0 -5.0,0M213.5,671.0a2.5,2.5 0 1,0 5.0,0a2.5,2.5 0 1,0 -5.0,0M231.1,680.5a2.5,2.5 0 1,0 5.0,0a2.5,2.5 0 1,0 -5.0,0M231.2,682.7a2.5,2.5 0 1,0 5.0,0a2.5,2.5 0 1,0 -5.0,0M231.7,686.2a2.5,2.5 0 1,0 5.0,0a2.5,2.5 0 1,0 -5.0,0M234.6,688.8a2.5,2.5 0 1,0 5.0,0a2.5,2.5 0 1,0 -5.0,0M236.7,685.7a2.5,2.5 0 1,0 5.0,0a2.5,2.5 0 1,0 -5.0,0M237.9,687.3a2.5,2.5 0 1,0 5.0,0a2.5,2.5 0 1,0 -5.0,0M237.6,690.3a2.5,2.5 0 1,0 5.0,0a2.5,2.5 0 1,0 -5.0,0M237.9,692.6a2.5,2.5 0 1,0 5.0,0a2.5,2.5 0 1,0 -5.0,0M239.7,695.1a2.5,2.5 0 1,0 5.0,0a2.5,2.5 0 1,0 -5.0,0M239.9,697.4a2.5,2.5 0 1,0 5.0,0a2.5,2.5 0 1,0 -5.0,0M242.6,699.2a2.5,2.5 0 1,0 5.0,0a2.5,2.5 0 1,0 -5.0,0M243.4,701.5a2.5,2.5 0 1,0 5.0,0a2.5,2.5 0 1,0 -5.0,0M245.2,703.3a2.5,2.5 0 1,0 5.0,0a2.5,2.5 0 1,0 -5.0,0M246.4,705.0a2.5,2.5 0 1,0 5.0,0a2.5,2.5 0 1,0 -5.0,0M239.0,690.5a2.5,2.5 0 1,0 5.0,0a2.5,2.5 0 1,0 -5.0,0M238.2,690.5a2.5,2.5 0 1,0 5.0,0a2.5,2.5 0 1,0 -5.0,0M240.8,692.0a2.5,2.5 0 1,0 5.0,0a2.5,2.5 0 1,0 -5.0,0M241.0,692.6a2.5,2.5 0 1,0 5.0,0a2.5,2.5 0 1,0 -5.0,0M239.5,694.5a2.5,2.5 0 1,0 5.0,0a2.5,2.5 0 1,0 -5.0,0M240.6,694.3a2.5,2.5 0 1,0 5.0,0a2.5,2.5 0 1,0 -5.0,0M241.9,696.3a2.5,2.5 0 1,0 5.0,0a2.5,2.5 0 1,0 -5.0,0M240.0,697.3a2.5,2.5 0 1,0 5.0,0a2.5,2.5 0 1,0 -5.0,0M242.3,699.4a2.5,2.5 0 1,0 5.0,0a2.5,2.5 0 1,0 -5.0,0M240.8,699.7a2.5,2.5 0 1,0 5.0,0a2.5,2.5 0 1,0 -5.0,0M242.5,701.5a2.5,2.5 0 1,0 5.0,0a2.5,2.5 0 1,0 -5.0,0M241.9,702.6a2.5,2.5 0 1,0 5.0,0a2.5,2.5 0 1,0 -5.0,0M244.0,705.2a2.5,2.5 0 1,0 5.0,0a2.5,2.5 0 1,0 -5.0,0M244.2,703.7a2.5,2.5 0 1,0 5.0,0a2.5,2.5 0 1,0 -5.0,0M246.7,706.4a2.5,2.5 0 1,0 5.0,0a2.5,2.5 0 1,0 -5.0,0M246.9,704.3a2.5,2.5 0 1,0 5.0,0a2.5,2.5 0 1,0 -5.0,0M249.3,707.6a2.5,2.5 0 1,0 5.0,0a2.5,2.5 0 1,0 -5.0,0M249.5,706.5a2.5,2.5 0 1,0 5.0,0a2.5,2.5 0 1,0 -5.0,0M251.6,705.0a2.5,2.5 0 1,0 5.0,0a2.5,2.5 0 1,0 -5.0,0M251.6,704.8a2.5,2.5 0 1,0 5.0,0a2.5,2.5 0 1,0 -5.0,0M254.9,708.5a2.5,2.5 0 1,0 5.0,0a2.5,2.5 0 1,0 -5.0,0M255.5,708.4a2.5,2.5 0 1,0 5.0,0a2.5,2.5 0 1,0 -5.0,0M257.1,706.4a2.5,2.5 0 1,0 5.0,0a2.5,2.5 0 1,0 -5.0,0M254.3,705.5a2.5,2.5 0 1,0 5.0,0a2.5,2.5 0 1,0 -5.0,0M255.8,702.3a2.5,2.5 0 1,0 5.0,0a2.5,2.5 0 1,0 -5.0,0M257.2,703.2a2.5,2.5 0 1,0 5.0,0a2.5,2.5 0 1,0 -5.0,0M256.0,700.5a2.5,2.5 0 1,0 5.0,0a2.5,2.5 0 1,0 -5.0,0M259.0,700.2a2.5,2.5 0 1,0 5.0,0a2.5,2.5 0 1,0 -5.0,0M258.7,702.9a2.5,2.5 0 1,0 5.0,0a2.5,2.5 0 1,0 -5.0,0M259.1,703.0a2.5,2.5 0 1,0 5.0,0a2.5,2.5 0 1,0 -5.0,0M257.8,704.8a2.5,2.5 0 1,0 5.0,0a2.5,2.5 0 1,0 -5.0,0M258.9,706.0a2.5,2.5 0 1,0 5.0,0a2.5,2.5 0 1,0 -5.0,0M262.0,702.3a2.5,2.5 0 1,0 5.0,0a2.5,2.5 0 1,0 -5.0,0M260.9,703.4a2.5,2.5 0 1,0 5.0,0a2.5,2.5 0 1,0 -5.0,0M261.8,705.9a2.5,2.5 0 1,0 5.0,0a2.5,2.5 0 1,0 -5.0,0M262.9,705.3a2.5,2.5 0 1,0 5.0,0a2.5,2.5 0 1,0 -5.0,0M265.7,707.4a2.5,2.5 0 1,0 5.0,0a2.5,2.5 0 1,0 -5.0,0M265.8,706.9a2.5,2.5 0 1,0 5.0,0a2.5,2.5 0 1,0 -5.0,0M269.0,708.7a2.5,2.5 0 1,0 5.0,0a2.5,2.5 0 1,0 -5.0,0M268.4,708.6a2.5,2.5 0 1,0 5.0,0a2.5,2.5 0 1,0 -5.0,0M270.0,704.9a2.5,2.5 0 1,0 5.0,0a2.5,2.5 0 1,0 -5.0,0M270.7,704.6a2.5,2.5 0 1,0 5.0,0a2.5,2.5 0 1,0 -5.0,0M269.9,702.1a2.5,2.5 0 1,0 5.0,0a2.5,2.5 0 1,0 -5.0,0M270.5,702.9a2.5,2.5 0 1,0 5.0,0a2.5,2.5 0 1,0 -5.0,0M272.4,700.3a2.5,2.5 0 1,0 5.0,0a2.5,2.5 0 1,0 -5.0,0M272.4,700.5a2.5,2.5 0 1,0 5.0,0a2.5,2.5 0 1,0 -5.0,0M270.4,697.6a2.5,2.5 0 1,0 5.0,0a2.5,2.5 0 1,0 -5.0,0M272.8,698.0a2.5,2.5 0 1,0 5.0,0a2.5,2.5 0 1,0 -5.0,0M271.3,695.2a2.5,2.5 0 1,0 5.0,0a2.5,2.5 0 1,0 -5.0,0M271.6,696.2a2.5,2.5 0 1,0 5.0,0a2.5,2.5 0 1,0 -5.0,0M272.4,693.5a2.5,2.5 0 1,0 5.0,0a2.5,2.5 0 1,0 -5.0,0M272.0,693.6a2.5,2.5 0 1,0 5.0,0a2.5,2.5 0 1,0 -5.0,0M273.6,690.9a2.5,2.5 0 1,0 5.0,0a2.5,2.5 0 1,0 -5.0,0M272.7,690.9a2.5,2.5 0 1,0 5.0,0a2.5,2.5 0 1,0 -5.0,0M272.8,689.6a2.5,2.5 0 1,0 5.0,0a2.5,2.5 0 1,0 -5.0,0M273.8,688.8a2.5,2.5 0 1,0 5.0,0a2.5,2.5 0 1,0 -5.0,0M275.4,693.1a2.5,2.5 0 1,0 5.0,0a2.5,2.5 0 1,0 -5.0,0M275.8,693.1a2.5,2.5 0 1,0 5.0,0a2.5,2.5 0 1,0 -5.0,0M276.4,695.4a2.5,2.5 0 1,0 5.0,0a2.5,2.5 0 1,0 -5.0,0M276.7,696.1a2.5,2.5 0 1,0 5.0,0a2.5,2.5 0 1,0 -5.0,0M277.5,697.8a2.5,2.5 0 1,0 5.0,0a2.5,2.5 0 1,0 -5.0,0M278.1,698.0a2.5,2.5 0 1,0 5.0,0a2.5,2.5 0 1,0 -5.0,0M279.4,695.0a2.5,2.5 0 1,0 5.0,0a2.5,2.5 0 1,0 -5.0,0M278.0,695.5a2.5,2.5 0 1,0 5.0,0a2.5,2.5 0 1,0 -5.0,0M279.0,699.2a2.5,2.5 0 1,0 5.0,0a2.5,2.5 0 1,0 -5.0,0M278.5,699.2a2.5,2.5 0 1,0 5.0,0a2.5,2.5 0 1,0 -5.0,0M281.5,701.4a2.5,2.5 0 1,0 5.0,0a2.5,2.5 0 1,0 -5.0,0M280.0,701.2a2.5,2.5 0 1,0 5.0,0a2.5,2.5 0 1,0 -5.0,0M282.7,703.2a2.5,2.5 0 1,0 5.0,0a2.5,2.5 0 1,0 -5.0,0M283.4,703.4a2.5,2.5 0 1,0 5.0,0a2.5,2.5 0 1,0 -5.0,0M283.2,705.0a2.5,2.5 0 1,0 5.0,0a2.5,2.5 0 1,0 -5.0,0M281.9,707.6a2.5,2.5 0 1,0 5.0,0a2.5,2.5 0 1,0 -5.0,0M285.2,707.4a2.5,2.5 0 1,0 5.0,0a2.5,2.5 0 1,0 -5.0,0M285.8,705.3a2.5,2.5 0 1,0 5.0,0a2.5,2.5 0 1,0 -5.0,0M287.3,708.0a2.5,2.5 0 1,0 5.0,0a2.5,2.5 0 1,0 -5.0,0M289.2,708.1a2.5,2.5 0 1,0 5.0,0a2.5,2.5 0 1,0 -5.0,0M291.0,709.9a2.5,2.5 0 1,0 5.0,0a2.5,2.5 0 1,0 -5.0,0M289.3,710.5a2.5,2.5 0 1,0 5.0,0a2.5,2.5 0 1,0 -5.0,0M290.4,715.0a2.5,2.5 0 1,0 5.0,0a2.5,2.5 0 1,0 -5.0,0M290.5,713.4a2.5,2.5 0 1,0 5.0,0a2.5,2.5 0 1,0 -5.0,0M293.0,712.9a2.5,2.5 0 1,0 5.0,0a2.5,2.5 0 1,0 -5.0,0M293.6,714.1a2.5,2.5 0 1,0 5.0,0a2.5,2.5 0 1,0 -5.0,0M297.0,712.8a2.5,2.5 0 1,0 5.0,0a2.5,2.5 0 1,0 -5.0,0M296.2,711.1a2.5,2.5 0 1,0 5.0,0a2.5,2.5 0 1,0 -5.0,0M300.4,712.8a2.5,2.5 0 1,0 5.0,0a2.5,2.5 0 1,0 -5.0,0M298.9,709.1a2.5,2.5 0 1,0 5.0,0a2.5,2.5 0 1,0 -5.0,0M302.4,710.9a2.5,2.5 0 1,0 5.0,0a2.5,2.5 0 1,0 -5.0,0M301.6,710.3a2.5,2.5 0 1,0 5.0,0a2.5,2.5 0 1,0 -5.0,0M304.9,711.4a2.5,2.5 0 1,0 5.0,0a2.5,2.5 0 1,0 -5.0,0M305.3,712.4a2.5,2.5 0 1,0 5.0,0a2.5,2.5 0 1,0 -5.0,0M306.4,708.6a2.5,2.5 0 1,0 5.0,0a2.5,2.5 0 1,0 -5.0,0M308.5,711.4a2.5,2.5 0 1,0 5.0,0a2.5,2.5 0 1,0 -5.0,0M310.1,709.3a2.5,2.5 0 1,0 5.0,0a2.5,2.5 0 1,0 -5.0,0M310.4,709.2a2.5,2.5 0 1,0 5.0,0a2.5,2.5 0 1,0 -5.0,0M312.3,704.4a2.5,2.5 0 1,0 5.0,0a2.5,2.5 0 1,0 -5.0,0M312.2,705.9a2.5,2.5 0 1,0 5.0,0a2.5,2.5 0 1,0 -5.0,0M314.8,703.3a2.5,2.5 0 1,0 5.0,0a2.5,2.5 0 1,0 -5.0,0M316.2,706.7a2.5,2.5 0 1,0 5.0,0a2.5,2.5 0 1,0 -5.0,0M317.8,703.9a2.5,2.5 0 1,0 5.0,0a2.5,2.5 0 1,0 -5.0,0M317.7,703.9a2.5,2.5 0 1,0 5.0,0a2.5,2.5 0 1,0 -5.0,0M319.2,689.3a2.5,2.5 0 1,0 5.0,0a2.5,2.5 0 1,0 -5.0,0M319.1,688.5a2.5,2.5 0 1,0 5.0,0a2.5,2.5 0 1,0 -5.0,0M319.9,685.7a2.5,2.5 0 1,0 5.0,0a2.5,2.5 0 1,0 -5.0,0M320.7,685.4a2.5,2.5 0 1,0 5.0,0a2.5,2.5 0 1,0 -5.0,0M321.1,689.3a2.5,2.5 0 1,0 5.0,0a2.5,2.5 0 1,0 -5.0,0M322.6,689.0a2.5,2.5 0 1,0 5.0,0a2.5,2.5 0 1,0 -5.0,0M322.5,692.3a2.5,2.5 0 1,0 5.0,0a2.5,2.5 0 1,0 -5.0,0M322.0,691.4a2.5,2.5 0 1,0 5.0,0a2.5,2.5 0 1,0 -5.0,0M324.6,690.0a2.5,2.5 0 1,0 5.0,0a2.5,2.5 0 1,0 -5.0,0M326.2,688.5a2.5,2.5 0 1,0 5.0,0a2.5,2.5 0 1,0 -5.0,0M327.6,690.4a2.5,2.5 0 1,0 5.0,0a2.5,2.5 0 1,0 -5.0,0M327.0,691.1a2.5,2.5 0 1,0 5.0,0a2.5,2.5 0 1,0 -5.0,0M328.0,693.3a2.5,2.5 0 1,0 5.0,0a2.5,2.5 0 1,0 -5.0,0M326.6,693.4a2.5,2.5 0 1,0 5.0,0a2.5,2.5 0 1,0 -5.0,0M328.3,690.5a2.5,2.5 0 1,0 5.0,0a2.5,2.5 0 1,0 -5.0,0M327.0,690.3a2.5,2.5 0 1,0 5.0,0a2.5,2.5 0 1,0 -5.0,0M326.4,687.8a2.5,2.5 0 1,0 5.0,0a2.5,2.5 0 1,0 -5.0,0M327.1,688.1a2.5,2.5 0 1,0 5.0,0a2.5,2.5 0 1,0 -5.0,0M326.4,685.8a2.5,2.5 0 1,0 5.0,0a2.5,2.5 0 1,0 -5.0,0M327.6,686.0a2.5,2.5 0 1,0 5.0,0a2.5,2.5 0 1,0 -5.0,0M327.4,684.2a2.5,2.5 0 1,0 5.0,0a2.5,2.5 0 1,0 -5.0,0M329.3,683.6a2.5,2.5 0 1,0 5.0,0a2.5,2.5 0 1,0 -5.0,0M328.5,680.8a2.5,2.5 0 1,0 5.0,0a2.5,2.5 0 1,0 -5.0,0M328.4,681.2a2.5,2.5 0 1,0 5.0,0a2.5,2.5 0 1,0 -5.0,0M328.3,677.8a2.5,2.5 0 1,0 5.0,0a2.5,2.5 0 1,0 -5.0,0M328.1,677.8a2.5,2.5 0 1,0 5.0,0a2.5,2.5 0 1,0 -5.0,0M330.1,674.3a2.5,2.5 0 1,0 5.0,0a2.5,2.5 0 1,0 -5.0,0M330.5,673.4a2.5,2.5 0 1,0 5.0,0a2.5,2.5 0 1,0 -5.0,0M330.8,677.8a2.5,2.5 0 1,0 5.0,0a2.5,2.5 0 1,0 -5.0,0M333.1,676.2a2.5,2.5 0 1,0 5.0,0a2.5,2.5 0 1,0 -5.0,0M332.7,680.2a2.5,2.5 0 1,0 5.0,0a2.5,2.5 0 1,0 -5.0,0M331.9,680.3a2.5,2.5 0 1,0 5.0,0a2.5,2.5 0 1,0 -5.0,0M331.9,683.1a2.5,2.5 0 1,0 5.0,0a2.5,2.5 0 1,0 -5.0,0M332.7,682.6a2.5,2.5 0 1,0 5.0,0a2.5,2.5 0 1,0 -5.0,0M333.5,684.4a2.5,2.5 0 1,0 5.0,0a2.5,2.5 0 1,0 -5.0,0M333.1,684.9a2.5,2.5 0 1,0 5.0,0a2.5,2.5 0 1,0 -5.0,0M335.4,683.2a2.5,2.5 0 1,0 5.0,0a2.5,2.5 0 1,0 -5.0,0M335.4,683.0a2.5,2.5 0 1,0 5.0,0a2.5,2.5 0 1,0 -5.0,0M334.0,680.1a2.5,2.5 0 1,0 5.0,0a2.5,2.5 0 1,0 -5.0,0M333.8,680.7a2.5,2.5 0 1,0 5.0,0a2.5,2.5 0 1,0 -5.0,0M335.8,678.2a2.5,2.5 0 1,0 5.0,0a2.5,2.5 0 1,0 -5.0,0M336.0,678.0a2.5,2.5 0 1,0 5.0,0a2.5,2.5 0 1,0 -5.0,0M334.8,676.1a2.5,2.5 0 1,0 5.0,0a2.5,2.5 0 1,0 -5.0,0M335.0,675.7a2.5,2.5 0 1,0 5.0,0a2.5,2.5 0 1,0 -5.0,0M336.6,674.1a2.5,2.5 0 1,0 5.0,0a2.5,2.5 0 1,0 -5.0,0M336.9,675.3a2.5,2.5 0 1,0 5.0,0a2.5,2.5 0 1,0 -5.0,0M339.7,673.6a2.5,2.5 0 1,0 5.0,0a2.5,2.5 0 1,0 -5.0,0M338.8,673.7a2.5,2.5 0 1,0 5.0,0a2.5,2.5 0 1,0 -5.0,0M341.6,676.7a2.5,2.5 0 1,0 5.0,0a2.5,2.5 0 1,0 -5.0,0M340.4,676.5a2.5,2.5 0 1,0 5.0,0a2.5,2.5 0 1,0 -5.0,0M342.4,678.2a2.5,2.5 0 1,0 5.0,0a2.5,2.5 0 1,0 -5.0,0M343.5,677.6a2.5,2.5 0 1,0 5.0,0a2.5,2.5 0 1,0 -5.0,0M343.5,680.1a2.5,2.5 0 1,0 5.0,0a2.5,2.5 0 1,0 -5.0,0M345.5,680.8a2.5,2.5 0 1,0 5.0,0a2.5,2.5 0 1,0 -5.0,0M343.9,676.7a2.5,2.5 0 1,0 5.0,0a2.5,2.5 0 1,0 -5.0,0M345.8,677.3a2.5,2.5 0 1,0 5.0,0a2.5,2.5 0 1,0 -5.0,0M347.0,673.5a2.5,2.5 0 1,0 5.0,0a2.5,2.5 0 1,0 -5.0,0M345.7,673.8a2.5,2.5 0 1,0 5.0,0a2.5,2.5 0 1,0 -5.0,0M347.5,676.5a2.5,2.5 0 1,0 5.0,0a2.5,2.5 0 1,0 -5.0,0M347.0,676.9a2.5,2.5 0 1,0 5.0,0a2.5,2.5 0 1,0 -5.0,0M347.5,679.4a2.5,2.5 0 1,0 5.0,0a2.5,2.5 0 1,0 -5.0,0M347.8,679.8a2.5,2.5 0 1,0 5.0,0a2.5,2.5 0 1,0 -5.0,0M348.7,684.0a2.5,2.5 0 1,0 5.0,0a2.5,2.5 0 1,0 -5.0,0M348.8,683.5a2.5,2.5 0 1,0 5.0,0a2.5,2.5 0 1,0 -5.0,0M351.4,686.7a2.5,2.5 0 1,0 5.0,0a2.5,2.5 0 1,0 -5.0,0M350.7,687.4a2.5,2.5 0 1,0 5.0,0a2.5,2.5 0 1,0 -5.0,0M351.1,689.8a2.5,2.5 0 1,0 5.0,0a2.5,2.5 0 1,0 -5.0,0M350.5,689.7a2.5,2.5 0 1,0 5.0,0a2.5,2.5 0 1,0 -5.0,0M351.2,692.0a2.5,2.5 0 1,0 5.0,0a2.5,2.5 0 1,0 -5.0,0M351.1,691.2a2.5,2.5 0 1,0 5.0,0a2.5,2.5 0 1,0 -5.0,0M350.8,694.7a2.5,2.5 0 1,0 5.0,0a2.5,2.5 0 1,0 -5.0,0M352.4,693.4a2.5,2.5 0 1,0 5.0,0a2.5,2.5 0 1,0 -5.0,0M353.3,695.3a2.5,2.5 0 1,0 5.0,0a2.5,2.5 0 1,0 -5.0,0M352.9,696.0a2.5,2.5 0 1,0 5.0,0a2.5,2.5 0 1,0 -5.0,0M353.7,693.5a2.5,2.5 0 1,0 5.0,0a2.5,2.5 0 1,0 -5.0,0M353.8,693.4a2.5,2.5 0 1,0 5.0,0a2.5,2.5 0 1,0 -5.0,0M357.3,692.1a2.5,2.5 0 1,0 5.0,0a2.5,2.5 0 1,0 -5.0,0M357.3,693.2a2.5,2.5 0 1,0 5.0,0a2.5,2.5 0 1,0 -5.0,0M358.8,689.9a2.5,2.5 0 1,0 5.0,0a2.5,2.5 0 1,0 -5.0,0M357.6,689.4a2.5,2.5 0 1,0 5.0,0a2.5,2.5 0 1,0 -5.0,0M359.3,687.1a2.5,2.5 0 1,0 5.0,0a2.5,2.5 0 1,0 -5.0,0M361.0,687.9a2.5,2.5 0 1,0 5.0,0a2.5,2.5 0 1,0 -5.0,0M363.4,685.6a2.5,2.5 0 1,0 5.0,0a2.5,2.5 0 1,0 -5.0,0M363.2,686.0a2.5,2.5 0 1,0 5.0,0a2.5,2.5 0 1,0 -5.0,0M364.2,684.0a2.5,2.5 0 1,0 5.0,0a2.5,2.5 0 1,0 -5.0,0M365.6,683.5a2.5,2.5 0 1,0 5.0,0a2.5,2.5 0 1,0 -5.0,0M365.6,681.2a2.5,2.5 0 1,0 5.0,0a2.5,2.5 0 1,0 -5.0,0M363.6,681.0a2.5,2.5 0 1,0 5.0,0a2.5,2.5 0 1,0 -5.0,0M365.1,678.4a2.5,2.5 0 1,0 5.0,0a2.5,2.5 0 1,0 -5.0,0M366.0,678.8a2.5,2.5 0 1,0 5.0,0a2.5,2.5 0 1,0 -5.0,0M367.4,677.1a2.5,2.5 0 1,0 5.0,0a2.5,2.5 0 1,0 -5.0,0M367.0,676.7a2.5,2.5 0 1,0 5.0,0a2.5,2.5 0 1,0 -5.0,0M366.4,674.2a2.5,2.5 0 1,0 5.0,0a2.5,2.5 0 1,0 -5.0,0M364.8,674.2a2.5,2.5 0 1,0 5.0,0a2.5,2.5 0 1,0 -5.0,0M365.9,677.2a2.5,2.5 0 1,0 5.0,0a2.5,2.5 0 1,0 -5.0,0M368.2,676.8a2.5,2.5 0 1,0 5.0,0a2.5,2.5 0 1,0 -5.0,0M366.3,680.2a2.5,2.5 0 1,0 5.0,0a2.5,2.5 0 1,0 -5.0,0M365.6,680.8a2.5,2.5 0 1,0 5.0,0a2.5,2.5 0 1,0 -5.0,0M369.9,681.3a2.5,2.5 0 1,0 5.0,0a2.5,2.5 0 1,0 -5.0,0M367.0,683.0a2.5,2.5 0 1,0 5.0,0a2.5,2.5 0 1,0 -5.0,0M369.8,683.1a2.5,2.5 0 1,0 5.0,0a2.5,2.5 0 1,0 -5.0,0M370.6,683.7a2.5,2.5 0 1,0 5.0,0a2.5,2.5 0 1,0 -5.0,0M372.1,686.3a2.5,2.5 0 1,0 5.0,0a2.5,2.5 0 1,0 -5.0,0M371.5,686.6a2.5,2.5 0 1,0 5.0,0a2.5,2.5 0 1,0 -5.0,0M372.2,688.9a2.5,2.5 0 1,0 5.0,0a2.5,2.5 0 1,0 -5.0,0M371.7,689.1a2.5,2.5 0 1,0 5.0,0a2.5,2.5 0 1,0 -5.0,0M372.0,690.0a2.5,2.5 0 1,0 5.0,0a2.5,2.5 0 1,0 -5.0,0M374.3,691.7a2.5,2.5 0 1,0 5.0,0a2.5,2.5 0 1,0 -5.0,0M376.3,688.7a2.5,2.5 0 1,0 5.0,0a2.5,2.5 0 1,0 -5.0,0M376.3,688.8a2.5,2.5 0 1,0 5.0,0a2.5,2.5 0 1,0 -5.0,0M376.4,684.8a2.5,2.5 0 1,0 5.0,0a2.5,2.5 0 1,0 -5.0,0M375.5,684.7a2.5,2.5 0 1,0 5.0,0a2.5,2.5 0 1,0 -5.0,0M378.1,682.0a2.5,2.5 0 1,0 5.0,0a2.5,2.5 0 1,0 -5.0,0M378.7,682.5a2.5,2.5 0 1,0 5.0,0a2.5,2.5 0 1,0 -5.0,0M379.2,680.8a2.5,2.5 0 1,0 5.0,0a2.5,2.5 0 1,0 -5.0,0M379.7,680.7a2.5,2.5 0 1,0 5.0,0a2.5,2.5 0 1,0 -5.0,0M378.5,677.0a2.5,2.5 0 1,0 5.0,0a2.5,2.5 0 1,0 -5.0,0M380.1,678.2a2.5,2.5 0 1,0 5.0,0a2.5,2.5 0 1,0 -5.0,0M382.5,675.3a2.5,2.5 0 1,0 5.0,0a2.5,2.5 0 1,0 -5.0,0M382.5,675.9a2.5,2.5 0 1,0 5.0,0a2.5,2.5 0 1,0 -5.0,0M382.0,678.8a2.5,2.5 0 1,0 5.0,0a2.5,2.5 0 1,0 -5.0,0M381.7,678.4a2.5,2.5 0 1,0 5.0,0a2.5,2.5 0 1,0 -5.0,0M381.8,680.8a2.5,2.5 0 1,0 5.0,0a2.5,2.5 0 1,0 -5.0,0M383.2,680.7a2.5,2.5 0 1,0 5.0,0a2.5,2.5 0 1,0 -5.0,0M384.8,682.2a2.5,2.5 0 1,0 5.0,0a2.5,2.5 0 1,0 -5.0,0M384.0,682.2a2.5,2.5 0 1,0 5.0,0a2.5,2.5 0 1,0 -5.0,0M384.3,685.1a2.5,2.5 0 1,0 5.0,0a2.5,2.5 0 1,0 -5.0,0M385.5,685.3a2.5,2.5 0 1,0 5.0,0a2.5,2.5 0 1,0 -5.0,0M383.8,682.5a2.5,2.5 0 1,0 5.0,0a2.5,2.5 0 1,0 -5.0,0M384.6,682.8a2.5,2.5 0 1,0 5.0,0a2.5,2.5 0 1,0 -5.0,0M384.9,679.9a2.5,2.5 0 1,0 5.0,0a2.5,2.5 0 1,0 -5.0,0M386.6,680.7a2.5,2.5 0 1,0 5.0,0a2.5,2.5 0 1,0 -5.0,0M384.1,677.7a2.5,2.5 0 1,0 5.0,0a2.5,2.5 0 1,0 -5.0,0M384.2,677.7a2.5,2.5 0 1,0 5.0,0a2.5,2.5 0 1,0 -5.0,0M385.0,675.4a2.5,2.5 0 1,0 5.0,0a2.5,2.5 0 1,0 -5.0,0M384.4,675.4a2.5,2.5 0 1,0 5.0,0a2.5,2.5 0 1,0 -5.0,0M386.6,672.5a2.5,2.5 0 1,0 5.0,0a2.5,2.5 0 1,0 -5.0,0M384.8,672.3a2.5,2.5 0 1,0 5.0,0a2.5,2.5 0 1,0 -5.0,0M386.7,670.9a2.5,2.5 0 1,0 5.0,0a2.5,2.5 0 1,0 -5.0,0M386.8,670.4a2.5,2.5 0 1,0 5.0,0a2.5,2.5 0 1,0 -5.0,0M386.2,668.0a2.5,2.5 0 1,0 5.0,0a2.5,2.5 0 1,0 -5.0,0M385.5,668.5a2.5,2.5 0 1,0 5.0,0a2.5,2.5 0 1,0 -5.0,0M388.6,669.9a2.5,2.5 0 1,0 5.0,0a2.5,2.5 0 1,0 -5.0,0M388.4,670.4a2.5,2.5 0 1,0 5.0,0a2.5,2.5 0 1,0 -5.0,0M388.3,671.9a2.5,2.5 0 1,0 5.0,0a2.5,2.5 0 1,0 -5.0,0M389.0,672.4a2.5,2.5 0 1,0 5.0,0a2.5,2.5 0 1,0 -5.0,0M390.0,674.0a2.5,2.5 0 1,0 5.0,0a2.5,2.5 0 1,0 -5.0,0M389.7,674.2a2.5,2.5 0 1,0 5.0,0a2.5,2.5 0 1,0 -5.0,0M393.4,675.3a2.5,2.5 0 1,0 5.0,0a2.5,2.5 0 1,0 -5.0,0M393.1,675.8a2.5,2.5 0 1,0 5.0,0a2.5,2.5 0 1,0 -5.0,0M392.8,679.2a2.5,2.5 0 1,0 5.0,0a2.5,2.5 0 1,0 -5.0,0M394.4,677.3a2.5,2.5 0 1,0 5.0,0a2.5,2.5 0 1,0 -5.0,0M395.8,681.0a2.5,2.5 0 1,0 5.0,0a2.5,2.5 0 1,0 -5.0,0M396.5,681.0a2.5,2.5 0 1,0 5.0,0a2.5,2.5 0 1,0 -5.0,0M400.1,678.2a2.5,2.5 0 1,0 5.0,0a2.5,2.5 0 1,0 -5.0,0M400.1,678.8a2.5,2.5 0 1,0 5.0,0a2.5,2.5 0 1,0 -5.0,0M400.0,675.0a2.5,2.5 0 1,0 5.0,0a2.5,2.5 0 1,0 -5.0,0M400.5,676.1a2.5,2.5 0 1,0 5.0,0a2.5,2.5 0 1,0 -5.0,0M402.5,674.5a2.5,2.5 0 1,0 5.0,0a2.5,2.5 0 1,0 -5.0,0M404.0,673.3a2.5,2.5 0 1,0 5.0,0a2.5,2.5 0 1,0 -5.0,0M403.3,677.4a2.5,2.5 0 1,0 5.0,0a2.5,2.5 0 1,0 -5.0,0M403.6,677.9a2.5,2.5 0 1,0 5.0,0a2.5,2.5 0 1,0 -5.0,0M406.8,680.1a2.5,2.5 0 1,0 5.0,0a2.5,2.5 0 1,0 -5.0,0M407.1,679.8a2.5,2.5 0 1,0 5.0,0a2.5,2.5 0 1,0 -5.0,0M408.4,681.9a2.5,2.5 0 1,0 5.0,0a2.5,2.5 0 1,0 -5.0,0M407.5,681.8a2.5,2.5 0 1,0 5.0,0a2.5,2.5 0 1,0 -5.0,0M409.2,684.6a2.5,2.5 0 1,0 5.0,0a2.5,2.5 0 1,0 -5.0,0M410.2,684.6a2.5,2.5 0 1,0 5.0,0a2.5,2.5 0 1,0 -5.0,0M409.3,688.5a2.5,2.5 0 1,0 5.0,0a2.5,2.5 0 1,0 -5.0,0M409.9,688.2a2.5,2.5 0 1,0 5.0,0a2.5,2.5 0 1,0 -5.0,0M346.5,667.0a2.5,2.5 0 1,0 5.0,0a2.5,2.5 0 1,0 -5.0,0M355.5,702.0a2.5,2.5 0 1,0 5.0,0a2.5,2.5 0 1,0 -5.0,0M406.5,693.0a2.5,2.5 0 1,0 5.0,0a2.5,2.5 0 1,0 -5.0,0M411.5,689.0a2.5,2.5 0 1,0 5.0,0a2.5,2.5 0 1,0 -5.0,0M412.5,678.0a2.5,2.5 0 1,0 5.0,0a2.5,2.5 0 1,0 -5.0,0M409.5,669.0a2.5,2.5 0 1,0 5.0,0a2.5,2.5 0 1,0 -5.0,0M409.5,661.0a2.5,2.5 0 1,0 5.0,0a2.5,2.5 0 1,0 -5.0,0M414.5,640.0a2.5,2.5 0 1,0 5.0,0a2.5,2.5 0 1,0 -5.0,0M414.5,645.0a2.5,2.5 0 1,0 5.0,0a2.5,2.5 0 1,0 -5.0,0M415.5,652.0a2.5,2.5 0 1,0 5.0,0a2.5,2.5 0 1,0 -5.0,0M416.5,662.0a2.5,2.5 0 1,0 5.0,0a2.5,2.5 0 1,0 -5.0,0M414.5,640.0a2.5,2.5 0 1,0 5.0,0a2.5,2.5 0 1,0 -5.0,0M415.5,643.0a2.5,2.5 0 1,0 5.0,0a2.5,2.5 0 1,0 -5.0,0M417.5,645.0a2.5,2.5 0 1,0 5.0,0a2.5,2.5 0 1,0 -5.0,0M415.5,648.0a2.5,2.5 0 1,0 5.0,0a2.5,2.5 0 1,0 -5.0,0M422.5,648.0a2.5,2.5 0 1,0 5.0,0a2.5,2.5 0 1,0 -5.0,0M415.5,653.0a2.5,2.5 0 1,0 5.0,0a2.5,2.5 0 1,0 -5.0,0M421.5,655.0a2.5,2.5 0 1,0 5.0,0a2.5,2.5 0 1,0 -5.0,0M420.5,660.0a2.5,2.5 0 1,0 5.0,0a2.5,2.5 0 1,0 -5.0,0M418.5,662.0a2.5,2.5 0 1,0 5.0,0a2.5,2.5 0 1,0 -5.0,0M409.5,661.0a2.5,2.5 0 1,0 5.0,0a2.5,2.5 0 1,0 -5.0,0M409.5,669.0a2.5,2.5 0 1,0 5.0,0a2.5,2.5 0 1,0 -5.0,0M420.5,666.0a2.5,2.5 0 1,0 5.0,0a2.5,2.5 0 1,0 -5.0,0M420.5,673.0a2.5,2.5 0 1,0 5.0,0a2.5,2.5 0 1,0 -5.0,0M422.5,675.0a2.5,2.5 0 1,0 5.0,0a2.5,2.5 0 1,0 -5.0,0M419.5,677.0a2.5,2.5 0 1,0 5.0,0a2.5,2.5 0 1,0 -5.0,0M412.5,676.0a2.5,2.5 0 1,0 5.0,0a2.5,2.5 0 1,0 -5.0,0M411.5,679.0a2.5,2.5 0 1,0 5.0,0a2.5,2.5 0 1,0 -5.0,0M408.5,682.0a2.5,2.5 0 1,0 5.0,0a2.5,2.5 0 1,0 -5.0,0M409.5,686.0a2.5,2.5 0 1,0 5.0,0a2.5,2.5 0 1,0 -5.0,0M410.5,690.0a2.5,2.5 0 1,0 5.0,0a2.5,2.5 0 1,0 -5.0,0M408.5,692.0a2.5,2.5 0 1,0 5.0,0a2.5,2.5 0 1,0 -5.0,0M424.5,682.0a2.5,2.5 0 1,0 5.0,0a2.5,2.5 0 1,0 -5.0,0M426.5,685.0a2.5,2.5 0 1,0 5.0,0a2.5,2.5 0 1,0 -5.0,0M429.5,688.0a2.5,2.5 0 1,0 5.0,0a2.5,2.5 0 1,0 -5.0,0M430.5,676.0a2.5,2.5 0 1,0 5.0,0a2.5,2.5 0 1,0 -5.0,0M427.5,666.0a2.5,2.5 0 1,0 5.0,0a2.5,2.5 0 1,0 -5.0,0M429.5,663.0a2.5,2.5 0 1,0 5.0,0a2.5,2.5 0 1,0 -5.0,0M431.5,654.0a2.5,2.5 0 1,0 5.0,0a2.5,2.5 0 1,0 -5.0,0M433.5,658.0a2.5,2.5 0 1,0 5.0,0a2.5,2.5 0 1,0 -5.0,0M434.5,662.0a2.5,2.5 0 1,0 5.0,0a2.5,2.5 0 1,0 -5.0,0M436.5,664.0a2.5,2.5 0 1,0 5.0,0a2.5,2.5 0 1,0 -5.0,0M438.5,666.0a2.5,2.5 0 1,0 5.0,0a2.5,2.5 0 1,0 -5.0,0M439.5,660.0a2.5,2.5 0 1,0 5.0,0a2.5,2.5 0 1,0 -5.0,0M441.5,654.0a2.5,2.5 0 1,0 5.0,0a2.5,2.5 0 1,0 -5.0,0M443.5,657.0a2.5,2.5 0 1,0 5.0,0a2.5,2.5 0 1,0 -5.0,0M444.5,660.0a2.5,2.5 0 1,0 5.0,0a2.5,2.5 0 1,0 -5.0,0M445.5,663.0a2.5,2.5 0 1,0 5.0,0a2.5,2.5 0 1,0 -5.0,0M442.5,662.0a2.5,2.5 0 1,0 5.0,0a2.5,2.5 0 1,0 -5.0,0M453.5,609.0a2.5,2.5 0 1,0 5.0,0a2.5,2.5 0 1,0 -5.0,0M467.5,610.0a2.5,2.5 0 1,0 5.0,0a2.5,2.5 0 1,0 -5.0,0M467.5,622.0a2.5,2.5 0 1,0 5.0,0a2.5,2.5 0 1,0 -5.0,0M466.5,630.0a2.5,2.5 0 1,0 5.0,0a2.5,2.5 0 1,0 -5.0,0M453.5,631.0a2.5,2.5 0 1,0 5.0,0a2.5,2.5 0 1,0 -5.0,0M458.5,640.0a2.5,2.5 0 1,0 5.0,0a2.5,2.5 0 1,0 -5.0,0M455.5,646.0a2.5,2.5 0 1,0 5.0,0a2.5,2.5 0 1,0 -5.0,0M457.5,648.0a2.5,2.5 0 1,0 5.0,0a2.5,2.5 0 1,0 -5.0,0M460.5,647.0a2.5,2.5 0 1,0 5.0,0a2.5,2.5 0 1,0 -5.0,0M465.5,649.0a2.5,2.5 0 1,0 5.0,0a2.5,2.5 0 1,0 -5.0,0M454.5,653.0a2.5,2.5 0 1,0 5.0,0a2.5,2.5 0 1,0 -5.0,0M458.5,653.0a2.5,2.5 0 1,0 5.0,0a2.5,2.5 0 1,0 -5.0,0M461.5,656.0a2.5,2.5 0 1,0 5.0,0a2.5,2.5 0 1,0 -5.0,0M464.5,655.0a2.5,2.5 0 1,0 5.0,0a2.5,2.5 0 1,0 -5.0,0M463.5,658.0a2.5,2.5 0 1,0 5.0,0a2.5,2.5 0 1,0 -5.0,0M455.5,660.0a2.5,2.5 0 1,0 5.0,0a2.5,2.5 0 1,0 -5.0,0M456.5,664.0a2.5,2.5 0 1,0 5.0,0a2.5,2.5 0 1,0 -5.0,0M457.5,666.0a2.5,2.5 0 1,0 5.0,0a2.5,2.5 0 1,0 -5.0,0M482.5,600.0a2.5,2.5 0 1,0 5.0,0a2.5,2.5 0 1,0 -5.0,0M485.5,601.0a2.5,2.5 0 1,0 5.0,0a2.5,2.5 0 1,0 -5.0,0M486.5,609.0a2.5,2.5 0 1,0 5.0,0a2.5,2.5 0 1,0 -5.0,0M484.5,612.0a2.5,2.5 0 1,0 5.0,0a2.5,2.5 0 1,0 -5.0,0M490.5,615.0a2.5,2.5 0 1,0 5.0,0a2.5,2.5 0 1,0 -5.0,0M509.5,613.0a2.5,2.5 0 1,0 5.0,0a2.5,2.5 0 1,0 -5.0,0M441.5,654.0a2.5,2.5 0 1,0 5.0,0a2.5,2.5 0 1,0 -5.0,0M442.8,659.3a2.5,2.5 0 1,0 5.0,0a2.5,2.5 0 1,0 -5.0,0M438.8,664.7a2.5,2.5 0 1,0 5.0,0a2.5,2.5 0 1,0 -5.0,0M445.5,663.3a2.5,2.5 0 1,0 5.0,0a2.5,2.5 0 1,0 -5.0,0M453.5,608.7a2.5,2.5 0 1,0 5.0,0a2.5,2.5 0 1,0 -5.0,0M453.5,631.3a2.5,2.5 0 1,0 5.0,0a2.5,2.5 0 1,0 -5.0,0M453.5,652.7a2.5,2.5 0 1,0 5.0,0a2.5,2.5 0 1,0 -5.0,0M454.8,660.7a2.5,2.5 0 1,0 5.0,0a2.5,2.5 0 1,0 -5.0,0M457.5,666.0a2.5,2.5 0 1,0 5.0,0a2.5,2.5 0 1,0 -5.0,0M458.8,640.7a2.5,2.5 0 1,0 5.0,0a2.5,2.5 0 1,0 -5.0,0M456.2,646.0a2.5,2.5 0 1,0 5.0,0a2.5,2.5 0 1,0 -5.0,0M460.2,647.3a2.5,2.5 0 1,0 5.0,0a2.5,2.5 0 1,0 -5.0,0M462.8,650.0a2.5,2.5 0 1,0 5.0,0a2.5,2.5 0 1,0 -5.0,0M465.5,650.0a2.5,2.5 0 1,0 5.0,0a2.5,2.5 0 1,0 -5.0,0M462.8,656.7a2.5,2.5 0 1,0 5.0,0a2.5,2.5 0 1,0 -5.0,0M466.8,631.3a2.5,2.5 0 1,0 5.0,0a2.5,2.5 0 1,0 -5.0,0M466.8,622.0a2.5,2.5 0 1,0 5.0,0a2.5,2.5 0 1,0 -5.0,0M468.2,610.0a2.5,2.5 0 1,0 5.0,0a2.5,2.5 0 1,0 -5.0,0M470.8,594.0a2.5,2.5 0 1,0 5.0,0a2.5,2.5 0 1,0 -5.0,0M481.5,588.7a2.5,2.5 0 1,0 5.0,0a2.5,2.5 0 1,0 -5.0,0M482.8,592.7a2.5,2.5 0 1,0 5.0,0a2.5,2.5 0 1,0 -5.0,0M484.2,599.3a2.5,2.5 0 1,0 5.0,0a2.5,2.5 0 1,0 -5.0,0M481.5,599.3a2.5,2.5 0 1,0 5.0,0a2.5,2.5 0 1,0 -5.0,0M486.8,582.0a2.5,2.5 0 1,0 5.0,0a2.5,2.5 0 1,0 -5.0,0M485.5,608.7a2.5,2.5 0 1,0 5.0,0a2.5,2.5 0 1,0 -5.0,0M484.2,611.3a2.5,2.5 0 1,0 5.0,0a2.5,2.5 0 1,0 -5.0,0M490.8,614.0a2.5,2.5 0 1,0 5.0,0a2.5,2.5 0 1,0 -5.0,0M490.8,595.3a2.5,2.5 0 1,0 5.0,0a2.5,2.5 0 1,0 -5.0,0M494.8,588.7a2.5,2.5 0 1,0 5.0,0a2.5,2.5 0 1,0 -5.0,0M496.2,583.3a2.5,2.5 0 1,0 5.0,0a2.5,2.5 0 1,0 -5.0,0M497.5,578.8a2.5,2.5 0 1,0 5.0,0a2.5,2.5 0 1,0 -5.0,0M502.8,587.3a2.5,2.5 0 1,0 5.0,0a2.5,2.5 0 1,0 -5.0,0M502.8,579.3a2.5,2.5 0 1,0 5.0,0a2.5,2.5 0 1,0 -5.0,0M506.8,578.0a2.5,2.5 0 1,0 5.0,0a2.5,2.5 0 1,0 -5.0,0M508.2,587.3a2.5,2.5 0 1,0 5.0,0a2.5,2.5 0 1,0 -5.0,0M509.5,612.7a2.5,2.5 0 1,0 5.0,0a2.5,2.5 0 1,0 -5.0,0M510.8,594.0a2.5,2.5 0 1,0 5.0,0a2.5,2.5 0 1,0 -5.0,0M510.8,576.0a2.5,2.5 0 1,0 5.0,0a2.5,2.5 0 1,0 -5.0,0M518.8,578.0a2.5,2.5 0 1,0 5.0,0a2.5,2.5 0 1,0 -5.0,0M522.8,579.3a2.5,2.5 0 1,0 5.0,0a2.5,2.5 0 1,0 -5.0,0M522.8,595.3a2.5,2.5 0 1,0 5.0,0a2.5,2.5 0 1,0 -5.0,0M540.2,584.7a2.5,2.5 0 1,0 5.0,0a2.5,2.5 0 1,0 -5.0,0M542.8,584.7a2.5,2.5 0 1,0 5.0,0a2.5,2.5 0 1,0 -5.0,0M542.8,600.7a2.5,2.5 0 1,0 5.0,0a2.5,2.5 0 1,0 -5.0,0M540.2,627.3a2.5,2.5 0 1,0 5.0,0a2.5,2.5 0 1,0 -5.0,0M541.5,635.3a2.5,2.5 0 1,0 5.0,0a2.5,2.5 0 1,0 -5.0,0M548.2,646.0a2.5,2.5 0 1,0 5.0,0a2.5,2.5 0 1,0 -5.0,0M545.5,652.7a2.5,2.5 0 1,0 5.0,0a2.5,2.5 0 1,0 -5.0,0M546.8,658.0a2.5,2.5 0 1,0 5.0,0a2.5,2.5 0 1,0 -5.0,0M544.2,659.3a2.5,2.5 0 1,0 5.0,0a2.5,2.5 0 1,0 -5.0,0M550.8,656.7a2.5,2.5 0 1,0 5.0,0a2.5,2.5 0 1,0 -5.0,0M549.5,616.7a2.5,2.5 0 1,0 5.0,0a2.5,2.5 0 1,0 -5.0,0M550.8,623.3a2.5,2.5 0 1,0 5.0,0a2.5,2.5 0 1,0 -5.0,0M552.2,580.7a2.5,2.5 0 1,0 5.0,0a2.5,2.5 0 1,0 -5.0,0M554.8,586.0a2.5,2.5 0 1,0 5.0,0a2.5,2.5 0 1,0 -5.0,0M554.8,592.7a2.5,2.5 0 1,0 5.0,0a2.5,2.5 0 1,0 -5.0,0M558.8,608.7a2.5,2.5 0 1,0 5.0,0a2.5,2.5 0 1,0 -5.0,0M560.2,614.0a2.5,2.5 0 1,0 5.0,0a2.5,2.5 0 1,0 -5.0,0M562.8,588.7a2.5,2.5 0 1,0 5.0,0a2.5,2.5 0 1,0 -5.0,0M564.2,595.3a2.5,2.5 0 1,0 5.0,0a2.5,2.5 0 1,0 -5.0,0M564.2,600.7a2.5,2.5 0 1,0 5.0,0a2.5,2.5 0 1,0 -5.0,0M561.5,606.0a2.5,2.5 0 1,0 5.0,0a2.5,2.5 0 1,0 -5.0,0M565.5,607.3a2.5,2.5 0 1,0 5.0,0a2.5,2.5 0 1,0 -5.0,0M568.2,602.0a2.5,2.5 0 1,0 5.0,0a2.5,2.5 0 1,0 -5.0,0M568.2,610.0a2.5,2.5 0 1,0 5.0,0a2.5,2.5 0 1,0 -5.0,0M570.8,615.3a2.5,2.5 0 1,0 5.0,0a2.5,2.5 0 1,0 -5.0,0M581.5,587.3a2.5,2.5 0 1,0 5.0,0a2.5,2.5 0 1,0 -5.0,0M582.8,590.0a2.5,2.5 0 1,0 5.0,0a2.5,2.5 0 1,0 -5.0,0M581.5,598.0a2.5,2.5 0 1,0 5.0,0a2.5,2.5 0 1,0 -5.0,0M584.2,600.7a2.5,2.5 0 1,0 5.0,0a2.5,2.5 0 1,0 -5.0,0M581.5,606.0a2.5,2.5 0 1,0 5.0,0a2.5,2.5 0 1,0 -5.0,0M585.5,611.3a2.5,2.5 0 1,0 5.0,0a2.5,2.5 0 1,0 -5.0,0M588.2,578.0a2.5,2.5 0 1,0 5.0,0a2.5,2.5 0 1,0 -5.0,0M590.8,580.7a2.5,2.5 0 1,0 5.0,0a2.5,2.5 0 1,0 -5.0,0M592.2,586.0a2.5,2.5 0 1,0 5.0,0a2.5,2.5 0 1,0 -5.0,0M592.2,594.0a2.5,2.5 0 1,0 5.0,0a2.5,2.5 0 1,0 -5.0,0M589.5,575.3a2.5,2.5 0 1,0 5.0,0a2.5,2.5 0 1,0 -5.0,0M549.2,647.5a2.5,2.5 0 1,0 5.0,0a2.5,2.5 0 1,0 -5.0,0M545.0,652.5a2.5,2.5 0 1,0 5.0,0a2.5,2.5 0 1,0 -5.0,0M543.3,658.3a2.5,2.5 0 1,0 5.0,0a2.5,2.5 0 1,0 -5.0,0M546.7,657.5a2.5,2.5 0 1,0 5.0,0a2.5,2.5 0 1,0 -5.0,0M550.8,656.7a2.5,2.5 0 1,0 5.0,0a2.5,2.5 0 1,0 -5.0,0M547.5,655.0a2.5,2.5 0 1,0 5.0,0a2.5,2.5 0 1,0 -5.0,0M540.8,627.5a2.5,2.5 0 1,0 5.0,0a2.5,2.5 0 1,0 -5.0,0M541.7,635.8a2.5,2.5 0 1,0 5.0,0a2.5,2.5 0 1,0 -5.0,0M550.8,615.8a2.5,2.5 0 1,0 5.0,0a2.5,2.5 0 1,0 -5.0,0M550.0,617.5a2.5,2.5 0 1,0 5.0,0a2.5,2.5 0 1,0 -5.0,0M551.7,623.3a2.5,2.5 0 1,0 5.0,0a2.5,2.5 0 1,0 -5.0,0M542.5,600.8a2.5,2.5 0 1,0 5.0,0a2.5,2.5 0 1,0 -5.0,0M540.8,584.2a2.5,2.5 0 1,0 5.0,0a2.5,2.5 0 1,0 -5.0,0M510.0,613.3a2.5,2.5 0 1,0 5.0,0a2.5,2.5 0 1,0 -5.0,0M510.8,594.2a2.5,2.5 0 1,0 5.0,0a2.5,2.5 0 1,0 -5.0,0M523.3,595.8a2.5,2.5 0 1,0 5.0,0a2.5,2.5 0 1,0 -5.0,0M503.3,587.5a2.5,2.5 0 1,0 5.0,0a2.5,2.5 0 1,0 -5.0,0M507.5,588.3a2.5,2.5 0 1,0 5.0,0a2.5,2.5 0 1,0 -5.0,0M554.2,594.2a2.5,2.5 0 1,0 5.0,0a2.5,2.5 0 1,0 -5.0,0M555.0,590.8a2.5,2.5 0 1,0 5.0,0a2.5,2.5 0 1,0 -5.0,0M556.7,585.0a2.5,2.5 0 1,0 5.0,0a2.5,2.5 0 1,0 -5.0,0M552.5,581.7a2.5,2.5 0 1,0 5.0,0a2.5,2.5 0 1,0 -5.0,0M562.5,589.2a2.5,2.5 0 1,0 5.0,0a2.5,2.5 0 1,0 -5.0,0M564.2,595.0a2.5,2.5 0 1,0 5.0,0a2.5,2.5 0 1,0 -5.0,0M563.3,597.5a2.5,2.5 0 1,0 5.0,0a2.5,2.5 0 1,0 -5.0,0M565.0,601.7a2.5,2.5 0 1,0 5.0,0a2.5,2.5 0 1,0 -5.0,0M568.3,602.5a2.5,2.5 0 1,0 5.0,0a2.5,2.5 0 1,0 -5.0,0M560.8,606.7a2.5,2.5 0 1,0 5.0,0a2.5,2.5 0 1,0 -5.0,0M560.0,610.8a2.5,2.5 0 1,0 5.0,0a2.5,2.5 0 1,0 -5.0,0M559.2,614.2a2.5,2.5 0 1,0 5.0,0a2.5,2.5 0 1,0 -5.0,0M565.8,609.2a2.5,2.5 0 1,0 5.0,0a2.5,2.5 0 1,0 -5.0,0M568.3,610.0a2.5,2.5 0 1,0 5.0,0a2.5,2.5 0 1,0 -5.0,0M569.2,613.3a2.5,2.5 0 1,0 5.0,0a2.5,2.5 0 1,0 -5.0,0M570.8,615.8a2.5,2.5 0 1,0 5.0,0a2.5,2.5 0 1,0 -5.0,0M582.5,587.5a2.5,2.5 0 1,0 5.0,0a2.5,2.5 0 1,0 -5.0,0M583.3,590.8a2.5,2.5 0 1,0 5.0,0a2.5,2.5 0 1,0 -5.0,0M581.7,596.7a2.5,2.5 0 1,0 5.0,0a2.5,2.5 0 1,0 -5.0,0M584.2,599.2a2.5,2.5 0 1,0 5.0,0a2.5,2.5 0 1,0 -5.0,0M585.8,601.7a2.5,2.5 0 1,0 5.0,0a2.5,2.5 0 1,0 -5.0,0M580.8,605.8a2.5,2.5 0 1,0 5.0,0a2.5,2.5 0 1,0 -5.0,0M584.2,605.8a2.5,2.5 0 1,0 5.0,0a2.5,2.5 0 1,0 -5.0,0M585.8,611.7a2.5,2.5 0 1,0 5.0,0a2.5,2.5 0 1,0 -5.0,0M590.8,586.7a2.5,2.5 0 1,0 5.0,0a2.5,2.5 0 1,0 -5.0,0M592.5,593.3a2.5,2.5 0 1,0 5.0,0a2.5,2.5 0 1,0 -5.0,0M588.3,581.7a2.5,2.5 0 1,0 5.0,0a2.5,2.5 0 1,0 -5.0,0M593.3,582.5a2.5,2.5 0 1,0 5.0,0a2.5,2.5 0 1,0 -5.0,0M76.5,809.0a2.5,2.5 0 1,0 5.0,0a2.5,2.5 0 1,0 -5.0,0M77.5,813.0a2.5,2.5 0 1,0 5.0,0a2.5,2.5 0 1,0 -5.0,0M80.5,802.0a2.5,2.5 0 1,0 5.0,0a2.5,2.5 0 1,0 -5.0,0M81.5,808.0a2.5,2.5 0 1,0 5.0,0a2.5,2.5 0 1,0 -5.0,0M82.5,812.0a2.5,2.5 0 1,0 5.0,0a2.5,2.5 0 1,0 -5.0,0M79.5,818.0a2.5,2.5 0 1,0 5.0,0a2.5,2.5 0 1,0 -5.0,0M82.5,822.0a2.5,2.5 0 1,0 5.0,0a2.5,2.5 0 1,0 -5.0,0M85.5,811.0a2.5,2.5 0 1,0 5.0,0a2.5,2.5 0 1,0 -5.0,0M86.5,816.0a2.5,2.5 0 1,0 5.0,0a2.5,2.5 0 1,0 -5.0,0M88.5,820.0a2.5,2.5 0 1,0 5.0,0a2.5,2.5 0 1,0 -5.0,0M89.5,823.0a2.5,2.5 0 1,0 5.0,0a2.5,2.5 0 1,0 -5.0,0M91.5,810.0a2.5,2.5 0 1,0 5.0,0a2.5,2.5 0 1,0 -5.0,0M92.5,815.0a2.5,2.5 0 1,0 5.0,0a2.5,2.5 0 1,0 -5.0,0M90.5,818.0a2.5,2.5 0 1,0 5.0,0a2.5,2.5 0 1,0 -5.0,0M78.5,806.0a2.5,2.5 0 1,0 5.0,0a2.5,2.5 0 1,0 -5.0,0M84.5,814.0a2.5,2.5 0 1,0 5.0,0a2.5,2.5 0 1,0 -5.0,0M87.5,813.0a2.5,2.5 0 1,0 5.0,0a2.5,2.5 0 1,0 -5.0,0M94.4,777.1a2.5,2.5 0 1,0 5.0,0a2.5,2.5 0 1,0 -5.0,0M93.7,778.9a2.5,2.5 0 1,0 5.0,0a2.5,2.5 0 1,0 -5.0,0M97.8,778.6a2.5,2.5 0 1,0 5.0,0a2.5,2.5 0 1,0 -5.0,0M97.5,779.4a2.5,2.5 0 1,0 5.0,0a2.5,2.5 0 1,0 -5.0,0M98.7,782.0a2.5,2.5 0 1,0 5.0,0a2.5,2.5 0 1,0 -5.0,0M99.0,781.2a2.5,2.5 0 1,0 5.0,0a2.5,2.5 0 1,0 -5.0,0M100.6,785.1a2.5,2.5 0 1,0 5.0,0a2.5,2.5 0 1,0 -5.0,0M99.0,785.7a2.5,2.5 0 1,0 5.0,0a2.5,2.5 0 1,0 -5.0,0M101.1,789.5a2.5,2.5 0 1,0 5.0,0a2.5,2.5 0 1,0 -5.0,0M102.1,788.8a2.5,2.5 0 1,0 5.0,0a2.5,2.5 0 1,0 -5.0,0M105.3,789.0a2.5,2.5 0 1,0 5.0,0a2.5,2.5 0 1,0 -5.0,0M104.3,790.9a2.5,2.5 0 1,0 5.0,0a2.5,2.5 0 1,0 -5.0,0M106.6,790.2a2.5,2.5 0 1,0 5.0,0a2.5,2.5 0 1,0 -5.0,0M105.9,792.6a2.5,2.5 0 1,0 5.0,0a2.5,2.5 0 1,0 -5.0,0M108.7,791.7a2.5,2.5 0 1,0 5.0,0a2.5,2.5 0 1,0 -5.0,0M109.3,791.7a2.5,2.5 0 1,0 5.0,0a2.5,2.5 0 1,0 -5.0,0M110.3,794.7a2.5,2.5 0 1,0 5.0,0a2.5,2.5 0 1,0 -5.0,0M109.8,796.0a2.5,2.5 0 1,0 5.0,0a2.5,2.5 0 1,0 -5.0,0M111.1,797.4a2.5,2.5 0 1,0 5.0,0a2.5,2.5 0 1,0 -5.0,0M112.0,796.9a2.5,2.5 0 1,0 5.0,0a2.5,2.5 0 1,0 -5.0,0M112.6,798.6a2.5,2.5 0 1,0 5.0,0a2.5,2.5 0 1,0 -5.0,0M113.9,800.9a2.5,2.5 0 1,0 5.0,0a2.5,2.5 0 1,0 -5.0,0M113.1,800.0a2.5,2.5 0 1,0 5.0,0a2.5,2.5 0 1,0 -5.0,0M113.4,800.0a2.5,2.5 0 1,0 5.0,0a2.5,2.5 0 1,0 -5.0,0M115.9,802.4a2.5,2.5 0 1,0 5.0,0a2.5,2.5 0 1,0 -5.0,0M116.2,802.7a2.5,2.5 0 1,0 5.0,0a2.5,2.5 0 1,0 -5.0,0M116.6,804.4a2.5,2.5 0 1,0 5.0,0a2.5,2.5 0 1,0 -5.0,0M117.5,804.8a2.5,2.5 0 1,0 5.0,0a2.5,2.5 0 1,0 -5.0,0M120.9,805.5a2.5,2.5 0 1,0 5.0,0a2.5,2.5 0 1,0 -5.0,0M120.1,806.2a2.5,2.5 0 1,0 5.0,0a2.5,2.5 0 1,0 -5.0,0M122.1,807.2a2.5,2.5 0 1,0 5.0,0a2.5,2.5 0 1,0 -5.0,0M120.5,807.7a2.5,2.5 0 1,0 5.0,0a2.5,2.5 0 1,0 -5.0,0M120.9,811.8a2.5,2.5 0 1,0 5.0,0a2.5,2.5 0 1,0 -5.0,0M120.7,811.6a2.5,2.5 0 1,0 5.0,0a2.5,2.5 0 1,0 -5.0,0M120.8,814.5a2.5,2.5 0 1,0 5.0,0a2.5,2.5 0 1,0 -5.0,0M120.7,814.3a2.5,2.5 0 1,0 5.0,0a2.5,2.5 0 1,0 -5.0,0M93.5,773.0a2.5,2.5 0 1,0 5.0,0a2.5,2.5 0 1,0 -5.0,0M105.5,779.0a2.5,2.5 0 1,0 5.0,0a2.5,2.5 0 1,0 -5.0,0M107.5,785.0a2.5,2.5 0 1,0 5.0,0a2.5,2.5 0 1,0 -5.0,0M101.5,792.0a2.5,2.5 0 1,0 5.0,0a2.5,2.5 0 1,0 -5.0,0M111.5,803.0a2.5,2.5 0 1,0 5.0,0a2.5,2.5 0 1,0 -5.0,0M122.5,799.0a2.5,2.5 0 1,0 5.0,0a2.5,2.5 0 1,0 -5.0,0M123.5,778.0a2.5,2.5 0 1,0 5.0,0a2.5,2.5 0 1,0 -5.0,0M124.5,763.0a2.5,2.5 0 1,0 5.0,0a2.5,2.5 0 1,0 -5.0,0M126.5,765.0a2.5,2.5 0 1,0 5.0,0a2.5,2.5 0 1,0 -5.0,0M126.5,773.0a2.5,2.5 0 1,0 5.0,0a2.5,2.5 0 1,0 -5.0,0M128.5,748.0a2.5,2.5 0 1,0 5.0,0a2.5,2.5 0 1,0 -5.0,0M127.5,756.0a2.5,2.5 0 1,0 5.0,0a2.5,2.5 0 1,0 -5.0,0M130.5,759.0a2.5,2.5 0 1,0 5.0,0a2.5,2.5 0 1,0 -5.0,0M131.5,763.0a2.5,2.5 0 1,0 5.0,0a2.5,2.5 0 1,0 -5.0,0M132.5,766.0a2.5,2.5 0 1,0 5.0,0a2.5,2.5 0 1,0 -5.0,0M135.5,756.0a2.5,2.5 0 1,0 5.0,0a2.5,2.5 0 1,0 -5.0,0M136.5,761.0a2.5,2.5 0 1,0 5.0,0a2.5,2.5 0 1,0 -5.0,0M137.5,763.0a2.5,2.5 0 1,0 5.0,0a2.5,2.5 0 1,0 -5.0,0M137.5,771.0a2.5,2.5 0 1,0 5.0,0a2.5,2.5 0 1,0 -5.0,0M138.5,779.0a2.5,2.5 0 1,0 5.0,0a2.5,2.5 0 1,0 -5.0,0M136.5,734.0a2.5,2.5 0 1,0 5.0,0a2.5,2.5 0 1,0 -5.0,0M139.5,733.0a2.5,2.5 0 1,0 5.0,0a2.5,2.5 0 1,0 -5.0,0M142.5,734.0a2.5,2.5 0 1,0 5.0,0a2.5,2.5 0 1,0 -5.0,0M140.5,740.0a2.5,2.5 0 1,0 5.0,0a2.5,2.5 0 1,0 -5.0,0M139.5,744.0a2.5,2.5 0 1,0 5.0,0a2.5,2.5 0 1,0 -5.0,0M143.5,739.0a2.5,2.5 0 1,0 5.0,0a2.5,2.5 0 1,0 -5.0,0M144.5,744.0a2.5,2.5 0 1,0 5.0,0a2.5,2.5 0 1,0 -5.0,0M144.5,749.0a2.5,2.5 0 1,0 5.0,0a2.5,2.5 0 1,0 -5.0,0M145.5,753.0a2.5,2.5 0 1,0 5.0,0a2.5,2.5 0 1,0 -5.0,0M147.5,759.0a2.5,2.5 0 1,0 5.0,0a2.5,2.5 0 1,0 -5.0,0M149.5,756.0a2.5,2.5 0 1,0 5.0,0a2.5,2.5 0 1,0 -5.0,0M150.5,762.0a2.5,2.5 0 1,0 5.0,0a2.5,2.5 0 1,0 -5.0,0M148.5,767.0a2.5,2.5 0 1,0 5.0,0a2.5,2.5 0 1,0 -5.0,0M147.5,772.0a2.5,2.5 0 1,0 5.0,0a2.5,2.5 0 1,0 -5.0,0M151.5,766.0a2.5,2.5 0 1,0 5.0,0a2.5,2.5 0 1,0 -5.0,0M153.5,763.0a2.5,2.5 0 1,0 5.0,0a2.5,2.5 0 1,0 -5.0,0M152.5,772.0a2.5,2.5 0 1,0 5.0,0a2.5,2.5 0 1,0 -5.0,0M154.5,757.0a2.5,2.5 0 1,0 5.0,0a2.5,2.5 0 1,0 -5.0,0M155.5,752.0a2.5,2.5 0 1,0 5.0,0a2.5,2.5 0 1,0 -5.0,0M155.5,749.0a2.5,2.5 0 1,0 5.0,0a2.5,2.5 0 1,0 -5.0,0M157.5,762.0a2.5,2.5 0 1,0 5.0,0a2.5,2.5 0 1,0 -5.0,0M157.5,768.0a2.5,2.5 0 1,0 5.0,0a2.5,2.5 0 1,0 -5.0,0M158.7,742.3a2.5,2.5 0 1,0 5.0,0a2.5,2.5 0 1,0 -5.0,0M160.3,742.6a2.5,2.5 0 1,0 5.0,0a2.5,2.5 0 1,0 -5.0,0M157.7,739.3a2.5,2.5 0 1,0 5.0,0a2.5,2.5 0 1,0 -5.0,0M158.7,739.3a2.5,2.5 0 1,0 5.0,0a2.5,2.5 0 1,0 -5.0,0M160.1,737.3a2.5,2.5 0 1,0 5.0,0a2.5,2.5 0 1,0 -5.0,0M160.6,737.4a2.5,2.5 0 1,0 5.0,0a2.5,2.5 0 1,0 -5.0,0M158.7,735.8a2.5,2.5 0 1,0 5.0,0a2.5,2.5 0 1,0 -5.0,0M160.2,734.6a2.5,2.5 0 1,0 5.0,0a2.5,2.5 0 1,0 -5.0,0M161.8,736.9a2.5,2.5 0 1,0 5.0,0a2.5,2.5 0 1,0 -5.0,0M163.4,735.9a2.5,2.5 0 1,0 5.0,0a2.5,2.5 0 1,0 -5.0,0M160.6,739.6a2.5,2.5 0 1,0 5.0,0a2.5,2.5 0 1,0 -5.0,0M163.6,738.6a2.5,2.5 0 1,0 5.0,0a2.5,2.5 0 1,0 -5.0,0M162.2,741.5a2.5,2.5 0 1,0 5.0,0a2.5,2.5 0 1,0 -5.0,0M163.5,741.0a2.5,2.5 0 1,0 5.0,0a2.5,2.5 0 1,0 -5.0,0M161.9,743.8a2.5,2.5 0 1,0 5.0,0a2.5,2.5 0 1,0 -5.0,0M163.5,743.9a2.5,2.5 0 1,0 5.0,0a2.5,2.5 0 1,0 -5.0,0M163.0,745.4a2.5,2.5 0 1,0 5.0,0a2.5,2.5 0 1,0 -5.0,0M165.9,746.3a2.5,2.5 0 1,0 5.0,0a2.5,2.5 0 1,0 -5.0,0M165.0,741.4a2.5,2.5 0 1,0 5.0,0a2.5,2.5 0 1,0 -5.0,0M165.9,742.6a2.5,2.5 0 1,0 5.0,0a2.5,2.5 0 1,0 -5.0,0M168.0,738.5a2.5,2.5 0 1,0 5.0,0a2.5,2.5 0 1,0 -5.0,0M167.1,739.5a2.5,2.5 0 1,0 5.0,0a2.5,2.5 0 1,0 -5.0,0M167.6,740.4a2.5,2.5 0 1,0 5.0,0a2.5,2.5 0 1,0 -5.0,0M168.0,741.0a2.5,2.5 0 1,0 5.0,0a2.5,2.5 0 1,0 -5.0,0M169.6,738.3a2.5,2.5 0 1,0 5.0,0a2.5,2.5 0 1,0 -5.0,0M168.6,738.2a2.5,2.5 0 1,0 5.0,0a2.5,2.5 0 1,0 -5.0,0M170.9,736.2a2.5,2.5 0 1,0 5.0,0a2.5,2.5 0 1,0 -5.0,0M171.5,736.4a2.5,2.5 0 1,0 5.0,0a2.5,2.5 0 1,0 -5.0,0M170.3,734.0a2.5,2.5 0 1,0 5.0,0a2.5,2.5 0 1,0 -5.0,0M171.9,734.1a2.5,2.5 0 1,0 5.0,0a2.5,2.5 0 1,0 -5.0,0M172.1,737.4a2.5,2.5 0 1,0 5.0,0a2.5,2.5 0 1,0 -5.0,0M170.9,738.3a2.5,2.5 0 1,0 5.0,0a2.5,2.5 0 1,0 -5.0,0M172.9,739.5a2.5,2.5 0 1,0 5.0,0a2.5,2.5 0 1,0 -5.0,0M173.1,739.7a2.5,2.5 0 1,0 5.0,0a2.5,2.5 0 1,0 -5.0,0M173.9,742.5a2.5,2.5 0 1,0 5.0,0a2.5,2.5 0 1,0 -5.0,0M172.8,743.1a2.5,2.5 0 1,0 5.0,0a2.5,2.5 0 1,0 -5.0,0M173.3,745.3a2.5,2.5 0 1,0 5.0,0a2.5,2.5 0 1,0 -5.0,0M177.0,745.2a2.5,2.5 0 1,0 5.0,0a2.5,2.5 0 1,0 -5.0,0M175.4,742.4a2.5,2.5 0 1,0 5.0,0a2.5,2.5 0 1,0 -5.0,0M175.7,742.4a2.5,2.5 0 1,0 5.0,0a2.5,2.5 0 1,0 -5.0,0M177.4,741.1a2.5,2.5 0 1,0 5.0,0a2.5,2.5 0 1,0 -5.0,0M175.2,740.3a2.5,2.5 0 1,0 5.0,0a2.5,2.5 0 1,0 -5.0,0M177.1,738.7a2.5,2.5 0 1,0 5.0,0a2.5,2.5 0 1,0 -5.0,0M176.1,738.0a2.5,2.5 0 1,0 5.0,0a2.5,2.5 0 1,0 -5.0,0M176.3,736.5a2.5,2.5 0 1,0 5.0,0a2.5,2.5 0 1,0 -5.0,0M174.9,735.9a2.5,2.5 0 1,0 5.0,0a2.5,2.5 0 1,0 -5.0,0M175.4,734.9a2.5,2.5 0 1,0 5.0,0a2.5,2.5 0 1,0 -5.0,0M177.3,733.0a2.5,2.5 0 1,0 5.0,0a2.5,2.5 0 1,0 -5.0,0M178.1,736.0a2.5,2.5 0 1,0 5.0,0a2.5,2.5 0 1,0 -5.0,0M179.7,737.1a2.5,2.5 0 1,0 5.0,0a2.5,2.5 0 1,0 -5.0,0M179.8,733.4a2.5,2.5 0 1,0 5.0,0a2.5,2.5 0 1,0 -5.0,0M181.2,734.7a2.5,2.5 0 1,0 5.0,0a2.5,2.5 0 1,0 -5.0,0M182.0,732.2a2.5,2.5 0 1,0 5.0,0a2.5,2.5 0 1,0 -5.0,0M180.1,732.4a2.5,2.5 0 1,0 5.0,0a2.5,2.5 0 1,0 -5.0,0M182.0,735.6a2.5,2.5 0 1,0 5.0,0a2.5,2.5 0 1,0 -5.0,0M181.3,736.3a2.5,2.5 0 1,0 5.0,0a2.5,2.5 0 1,0 -5.0,0M184.7,739.4a2.5,2.5 0 1,0 5.0,0a2.5,2.5 0 1,0 -5.0,0M183.1,739.3a2.5,2.5 0 1,0 5.0,0a2.5,2.5 0 1,0 -5.0,0M182.0,740.6a2.5,2.5 0 1,0 5.0,0a2.5,2.5 0 1,0 -5.0,0M180.9,741.0a2.5,2.5 0 1,0 5.0,0a2.5,2.5 0 1,0 -5.0,0M183.4,744.3a2.5,2.5 0 1,0 5.0,0a2.5,2.5 0 1,0 -5.0,0M182.4,743.7a2.5,2.5 0 1,0 5.0,0a2.5,2.5 0 1,0 -5.0,0M180.0,746.4a2.5,2.5 0 1,0 5.0,0a2.5,2.5 0 1,0 -5.0,0M181.4,745.1a2.5,2.5 0 1,0 5.0,0a2.5,2.5 0 1,0 -5.0,0M182.5,747.9a2.5,2.5 0 1,0 5.0,0a2.5,2.5 0 1,0 -5.0,0M182.0,748.5a2.5,2.5 0 1,0 5.0,0a2.5,2.5 0 1,0 -5.0,0M183.7,749.8a2.5,2.5 0 1,0 5.0,0a2.5,2.5 0 1,0 -5.0,0M185.7,749.0a2.5,2.5 0 1,0 5.0,0a2.5,2.5 0 1,0 -5.0,0M184.9,753.3a2.5,2.5 0 1,0 5.0,0a2.5,2.5 0 1,0 -5.0,0M186.3,752.7a2.5,2.5 0 1,0 5.0,0a2.5,2.5 0 1,0 -5.0,0M188.6,755.3a2.5,2.5 0 1,0 5.0,0a2.5,2.5 0 1,0 -5.0,0M188.0,755.4a2.5,2.5 0 1,0 5.0,0a2.5,2.5 0 1,0 -5.0,0M189.8,757.3a2.5,2.5 0 1,0 5.0,0a2.5,2.5 0 1,0 -5.0,0M190.4,756.9a2.5,2.5 0 1,0 5.0,0a2.5,2.5 0 1,0 -5.0,0M186.8,759.3a2.5,2.5 0 1,0 5.0,0a2.5,2.5 0 1,0 -5.0,0M187.7,759.6a2.5,2.5 0 1,0 5.0,0a2.5,2.5 0 1,0 -5.0,0M188.2,762.6a2.5,2.5 0 1,0 5.0,0a2.5,2.5 0 1,0 -5.0,0M188.5,762.0a2.5,2.5 0 1,0 5.0,0a2.5,2.5 0 1,0 -5.0,0M190.0,764.0a2.5,2.5 0 1,0 5.0,0a2.5,2.5 0 1,0 -5.0,0M189.3,765.0a2.5,2.5 0 1,0 5.0,0a2.5,2.5 0 1,0 -5.0,0M190.2,766.6a2.5,2.5 0 1,0 5.0,0a2.5,2.5 0 1,0 -5.0,0M192.1,767.1a2.5,2.5 0 1,0 5.0,0a2.5,2.5 0 1,0 -5.0,0M189.3,770.0a2.5,2.5 0 1,0 5.0,0a2.5,2.5 0 1,0 -5.0,0M189.8,770.1a2.5,2.5 0 1,0 5.0,0a2.5,2.5 0 1,0 -5.0,0M191.3,770.8a2.5,2.5 0 1,0 5.0,0a2.5,2.5 0 1,0 -5.0,0M191.4,772.7a2.5,2.5 0 1,0 5.0,0a2.5,2.5 0 1,0 -5.0,0M186.5,776.0a2.5,2.5 0 1,0 5.0,0a2.5,2.5 0 1,0 -5.0,0M192.5,750.0a2.5,2.5 0 1,0 5.0,0a2.5,2.5 0 1,0 -5.0,0M188.5,752.0a2.5,2.5 0 1,0 5.0,0a2.5,2.5 0 1,0 -5.0,0M189.5,760.0a2.5,2.5 0 1,0 5.0,0a2.5,2.5 0 1,0 -5.0,0M190.5,772.0a2.5,2.5 0 1,0 5.0,0a2.5,2.5 0 1,0 -5.0,0M193.5,749.0a2.5,2.5 0 1,0 5.0,0a2.5,2.5 0 1,0 -5.0,0M192.5,762.0a2.5,2.5 0 1,0 5.0,0a2.5,2.5 0 1,0 -5.0,0M194.5,767.0a2.5,2.5 0 1,0 5.0,0a2.5,2.5 0 1,0 -5.0,0M195.5,778.0a2.5,2.5 0 1,0 5.0,0a2.5,2.5 0 1,0 -5.0,0M197.5,784.0a2.5,2.5 0 1,0 5.0,0a2.5,2.5 0 1,0 -5.0,0M196.5,771.0a2.5,2.5 0 1,0 5.0,0a2.5,2.5 0 1,0 -5.0,0M199.5,768.0a2.5,2.5 0 1,0 5.0,0a2.5,2.5 0 1,0 -5.0,0M201.5,751.0a2.5,2.5 0 1,0 5.0,0a2.5,2.5 0 1,0 -5.0,0M202.5,760.0a2.5,2.5 0 1,0 5.0,0a2.5,2.5 0 1,0 -5.0,0M203.5,763.0a2.5,2.5 0 1,0 5.0,0a2.5,2.5 0 1,0 -5.0,0M205.5,755.0a2.5,2.5 0 1,0 5.0,0a2.5,2.5 0 1,0 -5.0,0M206.5,758.0a2.5,2.5 0 1,0 5.0,0a2.5,2.5 0 1,0 -5.0,0M207.5,768.0a2.5,2.5 0 1,0 5.0,0a2.5,2.5 0 1,0 -5.0,0M209.5,765.0a2.5,2.5 0 1,0 5.0,0a2.5,2.5 0 1,0 -5.0,0M210.5,761.0a2.5,2.5 0 1,0 5.0,0a2.5,2.5 0 1,0 -5.0,0M212.5,763.0a2.5,2.5 0 1,0 5.0,0a2.5,2.5 0 1,0 -5.0,0M213.5,760.0a2.5,2.5 0 1,0 5.0,0a2.5,2.5 0 1,0 -5.0,0M216.5,759.0a2.5,2.5 0 1,0 5.0,0a2.5,2.5 0 1,0 -5.0,0M217.5,771.0a2.5,2.5 0 1,0 5.0,0a2.5,2.5 0 1,0 -5.0,0M219.5,776.0a2.5,2.5 0 1,0 5.0,0a2.5,2.5 0 1,0 -5.0,0M220.5,772.0a2.5,2.5 0 1,0 5.0,0a2.5,2.5 0 1,0 -5.0,0M222.5,770.0a2.5,2.5 0 1,0 5.0,0a2.5,2.5 0 1,0 -5.0,0M223.5,767.0a2.5,2.5 0 1,0 5.0,0a2.5,2.5 0 1,0 -5.0,0M225.5,752.0a2.5,2.5 0 1,0 5.0,0a2.5,2.5 0 1,0 -5.0,0M226.5,757.0a2.5,2.5 0 1,0 5.0,0a2.5,2.5 0 1,0 -5.0,0M227.5,762.0a2.5,2.5 0 1,0 5.0,0a2.5,2.5 0 1,0 -5.0,0M228.5,768.0a2.5,2.5 0 1,0 5.0,0a2.5,2.5 0 1,0 -5.0,0M229.5,773.0a2.5,2.5 0 1,0 5.0,0a2.5,2.5 0 1,0 -5.0,0M231.5,777.0a2.5,2.5 0 1,0 5.0,0a2.5,2.5 0 1,0 -5.0,0M233.5,780.0a2.5,2.5 0 1,0 5.0,0a2.5,2.5 0 1,0 -5.0,0M235.5,780.0a2.5,2.5 0 1,0 5.0,0a2.5,2.5 0 1,0 -5.0,0M237.5,775.0a2.5,2.5 0 1,0 5.0,0a2.5,2.5 0 1,0 -5.0,0M240.5,793.0a2.5,2.5 0 1,0 5.0,0a2.5,2.5 0 1,0 -5.0,0M239.5,796.0a2.5,2.5 0 1,0 5.0,0a2.5,2.5 0 1,0 -5.0,0M239.5,805.0a2.5,2.5 0 1,0 5.0,0a2.5,2.5 0 1,0 -5.0,0M242.5,802.0a2.5,2.5 0 1,0 5.0,0a2.5,2.5 0 1,0 -5.0,0M243.5,808.0a2.5,2.5 0 1,0 5.0,0a2.5,2.5 0 1,0 -5.0,0M244.5,814.0a2.5,2.5 0 1,0 5.0,0a2.5,2.5 0 1,0 -5.0,0M245.5,818.0a2.5,2.5 0 1,0 5.0,0a2.5,2.5 0 1,0 -5.0,0M246.5,805.0a2.5,2.5 0 1,0 5.0,0a2.5,2.5 0 1,0 -5.0,0M247.5,797.0a2.5,2.5 0 1,0 5.0,0a2.5,2.5 0 1,0 -5.0,0M248.4,789.9a2.5,2.5 0 1,0 5.0,0a2.5,2.5 0 1,0 -5.0,0M250.2,788.5a2.5,2.5 0 1,0 5.0,0a2.5,2.5 0 1,0 -5.0,0M251.4,790.5a2.5,2.5 0 1,0 5.0,0a2.5,2.5 0 1,0 -5.0,0M251.1,789.1a2.5,2.5 0 1,0 5.0,0a2.5,2.5 0 1,0 -5.0,0M253.9,789.9a2.5,2.5 0 1,0 5.0,0a2.5,2.5 0 1,0 -5.0,0M253.7,788.1a2.5,2.5 0 1,0 5.0,0a2.5,2.5 0 1,0 -5.0,0M257.5,791.5a2.5,2.5 0 1,0 5.0,0a2.5,2.5 0 1,0 -5.0,0M255.9,790.1a2.5,2.5 0 1,0 5.0,0a2.5,2.5 0 1,0 -5.0,0M259.5,788.5a2.5,2.5 0 1,0 5.0,0a2.5,2.5 0 1,0 -5.0,0M259.4,788.1a2.5,2.5 0 1,0 5.0,0a2.5,2.5 0 1,0 -5.0,0M260.6,791.6a2.5,2.5 0 1,0 5.0,0a2.5,2.5 0 1,0 -5.0,0M260.2,792.4a2.5,2.5 0 1,0 5.0,0a2.5,2.5 0 1,0 -5.0,0M262.6,794.4a2.5,2.5 0 1,0 5.0,0a2.5,2.5 0 1,0 -5.0,0M263.0,793.4a2.5,2.5 0 1,0 5.0,0a2.5,2.5 0 1,0 -5.0,0M263.1,796.6a2.5,2.5 0 1,0 5.0,0a2.5,2.5 0 1,0 -5.0,0M265.2,795.9a2.5,2.5 0 1,0 5.0,0a2.5,2.5 0 1,0 -5.0,0M266.9,799.4a2.5,2.5 0 1,0 5.0,0a2.5,2.5 0 1,0 -5.0,0M265.9,798.5a2.5,2.5 0 1,0 5.0,0a2.5,2.5 0 1,0 -5.0,0M267.4,797.1a2.5,2.5 0 1,0 5.0,0a2.5,2.5 0 1,0 -5.0,0M266.7,796.1a2.5,2.5 0 1,0 5.0,0a2.5,2.5 0 1,0 -5.0,0M268.8,794.8a2.5,2.5 0 1,0 5.0,0a2.5,2.5 0 1,0 -5.0,0M269.0,794.0a2.5,2.5 0 1,0 5.0,0a2.5,2.5 0 1,0 -5.0,0M268.0,782.4a2.5,2.5 0 1,0 5.0,0a2.5,2.5 0 1,0 -5.0,0M268.4,782.7a2.5,2.5 0 1,0 5.0,0a2.5,2.5 0 1,0 -5.0,0M272.3,783.7a2.5,2.5 0 1,0 5.0,0a2.5,2.5 0 1,0 -5.0,0M272.4,783.9a2.5,2.5 0 1,0 5.0,0a2.5,2.5 0 1,0 -5.0,0M273.8,788.9a2.5,2.5 0 1,0 5.0,0a2.5,2.5 0 1,0 -5.0,0M273.2,789.0a2.5,2.5 0 1,0 5.0,0a2.5,2.5 0 1,0 -5.0,0M277.6,791.7a2.5,2.5 0 1,0 5.0,0a2.5,2.5 0 1,0 -5.0,0M275.4,790.1a2.5,2.5 0 1,0 5.0,0a2.5,2.5 0 1,0 -5.0,0M277.7,787.5a2.5,2.5 0 1,0 5.0,0a2.5,2.5 0 1,0 -5.0,0M279.4,788.7a2.5,2.5 0 1,0 5.0,0a2.5,2.5 0 1,0 -5.0,0M278.6,785.0a2.5,2.5 0 1,0 5.0,0a2.5,2.5 0 1,0 -5.0,0M279.6,785.9a2.5,2.5 0 1,0 5.0,0a2.5,2.5 0 1,0 -5.0,0M281.0,783.0a2.5,2.5 0 1,0 5.0,0a2.5,2.5 0 1,0 -5.0,0M281.5,783.0a2.5,2.5 0 1,0 5.0,0a2.5,2.5 0 1,0 -5.0,0M282.7,785.2a2.5,2.5 0 1,0 5.0,0a2.5,2.5 0 1,0 -5.0,0M280.1,785.6a2.5,2.5 0 1,0 5.0,0a2.5,2.5 0 1,0 -5.0,0M281.8,787.6a2.5,2.5 0 1,0 5.0,0a2.5,2.5 0 1,0 -5.0,0M281.2,788.1a2.5,2.5 0 1,0 5.0,0a2.5,2.5 0 1,0 -5.0,0M282.6,789.8a2.5,2.5 0 1,0 5.0,0a2.5,2.5 0 1,0 -5.0,0M280.8,791.1a2.5,2.5 0 1,0 5.0,0a2.5,2.5 0 1,0 -5.0,0M281.9,792.9a2.5,2.5 0 1,0 5.0,0a2.5,2.5 0 1,0 -5.0,0M284.8,792.4a2.5,2.5 0 1,0 5.0,0a2.5,2.5 0 1,0 -5.0,0M282.4,794.4a2.5,2.5 0 1,0 5.0,0a2.5,2.5 0 1,0 -5.0,0M283.8,795.7a2.5,2.5 0 1,0 5.0,0a2.5,2.5 0 1,0 -5.0,0M284.4,793.5a2.5,2.5 0 1,0 5.0,0a2.5,2.5 0 1,0 -5.0,0M285.4,793.8a2.5,2.5 0 1,0 5.0,0a2.5,2.5 0 1,0 -5.0,0M286.9,791.1a2.5,2.5 0 1,0 5.0,0a2.5,2.5 0 1,0 -5.0,0M286.2,791.8a2.5,2.5 0 1,0 5.0,0a2.5,2.5 0 1,0 -5.0,0M287.0,789.6a2.5,2.5 0 1,0 5.0,0a2.5,2.5 0 1,0 -5.0,0M287.9,789.8a2.5,2.5 0 1,0 5.0,0a2.5,2.5 0 1,0 -5.0,0M288.0,786.8a2.5,2.5 0 1,0 5.0,0a2.5,2.5 0 1,0 -5.0,0M287.2,786.4a2.5,2.5 0 1,0 5.0,0a2.5,2.5 0 1,0 -5.0,0M289.1,783.9a2.5,2.5 0 1,0 5.0,0a2.5,2.5 0 1,0 -5.0,0M287.7,784.7a2.5,2.5 0 1,0 5.0,0a2.5,2.5 0 1,0 -5.0,0M289.5,786.2a2.5,2.5 0 1,0 5.0,0a2.5,2.5 0 1,0 -5.0,0M290.9,785.7a2.5,2.5 0 1,0 5.0,0a2.5,2.5 0 1,0 -5.0,0M291.3,787.1a2.5,2.5 0 1,0 5.0,0a2.5,2.5 0 1,0 -5.0,0M291.5,787.2a2.5,2.5 0 1,0 5.0,0a2.5,2.5 0 1,0 -5.0,0M290.9,790.8a2.5,2.5 0 1,0 5.0,0a2.5,2.5 0 1,0 -5.0,0M292.6,789.5a2.5,2.5 0 1,0 5.0,0a2.5,2.5 0 1,0 -5.0,0M293.0,791.9a2.5,2.5 0 1,0 5.0,0a2.5,2.5 0 1,0 -5.0,0M291.8,792.0a2.5,2.5 0 1,0 5.0,0a2.5,2.5 0 1,0 -5.0,0M295.7,793.8a2.5,2.5 0 1,0 5.0,0a2.5,2.5 0 1,0 -5.0,0M296.5,793.6a2.5,2.5 0 1,0 5.0,0a2.5,2.5 0 1,0 -5.0,0M298.6,795.4a2.5,2.5 0 1,0 5.0,0a2.5,2.5 0 1,0 -5.0,0M297.0,796.4a2.5,2.5 0 1,0 5.0,0a2.5,2.5 0 1,0 -5.0,0M297.7,798.6a2.5,2.5 0 1,0 5.0,0a2.5,2.5 0 1,0 -5.0,0M298.6,797.6a2.5,2.5 0 1,0 5.0,0a2.5,2.5 0 1,0 -5.0,0M298.9,800.0a2.5,2.5 0 1,0 5.0,0a2.5,2.5 0 1,0 -5.0,0M300.2,799.1a2.5,2.5 0 1,0 5.0,0a2.5,2.5 0 1,0 -5.0,0M299.4,800.6a2.5,2.5 0 1,0 5.0,0a2.5,2.5 0 1,0 -5.0,0M301.0,803.2a2.5,2.5 0 1,0 5.0,0a2.5,2.5 0 1,0 -5.0,0M304.0,799.7a2.5,2.5 0 1,0 5.0,0a2.5,2.5 0 1,0 -5.0,0M304.8,800.0a2.5,2.5 0 1,0 5.0,0a2.5,2.5 0 1,0 -5.0,0M304.0,798.3a2.5,2.5 0 1,0 5.0,0a2.5,2.5 0 1,0 -5.0,0M305.9,796.5a2.5,2.5 0 1,0 5.0,0a2.5,2.5 0 1,0 -5.0,0M307.9,800.7a2.5,2.5 0 1,0 5.0,0a2.5,2.5 0 1,0 -5.0,0M308.0,799.2a2.5,2.5 0 1,0 5.0,0a2.5,2.5 0 1,0 -5.0,0M298.5,806.0a2.5,2.5 0 1,0 5.0,0a2.5,2.5 0 1,0 -5.0,0M301.5,811.0a2.5,2.5 0 1,0 5.0,0a2.5,2.5 0 1,0 -5.0,0M297.8,795.6a2.5,2.5 0 1,0 5.0,0a2.5,2.5 0 1,0 -5.0,0M297.5,796.5a2.5,2.5 0 1,0 5.0,0a2.5,2.5 0 1,0 -5.0,0M298.5,798.3a2.5,2.5 0 1,0 5.0,0a2.5,2.5 0 1,0 -5.0,0M300.4,797.5a2.5,2.5 0 1,0 5.0,0a2.5,2.5 0 1,0 -5.0,0M300.7,800.0a2.5,2.5 0 1,0 5.0,0a2.5,2.5 0 1,0 -5.0,0M299.0,800.4a2.5,2.5 0 1,0 5.0,0a2.5,2.5 0 1,0 -5.0,0M301.1,801.2a2.5,2.5 0 1,0 5.0,0a2.5,2.5 0 1,0 -5.0,0M301.1,803.5a2.5,2.5 0 1,0 5.0,0a2.5,2.5 0 1,0 -5.0,0M304.7,803.8a2.5,2.5 0 1,0 5.0,0a2.5,2.5 0 1,0 -5.0,0M304.3,803.1a2.5,2.5 0 1,0 5.0,0a2.5,2.5 0 1,0 -5.0,0M307.4,799.1a2.5,2.5 0 1,0 5.0,0a2.5,2.5 0 1,0 -5.0,0M307.3,799.8a2.5,2.5 0 1,0 5.0,0a2.5,2.5 0 1,0 -5.0,0M308.3,801.2a2.5,2.5 0 1,0 5.0,0a2.5,2.5 0 1,0 -5.0,0M308.5,800.9a2.5,2.5 0 1,0 5.0,0a2.5,2.5 0 1,0 -5.0,0M307.9,804.1a2.5,2.5 0 1,0 5.0,0a2.5,2.5 0 1,0 -5.0,0M307.8,804.7a2.5,2.5 0 1,0 5.0,0a2.5,2.5 0 1,0 -5.0,0M310.5,805.2a2.5,2.5 0 1,0 5.0,0a2.5,2.5 0 1,0 -5.0,0M311.5,805.0a2.5,2.5 0 1,0 5.0,0a2.5,2.5 0 1,0 -5.0,0M309.3,808.3a2.5,2.5 0 1,0 5.0,0a2.5,2.5 0 1,0 -5.0,0M312.0,807.0a2.5,2.5 0 1,0 5.0,0a2.5,2.5 0 1,0 -5.0,0M312.3,809.9a2.5,2.5 0 1,0 5.0,0a2.5,2.5 0 1,0 -5.0,0M311.1,810.3a2.5,2.5 0 1,0 5.0,0a2.5,2.5 0 1,0 -5.0,0M312.9,808.0a2.5,2.5 0 1,0 5.0,0a2.5,2.5 0 1,0 -5.0,0M311.1,807.5a2.5,2.5 0 1,0 5.0,0a2.5,2.5 0 1,0 -5.0,0M313.1,805.5a2.5,2.5 0 1,0 5.0,0a2.5,2.5 0 1,0 -5.0,0M314.0,805.6a2.5,2.5 0 1,0 5.0,0a2.5,2.5 0 1,0 -5.0,0M313.5,802.8a2.5,2.5 0 1,0 5.0,0a2.5,2.5 0 1,0 -5.0,0M314.2,803.5a2.5,2.5 0 1,0 5.0,0a2.5,2.5 0 1,0 -5.0,0M315.6,800.9a2.5,2.5 0 1,0 5.0,0a2.5,2.5 0 1,0 -5.0,0M314.2,801.1a2.5,2.5 0 1,0 5.0,0a2.5,2.5 0 1,0 -5.0,0M314.7,803.7a2.5,2.5 0 1,0 5.0,0a2.5,2.5 0 1,0 -5.0,0M314.1,803.3a2.5,2.5 0 1,0 5.0,0a2.5,2.5 0 1,0 -5.0,0M316.2,805.7a2.5,2.5 0 1,0 5.0,0a2.5,2.5 0 1,0 -5.0,0M315.3,806.5a2.5,2.5 0 1,0 5.0,0a2.5,2.5 0 1,0 -5.0,0M314.8,808.7a2.5,2.5 0 1,0 5.0,0a2.5,2.5 0 1,0 -5.0,0M313.9,808.7a2.5,2.5 0 1,0 5.0,0a2.5,2.5 0 1,0 -5.0,0M314.3,811.3a2.5,2.5 0 1,0 5.0,0a2.5,2.5 0 1,0 -5.0,0M314.8,810.5a2.5,2.5 0 1,0 5.0,0a2.5,2.5 0 1,0 -5.0,0M315.4,813.4a2.5,2.5 0 1,0 5.0,0a2.5,2.5 0 1,0 -5.0,0M316.8,813.3a2.5,2.5 0 1,0 5.0,0a2.5,2.5 0 1,0 -5.0,0M316.9,816.0a2.5,2.5 0 1,0 5.0,0a2.5,2.5 0 1,0 -5.0,0M317.9,814.9a2.5,2.5 0 1,0 5.0,0a2.5,2.5 0 1,0 -5.0,0M318.6,817.9a2.5,2.5 0 1,0 5.0,0a2.5,2.5 0 1,0 -5.0,0M318.3,817.6a2.5,2.5 0 1,0 5.0,0a2.5,2.5 0 1,0 -5.0,0M319.2,815.1a2.5,2.5 0 1,0 5.0,0a2.5,2.5 0 1,0 -5.0,0M318.6,815.4a2.5,2.5 0 1,0 5.0,0a2.5,2.5 0 1,0 -5.0,0M321.7,813.0a2.5,2.5 0 1,0 5.0,0a2.5,2.5 0 1,0 -5.0,0M320.9,813.6a2.5,2.5 0 1,0 5.0,0a2.5,2.5 0 1,0 -5.0,0M321.6,810.2a2.5,2.5 0 1,0 5.0,0a2.5,2.5 0 1,0 -5.0,0M320.1,810.8a2.5,2.5 0 1,0 5.0,0a2.5,2.5 0 1,0 -5.0,0M322.8,807.1a2.5,2.5 0 1,0 5.0,0a2.5,2.5 0 1,0 -5.0,0M320.1,809.0a2.5,2.5 0 1,0 5.0,0a2.5,2.5 0 1,0 -5.0,0M321.3,810.6a2.5,2.5 0 1,0 5.0,0a2.5,2.5 0 1,0 -5.0,0M324.2,809.4a2.5,2.5 0 1,0 5.0,0a2.5,2.5 0 1,0 -5.0,0M322.3,812.6a2.5,2.5 0 1,0 5.0,0a2.5,2.5 0 1,0 -5.0,0M324.1,814.2a2.5,2.5 0 1,0 5.0,0a2.5,2.5 0 1,0 -5.0,0M327.3,809.3a2.5,2.5 0 1,0 5.0,0a2.5,2.5 0 1,0 -5.0,0M325.1,810.8a2.5,2.5 0 1,0 5.0,0a2.5,2.5 0 1,0 -5.0,0M327.6,811.9a2.5,2.5 0 1,0 5.0,0a2.5,2.5 0 1,0 -5.0,0M328.7,811.4a2.5,2.5 0 1,0 5.0,0a2.5,2.5 0 1,0 -5.0,0M328.8,813.7a2.5,2.5 0 1,0 5.0,0a2.5,2.5 0 1,0 -5.0,0M327.7,813.7a2.5,2.5 0 1,0 5.0,0a2.5,2.5 0 1,0 -5.0,0M331.2,813.0a2.5,2.5 0 1,0 5.0,0a2.5,2.5 0 1,0 -5.0,0M331.5,810.0a2.5,2.5 0 1,0 5.0,0a2.5,2.5 0 1,0 -5.0,0M334.2,813.0a2.5,2.5 0 1,0 5.0,0a2.5,2.5 0 1,0 -5.0,0M334.7,811.2a2.5,2.5 0 1,0 5.0,0a2.5,2.5 0 1,0 -5.0,0M336.4,814.8a2.5,2.5 0 1,0 5.0,0a2.5,2.5 0 1,0 -5.0,0M336.2,814.9a2.5,2.5 0 1,0 5.0,0a2.5,2.5 0 1,0 -5.0,0M339.0,816.5a2.5,2.5 0 1,0 5.0,0a2.5,2.5 0 1,0 -5.0,0M339.2,816.0a2.5,2.5 0 1,0 5.0,0a2.5,2.5 0 1,0 -5.0,0M342.1,817.1a2.5,2.5 0 1,0 5.0,0a2.5,2.5 0 1,0 -5.0,0M341.0,817.4a2.5,2.5 0 1,0 5.0,0a2.5,2.5 0 1,0 -5.0,0M342.4,820.1a2.5,2.5 0 1,0 5.0,0a2.5,2.5 0 1,0 -5.0,0M342.0,819.6a2.5,2.5 0 1,0 5.0,0a2.5,2.5 0 1,0 -5.0,0M342.8,822.3a2.5,2.5 0 1,0 5.0,0a2.5,2.5 0 1,0 -5.0,0M341.8,822.3a2.5,2.5 0 1,0 5.0,0a2.5,2.5 0 1,0 -5.0,0M344.0,820.0a2.5,2.5 0 1,0 5.0,0a2.5,2.5 0 1,0 -5.0,0M342.3,819.2a2.5,2.5 0 1,0 5.0,0a2.5,2.5 0 1,0 -5.0,0M346.0,818.9a2.5,2.5 0 1,0 5.0,0a2.5,2.5 0 1,0 -5.0,0M345.0,817.8a2.5,2.5 0 1,0 5.0,0a2.5,2.5 0 1,0 -5.0,0M343.9,816.9a2.5,2.5 0 1,0 5.0,0a2.5,2.5 0 1,0 -5.0,0M346.1,815.7a2.5,2.5 0 1,0 5.0,0a2.5,2.5 0 1,0 -5.0,0M345.9,818.1a2.5,2.5 0 1,0 5.0,0a2.5,2.5 0 1,0 -5.0,0M346.8,818.1a2.5,2.5 0 1,0 5.0,0a2.5,2.5 0 1,0 -5.0,0M345.8,821.1a2.5,2.5 0 1,0 5.0,0a2.5,2.5 0 1,0 -5.0,0M349.2,819.0a2.5,2.5 0 1,0 5.0,0a2.5,2.5 0 1,0 -5.0,0M348.9,821.6a2.5,2.5 0 1,0 5.0,0a2.5,2.5 0 1,0 -5.0,0M349.5,824.3a2.5,2.5 0 1,0 5.0,0a2.5,2.5 0 1,0 -5.0,0M352.7,823.3a2.5,2.5 0 1,0 5.0,0a2.5,2.5 0 1,0 -5.0,0M353.3,823.1a2.5,2.5 0 1,0 5.0,0a2.5,2.5 0 1,0 -5.0,0M353.9,819.6a2.5,2.5 0 1,0 5.0,0a2.5,2.5 0 1,0 -5.0,0M356.7,820.2a2.5,2.5 0 1,0 5.0,0a2.5,2.5 0 1,0 -5.0,0M357.4,817.6a2.5,2.5 0 1,0 5.0,0a2.5,2.5 0 1,0 -5.0,0M355.4,813.9a2.5,2.5 0 1,0 5.0,0a2.5,2.5 0 1,0 -5.0,0M361.1,813.0a2.5,2.5 0 1,0 5.0,0a2.5,2.5 0 1,0 -5.0,0M360.2,813.7a2.5,2.5 0 1,0 5.0,0a2.5,2.5 0 1,0 -5.0,0M361.7,815.4a2.5,2.5 0 1,0 5.0,0a2.5,2.5 0 1,0 -5.0,0M360.4,815.8a2.5,2.5 0 1,0 5.0,0a2.5,2.5 0 1,0 -5.0,0M362.5,817.4a2.5,2.5 0 1,0 5.0,0a2.5,2.5 0 1,0 -5.0,0M362.3,817.8a2.5,2.5 0 1,0 5.0,0a2.5,2.5 0 1,0 -5.0,0M364.5,822.0a2.5,2.5 0 1,0 5.0,0a2.5,2.5 0 1,0 -5.0,0M362.5,822.5a2.5,2.5 0 1,0 5.0,0a2.5,2.5 0 1,0 -5.0,0M363.9,819.7a2.5,2.5 0 1,0 5.0,0a2.5,2.5 0 1,0 -5.0,0M362.8,819.6a2.5,2.5 0 1,0 5.0,0a2.5,2.5 0 1,0 -5.0,0M363.3,817.5a2.5,2.5 0 1,0 5.0,0a2.5,2.5 0 1,0 -5.0,0M365.2,817.9a2.5,2.5 0 1,0 5.0,0a2.5,2.5 0 1,0 -5.0,0M365.3,815.7a2.5,2.5 0 1,0 5.0,0a2.5,2.5 0 1,0 -5.0,0M363.8,814.9a2.5,2.5 0 1,0 5.0,0a2.5,2.5 0 1,0 -5.0,0M363.7,813.0a2.5,2.5 0 1,0 5.0,0a2.5,2.5 0 1,0 -5.0,0M365.2,812.4a2.5,2.5 0 1,0 5.0,0a2.5,2.5 0 1,0 -5.0,0M365.2,813.8a2.5,2.5 0 1,0 5.0,0a2.5,2.5 0 1,0 -5.0,0M368.5,815.9a2.5,2.5 0 1,0 5.0,0a2.5,2.5 0 1,0 -5.0,0M369.1,813.5a2.5,2.5 0 1,0 5.0,0a2.5,2.5 0 1,0 -5.0,0M368.2,813.9a2.5,2.5 0 1,0 5.0,0a2.5,2.5 0 1,0 -5.0,0M369.0,811.2a2.5,2.5 0 1,0 5.0,0a2.5,2.5 0 1,0 -5.0,0M367.8,809.7a2.5,2.5 0 1,0 5.0,0a2.5,2.5 0 1,0 -5.0,0M369.5,810.4a2.5,2.5 0 1,0 5.0,0a2.5,2.5 0 1,0 -5.0,0M368.7,811.1a2.5,2.5 0 1,0 5.0,0a2.5,2.5 0 1,0 -5.0,0M370.1,812.7a2.5,2.5 0 1,0 5.0,0a2.5,2.5 0 1,0 -5.0,0M371.7,811.5a2.5,2.5 0 1,0 5.0,0a2.5,2.5 0 1,0 -5.0,0M373.4,812.5a2.5,2.5 0 1,0 5.0,0a2.5,2.5 0 1,0 -5.0,0M371.3,815.4a2.5,2.5 0 1,0 5.0,0a2.5,2.5 0 1,0 -5.0,0M375.1,816.6a2.5,2.5 0 1,0 5.0,0a2.5,2.5 0 1,0 -5.0,0M375.0,816.3a2.5,2.5 0 1,0 5.0,0a2.5,2.5 0 1,0 -5.0,0M376.1,814.4a2.5,2.5 0 1,0 5.0,0a2.5,2.5 0 1,0 -5.0,0M378.2,813.1a2.5,2.5 0 1,0 5.0,0a2.5,2.5 0 1,0 -5.0,0M377.8,816.3a2.5,2.5 0 1,0 5.0,0a2.5,2.5 0 1,0 -5.0,0M375.7,817.3a2.5,2.5 0 1,0 5.0,0a2.5,2.5 0 1,0 -5.0,0M377.3,819.3a2.5,2.5 0 1,0 5.0,0a2.5,2.5 0 1,0 -5.0,0M379.6,817.2a2.5,2.5 0 1,0 5.0,0a2.5,2.5 0 1,0 -5.0,0M381.6,820.8a2.5,2.5 0 1,0 5.0,0a2.5,2.5 0 1,0 -5.0,0M381.1,820.2a2.5,2.5 0 1,0 5.0,0a2.5,2.5 0 1,0 -5.0,0M382.2,817.6a2.5,2.5 0 1,0 5.0,0a2.5,2.5 0 1,0 -5.0,0M380.7,818.3a2.5,2.5 0 1,0 5.0,0a2.5,2.5 0 1,0 -5.0,0M383.3,820.5a2.5,2.5 0 1,0 5.0,0a2.5,2.5 0 1,0 -5.0,0M384.2,820.3a2.5,2.5 0 1,0 5.0,0a2.5,2.5 0 1,0 -5.0,0M385.6,823.7a2.5,2.5 0 1,0 5.0,0a2.5,2.5 0 1,0 -5.0,0M384.8,823.0a2.5,2.5 0 1,0 5.0,0a2.5,2.5 0 1,0 -5.0,0M383.2,820.2a2.5,2.5 0 1,0 5.0,0a2.5,2.5 0 1,0 -5.0,0M385.1,820.3a2.5,2.5 0 1,0 5.0,0a2.5,2.5 0 1,0 -5.0,0M387.4,819.0a2.5,2.5 0 1,0 5.0,0a2.5,2.5 0 1,0 -5.0,0M385.8,818.7a2.5,2.5 0 1,0 5.0,0a2.5,2.5 0 1,0 -5.0,0M387.6,815.0a2.5,2.5 0 1,0 5.0,0a2.5,2.5 0 1,0 -5.0,0M386.5,816.4a2.5,2.5 0 1,0 5.0,0a2.5,2.5 0 1,0 -5.0,0M385.9,819.1a2.5,2.5 0 1,0 5.0,0a2.5,2.5 0 1,0 -5.0,0M389.1,818.0a2.5,2.5 0 1,0 5.0,0a2.5,2.5 0 1,0 -5.0,0M390.0,820.1a2.5,2.5 0 1,0 5.0,0a2.5,2.5 0 1,0 -5.0,0M389.6,821.1a2.5,2.5 0 1,0 5.0,0a2.5,2.5 0 1,0 -5.0,0M390.5,823.3a2.5,2.5 0 1,0 5.0,0a2.5,2.5 0 1,0 -5.0,0M390.5,822.8a2.5,2.5 0 1,0 5.0,0a2.5,2.5 0 1,0 -5.0,0M389.8,825.5a2.5,2.5 0 1,0 5.0,0a2.5,2.5 0 1,0 -5.0,0M389.8,825.1a2.5,2.5 0 1,0 5.0,0a2.5,2.5 0 1,0 -5.0,0M395.4,824.4a2.5,2.5 0 1,0 5.0,0a2.5,2.5 0 1,0 -5.0,0M393.2,823.6a2.5,2.5 0 1,0 5.0,0a2.5,2.5 0 1,0 -5.0,0M393.9,821.6a2.5,2.5 0 1,0 5.0,0a2.5,2.5 0 1,0 -5.0,0M393.0,820.9a2.5,2.5 0 1,0 5.0,0a2.5,2.5 0 1,0 -5.0,0M394.3,820.7a2.5,2.5 0 1,0 5.0,0a2.5,2.5 0 1,0 -5.0,0M394.4,820.5a2.5,2.5 0 1,0 5.0,0a2.5,2.5 0 1,0 -5.0,0M397.0,821.7a2.5,2.5 0 1,0 5.0,0a2.5,2.5 0 1,0 -5.0,0M396.2,822.4a2.5,2.5 0 1,0 5.0,0a2.5,2.5 0 1,0 -5.0,0M397.2,824.2a2.5,2.5 0 1,0 5.0,0a2.5,2.5 0 1,0 -5.0,0M395.6,824.9a2.5,2.5 0 1,0 5.0,0a2.5,2.5 0 1,0 -5.0,0M400.7,826.0a2.5,2.5 0 1,0 5.0,0a2.5,2.5 0 1,0 -5.0,0M398.8,828.4a2.5,2.5 0 1,0 5.0,0a2.5,2.5 0 1,0 -5.0,0M401.4,829.7a2.5,2.5 0 1,0 5.0,0a2.5,2.5 0 1,0 -5.0,0M400.5,829.4a2.5,2.5 0 1,0 5.0,0a2.5,2.5 0 1,0 -5.0,0M402.3,832.9a2.5,2.5 0 1,0 5.0,0a2.5,2.5 0 1,0 -5.0,0M402.9,832.9a2.5,2.5 0 1,0 5.0,0a2.5,2.5 0 1,0 -5.0,0M406.1,832.3a2.5,2.5 0 1,0 5.0,0a2.5,2.5 0 1,0 -5.0,0M404.2,831.7a2.5,2.5 0 1,0 5.0,0a2.5,2.5 0 1,0 -5.0,0M407.1,828.9a2.5,2.5 0 1,0 5.0,0a2.5,2.5 0 1,0 -5.0,0M407.3,828.5a2.5,2.5 0 1,0 5.0,0a2.5,2.5 0 1,0 -5.0,0M298.5,806.0a2.5,2.5 0 1,0 5.0,0a2.5,2.5 0 1,0 -5.0,0M301.5,811.0a2.5,2.5 0 1,0 5.0,0a2.5,2.5 0 1,0 -5.0,0M309.5,816.0a2.5,2.5 0 1,0 5.0,0a2.5,2.5 0 1,0 -5.0,0M309.5,820.0a2.5,2.5 0 1,0 5.0,0a2.5,2.5 0 1,0 -5.0,0M317.5,826.0a2.5,2.5 0 1,0 5.0,0a2.5,2.5 0 1,0 -5.0,0M328.5,820.0a2.5,2.5 0 1,0 5.0,0a2.5,2.5 0 1,0 -5.0,0M343.5,826.0a2.5,2.5 0 1,0 5.0,0a2.5,2.5 0 1,0 -5.0,0M358.5,809.0a2.5,2.5 0 1,0 5.0,0a2.5,2.5 0 1,0 -5.0,0M391.5,830.0a2.5,2.5 0 1,0 5.0,0a2.5,2.5 0 1,0 -5.0,0M410.5,795.0a2.5,2.5 0 1,0 5.0,0a2.5,2.5 0 1,0 -5.0,0M411.5,798.0a2.5,2.5 0 1,0 5.0,0a2.5,2.5 0 1,0 -5.0,0M409.5,800.0a2.5,2.5 0 1,0 5.0,0a2.5,2.5 0 1,0 -5.0,0M408.5,814.0a2.5,2.5 0 1,0 5.0,0a2.5,2.5 0 1,0 -5.0,0M413.5,830.0a2.5,2.5 0 1,0 5.0,0a2.5,2.5 0 1,0 -5.0,0M414.5,834.0a2.5,2.5 0 1,0 5.0,0a2.5,2.5 0 1,0 -5.0,0M416.5,826.0a2.5,2.5 0 1,0 5.0,0a2.5,2.5 0 1,0 -5.0,0M410.5,796.0a2.5,2.5 0 1,0 5.0,0a2.5,2.5 0 1,0 -5.0,0M411.5,799.0a2.5,2.5 0 1,0 5.0,0a2.5,2.5 0 1,0 -5.0,0M408.5,829.0a2.5,2.5 0 1,0 5.0,0a2.5,2.5 0 1,0 -5.0,0M414.5,831.0a2.5,2.5 0 1,0 5.0,0a2.5,2.5 0 1,0 -5.0,0M415.5,834.0a2.5,2.5 0 1,0 5.0,0a2.5,2.5 0 1,0 -5.0,0M417.5,824.0a2.5,2.5 0 1,0 5.0,0a2.5,2.5 0 1,0 -5.0,0M418.5,820.0a2.5,2.5 0 1,0 5.0,0a2.5,2.5 0 1,0 -5.0,0M420.5,808.0a2.5,2.5 0 1,0 5.0,0a2.5,2.5 0 1,0 -5.0,0M421.5,812.0a2.5,2.5 0 1,0 5.0,0a2.5,2.5 0 1,0 -5.0,0M419.5,814.0a2.5,2.5 0 1,0 5.0,0a2.5,2.5 0 1,0 -5.0,0M423.4,832.4a2.5,2.5 0 1,0 5.0,0a2.5,2.5 0 1,0 -5.0,0M423.7,831.9a2.5,2.5 0 1,0 5.0,0a2.5,2.5 0 1,0 -5.0,0M424.7,835.3a2.5,2.5 0 1,0 5.0,0a2.5,2.5 0 1,0 -5.0,0M424.9,834.6a2.5,2.5 0 1,0 5.0,0a2.5,2.5 0 1,0 -5.0,0M426.2,837.8a2.5,2.5 0 1,0 5.0,0a2.5,2.5 0 1,0 -5.0,0M425.5,838.0a2.5,2.5 0 1,0 5.0,0a2.5,2.5 0 1,0 -5.0,0M425.2,841.1a2.5,2.5 0 1,0 5.0,0a2.5,2.5 0 1,0 -5.0,0M424.9,840.4a2.5,2.5 0 1,0 5.0,0a2.5,2.5 0 1,0 -5.0,0M425.7,838.7a2.5,2.5 0 1,0 5.0,0a2.5,2.5 0 1,0 -5.0,0M426.4,838.6a2.5,2.5 0 1,0 5.0,0a2.5,2.5 0 1,0 -5.0,0M427.4,837.4a2.5,2.5 0 1,0 5.0,0a2.5,2.5 0 1,0 -5.0,0M428.1,836.3a2.5,2.5 0 1,0 5.0,0a2.5,2.5 0 1,0 -5.0,0M427.9,839.7a2.5,2.5 0 1,0 5.0,0a2.5,2.5 0 1,0 -5.0,0M429.3,840.0a2.5,2.5 0 1,0 5.0,0a2.5,2.5 0 1,0 -5.0,0M428.5,836.9a2.5,2.5 0 1,0 5.0,0a2.5,2.5 0 1,0 -5.0,0M431.3,837.6a2.5,2.5 0 1,0 5.0,0a2.5,2.5 0 1,0 -5.0,0M431.5,834.3a2.5,2.5 0 1,0 5.0,0a2.5,2.5 0 1,0 -5.0,0M431.5,834.3a2.5,2.5 0 1,0 5.0,0a2.5,2.5 0 1,0 -5.0,0M430.3,837.1a2.5,2.5 0 1,0 5.0,0a2.5,2.5 0 1,0 -5.0,0M433.0,836.7a2.5,2.5 0 1,0 5.0,0a2.5,2.5 0 1,0 -5.0,0M431.7,840.0a2.5,2.5 0 1,0 5.0,0a2.5,2.5 0 1,0 -5.0,0M432.7,838.6a2.5,2.5 0 1,0 5.0,0a2.5,2.5 0 1,0 -5.0,0M434.5,841.3a2.5,2.5 0 1,0 5.0,0a2.5,2.5 0 1,0 -5.0,0M434.8,840.8a2.5,2.5 0 1,0 5.0,0a2.5,2.5 0 1,0 -5.0,0M436.4,842.2a2.5,2.5 0 1,0 5.0,0a2.5,2.5 0 1,0 -5.0,0M436.2,841.7a2.5,2.5 0 1,0 5.0,0a2.5,2.5 0 1,0 -5.0,0M439.1,839.6a2.5,2.5 0 1,0 5.0,0a2.5,2.5 0 1,0 -5.0,0M438.4,838.4a2.5,2.5 0 1,0 5.0,0a2.5,2.5 0 1,0 -5.0,0M441.6,838.3a2.5,2.5 0 1,0 5.0,0a2.5,2.5 0 1,0 -5.0,0M439.8,836.7a2.5,2.5 0 1,0 5.0,0a2.5,2.5 0 1,0 -5.0,0M442.0,835.7a2.5,2.5 0 1,0 5.0,0a2.5,2.5 0 1,0 -5.0,0M442.3,834.8a2.5,2.5 0 1,0 5.0,0a2.5,2.5 0 1,0 -5.0,0M444.3,835.3a2.5,2.5 0 1,0 5.0,0a2.5,2.5 0 1,0 -5.0,0M444.5,834.7a2.5,2.5 0 1,0 5.0,0a2.5,2.5 0 1,0 -5.0,0M452.5,830.0a2.5,2.5 0 1,0 5.0,0a2.5,2.5 0 1,0 -5.0,0M453.5,826.0a2.5,2.5 0 1,0 5.0,0a2.5,2.5 0 1,0 -5.0,0M454.5,820.0a2.5,2.5 0 1,0 5.0,0a2.5,2.5 0 1,0 -5.0,0M454.5,816.0a2.5,2.5 0 1,0 5.0,0a2.5,2.5 0 1,0 -5.0,0M457.5,818.0a2.5,2.5 0 1,0 5.0,0a2.5,2.5 0 1,0 -5.0,0M456.5,824.0a2.5,2.5 0 1,0 5.0,0a2.5,2.5 0 1,0 -5.0,0M459.5,814.0a2.5,2.5 0 1,0 5.0,0a2.5,2.5 0 1,0 -5.0,0M461.5,818.0a2.5,2.5 0 1,0 5.0,0a2.5,2.5 0 1,0 -5.0,0M462.5,810.0a2.5,2.5 0 1,0 5.0,0a2.5,2.5 0 1,0 -5.0,0M464.5,808.0a2.5,2.5 0 1,0 5.0,0a2.5,2.5 0 1,0 -5.0,0M465.5,814.0a2.5,2.5 0 1,0 5.0,0a2.5,2.5 0 1,0 -5.0,0M467.5,818.0a2.5,2.5 0 1,0 5.0,0a2.5,2.5 0 1,0 -5.0,0M468.5,822.0a2.5,2.5 0 1,0 5.0,0a2.5,2.5 0 1,0 -5.0,0M470.5,816.0a2.5,2.5 0 1,0 5.0,0a2.5,2.5 0 1,0 -5.0,0M471.5,810.0a2.5,2.5 0 1,0 5.0,0a2.5,2.5 0 1,0 -5.0,0M472.5,814.0a2.5,2.5 0 1,0 5.0,0a2.5,2.5 0 1,0 -5.0,0M473.5,824.0a2.5,2.5 0 1,0 5.0,0a2.5,2.5 0 1,0 -5.0,0M475.5,828.0a2.5,2.5 0 1,0 5.0,0a2.5,2.5 0 1,0 -5.0,0M476.5,831.0a2.5,2.5 0 1,0 5.0,0a2.5,2.5 0 1,0 -5.0,0M478.5,824.0a2.5,2.5 0 1,0 5.0,0a2.5,2.5 0 1,0 -5.0,0M479.5,812.0a2.5,2.5 0 1,0 5.0,0a2.5,2.5 0 1,0 -5.0,0M481.5,809.0a2.5,2.5 0 1,0 5.0,0a2.5,2.5 0 1,0 -5.0,0M482.5,803.0a2.5,2.5 0 1,0 5.0,0a2.5,2.5 0 1,0 -5.0,0M484.5,805.0a2.5,2.5 0 1,0 5.0,0a2.5,2.5 0 1,0 -5.0,0M486.5,808.0a2.5,2.5 0 1,0 5.0,0a2.5,2.5 0 1,0 -5.0,0M489.5,808.0a2.5,2.5 0 1,0 5.0,0a2.5,2.5 0 1,0 -5.0,0M489.5,815.0a2.5,2.5 0 1,0 5.0,0a2.5,2.5 0 1,0 -5.0,0M487.5,822.0a2.5,2.5 0 1,0 5.0,0a2.5,2.5 0 1,0 -5.0,0M487.5,829.0a2.5,2.5 0 1,0 5.0,0a2.5,2.5 0 1,0 -5.0,0M490.5,824.0a2.5,2.5 0 1,0 5.0,0a2.5,2.5 0 1,0 -5.0,0M493.5,823.0a2.5,2.5 0 1,0 5.0,0a2.5,2.5 0 1,0 -5.0,0M495.5,826.0a2.5,2.5 0 1,0 5.0,0a2.5,2.5 0 1,0 -5.0,0M495.5,830.0a2.5,2.5 0 1,0 5.0,0a2.5,2.5 0 1,0 -5.0,0M498.5,829.0a2.5,2.5 0 1,0 5.0,0a2.5,2.5 0 1,0 -5.0,0M497.5,833.0a2.5,2.5 0 1,0 5.0,0a2.5,2.5 0 1,0 -5.0,0M500.5,832.0a2.5,2.5 0 1,0 5.0,0a2.5,2.5 0 1,0 -5.0,0M502.5,836.0a2.5,2.5 0 1,0 5.0,0a2.5,2.5 0 1,0 -5.0,0M503.5,839.0a2.5,2.5 0 1,0 5.0,0a2.5,2.5 0 1,0 -5.0,0M505.5,827.0a2.5,2.5 0 1,0 5.0,0a2.5,2.5 0 1,0 -5.0,0M506.5,837.0a2.5,2.5 0 1,0 5.0,0a2.5,2.5 0 1,0 -5.0,0M507.5,840.0a2.5,2.5 0 1,0 5.0,0a2.5,2.5 0 1,0 -5.0,0M507.5,848.0a2.5,2.5 0 1,0 5.0,0a2.5,2.5 0 1,0 -5.0,0M509.5,842.0a2.5,2.5 0 1,0 5.0,0a2.5,2.5 0 1,0 -5.0,0M510.5,846.0a2.5,2.5 0 1,0 5.0,0a2.5,2.5 0 1,0 -5.0,0M511.5,851.0a2.5,2.5 0 1,0 5.0,0a2.5,2.5 0 1,0 -5.0,0M513.5,847.0a2.5,2.5 0 1,0 5.0,0a2.5,2.5 0 1,0 -5.0,0M515.5,844.0a2.5,2.5 0 1,0 5.0,0a2.5,2.5 0 1,0 -5.0,0M516.5,849.0a2.5,2.5 0 1,0 5.0,0a2.5,2.5 0 1,0 -5.0,0M516.5,854.0a2.5,2.5 0 1,0 5.0,0a2.5,2.5 0 1,0 -5.0,0M518.5,846.0a2.5,2.5 0 1,0 5.0,0a2.5,2.5 0 1,0 -5.0,0M520.5,844.0a2.5,2.5 0 1,0 5.0,0a2.5,2.5 0 1,0 -5.0,0M522.5,849.0a2.5,2.5 0 1,0 5.0,0a2.5,2.5 0 1,0 -5.0,0M511.5,856.0a2.5,2.5 0 1,0 5.0,0a2.5,2.5 0 1,0 -5.0,0M514.5,857.0a2.5,2.5 0 1,0 5.0,0a2.5,2.5 0 1,0 -5.0,0M498.3,826.7a2.5,2.5 0 1,0 5.0,0a2.5,2.5 0 1,0 -5.0,0M499.2,833.3a2.5,2.5 0 1,0 5.0,0a2.5,2.5 0 1,0 -5.0,0M505.8,827.5a2.5,2.5 0 1,0 5.0,0a2.5,2.5 0 1,0 -5.0,0M504.2,833.3a2.5,2.5 0 1,0 5.0,0a2.5,2.5 0 1,0 -5.0,0M503.3,839.2a2.5,2.5 0 1,0 5.0,0a2.5,2.5 0 1,0 -5.0,0M506.7,841.7a2.5,2.5 0 1,0 5.0,0a2.5,2.5 0 1,0 -5.0,0M509.2,840.0a2.5,2.5 0 1,0 5.0,0a2.5,2.5 0 1,0 -5.0,0M510.8,843.3a2.5,2.5 0 1,0 5.0,0a2.5,2.5 0 1,0 -5.0,0M507.5,846.7a2.5,2.5 0 1,0 5.0,0a2.5,2.5 0 1,0 -5.0,0M510.0,850.0a2.5,2.5 0 1,0 5.0,0a2.5,2.5 0 1,0 -5.0,0M513.3,849.2a2.5,2.5 0 1,0 5.0,0a2.5,2.5 0 1,0 -5.0,0M515.8,853.3a2.5,2.5 0 1,0 5.0,0a2.5,2.5 0 1,0 -5.0,0M509.2,855.8a2.5,2.5 0 1,0 5.0,0a2.5,2.5 0 1,0 -5.0,0M513.3,855.8a2.5,2.5 0 1,0 5.0,0a2.5,2.5 0 1,0 -5.0,0M517.5,845.8a2.5,2.5 0 1,0 5.0,0a2.5,2.5 0 1,0 -5.0,0M520.8,844.2a2.5,2.5 0 1,0 5.0,0a2.5,2.5 0 1,0 -5.0,0M522.5,850.8a2.5,2.5 0 1,0 5.0,0a2.5,2.5 0 1,0 -5.0,0M528.3,854.2a2.5,2.5 0 1,0 5.0,0a2.5,2.5 0 1,0 -5.0,0M530.0,850.8a2.5,2.5 0 1,0 5.0,0a2.5,2.5 0 1,0 -5.0,0M531.7,847.5a2.5,2.5 0 1,0 5.0,0a2.5,2.5 0 1,0 -5.0,0M533.3,843.3a2.5,2.5 0 1,0 5.0,0a2.5,2.5 0 1,0 -5.0,0M535.8,840.8a2.5,2.5 0 1,0 5.0,0a2.5,2.5 0 1,0 -5.0,0M538.3,841.7a2.5,2.5 0 1,0 5.0,0a2.5,2.5 0 1,0 -5.0,0M540.0,806.7a2.5,2.5 0 1,0 5.0,0a2.5,2.5 0 1,0 -5.0,0M542.5,819.2a2.5,2.5 0 1,0 5.0,0a2.5,2.5 0 1,0 -5.0,0M541.7,822.5a2.5,2.5 0 1,0 5.0,0a2.5,2.5 0 1,0 -5.0,0M544.2,826.7a2.5,2.5 0 1,0 5.0,0a2.5,2.5 0 1,0 -5.0,0M545.8,830.0a2.5,2.5 0 1,0 5.0,0a2.5,2.5 0 1,0 -5.0,0M548.3,832.5a2.5,2.5 0 1,0 5.0,0a2.5,2.5 0 1,0 -5.0,0M549.2,826.7a2.5,2.5 0 1,0 5.0,0a2.5,2.5 0 1,0 -5.0,0M550.8,835.8a2.5,2.5 0 1,0 5.0,0a2.5,2.5 0 1,0 -5.0,0M551.7,840.8a2.5,2.5 0 1,0 5.0,0a2.5,2.5 0 1,0 -5.0,0M553.3,831.7a2.5,2.5 0 1,0 5.0,0a2.5,2.5 0 1,0 -5.0,0M555.0,820.8a2.5,2.5 0 1,0 5.0,0a2.5,2.5 0 1,0 -5.0,0M555.0,825.8a2.5,2.5 0 1,0 5.0,0a2.5,2.5 0 1,0 -5.0,0M556.7,830.8a2.5,2.5 0 1,0 5.0,0a2.5,2.5 0 1,0 -5.0,0M557.5,834.2a2.5,2.5 0 1,0 5.0,0a2.5,2.5 0 1,0 -5.0,0M559.2,830.0a2.5,2.5 0 1,0 5.0,0a2.5,2.5 0 1,0 -5.0,0M560.8,824.2a2.5,2.5 0 1,0 5.0,0a2.5,2.5 0 1,0 -5.0,0M561.7,827.5a2.5,2.5 0 1,0 5.0,0a2.5,2.5 0 1,0 -5.0,0M563.3,830.8a2.5,2.5 0 1,0 5.0,0a2.5,2.5 0 1,0 -5.0,0M564.2,834.2a2.5,2.5 0 1,0 5.0,0a2.5,2.5 0 1,0 -5.0,0M565.8,837.5a2.5,2.5 0 1,0 5.0,0a2.5,2.5 0 1,0 -5.0,0M566.7,841.7a2.5,2.5 0 1,0 5.0,0a2.5,2.5 0 1,0 -5.0,0M568.3,845.0a2.5,2.5 0 1,0 5.0,0a2.5,2.5 0 1,0 -5.0,0M570.8,840.0a2.5,2.5 0 1,0 5.0,0a2.5,2.5 0 1,0 -5.0,0M583.3,809.2a2.5,2.5 0 1,0 5.0,0a2.5,2.5 0 1,0 -5.0,0M581.7,813.3a2.5,2.5 0 1,0 5.0,0a2.5,2.5 0 1,0 -5.0,0M584.2,815.0a2.5,2.5 0 1,0 5.0,0a2.5,2.5 0 1,0 -5.0,0M585.8,818.3a2.5,2.5 0 1,0 5.0,0a2.5,2.5 0 1,0 -5.0,0M587.5,820.8a2.5,2.5 0 1,0 5.0,0a2.5,2.5 0 1,0 -5.0,0M586.7,823.3a2.5,2.5 0 1,0 5.0,0a2.5,2.5 0 1,0 -5.0,0M587.5,828.3a2.5,2.5 0 1,0 5.0,0a2.5,2.5 0 1,0 -5.0,0M590.0,802.5a2.5,2.5 0 1,0 5.0,0a2.5,2.5 0 1,0 -5.0,0M591.7,808.3a2.5,2.5 0 1,0 5.0,0a2.5,2.5 0 1,0 -5.0,0M593.3,807.5a2.5,2.5 0 1,0 5.0,0a2.5,2.5 0 1,0 -5.0,0M591.7,811.7a2.5,2.5 0 1,0 5.0,0a2.5,2.5 0 1,0 -5.0,0M580.5,810.0a2.5,2.5 0 1,0 5.0,0a2.5,2.5 0 1,0 -5.0,0M583.5,812.0a2.5,2.5 0 1,0 5.0,0a2.5,2.5 0 1,0 -5.0,0M585.5,822.0a2.5,2.5 0 1,0 5.0,0a2.5,2.5 0 1,0 -5.0,0M587.5,826.0a2.5,2.5 0 1,0 5.0,0a2.5,2.5 0 1,0 -5.0,0M584.5,828.0a2.5,2.5 0 1,0 5.0,0a2.5,2.5 0 1,0 -5.0,0M588.5,829.0a2.5,2.5 0 1,0 5.0,0a2.5,2.5 0 1,0 -5.0,0M590.5,810.0a2.5,2.5 0 1,0 5.0,0a2.5,2.5 0 1,0 -5.0,0M593.5,814.0a2.5,2.5 0 1,0 5.0,0a2.5,2.5 0 1,0 -5.0,0M545.5,826.0a2.5,2.5 0 1,0 5.0,0a2.5,2.5 0 1,0 -5.0,0M549.5,830.0a2.5,2.5 0 1,0 5.0,0a2.5,2.5 0 1,0 -5.0,0M553.5,828.0a2.5,2.5 0 1,0 5.0,0a2.5,2.5 0 1,0 -5.0,0M557.5,836.0a2.5,2.5 0 1,0 5.0,0a2.5,2.5 0 1,0 -5.0,0M560.5,832.0a2.5,2.5 0 1,0 5.0,0a2.5,2.5 0 1,0 -5.0,0M563.5,838.0a2.5,2.5 0 1,0 5.0,0a2.5,2.5 0 1,0 -5.0,0M567.5,842.0a2.5,2.5 0 1,0 5.0,0a2.5,2.5 0 1,0 -5.0,0M528.5,852.0a2.5,2.5 0 1,0 5.0,0a2.5,2.5 0 1,0 -5.0,0M531.5,849.0a2.5,2.5 0 1,0 5.0,0a2.5,2.5 0 1,0 -5.0,0M534.5,845.0a2.5,2.5 0 1,0 5.0,0a2.5,2.5 0 1,0 -5.0,0M537.5,842.0a2.5,2.5 0 1,0 5.0,0a2.5,2.5 0 1,0 -5.0,0M530.5,853.0a2.5,2.5 0 1,0 5.0,0a2.5,2.5 0 1,0 -5.0,0M536.5,846.0a2.5,2.5 0 1,0 5.0,0a2.5,2.5 0 1,0 -5.0,0"/>
<g font-family="'Liberation Serif', serif" font-size="19" fill="#000" letter-spacing="0.55">
<text x="68.2" y="14.10" text-anchor="end">15</text>
<text x="68.2" y="61.70" text-anchor="end">10</text>
<text x="68.2" y="109.30" text-anchor="end">5</text>
<text x="68.2" y="156.90" text-anchor="end">0</text>
<text x="68.2" y="188.46" text-anchor="end">5</text>
<text x="68.2" y="227.90" text-anchor="end">0</text>
<text x="68.2" y="267.34" text-anchor="end">-5</text>
<text x="68.2" y="314.11" text-anchor="end">10</text>
<text x="68.2" y="364.83" text-anchor="end">0</text>
<text x="68.2" y="415.54" text-anchor="end">-10</text>
<text x="68.2" y="467.27" text-anchor="end">10</text>
<text x="68.2" y="520.01" text-anchor="end">0</text>
<text x="68.2" y="572.75" text-anchor="end">-10</text>
<text x="68.2" y="624.04" text-anchor="end">10</text>
<text x="68.2" y="674.97" text-anchor="end">5</text>
<text x="68.2" y="725.90" text-anchor="end">0</text>
<text x="68.2" y="749.62" text-anchor="end">400</text>
<text x="68.2" y="808.91" text-anchor="end">350</text>
<text x="68.2" y="868.20" text-anchor="end">300</text>
<text x="164.50" y="889.5" text-anchor="middle">221</text>
<text x="337.00" y="889.5" text-anchor="middle">222</text>
<text x="509.50" y="889.5" text-anchor="middle">223</text>
<text x="337" y="913" text-anchor="middle">doy of 1999</text>
<text transform="translate(22.75,78.2) rotate(-90)" text-anchor="middle">B<tspan font-size="12" dy="6.4">total</tspan><tspan dy="-6.4"> (nT)</tspan></text>
<text transform="translate(26,221.3) rotate(-90)" text-anchor="middle">B<tspan font-size="12" dy="6.4">x</tspan><tspan dy="-6.4"> (nT)</tspan></text>
<text transform="translate(16,363.5) rotate(-90)" text-anchor="middle">B<tspan font-size="12" dy="6.4">y</tspan><tspan dy="-6.4"> (nT)</tspan></text>
<text transform="translate(16,505.4) rotate(-90)" text-anchor="middle">B<tspan font-size="12" dy="6.4">z</tspan><tspan dy="-6.4"> (nT)</tspan></text>
<text transform="translate(29.8,645) rotate(-90)" text-anchor="middle">p (pPa)</text>
<text transform="translate(13.1,790.2) rotate(-90)" text-anchor="middle">v<tspan font-size="12" dy="6.4">SW</tspan><tspan dy="-6.4"> (km/s)</tspan></text>
</g>
</svg></body></html>
